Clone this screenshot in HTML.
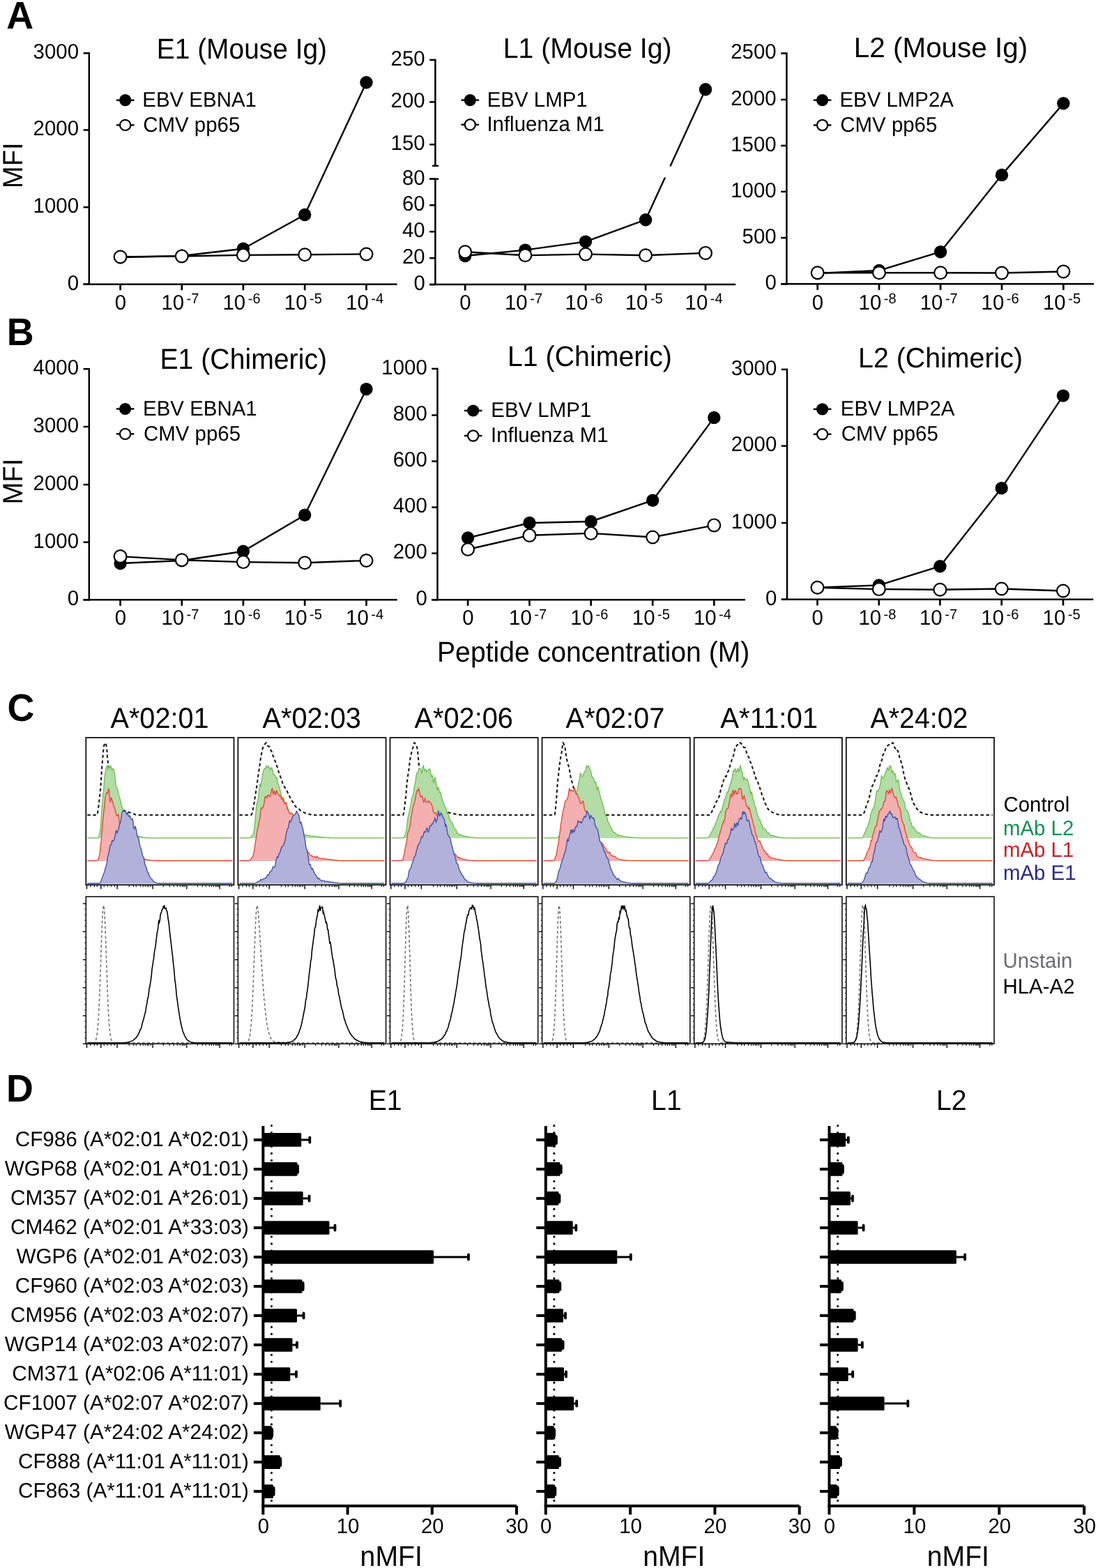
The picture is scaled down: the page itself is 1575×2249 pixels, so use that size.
<!DOCTYPE html>
<html><head><meta charset="utf-8"><title>Figure</title>
<style>html,body{margin:0;padding:0;background:#fff;}svg{display:block;}</style></head>
<body><svg width="1575" height="2249" viewBox="0 0 1575 2249" font-family="'Liberation Sans', Arial, Helvetica, sans-serif" fill="#000" text-rendering="geometricPrecision">
<rect width="1575" height="2249" fill="#fff"/>
<line x1="127.8" y1="75.1" x2="127.8" y2="409" stroke="#000" stroke-width="2.5"/>
<line x1="119.6" y1="76.3" x2="127.8" y2="76.3" stroke="#000" stroke-width="2.5"/>
<text transform="translate(47.6,84.1) scale(0.9750,1)" font-size="30.2">3000</text>
<line x1="119.6" y1="186.5" x2="127.8" y2="186.5" stroke="#000" stroke-width="2.5"/>
<text transform="translate(47.6,194.3) scale(0.9750,1)" font-size="30.2">2000</text>
<line x1="119.6" y1="297.2" x2="127.8" y2="297.2" stroke="#000" stroke-width="2.5"/>
<text transform="translate(47.6,305) scale(0.9750,1)" font-size="30.2">1000</text>
<line x1="119.6" y1="407.7" x2="127.8" y2="407.7" stroke="#000" stroke-width="2.5"/>
<text transform="translate(96.8,415.5) scale(0.9750,1)" font-size="30.2">0</text>
<line x1="119.6" y1="407.7" x2="569.5" y2="407.7" stroke="#000" stroke-width="2.5"/>
<line x1="172.6" y1="407.7" x2="172.6" y2="416.3" stroke="#000" stroke-width="2.7"/>
<text transform="translate(172.9,443.8) scale(0.9750,1)" font-size="30.2" text-anchor="middle">0</text>
<line x1="260.8" y1="407.7" x2="260.8" y2="416.3" stroke="#000" stroke-width="2.7"/>
<text transform="translate(231.4,443.8) scale(0.9750,1)" font-size="30.2">10</text>
<text transform="translate(267.6,435.1) scale(0.9750,1)" font-size="20.6">-7</text>
<line x1="348.9" y1="407.7" x2="348.9" y2="416.3" stroke="#000" stroke-width="2.7"/>
<text transform="translate(319.5,443.8) scale(0.9750,1)" font-size="30.2">10</text>
<text transform="translate(355.7,435.1) scale(0.9750,1)" font-size="20.6">-6</text>
<line x1="437.2" y1="407.7" x2="437.2" y2="416.3" stroke="#000" stroke-width="2.7"/>
<text transform="translate(407.8,443.8) scale(0.9750,1)" font-size="30.2">10</text>
<text transform="translate(444,435.1) scale(0.9750,1)" font-size="20.6">-5</text>
<line x1="525.5" y1="407.7" x2="525.5" y2="416.3" stroke="#000" stroke-width="2.7"/>
<text transform="translate(496.1,443.8) scale(0.9750,1)" font-size="30.2">10</text>
<text transform="translate(532.3,435.1) scale(0.9750,1)" font-size="20.6">-4</text>
<text transform="translate(224.8,83.5) scale(0.9484,1)" font-size="41">E1 (Mouse Ig)</text>
<line x1="166.9" y1="143.7" x2="192.5" y2="143.7" stroke="#000" stroke-width="2.4"/>
<circle cx="179.7" cy="143.7" r="8.6" fill="#000"/>
<line x1="166.9" y1="179.4" x2="192.5" y2="179.4" stroke="#000" stroke-width="2.4"/>
<circle cx="179.7" cy="179.4" r="7.6" fill="#fff" stroke="#000" stroke-width="2.2"/>
<text transform="translate(204.3,153.1) scale(0.9750,1)" font-size="30.2">EBV EBNA1</text>
<text transform="translate(205.2,188.8) scale(0.9750,1)" font-size="30.2">CMV pp65</text>
<polyline points="172.6,369 260.8,367 348.9,356.8 437.2,308 525.5,118.3" fill="none" stroke="#000" stroke-width="2.4" stroke-linejoin="round"/>
<polyline points="172.6,368.5 260.8,367.5 348.9,365.9 437.2,365.3 525.5,364.5" fill="none" stroke="#000" stroke-width="2.4" stroke-linejoin="round"/>
<circle cx="172.6" cy="369" r="9.2" fill="#000"/>
<circle cx="260.8" cy="367" r="9.2" fill="#000"/>
<circle cx="348.9" cy="356.8" r="9.2" fill="#000"/>
<circle cx="437.2" cy="308" r="9.2" fill="#000"/>
<circle cx="525.5" cy="118.3" r="9.2" fill="#000"/>
<circle cx="172.6" cy="368.5" r="8.9" fill="#fff" stroke="#000" stroke-width="2.2"/>
<circle cx="260.8" cy="367.5" r="8.9" fill="#fff" stroke="#000" stroke-width="2.2"/>
<circle cx="348.9" cy="365.9" r="8.9" fill="#fff" stroke="#000" stroke-width="2.2"/>
<circle cx="437.2" cy="365.3" r="8.9" fill="#fff" stroke="#000" stroke-width="2.2"/>
<circle cx="525.5" cy="364.5" r="8.9" fill="#fff" stroke="#000" stroke-width="2.2"/>
<line x1="624.4" y1="84.8" x2="624.4" y2="237.8" stroke="#000" stroke-width="2.5"/>
<line x1="624.4" y1="256.7" x2="624.4" y2="409" stroke="#000" stroke-width="2.5"/>
<line x1="616.2" y1="85.9" x2="624.4" y2="85.9" stroke="#000" stroke-width="2.5"/>
<text transform="translate(560.6,93.7) scale(0.9750,1)" font-size="30.2">250</text>
<line x1="616.2" y1="146.3" x2="624.4" y2="146.3" stroke="#000" stroke-width="2.5"/>
<text transform="translate(560.6,154.1) scale(0.9750,1)" font-size="30.2">200</text>
<line x1="616.2" y1="207.3" x2="624.4" y2="207.3" stroke="#000" stroke-width="2.5"/>
<text transform="translate(560.6,215.1) scale(0.9750,1)" font-size="30.2">150</text>
<line x1="616.2" y1="256.7" x2="624.4" y2="256.7" stroke="#000" stroke-width="2.5"/>
<text transform="translate(577,264.5) scale(0.9750,1)" font-size="30.2">80</text>
<line x1="616.2" y1="294.3" x2="624.4" y2="294.3" stroke="#000" stroke-width="2.5"/>
<text transform="translate(577,302.1) scale(0.9750,1)" font-size="30.2">60</text>
<line x1="616.2" y1="332.3" x2="624.4" y2="332.3" stroke="#000" stroke-width="2.5"/>
<text transform="translate(577,340.1) scale(0.9750,1)" font-size="30.2">40</text>
<line x1="616.2" y1="370.2" x2="624.4" y2="370.2" stroke="#000" stroke-width="2.5"/>
<text transform="translate(577,378) scale(0.9750,1)" font-size="30.2">20</text>
<line x1="616.2" y1="408.1" x2="624.4" y2="408.1" stroke="#000" stroke-width="2.5"/>
<text transform="translate(593.4,415.9) scale(0.9750,1)" font-size="30.2">0</text>
<line x1="620.1" y1="237.8" x2="629.1" y2="237.8" stroke="#000" stroke-width="2.5"/>
<line x1="616.2" y1="256.7" x2="629.1" y2="256.7" stroke="#000" stroke-width="2.5"/>
<line x1="616.2" y1="408.1" x2="1055.2" y2="408.1" stroke="#000" stroke-width="2.5"/>
<line x1="667.2" y1="408.1" x2="667.2" y2="416.7" stroke="#000" stroke-width="2.7"/>
<text transform="translate(667.5,443.8) scale(0.9750,1)" font-size="30.2" text-anchor="middle">0</text>
<line x1="753.4" y1="408.1" x2="753.4" y2="416.7" stroke="#000" stroke-width="2.7"/>
<text transform="translate(724,443.8) scale(0.9750,1)" font-size="30.2">10</text>
<text transform="translate(760.2,435.1) scale(0.9750,1)" font-size="20.6">-7</text>
<line x1="840" y1="408.1" x2="840" y2="416.7" stroke="#000" stroke-width="2.7"/>
<text transform="translate(810.6,443.8) scale(0.9750,1)" font-size="30.2">10</text>
<text transform="translate(846.8,435.1) scale(0.9750,1)" font-size="20.6">-6</text>
<line x1="926.1" y1="408.1" x2="926.1" y2="416.7" stroke="#000" stroke-width="2.7"/>
<text transform="translate(896.7,443.8) scale(0.9750,1)" font-size="30.2">10</text>
<text transform="translate(932.9,435.1) scale(0.9750,1)" font-size="20.6">-5</text>
<line x1="1012" y1="408.1" x2="1012" y2="416.7" stroke="#000" stroke-width="2.7"/>
<text transform="translate(982.6,443.8) scale(0.9750,1)" font-size="30.2">10</text>
<text transform="translate(1018.8,435.1) scale(0.9750,1)" font-size="20.6">-4</text>
<text transform="translate(721.7,83.2) scale(0.9636,1)" font-size="40.7">L1 (Mouse Ig)</text>
<line x1="661.5" y1="143.6" x2="687.1" y2="143.6" stroke="#000" stroke-width="2.4"/>
<circle cx="674.3" cy="143.6" r="8.6" fill="#000"/>
<line x1="661.5" y1="178.8" x2="687.1" y2="178.8" stroke="#000" stroke-width="2.4"/>
<circle cx="674.3" cy="178.8" r="7.6" fill="#fff" stroke="#000" stroke-width="2.2"/>
<text transform="translate(698.7,153) scale(0.9750,1)" font-size="30.2">EBV LMP1</text>
<text transform="translate(698.4,188.2) scale(0.9750,1)" font-size="30.2">Influenza M1</text>
<polyline points="667.2,367 753.4,358.6 840,346.6 926.1,315.2 954,254.5" fill="none" stroke="#000" stroke-width="2.4" stroke-linejoin="round"/>
<polyline points="961.4,238.5 1012,128.3" fill="none" stroke="#000" stroke-width="2.4" stroke-linejoin="round"/>
<polyline points="667.2,361.2 753.4,366.3 840,364.6 926.1,366.3 1012,362.9" fill="none" stroke="#000" stroke-width="2.4" stroke-linejoin="round"/>
<circle cx="667.2" cy="367" r="9.2" fill="#000"/>
<circle cx="753.4" cy="358.6" r="9.2" fill="#000"/>
<circle cx="840" cy="346.6" r="9.2" fill="#000"/>
<circle cx="926.1" cy="315.2" r="9.2" fill="#000"/>
<circle cx="1012" cy="128.3" r="9.2" fill="#000"/>
<circle cx="667.2" cy="361.2" r="8.9" fill="#fff" stroke="#000" stroke-width="2.2"/>
<circle cx="753.4" cy="366.3" r="8.9" fill="#fff" stroke="#000" stroke-width="2.2"/>
<circle cx="840" cy="364.6" r="8.9" fill="#fff" stroke="#000" stroke-width="2.2"/>
<circle cx="926.1" cy="366.3" r="8.9" fill="#fff" stroke="#000" stroke-width="2.2"/>
<circle cx="1012" cy="362.9" r="8.9" fill="#fff" stroke="#000" stroke-width="2.2"/>
<line x1="1128.4" y1="75.3" x2="1128.4" y2="408.4" stroke="#000" stroke-width="2.5"/>
<line x1="1120.2" y1="76.5" x2="1128.4" y2="76.5" stroke="#000" stroke-width="2.5"/>
<text transform="translate(1048.2,84.3) scale(0.9750,1)" font-size="30.2">2500</text>
<line x1="1120.2" y1="142.9" x2="1128.4" y2="142.9" stroke="#000" stroke-width="2.5"/>
<text transform="translate(1048.2,150.7) scale(0.9750,1)" font-size="30.2">2000</text>
<line x1="1120.2" y1="208.9" x2="1128.4" y2="208.9" stroke="#000" stroke-width="2.5"/>
<text transform="translate(1048.2,216.7) scale(0.9750,1)" font-size="30.2">1500</text>
<line x1="1120.2" y1="274.9" x2="1128.4" y2="274.9" stroke="#000" stroke-width="2.5"/>
<text transform="translate(1048.2,282.7) scale(0.9750,1)" font-size="30.2">1000</text>
<line x1="1120.2" y1="341.1" x2="1128.4" y2="341.1" stroke="#000" stroke-width="2.5"/>
<text transform="translate(1064.6,348.9) scale(0.9750,1)" font-size="30.2">500</text>
<line x1="1120.2" y1="407.3" x2="1128.4" y2="407.3" stroke="#000" stroke-width="2.5"/>
<text transform="translate(1097.4,415.1) scale(0.9750,1)" font-size="30.2">0</text>
<line x1="1120.2" y1="407.3" x2="1569" y2="407.3" stroke="#000" stroke-width="2.5"/>
<line x1="1172.7" y1="407.3" x2="1172.7" y2="415.9" stroke="#000" stroke-width="2.7"/>
<text transform="translate(1173,443.8) scale(0.9750,1)" font-size="30.2" text-anchor="middle">0</text>
<line x1="1261" y1="407.3" x2="1261" y2="415.9" stroke="#000" stroke-width="2.7"/>
<text transform="translate(1231.6,443.8) scale(0.9750,1)" font-size="30.2">10</text>
<text transform="translate(1267.8,435.1) scale(0.9750,1)" font-size="20.6">-8</text>
<line x1="1349.1" y1="407.3" x2="1349.1" y2="415.9" stroke="#000" stroke-width="2.7"/>
<text transform="translate(1319.7,443.8) scale(0.9750,1)" font-size="30.2">10</text>
<text transform="translate(1355.9,435.1) scale(0.9750,1)" font-size="20.6">-7</text>
<line x1="1437" y1="407.3" x2="1437" y2="415.9" stroke="#000" stroke-width="2.7"/>
<text transform="translate(1407.6,443.8) scale(0.9750,1)" font-size="30.2">10</text>
<text transform="translate(1443.8,435.1) scale(0.9750,1)" font-size="20.6">-6</text>
<line x1="1525.4" y1="407.3" x2="1525.4" y2="415.9" stroke="#000" stroke-width="2.7"/>
<text transform="translate(1496,443.8) scale(0.9750,1)" font-size="30.2">10</text>
<text transform="translate(1532.2,435.1) scale(0.9750,1)" font-size="20.6">-5</text>
<text transform="translate(1224.8,81.9) scale(1.0008,1)" font-size="40.4">L2 (Mouse Ig)</text>
<line x1="1166.8" y1="143.6" x2="1192.4" y2="143.6" stroke="#000" stroke-width="2.4"/>
<circle cx="1179.6" cy="143.6" r="8.6" fill="#000"/>
<line x1="1166.8" y1="179.5" x2="1192.4" y2="179.5" stroke="#000" stroke-width="2.4"/>
<circle cx="1179.6" cy="179.5" r="7.6" fill="#fff" stroke="#000" stroke-width="2.2"/>
<text transform="translate(1204.4,153) scale(0.9750,1)" font-size="30.2">EBV LMP2A</text>
<text transform="translate(1205.3,188.9) scale(0.9750,1)" font-size="30.2">CMV pp65</text>
<polyline points="1172.7,392 1261,388 1349.1,361.2 1437,250.9 1525.4,148.3" fill="none" stroke="#000" stroke-width="2.4" stroke-linejoin="round"/>
<polyline points="1172.7,391.2 1261,391.2 1349.1,391.2 1437,391.5 1525.4,389.5" fill="none" stroke="#000" stroke-width="2.4" stroke-linejoin="round"/>
<circle cx="1172.7" cy="392" r="9.2" fill="#000"/>
<circle cx="1261" cy="388" r="9.2" fill="#000"/>
<circle cx="1349.1" cy="361.2" r="9.2" fill="#000"/>
<circle cx="1437" cy="250.9" r="9.2" fill="#000"/>
<circle cx="1525.4" cy="148.3" r="9.2" fill="#000"/>
<circle cx="1172.7" cy="391.2" r="8.9" fill="#fff" stroke="#000" stroke-width="2.2"/>
<circle cx="1261" cy="391.2" r="8.9" fill="#fff" stroke="#000" stroke-width="2.2"/>
<circle cx="1349.1" cy="391.2" r="8.9" fill="#fff" stroke="#000" stroke-width="2.2"/>
<circle cx="1437" cy="391.5" r="8.9" fill="#fff" stroke="#000" stroke-width="2.2"/>
<circle cx="1525.4" cy="389.5" r="8.9" fill="#fff" stroke="#000" stroke-width="2.2"/>
<line x1="127.8" y1="528" x2="127.8" y2="861.4" stroke="#000" stroke-width="2.5"/>
<line x1="119.6" y1="529.2" x2="127.8" y2="529.2" stroke="#000" stroke-width="2.5"/>
<text transform="translate(47.6,537) scale(0.9750,1)" font-size="30.2">4000</text>
<line x1="119.6" y1="612" x2="127.8" y2="612" stroke="#000" stroke-width="2.5"/>
<text transform="translate(47.6,619.8) scale(0.9750,1)" font-size="30.2">3000</text>
<line x1="119.6" y1="695.1" x2="127.8" y2="695.1" stroke="#000" stroke-width="2.5"/>
<text transform="translate(47.6,702.9) scale(0.9750,1)" font-size="30.2">2000</text>
<line x1="119.6" y1="777.7" x2="127.8" y2="777.7" stroke="#000" stroke-width="2.5"/>
<text transform="translate(47.6,785.5) scale(0.9750,1)" font-size="30.2">1000</text>
<line x1="119.6" y1="860.3" x2="127.8" y2="860.3" stroke="#000" stroke-width="2.5"/>
<text transform="translate(96.8,868.1) scale(0.9750,1)" font-size="30.2">0</text>
<line x1="119.6" y1="860.3" x2="569.7" y2="860.3" stroke="#000" stroke-width="2.5"/>
<line x1="172.6" y1="860.3" x2="172.6" y2="868.9" stroke="#000" stroke-width="2.7"/>
<text transform="translate(172.9,896.2) scale(0.9750,1)" font-size="30.2" text-anchor="middle">0</text>
<line x1="260.8" y1="860.3" x2="260.8" y2="868.9" stroke="#000" stroke-width="2.7"/>
<text transform="translate(231.4,896.2) scale(0.9750,1)" font-size="30.2">10</text>
<text transform="translate(267.6,887.5) scale(0.9750,1)" font-size="20.6">-7</text>
<line x1="348.9" y1="860.3" x2="348.9" y2="868.9" stroke="#000" stroke-width="2.7"/>
<text transform="translate(319.5,896.2) scale(0.9750,1)" font-size="30.2">10</text>
<text transform="translate(355.7,887.5) scale(0.9750,1)" font-size="20.6">-6</text>
<line x1="437.2" y1="860.3" x2="437.2" y2="868.9" stroke="#000" stroke-width="2.7"/>
<text transform="translate(407.8,896.2) scale(0.9750,1)" font-size="30.2">10</text>
<text transform="translate(444,887.5) scale(0.9750,1)" font-size="20.6">-5</text>
<line x1="525.5" y1="860.3" x2="525.5" y2="868.9" stroke="#000" stroke-width="2.7"/>
<text transform="translate(496.1,896.2) scale(0.9750,1)" font-size="30.2">10</text>
<text transform="translate(532.3,887.5) scale(0.9750,1)" font-size="20.6">-4</text>
<text transform="translate(229.4,528.5) scale(0.9495,1)" font-size="41.3">E1 (Chimeric)</text>
<line x1="166.8" y1="586.5" x2="192.4" y2="586.5" stroke="#000" stroke-width="2.4"/>
<circle cx="179.6" cy="586.5" r="8.6" fill="#000"/>
<line x1="166.8" y1="622.4" x2="192.4" y2="622.4" stroke="#000" stroke-width="2.4"/>
<circle cx="179.6" cy="622.4" r="7.6" fill="#fff" stroke="#000" stroke-width="2.2"/>
<text transform="translate(205.1,595.9) scale(0.9750,1)" font-size="30.2">EBV EBNA1</text>
<text transform="translate(206,631.8) scale(0.9750,1)" font-size="30.2">CMV pp65</text>
<polyline points="172.6,808 260.8,804 348.9,790.7 437.2,738.7 525.5,558.1" fill="none" stroke="#000" stroke-width="2.4" stroke-linejoin="round"/>
<polyline points="172.6,798.1 260.8,803.2 348.9,806.1 437.2,807.2 525.5,804" fill="none" stroke="#000" stroke-width="2.4" stroke-linejoin="round"/>
<circle cx="172.6" cy="808" r="9.2" fill="#000"/>
<circle cx="260.8" cy="804" r="9.2" fill="#000"/>
<circle cx="348.9" cy="790.7" r="9.2" fill="#000"/>
<circle cx="437.2" cy="738.7" r="9.2" fill="#000"/>
<circle cx="525.5" cy="558.1" r="9.2" fill="#000"/>
<circle cx="172.6" cy="798.1" r="8.9" fill="#fff" stroke="#000" stroke-width="2.2"/>
<circle cx="260.8" cy="803.2" r="8.9" fill="#fff" stroke="#000" stroke-width="2.2"/>
<circle cx="348.9" cy="806.1" r="8.9" fill="#fff" stroke="#000" stroke-width="2.2"/>
<circle cx="437.2" cy="807.2" r="8.9" fill="#fff" stroke="#000" stroke-width="2.2"/>
<circle cx="525.5" cy="804" r="8.9" fill="#fff" stroke="#000" stroke-width="2.2"/>
<line x1="627.5" y1="527.7" x2="627.5" y2="861.3" stroke="#000" stroke-width="2.5"/>
<line x1="619.3" y1="528.9" x2="627.5" y2="528.9" stroke="#000" stroke-width="2.5"/>
<text transform="translate(547.3,536.7) scale(0.9750,1)" font-size="30.2">1000</text>
<line x1="619.3" y1="595.5" x2="627.5" y2="595.5" stroke="#000" stroke-width="2.5"/>
<text transform="translate(563.7,603.3) scale(0.9750,1)" font-size="30.2">800</text>
<line x1="619.3" y1="661.6" x2="627.5" y2="661.6" stroke="#000" stroke-width="2.5"/>
<text transform="translate(563.7,669.4) scale(0.9750,1)" font-size="30.2">600</text>
<line x1="619.3" y1="727.6" x2="627.5" y2="727.6" stroke="#000" stroke-width="2.5"/>
<text transform="translate(563.7,735.4) scale(0.9750,1)" font-size="30.2">400</text>
<line x1="619.3" y1="793.6" x2="627.5" y2="793.6" stroke="#000" stroke-width="2.5"/>
<text transform="translate(563.7,801.4) scale(0.9750,1)" font-size="30.2">200</text>
<line x1="619.3" y1="860.3" x2="627.5" y2="860.3" stroke="#000" stroke-width="2.5"/>
<text transform="translate(596.5,868.1) scale(0.9750,1)" font-size="30.2">0</text>
<line x1="619.3" y1="860.3" x2="1068.9" y2="860.3" stroke="#000" stroke-width="2.5"/>
<line x1="671.1" y1="860.3" x2="671.1" y2="868.9" stroke="#000" stroke-width="2.7"/>
<text transform="translate(671.4,896.2) scale(0.9750,1)" font-size="30.2" text-anchor="middle">0</text>
<line x1="759.5" y1="860.3" x2="759.5" y2="868.9" stroke="#000" stroke-width="2.7"/>
<text transform="translate(730.1,896.2) scale(0.9750,1)" font-size="30.2">10</text>
<text transform="translate(766.3,887.5) scale(0.9750,1)" font-size="20.6">-7</text>
<line x1="847.7" y1="860.3" x2="847.7" y2="868.9" stroke="#000" stroke-width="2.7"/>
<text transform="translate(818.3,896.2) scale(0.9750,1)" font-size="30.2">10</text>
<text transform="translate(854.5,887.5) scale(0.9750,1)" font-size="20.6">-6</text>
<line x1="936.2" y1="860.3" x2="936.2" y2="868.9" stroke="#000" stroke-width="2.7"/>
<text transform="translate(906.8,896.2) scale(0.9750,1)" font-size="30.2">10</text>
<text transform="translate(943,887.5) scale(0.9750,1)" font-size="20.6">-5</text>
<line x1="1024.3" y1="860.3" x2="1024.3" y2="868.9" stroke="#000" stroke-width="2.7"/>
<text transform="translate(994.9,896.2) scale(0.9750,1)" font-size="30.2">10</text>
<text transform="translate(1031.1,887.5) scale(0.9750,1)" font-size="20.6">-4</text>
<text transform="translate(727.9,524.7) scale(0.9592,1)" font-size="41">L1 (Chimeric)</text>
<line x1="665.9" y1="589" x2="691.5" y2="589" stroke="#000" stroke-width="2.4"/>
<circle cx="678.7" cy="589" r="8.6" fill="#000"/>
<line x1="665.9" y1="625" x2="691.5" y2="625" stroke="#000" stroke-width="2.4"/>
<circle cx="678.7" cy="625" r="7.6" fill="#fff" stroke="#000" stroke-width="2.2"/>
<text transform="translate(704.3,598.4) scale(0.9750,1)" font-size="30.2">EBV LMP1</text>
<text transform="translate(704,634.4) scale(0.9750,1)" font-size="30.2">Influenza M1</text>
<polyline points="671.1,771.5 759.5,750 847.7,748 936.2,717.7 1024.3,598.9" fill="none" stroke="#000" stroke-width="2.4" stroke-linejoin="round"/>
<polyline points="671.1,788 759.5,767.9 847.7,764.9 936.2,770.5 1024.3,753.4" fill="none" stroke="#000" stroke-width="2.4" stroke-linejoin="round"/>
<circle cx="671.1" cy="771.5" r="9.2" fill="#000"/>
<circle cx="759.5" cy="750" r="9.2" fill="#000"/>
<circle cx="847.7" cy="748" r="9.2" fill="#000"/>
<circle cx="936.2" cy="717.7" r="9.2" fill="#000"/>
<circle cx="1024.3" cy="598.9" r="9.2" fill="#000"/>
<circle cx="671.1" cy="788" r="8.9" fill="#fff" stroke="#000" stroke-width="2.2"/>
<circle cx="759.5" cy="767.9" r="8.9" fill="#fff" stroke="#000" stroke-width="2.2"/>
<circle cx="847.7" cy="764.9" r="8.9" fill="#fff" stroke="#000" stroke-width="2.2"/>
<circle cx="936.2" cy="770.5" r="8.9" fill="#fff" stroke="#000" stroke-width="2.2"/>
<circle cx="1024.3" cy="753.4" r="8.9" fill="#fff" stroke="#000" stroke-width="2.2"/>
<line x1="1129" y1="528.7" x2="1129" y2="860.8" stroke="#000" stroke-width="2.5"/>
<line x1="1120.8" y1="529.9" x2="1129" y2="529.9" stroke="#000" stroke-width="2.5"/>
<text transform="translate(1048.8,537.7) scale(0.9750,1)" font-size="30.2">3000</text>
<line x1="1120.8" y1="639.6" x2="1129" y2="639.6" stroke="#000" stroke-width="2.5"/>
<text transform="translate(1048.8,647.4) scale(0.9750,1)" font-size="30.2">2000</text>
<line x1="1120.8" y1="750" x2="1129" y2="750" stroke="#000" stroke-width="2.5"/>
<text transform="translate(1048.8,757.8) scale(0.9750,1)" font-size="30.2">1000</text>
<line x1="1120.8" y1="859.8" x2="1129" y2="859.8" stroke="#000" stroke-width="2.5"/>
<text transform="translate(1098,867.6) scale(0.9750,1)" font-size="30.2">0</text>
<line x1="1120.8" y1="859.8" x2="1568.2" y2="859.8" stroke="#000" stroke-width="2.5"/>
<line x1="1172.5" y1="859.8" x2="1172.5" y2="868.4" stroke="#000" stroke-width="2.7"/>
<text transform="translate(1172.8,896.2) scale(0.9750,1)" font-size="30.2" text-anchor="middle">0</text>
<line x1="1260.8" y1="859.8" x2="1260.8" y2="868.4" stroke="#000" stroke-width="2.7"/>
<text transform="translate(1231.4,896.2) scale(0.9750,1)" font-size="30.2">10</text>
<text transform="translate(1267.6,887.5) scale(0.9750,1)" font-size="20.6">-8</text>
<line x1="1348.4" y1="859.8" x2="1348.4" y2="868.4" stroke="#000" stroke-width="2.7"/>
<text transform="translate(1319,896.2) scale(0.9750,1)" font-size="30.2">10</text>
<text transform="translate(1355.2,887.5) scale(0.9750,1)" font-size="20.6">-7</text>
<line x1="1436.7" y1="859.8" x2="1436.7" y2="868.4" stroke="#000" stroke-width="2.7"/>
<text transform="translate(1407.3,896.2) scale(0.9750,1)" font-size="30.2">10</text>
<text transform="translate(1443.5,887.5) scale(0.9750,1)" font-size="20.6">-6</text>
<line x1="1525" y1="859.8" x2="1525" y2="868.4" stroke="#000" stroke-width="2.7"/>
<text transform="translate(1495.6,896.2) scale(0.9750,1)" font-size="30.2">10</text>
<text transform="translate(1531.8,887.5) scale(0.9750,1)" font-size="20.6">-5</text>
<text transform="translate(1231.1,526.8) scale(0.9754,1)" font-size="40.3">L2 (Chimeric)</text>
<line x1="1166.8" y1="586.8" x2="1192.4" y2="586.8" stroke="#000" stroke-width="2.4"/>
<circle cx="1179.6" cy="586.8" r="8.6" fill="#000"/>
<line x1="1166.8" y1="622.8" x2="1192.4" y2="622.8" stroke="#000" stroke-width="2.4"/>
<circle cx="1179.6" cy="622.8" r="7.6" fill="#fff" stroke="#000" stroke-width="2.2"/>
<text transform="translate(1205.8,596.2) scale(0.9750,1)" font-size="30.2">EBV LMP2A</text>
<text transform="translate(1206.7,632.2) scale(0.9750,1)" font-size="30.2">CMV pp65</text>
<polyline points="1172.5,842.8 1260.8,839.4 1348.4,812.2 1436.7,700.1 1525,567.6" fill="none" stroke="#000" stroke-width="2.4" stroke-linejoin="round"/>
<polyline points="1172.5,842.8 1260.8,845.1 1348.4,845.8 1436.7,844.5 1525,847.5" fill="none" stroke="#000" stroke-width="2.4" stroke-linejoin="round"/>
<circle cx="1172.5" cy="842.8" r="9.2" fill="#000"/>
<circle cx="1260.8" cy="839.4" r="9.2" fill="#000"/>
<circle cx="1348.4" cy="812.2" r="9.2" fill="#000"/>
<circle cx="1436.7" cy="700.1" r="9.2" fill="#000"/>
<circle cx="1525" cy="567.6" r="9.2" fill="#000"/>
<circle cx="1172.5" cy="842.8" r="8.9" fill="#fff" stroke="#000" stroke-width="2.2"/>
<circle cx="1260.8" cy="845.1" r="8.9" fill="#fff" stroke="#000" stroke-width="2.2"/>
<circle cx="1348.4" cy="845.8" r="8.9" fill="#fff" stroke="#000" stroke-width="2.2"/>
<circle cx="1436.7" cy="844.5" r="8.9" fill="#fff" stroke="#000" stroke-width="2.2"/>
<circle cx="1525" cy="847.5" r="8.9" fill="#fff" stroke="#000" stroke-width="2.2"/>
<text transform="translate(9.3,41.1) scale(0.9750,1)" font-size="55.2" font-weight="bold">A</text>
<text transform="translate(9.8,495.4) scale(0.9750,1)" font-size="55.2" font-weight="bold">B</text>
<text transform="translate(10.4,1034.4) scale(0.9750,1)" font-size="55.2" font-weight="bold">C</text>
<text transform="translate(9.1,1580.4) scale(0.9750,1)" font-size="55.2" font-weight="bold">D</text>
<text transform="translate(31.5,237.3) rotate(-90) scale(0.9550,1)" font-size="40" text-anchor="middle">MFI</text>
<text transform="translate(31.5,690.6) rotate(-90) scale(0.9550,1)" font-size="40" text-anchor="middle">MFI</text>
<text transform="translate(627,948.6) scale(0.9550,1)" font-size="41">Peptide concentration (M)</text>
<path d="M125.3,1169 L126.1,1169 L126.9,1169 L127.7,1169 L128.5,1169 L129.3,1169 L130.1,1169 L130.9,1169 L131.7,1169 L132.5,1169 L133.3,1169 L134.1,1169 L134.9,1169 L135.7,1169 L136.5,1169 L137.3,1169 L138.1,1169 L138.9,1169 L139.7,1167.5 L140.5,1163 L141.3,1157 L142.1,1150.6 L142.9,1143.8 L143.7,1136.3 L144.5,1127.1 L145.3,1115.3 L146.1,1102.4 L146.9,1092.5 L147.7,1082.7 L148.5,1073 L149.3,1068.9 L150.1,1067.1 L150.9,1065.3 L151.7,1066.6 L152.5,1069.6 L153.3,1075.5 L154.1,1087.3 L154.9,1093.8 L155.7,1099.9 L156.5,1107.6 L157.3,1114 L158.1,1120.7 L158.9,1128 L159.7,1134.4 L160.5,1139.4 L161.3,1143 L162.1,1145.8 L162.9,1148.9 L163.7,1151.7 L164.5,1153.8 L165.3,1155.7 L166.1,1157 L166.9,1157.5 L167.7,1158.2 L168.5,1159.2 L169.3,1159.9 L170.1,1160.6 L170.9,1161.2 L171.7,1161 L172.5,1161.2 L173.3,1161.8 L174.1,1162 L174.9,1162 L175.7,1162.2 L176.5,1162.7 L177.3,1162.8 L178.1,1162.3 L178.9,1162.6 L179.7,1163.4 L180.5,1163.6 L181.3,1163.6 L182.1,1163.7 L182.9,1164 L183.7,1164.5 L184.5,1164.9 L185.3,1165 L186.1,1165.4 L186.9,1165.7 L187.7,1166 L188.5,1166.3 L189.3,1166.6 L190.1,1166.8 L190.9,1167.1 L191.7,1167.4 L192.5,1167.8 L193.3,1168.1 L194.1,1168.4 L194.9,1168.7 L195.7,1168.9 L196.5,1169 L197.3,1169 L198.1,1169 L198.9,1169 L199.7,1169 L200.5,1169 L201.3,1169 L202.1,1169 L202.9,1169 L203.7,1169 L204.5,1169 L205.3,1169 L206.1,1169 L206.9,1169 L207.7,1169 L208.5,1169 L209.3,1169 L210.1,1169 L210.9,1169 L211.7,1169 L212.5,1169 L213.3,1169 L214.1,1169 L214.9,1169 L215.7,1169 L216.5,1169 L217.3,1169 L218.1,1169 L218.9,1169 L219.7,1169 L220.5,1169 L221.3,1169 L222.1,1169 L222.9,1169 L223.7,1169 L224.5,1169 L225.3,1169 L226.1,1169 L226.9,1169 L227.7,1169 L228.5,1169 L229.3,1169 L230.1,1169 L230.9,1169 L231.7,1169 L232.5,1169 L233.3,1169 L234.1,1169 L234.9,1169 L235.7,1169 L236.5,1169 L237.3,1169 L238.1,1169 L238.9,1169 L239.7,1169 L240.5,1169 L241.3,1169 L242.1,1169 L242.9,1169 L243.7,1169 L244.5,1169 L245.3,1169 L246.1,1169 L246.9,1169 L247.7,1169 L248.5,1169 L249.3,1169 L250.1,1169 L250.9,1169 L251.7,1169 L252.5,1169 L253.3,1169 L254.1,1169 L254.9,1169 L255.7,1169 L256.5,1169 L257.3,1169 L258.1,1169 L258.9,1169 L259.7,1169 L260.5,1169 L261.3,1169 L262.1,1169 L262.9,1169 L263.7,1169 L264.5,1169 L265.3,1169 L266.1,1169 L266.9,1169 L267.7,1169 L268.5,1169 L269.3,1169 L270.1,1169 L270.9,1169 L271.7,1169 L272.5,1169 L273.3,1169 L274.1,1169 L274.9,1169 L275.7,1169 L276.5,1169 L277.3,1169 L278.1,1169 L278.9,1169 L279.7,1169 L280.5,1169 L281.3,1169 L282.1,1169 L282.9,1169 L283.7,1169 L284.5,1169 L285.3,1169 L286.1,1169 L286.9,1169 L287.7,1169 L288.5,1169 L289.3,1169 L290.1,1169 L290.9,1169 L291.7,1169 L292.5,1169 L293.3,1169 L294.1,1169 L294.9,1169 L295.7,1169 L296.5,1169 L297.3,1169 L298.1,1169 L298.9,1169 L299.7,1169 L300.5,1169 L301.3,1169 L302.1,1169 L302.9,1169 L303.7,1169 L304.5,1169 L305.3,1169 L306.1,1169 L306.9,1169 L307.7,1169 L308.5,1169 L309.3,1169 L310.1,1169 L310.9,1169 L311.7,1169 L312.5,1169 L313.3,1169 L314.1,1169 L314.9,1169 L315.7,1169 L316.5,1169 L317.3,1169 L318.1,1169 L318.9,1169 L319.7,1169 L320.5,1169 L321.3,1169 L322.1,1169 L322.9,1169 L323.7,1169 L324.5,1169 L325.3,1169 L326.1,1169 L326.9,1169 L327.7,1169 L328.5,1169 L329.3,1169 L330.1,1169 L330.9,1169 L331.7,1169 L332.5,1169 L333.3,1169" fill="none" stroke="#1a1a1a" stroke-width="2.1" stroke-dasharray="4.5,3.5"/>
<path d="M125.3,1201.8 L126.1,1201.8 L126.9,1201.8 L127.7,1201.8 L128.5,1201.8 L129.3,1201.8 L130.1,1201.8 L130.9,1201.8 L131.7,1201.8 L132.5,1201.8 L133.3,1201.8 L134.1,1201.8 L134.9,1201.8 L135.7,1201.8 L136.5,1201.8 L137.3,1201.8 L138.1,1201.8 L138.9,1201.8 L139.7,1201.8 L140.5,1201.5 L141.3,1200.3 L142.1,1198.3 L142.9,1195.6 L143.7,1191.7 L144.5,1184.1 L145.3,1170.6 L146.1,1159.1 L146.9,1150.3 L147.7,1141.4 L148.5,1134.9 L149.3,1125 L150.1,1114.9 L150.9,1109.2 L151.7,1103.7 L152.5,1100.6 L153.3,1098.8 L154.1,1100.2 L154.9,1103.3 L155.7,1100.5 L156.5,1098.3 L157.3,1100.9 L158.1,1101.2 L158.9,1098.9 L159.7,1100.9 L160.5,1104.5 L161.3,1103.3 L162.1,1102.5 L162.9,1104.8 L163.7,1105.5 L164.5,1108.5 L165.3,1117.1 L166.1,1125.5 L166.9,1129.6 L167.7,1130.2 L168.5,1131.6 L169.3,1135.1 L170.1,1138.9 L170.9,1142.1 L171.7,1144.4 L172.5,1147 L173.3,1150.4 L174.1,1154.5 L174.9,1157.5 L175.7,1159.2 L176.5,1162 L177.3,1163.6 L178.1,1164.1 L178.9,1164.4 L179.7,1164.7 L180.5,1168.7 L181.3,1173.3 L182.1,1174.9 L182.9,1177.2 L183.7,1179.6 L184.5,1181.2 L185.3,1185.2 L186.1,1188.2 L186.9,1188 L187.7,1188.2 L188.5,1189.4 L189.3,1191.7 L190.1,1192.9 L190.9,1193.1 L191.7,1194.4 L192.5,1195 L193.3,1195.1 L194.1,1196.4 L194.9,1197.4 L195.7,1198 L196.5,1198.5 L197.3,1198.8 L198.1,1199.1 L198.9,1199.4 L199.7,1199.7 L200.5,1199.9 L201.3,1200.1 L202.1,1200.3 L202.9,1200.5 L203.7,1200.6 L204.5,1200.8 L205.3,1200.9 L206.1,1201.1 L206.9,1201.2 L207.7,1201.3 L208.5,1201.4 L209.3,1201.5 L210.1,1201.6 L210.9,1201.7 L211.7,1201.8 L212.5,1201.8 L213.3,1201.8 L214.1,1201.8 L214.9,1201.8 L215.7,1201.8 L216.5,1201.8 L217.3,1201.8 L218.1,1201.8 L218.9,1201.8 L219.7,1201.8 L220.5,1201.8 L221.3,1201.8 L222.1,1201.8 L222.9,1201.8 L223.7,1201.8 L224.5,1201.8 L225.3,1201.8 L226.1,1201.8 L226.9,1201.8 L227.7,1201.8 L228.5,1201.8 L229.3,1201.8 L230.1,1201.8 L230.9,1201.8 L231.7,1201.8 L232.5,1201.8 L233.3,1201.8 L234.1,1201.8 L234.9,1201.8 L235.7,1201.8 L236.5,1201.8 L237.3,1201.8 L238.1,1201.8 L238.9,1201.8 L239.7,1201.8 L240.5,1201.8 L241.3,1201.8 L242.1,1201.8 L242.9,1201.8 L243.7,1201.8 L244.5,1201.8 L245.3,1201.8 L246.1,1201.8 L246.9,1201.8 L247.7,1201.8 L248.5,1201.8 L249.3,1201.8 L250.1,1201.8 L250.9,1201.8 L251.7,1201.8 L252.5,1201.8 L253.3,1201.8 L254.1,1201.8 L254.9,1201.8 L255.7,1201.8 L256.5,1201.8 L257.3,1201.8 L258.1,1201.8 L258.9,1201.8 L259.7,1201.8 L260.5,1201.8 L261.3,1201.8 L262.1,1201.8 L262.9,1201.8 L263.7,1201.8 L264.5,1201.8 L265.3,1201.8 L266.1,1201.8 L266.9,1201.8 L267.7,1201.8 L268.5,1201.8 L269.3,1201.8 L270.1,1201.8 L270.9,1201.8 L271.7,1201.8 L272.5,1201.8 L273.3,1201.8 L274.1,1201.8 L274.9,1201.8 L275.7,1201.8 L276.5,1201.8 L277.3,1201.8 L278.1,1201.8 L278.9,1201.8 L279.7,1201.8 L280.5,1201.8 L281.3,1201.8 L282.1,1201.8 L282.9,1201.8 L283.7,1201.8 L284.5,1201.8 L285.3,1201.8 L286.1,1201.8 L286.9,1201.8 L287.7,1201.8 L288.5,1201.8 L289.3,1201.8 L290.1,1201.8 L290.9,1201.8 L291.7,1201.8 L292.5,1201.8 L293.3,1201.8 L294.1,1201.8 L294.9,1201.8 L295.7,1201.8 L296.5,1201.8 L297.3,1201.8 L298.1,1201.8 L298.9,1201.8 L299.7,1201.8 L300.5,1201.8 L301.3,1201.8 L302.1,1201.8 L302.9,1201.8 L303.7,1201.8 L304.5,1201.8 L305.3,1201.8 L306.1,1201.8 L306.9,1201.8 L307.7,1201.8 L308.5,1201.8 L309.3,1201.8 L310.1,1201.8 L310.9,1201.8 L311.7,1201.8 L312.5,1201.8 L313.3,1201.8 L314.1,1201.8 L314.9,1201.8 L315.7,1201.8 L316.5,1201.8 L317.3,1201.8 L318.1,1201.8 L318.9,1201.8 L319.7,1201.8 L320.5,1201.8 L321.3,1201.8 L322.1,1201.8 L322.9,1201.8 L323.7,1201.8 L324.5,1201.8 L325.3,1201.8 L326.1,1201.8 L326.9,1201.8 L327.7,1201.8 L328.5,1201.8 L329.3,1201.8 L330.1,1201.8 L330.9,1201.8 L331.7,1201.8 L332.5,1201.8 L333.3,1201.8 L333.3,1202.3 L125.3,1202.3 Z" fill="#b4dca6" stroke="none"/>
<path d="M125.3,1201.8 L126.1,1201.8 L126.9,1201.8 L127.7,1201.8 L128.5,1201.8 L129.3,1201.8 L130.1,1201.8 L130.9,1201.8 L131.7,1201.8 L132.5,1201.8 L133.3,1201.8 L134.1,1201.8 L134.9,1201.8 L135.7,1201.8 L136.5,1201.8 L137.3,1201.8 L138.1,1201.8 L138.9,1201.8 L139.7,1201.8 L140.5,1201.5 L141.3,1200.3 L142.1,1198.3 L142.9,1195.6 L143.7,1191.7 L144.5,1184.1 L145.3,1170.6 L146.1,1159.1 L146.9,1150.3 L147.7,1141.4 L148.5,1134.9 L149.3,1125 L150.1,1114.9 L150.9,1109.2 L151.7,1103.7 L152.5,1100.6 L153.3,1098.8 L154.1,1100.2 L154.9,1103.3 L155.7,1100.5 L156.5,1098.3 L157.3,1100.9 L158.1,1101.2 L158.9,1098.9 L159.7,1100.9 L160.5,1104.5 L161.3,1103.3 L162.1,1102.5 L162.9,1104.8 L163.7,1105.5 L164.5,1108.5 L165.3,1117.1 L166.1,1125.5 L166.9,1129.6 L167.7,1130.2 L168.5,1131.6 L169.3,1135.1 L170.1,1138.9 L170.9,1142.1 L171.7,1144.4 L172.5,1147 L173.3,1150.4 L174.1,1154.5 L174.9,1157.5 L175.7,1159.2 L176.5,1162 L177.3,1163.6 L178.1,1164.1 L178.9,1164.4 L179.7,1164.7 L180.5,1168.7 L181.3,1173.3 L182.1,1174.9 L182.9,1177.2 L183.7,1179.6 L184.5,1181.2 L185.3,1185.2 L186.1,1188.2 L186.9,1188 L187.7,1188.2 L188.5,1189.4 L189.3,1191.7 L190.1,1192.9 L190.9,1193.1 L191.7,1194.4 L192.5,1195 L193.3,1195.1 L194.1,1196.4 L194.9,1197.4 L195.7,1198 L196.5,1198.5 L197.3,1198.8 L198.1,1199.1 L198.9,1199.4 L199.7,1199.7 L200.5,1199.9 L201.3,1200.1 L202.1,1200.3 L202.9,1200.5 L203.7,1200.6 L204.5,1200.8 L205.3,1200.9 L206.1,1201.1 L206.9,1201.2 L207.7,1201.3 L208.5,1201.4 L209.3,1201.5 L210.1,1201.6 L210.9,1201.7 L211.7,1201.8 L212.5,1201.8 L213.3,1201.8 L214.1,1201.8 L214.9,1201.8 L215.7,1201.8 L216.5,1201.8 L217.3,1201.8 L218.1,1201.8 L218.9,1201.8 L219.7,1201.8 L220.5,1201.8 L221.3,1201.8 L222.1,1201.8 L222.9,1201.8 L223.7,1201.8 L224.5,1201.8 L225.3,1201.8 L226.1,1201.8 L226.9,1201.8 L227.7,1201.8 L228.5,1201.8 L229.3,1201.8 L230.1,1201.8 L230.9,1201.8 L231.7,1201.8 L232.5,1201.8 L233.3,1201.8 L234.1,1201.8 L234.9,1201.8 L235.7,1201.8 L236.5,1201.8 L237.3,1201.8 L238.1,1201.8 L238.9,1201.8 L239.7,1201.8 L240.5,1201.8 L241.3,1201.8 L242.1,1201.8 L242.9,1201.8 L243.7,1201.8 L244.5,1201.8 L245.3,1201.8 L246.1,1201.8 L246.9,1201.8 L247.7,1201.8 L248.5,1201.8 L249.3,1201.8 L250.1,1201.8 L250.9,1201.8 L251.7,1201.8 L252.5,1201.8 L253.3,1201.8 L254.1,1201.8 L254.9,1201.8 L255.7,1201.8 L256.5,1201.8 L257.3,1201.8 L258.1,1201.8 L258.9,1201.8 L259.7,1201.8 L260.5,1201.8 L261.3,1201.8 L262.1,1201.8 L262.9,1201.8 L263.7,1201.8 L264.5,1201.8 L265.3,1201.8 L266.1,1201.8 L266.9,1201.8 L267.7,1201.8 L268.5,1201.8 L269.3,1201.8 L270.1,1201.8 L270.9,1201.8 L271.7,1201.8 L272.5,1201.8 L273.3,1201.8 L274.1,1201.8 L274.9,1201.8 L275.7,1201.8 L276.5,1201.8 L277.3,1201.8 L278.1,1201.8 L278.9,1201.8 L279.7,1201.8 L280.5,1201.8 L281.3,1201.8 L282.1,1201.8 L282.9,1201.8 L283.7,1201.8 L284.5,1201.8 L285.3,1201.8 L286.1,1201.8 L286.9,1201.8 L287.7,1201.8 L288.5,1201.8 L289.3,1201.8 L290.1,1201.8 L290.9,1201.8 L291.7,1201.8 L292.5,1201.8 L293.3,1201.8 L294.1,1201.8 L294.9,1201.8 L295.7,1201.8 L296.5,1201.8 L297.3,1201.8 L298.1,1201.8 L298.9,1201.8 L299.7,1201.8 L300.5,1201.8 L301.3,1201.8 L302.1,1201.8 L302.9,1201.8 L303.7,1201.8 L304.5,1201.8 L305.3,1201.8 L306.1,1201.8 L306.9,1201.8 L307.7,1201.8 L308.5,1201.8 L309.3,1201.8 L310.1,1201.8 L310.9,1201.8 L311.7,1201.8 L312.5,1201.8 L313.3,1201.8 L314.1,1201.8 L314.9,1201.8 L315.7,1201.8 L316.5,1201.8 L317.3,1201.8 L318.1,1201.8 L318.9,1201.8 L319.7,1201.8 L320.5,1201.8 L321.3,1201.8 L322.1,1201.8 L322.9,1201.8 L323.7,1201.8 L324.5,1201.8 L325.3,1201.8 L326.1,1201.8 L326.9,1201.8 L327.7,1201.8 L328.5,1201.8 L329.3,1201.8 L330.1,1201.8 L330.9,1201.8 L331.7,1201.8 L332.5,1201.8 L333.3,1201.8" fill="none" stroke="#6cbd50" stroke-width="1.3"/>
<path d="M125.3,1234.5 L126.1,1234.5 L126.9,1234.5 L127.7,1234.5 L128.5,1234.5 L129.3,1234.5 L130.1,1234.5 L130.9,1234.5 L131.7,1234.5 L132.5,1234.5 L133.3,1234.5 L134.1,1234.5 L134.9,1234.5 L135.7,1234.5 L136.5,1234.5 L137.3,1234.5 L138.1,1234.5 L138.9,1234.5 L139.7,1234.2 L140.5,1233.1 L141.3,1231.4 L142.1,1228.8 L142.9,1225 L143.7,1218.4 L144.5,1211.2 L145.3,1204 L146.1,1193.6 L146.9,1183.6 L147.7,1175.6 L148.5,1167.1 L149.3,1160.5 L150.1,1154.3 L150.9,1144.9 L151.7,1139.7 L152.5,1137.9 L153.3,1136.8 L154.1,1138 L154.9,1135.5 L155.7,1131 L156.5,1134.7 L157.3,1145.2 L158.1,1150.6 L158.9,1146.7 L159.7,1143.6 L160.5,1146.8 L161.3,1149.7 L162.1,1152.1 L162.9,1156.1 L163.7,1157.7 L164.5,1158.9 L165.3,1162 L166.1,1165.8 L166.9,1168.5 L167.7,1169.8 L168.5,1170.3 L169.3,1168.3 L170.1,1168.9 L170.9,1176.5 L171.7,1182.1 L172.5,1181.6 L173.3,1180.5 L174.1,1181 L174.9,1184.1 L175.7,1189.2 L176.5,1191.5 L177.3,1192.6 L178.1,1195.5 L178.9,1197.5 L179.7,1199.6 L180.5,1201.5 L181.3,1203.1 L182.1,1205.1 L182.9,1208 L183.7,1211.2 L184.5,1212.8 L185.3,1214 L186.1,1215.1 L186.9,1216.3 L187.7,1218.8 L188.5,1221 L189.3,1222 L190.1,1222.2 L190.9,1222.8 L191.7,1223.7 L192.5,1224 L193.3,1224.8 L194.1,1226.5 L194.9,1227.5 L195.7,1227.3 L196.5,1227.8 L197.3,1228.6 L198.1,1228 L198.9,1227.8 L199.7,1228.7 L200.5,1228.9 L201.3,1228.6 L202.1,1229.5 L202.9,1230.7 L203.7,1231 L204.5,1231.3 L205.3,1231.5 L206.1,1231.8 L206.9,1232 L207.7,1232.3 L208.5,1232.5 L209.3,1232.7 L210.1,1232.9 L210.9,1233.1 L211.7,1233.2 L212.5,1233.4 L213.3,1233.5 L214.1,1233.6 L214.9,1233.7 L215.7,1233.9 L216.5,1234 L217.3,1234.1 L218.1,1234.2 L218.9,1234.3 L219.7,1234.3 L220.5,1234.4 L221.3,1234.4 L222.1,1234.5 L222.9,1234.5 L223.7,1234.5 L224.5,1234.5 L225.3,1234.5 L226.1,1234.5 L226.9,1234.5 L227.7,1234.5 L228.5,1234.5 L229.3,1234.5 L230.1,1234.5 L230.9,1234.5 L231.7,1234.5 L232.5,1234.5 L233.3,1234.5 L234.1,1234.5 L234.9,1234.5 L235.7,1234.5 L236.5,1234.5 L237.3,1234.5 L238.1,1234.5 L238.9,1234.5 L239.7,1234.5 L240.5,1234.5 L241.3,1234.5 L242.1,1234.5 L242.9,1234.5 L243.7,1234.5 L244.5,1234.5 L245.3,1234.5 L246.1,1234.5 L246.9,1234.5 L247.7,1234.5 L248.5,1234.5 L249.3,1234.5 L250.1,1234.5 L250.9,1234.5 L251.7,1234.5 L252.5,1234.5 L253.3,1234.5 L254.1,1234.5 L254.9,1234.5 L255.7,1234.5 L256.5,1234.5 L257.3,1234.5 L258.1,1234.5 L258.9,1234.5 L259.7,1234.5 L260.5,1234.5 L261.3,1234.5 L262.1,1234.5 L262.9,1234.5 L263.7,1234.5 L264.5,1234.5 L265.3,1234.5 L266.1,1234.5 L266.9,1234.5 L267.7,1234.5 L268.5,1234.5 L269.3,1234.5 L270.1,1234.5 L270.9,1234.5 L271.7,1234.5 L272.5,1234.5 L273.3,1234.5 L274.1,1234.5 L274.9,1234.5 L275.7,1234.5 L276.5,1234.5 L277.3,1234.5 L278.1,1234.5 L278.9,1234.5 L279.7,1234.5 L280.5,1234.5 L281.3,1234.5 L282.1,1234.5 L282.9,1234.5 L283.7,1234.5 L284.5,1234.5 L285.3,1234.5 L286.1,1234.5 L286.9,1234.5 L287.7,1234.5 L288.5,1234.5 L289.3,1234.5 L290.1,1234.5 L290.9,1234.5 L291.7,1234.5 L292.5,1234.5 L293.3,1234.5 L294.1,1234.5 L294.9,1234.5 L295.7,1234.5 L296.5,1234.5 L297.3,1234.5 L298.1,1234.5 L298.9,1234.5 L299.7,1234.5 L300.5,1234.5 L301.3,1234.5 L302.1,1234.5 L302.9,1234.5 L303.7,1234.5 L304.5,1234.5 L305.3,1234.5 L306.1,1234.5 L306.9,1234.5 L307.7,1234.5 L308.5,1234.5 L309.3,1234.5 L310.1,1234.5 L310.9,1234.5 L311.7,1234.5 L312.5,1234.5 L313.3,1234.5 L314.1,1234.5 L314.9,1234.5 L315.7,1234.5 L316.5,1234.5 L317.3,1234.5 L318.1,1234.5 L318.9,1234.5 L319.7,1234.5 L320.5,1234.5 L321.3,1234.5 L322.1,1234.5 L322.9,1234.5 L323.7,1234.5 L324.5,1234.5 L325.3,1234.5 L326.1,1234.5 L326.9,1234.5 L327.7,1234.5 L328.5,1234.5 L329.3,1234.5 L330.1,1234.5 L330.9,1234.5 L331.7,1234.5 L332.5,1234.5 L333.3,1234.5 L333.3,1235 L125.3,1235 Z" fill="#f4b0b0" stroke="none"/>
<path d="M125.3,1234.5 L126.1,1234.5 L126.9,1234.5 L127.7,1234.5 L128.5,1234.5 L129.3,1234.5 L130.1,1234.5 L130.9,1234.5 L131.7,1234.5 L132.5,1234.5 L133.3,1234.5 L134.1,1234.5 L134.9,1234.5 L135.7,1234.5 L136.5,1234.5 L137.3,1234.5 L138.1,1234.5 L138.9,1234.5 L139.7,1234.2 L140.5,1233.1 L141.3,1231.4 L142.1,1228.8 L142.9,1225 L143.7,1218.4 L144.5,1211.2 L145.3,1204 L146.1,1193.6 L146.9,1183.6 L147.7,1175.6 L148.5,1167.1 L149.3,1160.5 L150.1,1154.3 L150.9,1144.9 L151.7,1139.7 L152.5,1137.9 L153.3,1136.8 L154.1,1138 L154.9,1135.5 L155.7,1131 L156.5,1134.7 L157.3,1145.2 L158.1,1150.6 L158.9,1146.7 L159.7,1143.6 L160.5,1146.8 L161.3,1149.7 L162.1,1152.1 L162.9,1156.1 L163.7,1157.7 L164.5,1158.9 L165.3,1162 L166.1,1165.8 L166.9,1168.5 L167.7,1169.8 L168.5,1170.3 L169.3,1168.3 L170.1,1168.9 L170.9,1176.5 L171.7,1182.1 L172.5,1181.6 L173.3,1180.5 L174.1,1181 L174.9,1184.1 L175.7,1189.2 L176.5,1191.5 L177.3,1192.6 L178.1,1195.5 L178.9,1197.5 L179.7,1199.6 L180.5,1201.5 L181.3,1203.1 L182.1,1205.1 L182.9,1208 L183.7,1211.2 L184.5,1212.8 L185.3,1214 L186.1,1215.1 L186.9,1216.3 L187.7,1218.8 L188.5,1221 L189.3,1222 L190.1,1222.2 L190.9,1222.8 L191.7,1223.7 L192.5,1224 L193.3,1224.8 L194.1,1226.5 L194.9,1227.5 L195.7,1227.3 L196.5,1227.8 L197.3,1228.6 L198.1,1228 L198.9,1227.8 L199.7,1228.7 L200.5,1228.9 L201.3,1228.6 L202.1,1229.5 L202.9,1230.7 L203.7,1231 L204.5,1231.3 L205.3,1231.5 L206.1,1231.8 L206.9,1232 L207.7,1232.3 L208.5,1232.5 L209.3,1232.7 L210.1,1232.9 L210.9,1233.1 L211.7,1233.2 L212.5,1233.4 L213.3,1233.5 L214.1,1233.6 L214.9,1233.7 L215.7,1233.9 L216.5,1234 L217.3,1234.1 L218.1,1234.2 L218.9,1234.3 L219.7,1234.3 L220.5,1234.4 L221.3,1234.4 L222.1,1234.5 L222.9,1234.5 L223.7,1234.5 L224.5,1234.5 L225.3,1234.5 L226.1,1234.5 L226.9,1234.5 L227.7,1234.5 L228.5,1234.5 L229.3,1234.5 L230.1,1234.5 L230.9,1234.5 L231.7,1234.5 L232.5,1234.5 L233.3,1234.5 L234.1,1234.5 L234.9,1234.5 L235.7,1234.5 L236.5,1234.5 L237.3,1234.5 L238.1,1234.5 L238.9,1234.5 L239.7,1234.5 L240.5,1234.5 L241.3,1234.5 L242.1,1234.5 L242.9,1234.5 L243.7,1234.5 L244.5,1234.5 L245.3,1234.5 L246.1,1234.5 L246.9,1234.5 L247.7,1234.5 L248.5,1234.5 L249.3,1234.5 L250.1,1234.5 L250.9,1234.5 L251.7,1234.5 L252.5,1234.5 L253.3,1234.5 L254.1,1234.5 L254.9,1234.5 L255.7,1234.5 L256.5,1234.5 L257.3,1234.5 L258.1,1234.5 L258.9,1234.5 L259.7,1234.5 L260.5,1234.5 L261.3,1234.5 L262.1,1234.5 L262.9,1234.5 L263.7,1234.5 L264.5,1234.5 L265.3,1234.5 L266.1,1234.5 L266.9,1234.5 L267.7,1234.5 L268.5,1234.5 L269.3,1234.5 L270.1,1234.5 L270.9,1234.5 L271.7,1234.5 L272.5,1234.5 L273.3,1234.5 L274.1,1234.5 L274.9,1234.5 L275.7,1234.5 L276.5,1234.5 L277.3,1234.5 L278.1,1234.5 L278.9,1234.5 L279.7,1234.5 L280.5,1234.5 L281.3,1234.5 L282.1,1234.5 L282.9,1234.5 L283.7,1234.5 L284.5,1234.5 L285.3,1234.5 L286.1,1234.5 L286.9,1234.5 L287.7,1234.5 L288.5,1234.5 L289.3,1234.5 L290.1,1234.5 L290.9,1234.5 L291.7,1234.5 L292.5,1234.5 L293.3,1234.5 L294.1,1234.5 L294.9,1234.5 L295.7,1234.5 L296.5,1234.5 L297.3,1234.5 L298.1,1234.5 L298.9,1234.5 L299.7,1234.5 L300.5,1234.5 L301.3,1234.5 L302.1,1234.5 L302.9,1234.5 L303.7,1234.5 L304.5,1234.5 L305.3,1234.5 L306.1,1234.5 L306.9,1234.5 L307.7,1234.5 L308.5,1234.5 L309.3,1234.5 L310.1,1234.5 L310.9,1234.5 L311.7,1234.5 L312.5,1234.5 L313.3,1234.5 L314.1,1234.5 L314.9,1234.5 L315.7,1234.5 L316.5,1234.5 L317.3,1234.5 L318.1,1234.5 L318.9,1234.5 L319.7,1234.5 L320.5,1234.5 L321.3,1234.5 L322.1,1234.5 L322.9,1234.5 L323.7,1234.5 L324.5,1234.5 L325.3,1234.5 L326.1,1234.5 L326.9,1234.5 L327.7,1234.5 L328.5,1234.5 L329.3,1234.5 L330.1,1234.5 L330.9,1234.5 L331.7,1234.5 L332.5,1234.5 L333.3,1234.5" fill="none" stroke="#e2452e" stroke-width="1.3"/>
<path d="M125.3,1267 L126.1,1267 L126.9,1267 L127.7,1267 L128.5,1267 L129.3,1267 L130.1,1267 L130.9,1267 L131.7,1267 L132.5,1267 L133.3,1267 L134.1,1267 L134.9,1267 L135.7,1267 L136.5,1267 L137.3,1267 L138.1,1267 L138.9,1267 L139.7,1267 L140.5,1267 L141.3,1267 L142.1,1267 L142.9,1267 L143.7,1266.3 L144.5,1265 L145.3,1263.1 L146.1,1260.1 L146.9,1257.9 L147.7,1255.4 L148.5,1253.5 L149.3,1252 L150.1,1249.1 L150.9,1245.9 L151.7,1243.4 L152.5,1241.1 L153.3,1237.7 L154.1,1232.1 L154.9,1227.5 L155.7,1224.9 L156.5,1221.2 L157.3,1216.5 L158.1,1212.4 L158.9,1212.2 L159.7,1211.4 L160.5,1206.6 L161.3,1205.6 L162.1,1206.6 L162.9,1205.9 L163.7,1204.2 L164.5,1201.4 L165.3,1197.3 L166.1,1192 L166.9,1191.3 L167.7,1194.6 L168.5,1193.7 L169.3,1191.1 L170.1,1189.1 L170.9,1184.7 L171.7,1181.5 L172.5,1180.6 L173.3,1177.5 L174.1,1171.4 L174.9,1165.5 L175.7,1163.5 L176.5,1163.6 L177.3,1163.5 L178.1,1163.6 L178.9,1163.8 L179.7,1163.7 L180.5,1164 L181.3,1166.9 L182.1,1168.3 L182.9,1166 L183.7,1166.9 L184.5,1170.8 L185.3,1171.3 L186.1,1169.8 L186.9,1171.4 L187.7,1174.1 L188.5,1175.2 L189.3,1174.9 L190.1,1174.3 L190.9,1178.2 L191.7,1186 L192.5,1189.5 L193.3,1186.7 L194.1,1185.4 L194.9,1188.1 L195.7,1191.6 L196.5,1197 L197.3,1200.7 L198.1,1201.1 L198.9,1202.8 L199.7,1207.3 L200.5,1212.1 L201.3,1214.9 L202.1,1216.7 L202.9,1219.1 L203.7,1223.1 L204.5,1227.1 L205.3,1228.6 L206.1,1229.8 L206.9,1233.7 L207.7,1238.4 L208.5,1241.7 L209.3,1242.8 L210.1,1244.3 L210.9,1248.5 L211.7,1250.9 L212.5,1251.3 L213.3,1253.2 L214.1,1255.8 L214.9,1257.5 L215.7,1258.7 L216.5,1259.9 L217.3,1260.8 L218.1,1261.3 L218.9,1262.9 L219.7,1263.6 L220.5,1264.2 L221.3,1264.7 L222.1,1265.2 L222.9,1265.7 L223.7,1266.1 L224.5,1266.4 L225.3,1266.7 L226.1,1266.8 L226.9,1267 L227.7,1267 L228.5,1267 L229.3,1267 L230.1,1267 L230.9,1267 L231.7,1267 L232.5,1267 L233.3,1267 L234.1,1267 L234.9,1267 L235.7,1267 L236.5,1267 L237.3,1267 L238.1,1267 L238.9,1267 L239.7,1267 L240.5,1267 L241.3,1267 L242.1,1267 L242.9,1267 L243.7,1267 L244.5,1267 L245.3,1267 L246.1,1267 L246.9,1267 L247.7,1267 L248.5,1267 L249.3,1267 L250.1,1267 L250.9,1267 L251.7,1267 L252.5,1267 L253.3,1267 L254.1,1267 L254.9,1267 L255.7,1267 L256.5,1267 L257.3,1267 L258.1,1267 L258.9,1267 L259.7,1267 L260.5,1267 L261.3,1267 L262.1,1267 L262.9,1267 L263.7,1267 L264.5,1267 L265.3,1267 L266.1,1267 L266.9,1267 L267.7,1267 L268.5,1267 L269.3,1267 L270.1,1267 L270.9,1267 L271.7,1267 L272.5,1267 L273.3,1267 L274.1,1267 L274.9,1267 L275.7,1267 L276.5,1267 L277.3,1267 L278.1,1267 L278.9,1267 L279.7,1267 L280.5,1267 L281.3,1267 L282.1,1267 L282.9,1267 L283.7,1267 L284.5,1267 L285.3,1267 L286.1,1267 L286.9,1267 L287.7,1267 L288.5,1267 L289.3,1267 L290.1,1267 L290.9,1267 L291.7,1267 L292.5,1267 L293.3,1267 L294.1,1267 L294.9,1267 L295.7,1267 L296.5,1267 L297.3,1267 L298.1,1267 L298.9,1267 L299.7,1267 L300.5,1267 L301.3,1267 L302.1,1267 L302.9,1267 L303.7,1267 L304.5,1267 L305.3,1267 L306.1,1267 L306.9,1267 L307.7,1267 L308.5,1267 L309.3,1267 L310.1,1267 L310.9,1267 L311.7,1267 L312.5,1267 L313.3,1267 L314.1,1267 L314.9,1267 L315.7,1267 L316.5,1267 L317.3,1267 L318.1,1267 L318.9,1267 L319.7,1267 L320.5,1267 L321.3,1267 L322.1,1267 L322.9,1267 L323.7,1267 L324.5,1267 L325.3,1267 L326.1,1267 L326.9,1267 L327.7,1267 L328.5,1267 L329.3,1267 L330.1,1267 L330.9,1267 L331.7,1267 L332.5,1267 L333.3,1267 L333.3,1267.5 L125.3,1267.5 Z" fill="#b1b1da" stroke="none"/>
<path d="M125.3,1267 L126.1,1267 L126.9,1267 L127.7,1267 L128.5,1267 L129.3,1267 L130.1,1267 L130.9,1267 L131.7,1267 L132.5,1267 L133.3,1267 L134.1,1267 L134.9,1267 L135.7,1267 L136.5,1267 L137.3,1267 L138.1,1267 L138.9,1267 L139.7,1267 L140.5,1267 L141.3,1267 L142.1,1267 L142.9,1267 L143.7,1266.3 L144.5,1265 L145.3,1263.1 L146.1,1260.1 L146.9,1257.9 L147.7,1255.4 L148.5,1253.5 L149.3,1252 L150.1,1249.1 L150.9,1245.9 L151.7,1243.4 L152.5,1241.1 L153.3,1237.7 L154.1,1232.1 L154.9,1227.5 L155.7,1224.9 L156.5,1221.2 L157.3,1216.5 L158.1,1212.4 L158.9,1212.2 L159.7,1211.4 L160.5,1206.6 L161.3,1205.6 L162.1,1206.6 L162.9,1205.9 L163.7,1204.2 L164.5,1201.4 L165.3,1197.3 L166.1,1192 L166.9,1191.3 L167.7,1194.6 L168.5,1193.7 L169.3,1191.1 L170.1,1189.1 L170.9,1184.7 L171.7,1181.5 L172.5,1180.6 L173.3,1177.5 L174.1,1171.4 L174.9,1165.5 L175.7,1163.5 L176.5,1163.6 L177.3,1163.5 L178.1,1163.6 L178.9,1163.8 L179.7,1163.7 L180.5,1164 L181.3,1166.9 L182.1,1168.3 L182.9,1166 L183.7,1166.9 L184.5,1170.8 L185.3,1171.3 L186.1,1169.8 L186.9,1171.4 L187.7,1174.1 L188.5,1175.2 L189.3,1174.9 L190.1,1174.3 L190.9,1178.2 L191.7,1186 L192.5,1189.5 L193.3,1186.7 L194.1,1185.4 L194.9,1188.1 L195.7,1191.6 L196.5,1197 L197.3,1200.7 L198.1,1201.1 L198.9,1202.8 L199.7,1207.3 L200.5,1212.1 L201.3,1214.9 L202.1,1216.7 L202.9,1219.1 L203.7,1223.1 L204.5,1227.1 L205.3,1228.6 L206.1,1229.8 L206.9,1233.7 L207.7,1238.4 L208.5,1241.7 L209.3,1242.8 L210.1,1244.3 L210.9,1248.5 L211.7,1250.9 L212.5,1251.3 L213.3,1253.2 L214.1,1255.8 L214.9,1257.5 L215.7,1258.7 L216.5,1259.9 L217.3,1260.8 L218.1,1261.3 L218.9,1262.9 L219.7,1263.6 L220.5,1264.2 L221.3,1264.7 L222.1,1265.2 L222.9,1265.7 L223.7,1266.1 L224.5,1266.4 L225.3,1266.7 L226.1,1266.8 L226.9,1267 L227.7,1267 L228.5,1267 L229.3,1267 L230.1,1267 L230.9,1267 L231.7,1267 L232.5,1267 L233.3,1267 L234.1,1267 L234.9,1267 L235.7,1267 L236.5,1267 L237.3,1267 L238.1,1267 L238.9,1267 L239.7,1267 L240.5,1267 L241.3,1267 L242.1,1267 L242.9,1267 L243.7,1267 L244.5,1267 L245.3,1267 L246.1,1267 L246.9,1267 L247.7,1267 L248.5,1267 L249.3,1267 L250.1,1267 L250.9,1267 L251.7,1267 L252.5,1267 L253.3,1267 L254.1,1267 L254.9,1267 L255.7,1267 L256.5,1267 L257.3,1267 L258.1,1267 L258.9,1267 L259.7,1267 L260.5,1267 L261.3,1267 L262.1,1267 L262.9,1267 L263.7,1267 L264.5,1267 L265.3,1267 L266.1,1267 L266.9,1267 L267.7,1267 L268.5,1267 L269.3,1267 L270.1,1267 L270.9,1267 L271.7,1267 L272.5,1267 L273.3,1267 L274.1,1267 L274.9,1267 L275.7,1267 L276.5,1267 L277.3,1267 L278.1,1267 L278.9,1267 L279.7,1267 L280.5,1267 L281.3,1267 L282.1,1267 L282.9,1267 L283.7,1267 L284.5,1267 L285.3,1267 L286.1,1267 L286.9,1267 L287.7,1267 L288.5,1267 L289.3,1267 L290.1,1267 L290.9,1267 L291.7,1267 L292.5,1267 L293.3,1267 L294.1,1267 L294.9,1267 L295.7,1267 L296.5,1267 L297.3,1267 L298.1,1267 L298.9,1267 L299.7,1267 L300.5,1267 L301.3,1267 L302.1,1267 L302.9,1267 L303.7,1267 L304.5,1267 L305.3,1267 L306.1,1267 L306.9,1267 L307.7,1267 L308.5,1267 L309.3,1267 L310.1,1267 L310.9,1267 L311.7,1267 L312.5,1267 L313.3,1267 L314.1,1267 L314.9,1267 L315.7,1267 L316.5,1267 L317.3,1267 L318.1,1267 L318.9,1267 L319.7,1267 L320.5,1267 L321.3,1267 L322.1,1267 L322.9,1267 L323.7,1267 L324.5,1267 L325.3,1267 L326.1,1267 L326.9,1267 L327.7,1267 L328.5,1267 L329.3,1267 L330.1,1267 L330.9,1267 L331.7,1267 L332.5,1267 L333.3,1267" fill="none" stroke="#3b4ea2" stroke-width="1.3"/>
<rect x="123.3" y="1058" width="212.2" height="211.2" fill="none" stroke="#111" stroke-width="1.8"/>
<text transform="translate(158.5,1043.6) scale(0.9575,1)" font-size="41.4">A*02:01</text>
<path d="M125.3,1495.9 L126.1,1495.9 L126.9,1495.9 L127.7,1495.9 L128.5,1495.9 L129.3,1495.9 L130.1,1495.9 L130.9,1495.9 L131.7,1495.9 L132.5,1495.8 L133.3,1495.8 L134.1,1495.6 L134.9,1495.4 L135.7,1494.8 L136.5,1493.9 L137.3,1492.3 L138.1,1489.7 L138.9,1485.6 L139.7,1479.5 L140.5,1470.7 L141.3,1458.8 L142.1,1443.5 L142.9,1424.7 L143.7,1402.9 L144.5,1379.4 L145.3,1355.6 L146.1,1333.6 L146.9,1315.6 L147.7,1303.4 L148.5,1298.5 L149.3,1301.5 L150.1,1311.9 L150.9,1328.6 L151.7,1349.8 L152.5,1373.4 L153.3,1397.2 L154.1,1419.5 L154.9,1439.1 L155.7,1455.3 L156.5,1468 L157.3,1477.5 L158.1,1484.3 L158.9,1488.8 L159.7,1491.8 L160.5,1493.6 L161.3,1494.6 L162.1,1495.3 L162.9,1495.6 L163.7,1495.7 L164.5,1495.8 L165.3,1495.9 L166.1,1495.9 L166.9,1495.9 L167.7,1495.9 L168.5,1495.9 L169.3,1495.9 L170.1,1495.9 L170.9,1495.9 L171.7,1495.9 L172.5,1495.9 L173.3,1495.9 L174.1,1495.9 L174.9,1495.9 L175.7,1495.9 L176.5,1495.9 L177.3,1495.9 L178.1,1495.9 L178.9,1495.9 L179.7,1495.9 L180.5,1495.9 L181.3,1495.9 L182.1,1495.9 L182.9,1495.9 L183.7,1495.9 L184.5,1495.9 L185.3,1495.9 L186.1,1495.9 L186.9,1495.9 L187.7,1495.9 L188.5,1495.9 L189.3,1495.9 L190.1,1495.9 L190.9,1495.9 L191.7,1495.9 L192.5,1495.9 L193.3,1495.9 L194.1,1495.9 L194.9,1495.9 L195.7,1495.9 L196.5,1495.9 L197.3,1495.9 L198.1,1495.9 L198.9,1495.9 L199.7,1495.9 L200.5,1495.9 L201.3,1495.9 L202.1,1495.9 L202.9,1495.9 L203.7,1495.9 L204.5,1495.9 L205.3,1495.9 L206.1,1495.9 L206.9,1495.9 L207.7,1495.9 L208.5,1495.9 L209.3,1495.9 L210.1,1495.9 L210.9,1495.9 L211.7,1495.9 L212.5,1495.9 L213.3,1495.9 L214.1,1495.9 L214.9,1495.9 L215.7,1495.9 L216.5,1495.9 L217.3,1495.9 L218.1,1495.9 L218.9,1495.9 L219.7,1495.9 L220.5,1495.9 L221.3,1495.9 L222.1,1495.9 L222.9,1495.9 L223.7,1495.9 L224.5,1495.9 L225.3,1495.9 L226.1,1495.9 L226.9,1495.9 L227.7,1495.9 L228.5,1495.9 L229.3,1495.9 L230.1,1495.9 L230.9,1495.9 L231.7,1495.9 L232.5,1495.9 L233.3,1495.9 L234.1,1495.9 L234.9,1495.9 L235.7,1495.9 L236.5,1495.9 L237.3,1495.9 L238.1,1495.9 L238.9,1495.9 L239.7,1495.9 L240.5,1495.9 L241.3,1495.9 L242.1,1495.9 L242.9,1495.9 L243.7,1495.9 L244.5,1495.9 L245.3,1495.9 L246.1,1495.9 L246.9,1495.9 L247.7,1495.9 L248.5,1495.9 L249.3,1495.9 L250.1,1495.9 L250.9,1495.9 L251.7,1495.9 L252.5,1495.9 L253.3,1495.9 L254.1,1495.9 L254.9,1495.9 L255.7,1495.9 L256.5,1495.9 L257.3,1495.9 L258.1,1495.9 L258.9,1495.9 L259.7,1495.9 L260.5,1495.9 L261.3,1495.9 L262.1,1495.9 L262.9,1495.9 L263.7,1495.9 L264.5,1495.9 L265.3,1495.9 L266.1,1495.9 L266.9,1495.9 L267.7,1495.9 L268.5,1495.9 L269.3,1495.9 L270.1,1495.9 L270.9,1495.9 L271.7,1495.9 L272.5,1495.9 L273.3,1495.9 L274.1,1495.9 L274.9,1495.9 L275.7,1495.9 L276.5,1495.9 L277.3,1495.9 L278.1,1495.9 L278.9,1495.9 L279.7,1495.9 L280.5,1495.9 L281.3,1495.9 L282.1,1495.9 L282.9,1495.9 L283.7,1495.9 L284.5,1495.9 L285.3,1495.9 L286.1,1495.9 L286.9,1495.9 L287.7,1495.9 L288.5,1495.9 L289.3,1495.9 L290.1,1495.9 L290.9,1495.9 L291.7,1495.9 L292.5,1495.9 L293.3,1495.9 L294.1,1495.9 L294.9,1495.9 L295.7,1495.9 L296.5,1495.9 L297.3,1495.9 L298.1,1495.9 L298.9,1495.9 L299.7,1495.9 L300.5,1495.9 L301.3,1495.9 L302.1,1495.9 L302.9,1495.9 L303.7,1495.9 L304.5,1495.9 L305.3,1495.9 L306.1,1495.9 L306.9,1495.9 L307.7,1495.9 L308.5,1495.9 L309.3,1495.9 L310.1,1495.9 L310.9,1495.9 L311.7,1495.9 L312.5,1495.9 L313.3,1495.9 L314.1,1495.9 L314.9,1495.9 L315.7,1495.9 L316.5,1495.9 L317.3,1495.9 L318.1,1495.9 L318.9,1495.9 L319.7,1495.9 L320.5,1495.9 L321.3,1495.9 L322.1,1495.9 L322.9,1495.9 L323.7,1495.9 L324.5,1495.9 L325.3,1495.9 L326.1,1495.9 L326.9,1495.9 L327.7,1495.9 L328.5,1495.9 L329.3,1495.9 L330.1,1495.9 L330.9,1495.9 L331.7,1495.9 L332.5,1495.9 L333.3,1495.9" fill="none" stroke="#777" stroke-width="1.6" stroke-dasharray="4,3"/>
<path d="M125.3,1495.9 L126.1,1495.9 L126.9,1495.9 L127.7,1495.9 L128.5,1495.9 L129.3,1495.9 L130.1,1495.9 L130.9,1495.9 L131.7,1495.9 L132.5,1495.9 L133.3,1495.9 L134.1,1495.9 L134.9,1495.9 L135.7,1495.9 L136.5,1495.9 L137.3,1495.9 L138.1,1495.9 L138.9,1495.9 L139.7,1495.9 L140.5,1495.9 L141.3,1495.9 L142.1,1495.9 L142.9,1495.9 L143.7,1495.9 L144.5,1495.9 L145.3,1495.9 L146.1,1495.9 L146.9,1495.9 L147.7,1495.9 L148.5,1495.9 L149.3,1495.9 L150.1,1495.9 L150.9,1495.9 L151.7,1495.9 L152.5,1495.9 L153.3,1495.9 L154.1,1495.9 L154.9,1495.9 L155.7,1495.9 L156.5,1495.9 L157.3,1495.9 L158.1,1495.9 L158.9,1495.9 L159.7,1495.9 L160.5,1495.9 L161.3,1495.9 L162.1,1495.9 L162.9,1495.9 L163.7,1495.9 L164.5,1495.9 L165.3,1495.9 L166.1,1495.9 L166.9,1495.9 L167.7,1495.9 L168.5,1495.9 L169.3,1495.9 L170.1,1495.9 L170.9,1495.8 L171.7,1495.8 L172.5,1495.8 L173.3,1495.8 L174.1,1495.8 L174.9,1495.8 L175.7,1495.7 L176.5,1495.7 L177.3,1495.6 L178.1,1495.6 L178.9,1495.5 L179.7,1495.5 L180.5,1495.4 L181.3,1495.3 L182.1,1495.2 L182.9,1495.1 L183.7,1494.9 L184.5,1494.7 L185.3,1494.5 L186.1,1494.3 L186.9,1494.1 L187.7,1493.8 L188.5,1493.4 L189.3,1493 L190.1,1492.6 L190.9,1492.1 L191.7,1491.7 L192.5,1490.9 L193.3,1490.1 L194.1,1489.4 L194.9,1488.9 L195.7,1487.6 L196.5,1486.8 L197.3,1485.1 L198.1,1484.2 L198.9,1482.4 L199.7,1480.6 L200.5,1478.9 L201.3,1476.4 L202.1,1475.5 L202.9,1473.8 L203.7,1469.6 L204.5,1466.6 L205.3,1463.7 L206.1,1461.3 L206.9,1457.9 L207.7,1454.7 L208.5,1452.1 L209.3,1447.6 L210.1,1442.5 L210.9,1439.2 L211.7,1432.1 L212.5,1431.1 L213.3,1424.9 L214.1,1418 L214.9,1414.8 L215.7,1410.1 L216.5,1404.9 L217.3,1398.4 L218.1,1389.3 L218.9,1385.1 L219.7,1379.1 L220.5,1374.9 L221.3,1366.7 L222.1,1362.2 L222.9,1358.3 L223.7,1351.8 L224.5,1345.1 L225.3,1337.8 L226.1,1335.2 L226.9,1329.2 L227.7,1321.3 L228.5,1323.1 L229.3,1320.1 L230.1,1311.6 L230.9,1309.6 L231.7,1308 L232.5,1304.7 L233.3,1304.2 L234.1,1300.7 L234.9,1301.7 L235.7,1298.5 L236.5,1303.1 L237.3,1303 L238.1,1302.5 L238.9,1306.4 L239.7,1307.1 L240.5,1312.9 L241.3,1318.9 L242.1,1322.8 L242.9,1330.5 L243.7,1339.2 L244.5,1345.4 L245.3,1352.1 L246.1,1359.1 L246.9,1366 L247.7,1372.6 L248.5,1381.3 L249.3,1387.5 L250.1,1396.2 L250.9,1406 L251.7,1411.1 L252.5,1419 L253.3,1427.9 L254.1,1433.6 L254.9,1439 L255.7,1445.7 L256.5,1450.4 L257.3,1456 L258.1,1460.4 L258.9,1465.3 L259.7,1468.7 L260.5,1472.6 L261.3,1475.2 L262.1,1479 L262.9,1480.6 L263.7,1482.5 L264.5,1484.7 L265.3,1486.5 L266.1,1487.8 L266.9,1489.4 L267.7,1490.5 L268.5,1491.3 L269.3,1492.1 L270.1,1492.7 L270.9,1493.3 L271.7,1493.8 L272.5,1494.2 L273.3,1494.5 L274.1,1494.8 L274.9,1495 L275.7,1495.2 L276.5,1495.3 L277.3,1495.4 L278.1,1495.5 L278.9,1495.6 L279.7,1495.7 L280.5,1495.7 L281.3,1495.8 L282.1,1495.8 L282.9,1495.8 L283.7,1495.8 L284.5,1495.9 L285.3,1495.9 L286.1,1495.9 L286.9,1495.9 L287.7,1495.9 L288.5,1495.9 L289.3,1495.9 L290.1,1495.9 L290.9,1495.9 L291.7,1495.9 L292.5,1495.9 L293.3,1495.9 L294.1,1495.9 L294.9,1495.9 L295.7,1495.9 L296.5,1495.9 L297.3,1495.9 L298.1,1495.9 L298.9,1495.9 L299.7,1495.9 L300.5,1495.9 L301.3,1495.9 L302.1,1495.9 L302.9,1495.9 L303.7,1495.9 L304.5,1495.9 L305.3,1495.9 L306.1,1495.9 L306.9,1495.9 L307.7,1495.9 L308.5,1495.9 L309.3,1495.9 L310.1,1495.9 L310.9,1495.9 L311.7,1495.9 L312.5,1495.9 L313.3,1495.9 L314.1,1495.9 L314.9,1495.9 L315.7,1495.9 L316.5,1495.9 L317.3,1495.9 L318.1,1495.9 L318.9,1495.9 L319.7,1495.9 L320.5,1495.9 L321.3,1495.9 L322.1,1495.9 L322.9,1495.9 L323.7,1495.9 L324.5,1495.9 L325.3,1495.9 L326.1,1495.9 L326.9,1495.9 L327.7,1495.9 L328.5,1495.9 L329.3,1495.9 L330.1,1495.9 L330.9,1495.9 L331.7,1495.9 L332.5,1495.9 L333.3,1495.9" fill="none" stroke="#000" stroke-width="1.6"/>
<rect x="123.3" y="1286.1" width="212.2" height="211" fill="none" stroke="#111" stroke-width="1.6"/>
<line x1="124.5" y1="1269.2" x2="124.5" y2="1275.2" stroke="#000" stroke-width="1.4"/>
<line x1="144.8" y1="1269.2" x2="144.8" y2="1275.2" stroke="#000" stroke-width="1.4"/>
<line x1="168.1" y1="1269.2" x2="168.1" y2="1275.2" stroke="#000" stroke-width="1.4"/>
<line x1="219.1" y1="1269.2" x2="219.1" y2="1275.2" stroke="#000" stroke-width="1.4"/>
<line x1="267.8" y1="1269.2" x2="267.8" y2="1275.2" stroke="#000" stroke-width="1.4"/>
<line x1="315.1" y1="1269.2" x2="315.1" y2="1275.2" stroke="#000" stroke-width="1.4"/>
<line x1="129.8" y1="1269.2" x2="129.8" y2="1272.2" stroke="#000" stroke-width="1.1"/>
<line x1="135.3" y1="1269.2" x2="135.3" y2="1272.2" stroke="#000" stroke-width="1.1"/>
<line x1="139.3" y1="1269.2" x2="139.3" y2="1272.2" stroke="#000" stroke-width="1.1"/>
<line x1="149.3" y1="1269.2" x2="149.3" y2="1272.2" stroke="#000" stroke-width="1.1"/>
<line x1="154.3" y1="1269.2" x2="154.3" y2="1272.2" stroke="#000" stroke-width="1.1"/>
<line x1="159.3" y1="1269.2" x2="159.3" y2="1272.2" stroke="#000" stroke-width="1.1"/>
<line x1="164.3" y1="1269.2" x2="164.3" y2="1272.2" stroke="#000" stroke-width="1.1"/>
<line x1="185.3" y1="1269.2" x2="185.3" y2="1272.2" stroke="#000" stroke-width="1.1"/>
<line x1="191.3" y1="1269.2" x2="191.3" y2="1272.2" stroke="#000" stroke-width="1.1"/>
<line x1="195.3" y1="1269.2" x2="195.3" y2="1272.2" stroke="#000" stroke-width="1.1"/>
<line x1="201.3" y1="1269.2" x2="201.3" y2="1272.2" stroke="#000" stroke-width="1.1"/>
<line x1="205.3" y1="1269.2" x2="205.3" y2="1272.2" stroke="#000" stroke-width="1.1"/>
<line x1="208.3" y1="1269.2" x2="208.3" y2="1272.2" stroke="#000" stroke-width="1.1"/>
<line x1="211.3" y1="1269.2" x2="211.3" y2="1272.2" stroke="#000" stroke-width="1.1"/>
<line x1="213.3" y1="1269.2" x2="213.3" y2="1272.2" stroke="#000" stroke-width="1.1"/>
<line x1="216.3" y1="1269.2" x2="216.3" y2="1272.2" stroke="#000" stroke-width="1.1"/>
<line x1="234.3" y1="1269.2" x2="234.3" y2="1272.2" stroke="#000" stroke-width="1.1"/>
<line x1="243.3" y1="1269.2" x2="243.3" y2="1272.2" stroke="#000" stroke-width="1.1"/>
<line x1="249.3" y1="1269.2" x2="249.3" y2="1272.2" stroke="#000" stroke-width="1.1"/>
<line x1="254.3" y1="1269.2" x2="254.3" y2="1272.2" stroke="#000" stroke-width="1.1"/>
<line x1="258.3" y1="1269.2" x2="258.3" y2="1272.2" stroke="#000" stroke-width="1.1"/>
<line x1="261.3" y1="1269.2" x2="261.3" y2="1272.2" stroke="#000" stroke-width="1.1"/>
<line x1="263.3" y1="1269.2" x2="263.3" y2="1272.2" stroke="#000" stroke-width="1.1"/>
<line x1="265.3" y1="1269.2" x2="265.3" y2="1272.2" stroke="#000" stroke-width="1.1"/>
<line x1="283.3" y1="1269.2" x2="283.3" y2="1272.2" stroke="#000" stroke-width="1.1"/>
<line x1="290.3" y1="1269.2" x2="290.3" y2="1272.2" stroke="#000" stroke-width="1.1"/>
<line x1="295.3" y1="1269.2" x2="295.3" y2="1272.2" stroke="#000" stroke-width="1.1"/>
<line x1="300.3" y1="1269.2" x2="300.3" y2="1272.2" stroke="#000" stroke-width="1.1"/>
<line x1="303.3" y1="1269.2" x2="303.3" y2="1272.2" stroke="#000" stroke-width="1.1"/>
<line x1="306.3" y1="1269.2" x2="306.3" y2="1272.2" stroke="#000" stroke-width="1.1"/>
<line x1="309.3" y1="1269.2" x2="309.3" y2="1272.2" stroke="#000" stroke-width="1.1"/>
<line x1="311.3" y1="1269.2" x2="311.3" y2="1272.2" stroke="#000" stroke-width="1.1"/>
<line x1="313.3" y1="1269.2" x2="313.3" y2="1272.2" stroke="#000" stroke-width="1.1"/>
<line x1="329.3" y1="1269.2" x2="329.3" y2="1272.2" stroke="#000" stroke-width="1.1"/>
<line x1="332.3" y1="1269.2" x2="332.3" y2="1272.2" stroke="#000" stroke-width="1.1"/>
<line x1="124.5" y1="1497.1" x2="124.5" y2="1503.1" stroke="#000" stroke-width="1.4"/>
<line x1="144.8" y1="1497.1" x2="144.8" y2="1503.1" stroke="#000" stroke-width="1.4"/>
<line x1="168.1" y1="1497.1" x2="168.1" y2="1503.1" stroke="#000" stroke-width="1.4"/>
<line x1="219.1" y1="1497.1" x2="219.1" y2="1503.1" stroke="#000" stroke-width="1.4"/>
<line x1="267.8" y1="1497.1" x2="267.8" y2="1503.1" stroke="#000" stroke-width="1.4"/>
<line x1="315.1" y1="1497.1" x2="315.1" y2="1503.1" stroke="#000" stroke-width="1.4"/>
<line x1="129.8" y1="1497.1" x2="129.8" y2="1500.1" stroke="#000" stroke-width="1.1"/>
<line x1="135.3" y1="1497.1" x2="135.3" y2="1500.1" stroke="#000" stroke-width="1.1"/>
<line x1="139.3" y1="1497.1" x2="139.3" y2="1500.1" stroke="#000" stroke-width="1.1"/>
<line x1="149.3" y1="1497.1" x2="149.3" y2="1500.1" stroke="#000" stroke-width="1.1"/>
<line x1="154.3" y1="1497.1" x2="154.3" y2="1500.1" stroke="#000" stroke-width="1.1"/>
<line x1="159.3" y1="1497.1" x2="159.3" y2="1500.1" stroke="#000" stroke-width="1.1"/>
<line x1="164.3" y1="1497.1" x2="164.3" y2="1500.1" stroke="#000" stroke-width="1.1"/>
<line x1="185.3" y1="1497.1" x2="185.3" y2="1500.1" stroke="#000" stroke-width="1.1"/>
<line x1="191.3" y1="1497.1" x2="191.3" y2="1500.1" stroke="#000" stroke-width="1.1"/>
<line x1="195.3" y1="1497.1" x2="195.3" y2="1500.1" stroke="#000" stroke-width="1.1"/>
<line x1="201.3" y1="1497.1" x2="201.3" y2="1500.1" stroke="#000" stroke-width="1.1"/>
<line x1="205.3" y1="1497.1" x2="205.3" y2="1500.1" stroke="#000" stroke-width="1.1"/>
<line x1="208.3" y1="1497.1" x2="208.3" y2="1500.1" stroke="#000" stroke-width="1.1"/>
<line x1="211.3" y1="1497.1" x2="211.3" y2="1500.1" stroke="#000" stroke-width="1.1"/>
<line x1="213.3" y1="1497.1" x2="213.3" y2="1500.1" stroke="#000" stroke-width="1.1"/>
<line x1="216.3" y1="1497.1" x2="216.3" y2="1500.1" stroke="#000" stroke-width="1.1"/>
<line x1="234.3" y1="1497.1" x2="234.3" y2="1500.1" stroke="#000" stroke-width="1.1"/>
<line x1="243.3" y1="1497.1" x2="243.3" y2="1500.1" stroke="#000" stroke-width="1.1"/>
<line x1="249.3" y1="1497.1" x2="249.3" y2="1500.1" stroke="#000" stroke-width="1.1"/>
<line x1="254.3" y1="1497.1" x2="254.3" y2="1500.1" stroke="#000" stroke-width="1.1"/>
<line x1="258.3" y1="1497.1" x2="258.3" y2="1500.1" stroke="#000" stroke-width="1.1"/>
<line x1="261.3" y1="1497.1" x2="261.3" y2="1500.1" stroke="#000" stroke-width="1.1"/>
<line x1="263.3" y1="1497.1" x2="263.3" y2="1500.1" stroke="#000" stroke-width="1.1"/>
<line x1="265.3" y1="1497.1" x2="265.3" y2="1500.1" stroke="#000" stroke-width="1.1"/>
<line x1="283.3" y1="1497.1" x2="283.3" y2="1500.1" stroke="#000" stroke-width="1.1"/>
<line x1="290.3" y1="1497.1" x2="290.3" y2="1500.1" stroke="#000" stroke-width="1.1"/>
<line x1="295.3" y1="1497.1" x2="295.3" y2="1500.1" stroke="#000" stroke-width="1.1"/>
<line x1="300.3" y1="1497.1" x2="300.3" y2="1500.1" stroke="#000" stroke-width="1.1"/>
<line x1="303.3" y1="1497.1" x2="303.3" y2="1500.1" stroke="#000" stroke-width="1.1"/>
<line x1="306.3" y1="1497.1" x2="306.3" y2="1500.1" stroke="#000" stroke-width="1.1"/>
<line x1="309.3" y1="1497.1" x2="309.3" y2="1500.1" stroke="#000" stroke-width="1.1"/>
<line x1="311.3" y1="1497.1" x2="311.3" y2="1500.1" stroke="#000" stroke-width="1.1"/>
<line x1="313.3" y1="1497.1" x2="313.3" y2="1500.1" stroke="#000" stroke-width="1.1"/>
<line x1="329.3" y1="1497.1" x2="329.3" y2="1500.1" stroke="#000" stroke-width="1.1"/>
<line x1="332.3" y1="1497.1" x2="332.3" y2="1500.1" stroke="#000" stroke-width="1.1"/>
<line x1="118.8" y1="1296.1" x2="123.3" y2="1296.1" stroke="#000" stroke-width="1.4"/>
<line x1="121.3" y1="1304.1" x2="123.3" y2="1304.1" stroke="#000" stroke-width="1"/>
<line x1="121.3" y1="1312.1" x2="123.3" y2="1312.1" stroke="#000" stroke-width="1"/>
<line x1="121.3" y1="1320.1" x2="123.3" y2="1320.1" stroke="#000" stroke-width="1"/>
<line x1="121.3" y1="1328.1" x2="123.3" y2="1328.1" stroke="#000" stroke-width="1"/>
<line x1="118.8" y1="1336.3" x2="123.3" y2="1336.3" stroke="#000" stroke-width="1.4"/>
<line x1="121.3" y1="1344.3" x2="123.3" y2="1344.3" stroke="#000" stroke-width="1"/>
<line x1="121.3" y1="1352.3" x2="123.3" y2="1352.3" stroke="#000" stroke-width="1"/>
<line x1="121.3" y1="1360.3" x2="123.3" y2="1360.3" stroke="#000" stroke-width="1"/>
<line x1="121.3" y1="1368.3" x2="123.3" y2="1368.3" stroke="#000" stroke-width="1"/>
<line x1="118.8" y1="1376.5" x2="123.3" y2="1376.5" stroke="#000" stroke-width="1.4"/>
<line x1="121.3" y1="1384.5" x2="123.3" y2="1384.5" stroke="#000" stroke-width="1"/>
<line x1="121.3" y1="1392.5" x2="123.3" y2="1392.5" stroke="#000" stroke-width="1"/>
<line x1="121.3" y1="1400.5" x2="123.3" y2="1400.5" stroke="#000" stroke-width="1"/>
<line x1="121.3" y1="1408.5" x2="123.3" y2="1408.5" stroke="#000" stroke-width="1"/>
<line x1="118.8" y1="1416.7" x2="123.3" y2="1416.7" stroke="#000" stroke-width="1.4"/>
<line x1="121.3" y1="1424.7" x2="123.3" y2="1424.7" stroke="#000" stroke-width="1"/>
<line x1="121.3" y1="1432.7" x2="123.3" y2="1432.7" stroke="#000" stroke-width="1"/>
<line x1="121.3" y1="1440.7" x2="123.3" y2="1440.7" stroke="#000" stroke-width="1"/>
<line x1="121.3" y1="1448.7" x2="123.3" y2="1448.7" stroke="#000" stroke-width="1"/>
<line x1="118.8" y1="1456.9" x2="123.3" y2="1456.9" stroke="#000" stroke-width="1.4"/>
<line x1="121.3" y1="1464.9" x2="123.3" y2="1464.9" stroke="#000" stroke-width="1"/>
<line x1="121.3" y1="1472.9" x2="123.3" y2="1472.9" stroke="#000" stroke-width="1"/>
<line x1="121.3" y1="1480.9" x2="123.3" y2="1480.9" stroke="#000" stroke-width="1"/>
<line x1="121.3" y1="1488.9" x2="123.3" y2="1488.9" stroke="#000" stroke-width="1"/>
<line x1="118.8" y1="1497.1" x2="123.3" y2="1497.1" stroke="#000" stroke-width="1.4"/>
<path d="M343.4,1169 L344.2,1169 L345,1169 L345.8,1169 L346.6,1169 L347.4,1169 L348.2,1169 L349,1169 L349.8,1169 L350.6,1169 L351.4,1169 L352.2,1169 L353,1169 L353.8,1169 L354.6,1169 L355.4,1169 L356.2,1169 L357,1169 L357.8,1169 L358.6,1169 L359.4,1169 L360.2,1169 L361,1168 L361.8,1165.7 L362.6,1162 L363.4,1158.1 L364.2,1154.1 L365,1149.1 L365.8,1143.4 L366.6,1138.3 L367.4,1133.8 L368.2,1128.4 L369,1122.8 L369.8,1116.8 L370.6,1110.7 L371.4,1105.4 L372.2,1100.3 L373,1094.1 L373.8,1088.5 L374.6,1084.1 L375.4,1079.7 L376.2,1075.6 L377,1072.7 L377.8,1071.1 L378.6,1069.5 L379.4,1067.9 L380.2,1067.1 L381,1066.1 L381.8,1065.3 L382.6,1066.2 L383.4,1068 L384.2,1069.7 L385,1070.8 L385.8,1070.5 L386.6,1071.2 L387.4,1073.2 L388.2,1075.6 L389,1077.1 L389.8,1078 L390.6,1080.7 L391.4,1083.7 L392.2,1085.2 L393,1087.4 L393.8,1089.9 L394.6,1091.4 L395.4,1093.6 L396.2,1096.3 L397,1098.5 L397.8,1100.4 L398.6,1102.8 L399.4,1106 L400.2,1109.3 L401,1111.5 L401.8,1112.9 L402.6,1114.8 L403.4,1117.2 L404.2,1119.2 L405,1122 L405.8,1124.4 L406.6,1125.9 L407.4,1127.7 L408.2,1128.7 L409,1129.9 L409.8,1132 L410.6,1133.1 L411.4,1133.6 L412.2,1135.7 L413,1137.6 L413.8,1138.9 L414.6,1140.7 L415.4,1142.2 L416.2,1144.1 L417,1145.8 L417.8,1146.6 L418.6,1148.2 L419.4,1149.8 L420.2,1150.5 L421,1151.9 L421.8,1153.5 L422.6,1154.6 L423.4,1155.8 L424.2,1157 L425,1158 L425.8,1158.6 L426.6,1158.8 L427.4,1159.4 L428.2,1160 L429,1160.6 L429.8,1161.5 L430.6,1162.4 L431.4,1162.7 L432.2,1162.9 L433,1163.5 L433.8,1164.2 L434.6,1164.6 L435.4,1165 L436.2,1165.4 L437,1165.7 L437.8,1166 L438.6,1166.3 L439.4,1166.5 L440.2,1166.8 L441,1167.1 L441.8,1167.3 L442.6,1167.5 L443.4,1167.8 L444.2,1168 L445,1168.2 L445.8,1168.4 L446.6,1168.5 L447.4,1168.7 L448.2,1168.8 L449,1168.9 L449.8,1168.9 L450.6,1169 L451.4,1169 L452.2,1169 L453,1169 L453.8,1169 L454.6,1169 L455.4,1169 L456.2,1169 L457,1169 L457.8,1169 L458.6,1169 L459.4,1169 L460.2,1169 L461,1169 L461.8,1169 L462.6,1169 L463.4,1169 L464.2,1169 L465,1169 L465.8,1169 L466.6,1169 L467.4,1169 L468.2,1169 L469,1169 L469.8,1169 L470.6,1169 L471.4,1169 L472.2,1169 L473,1169 L473.8,1169 L474.6,1169 L475.4,1169 L476.2,1169 L477,1169 L477.8,1169 L478.6,1169 L479.4,1169 L480.2,1169 L481,1169 L481.8,1169 L482.6,1169 L483.4,1169 L484.2,1169 L485,1169 L485.8,1169 L486.6,1169 L487.4,1169 L488.2,1169 L489,1169 L489.8,1169 L490.6,1169 L491.4,1169 L492.2,1169 L493,1169 L493.8,1169 L494.6,1169 L495.4,1169 L496.2,1169 L497,1169 L497.8,1169 L498.6,1169 L499.4,1169 L500.2,1169 L501,1169 L501.8,1169 L502.6,1169 L503.4,1169 L504.2,1169 L505,1169 L505.8,1169 L506.6,1169 L507.4,1169 L508.2,1169 L509,1169 L509.8,1169 L510.6,1169 L511.4,1169 L512.2,1169 L513,1169 L513.8,1169 L514.6,1169 L515.4,1169 L516.2,1169 L517,1169 L517.8,1169 L518.6,1169 L519.4,1169 L520.2,1169 L521,1169 L521.8,1169 L522.6,1169 L523.4,1169 L524.2,1169 L525,1169 L525.8,1169 L526.6,1169 L527.4,1169 L528.2,1169 L529,1169 L529.8,1169 L530.6,1169 L531.4,1169 L532.2,1169 L533,1169 L533.8,1169 L534.6,1169 L535.4,1169 L536.2,1169 L537,1169 L537.8,1169 L538.6,1169 L539.4,1169 L540.2,1169 L541,1169 L541.8,1169 L542.6,1169 L543.4,1169 L544.2,1169 L545,1169 L545.8,1169 L546.6,1169 L547.4,1169 L548.2,1169 L549,1169 L549.8,1169 L550.6,1169 L551.4,1169" fill="none" stroke="#1a1a1a" stroke-width="2.1" stroke-dasharray="4.5,3.5"/>
<path d="M343.4,1201.8 L344.2,1201.8 L345,1201.8 L345.8,1201.8 L346.6,1201.8 L347.4,1201.8 L348.2,1201.8 L349,1201.8 L349.8,1201.8 L350.6,1201.8 L351.4,1201.8 L352.2,1201.8 L353,1201.8 L353.8,1201.8 L354.6,1201.8 L355.4,1201.8 L356.2,1201.8 L357,1201.8 L357.8,1201.7 L358.6,1201.4 L359.4,1200.9 L360.2,1200.2 L361,1199.4 L361.8,1198.4 L362.6,1197.6 L363.4,1195.9 L364.2,1192.2 L365,1186.9 L365.8,1179.1 L366.6,1169.7 L367.4,1160.7 L368.2,1153.8 L369,1150.1 L369.8,1148.2 L370.6,1144.5 L371.4,1136.2 L372.2,1126.9 L373,1124.7 L373.8,1127.2 L374.6,1123.9 L375.4,1118.5 L376.2,1114.6 L377,1109.3 L377.8,1105.4 L378.6,1103.3 L379.4,1102.1 L380.2,1102.7 L381,1102.1 L381.8,1099.1 L382.6,1098.3 L383.4,1101.3 L384.2,1100.9 L385,1099 L385.8,1099.8 L386.6,1101.5 L387.4,1103.8 L388.2,1103.7 L389,1101.2 L389.8,1100.8 L390.6,1103.4 L391.4,1106.5 L392.2,1110.3 L393,1111.7 L393.8,1111.2 L394.6,1112.7 L395.4,1114.5 L396.2,1115.6 L397,1115 L397.8,1118.3 L398.6,1123.7 L399.4,1125 L400.2,1127.2 L401,1131.1 L401.8,1133.5 L402.6,1136.3 L403.4,1140.6 L404.2,1143.5 L405,1144.2 L405.8,1143.8 L406.6,1143.9 L407.4,1145.9 L408.2,1149.4 L409,1154.1 L409.8,1156.9 L410.6,1156.4 L411.4,1156.8 L412.2,1157.8 L413,1159.1 L413.8,1162.6 L414.6,1167.1 L415.4,1169.8 L416.2,1169.6 L417,1170.7 L417.8,1172.9 L418.6,1174.5 L419.4,1176.8 L420.2,1177.1 L421,1176.3 L421.8,1177.8 L422.6,1179.9 L423.4,1181.6 L424.2,1183.5 L425,1184.3 L425.8,1185 L426.6,1187 L427.4,1188.7 L428.2,1190.1 L429,1192.2 L429.8,1194.4 L430.6,1194.3 L431.4,1192.5 L432.2,1192.8 L433,1194.6 L433.8,1195.3 L434.6,1195.8 L435.4,1196.1 L436.2,1196.2 L437,1197.1 L437.8,1198.4 L438.6,1198.5 L439.4,1197.5 L440.2,1197.8 L441,1198 L441.8,1198.2 L442.6,1198.4 L443.4,1198.5 L444.2,1198.7 L445,1198.8 L445.8,1199 L446.6,1199.1 L447.4,1199.2 L448.2,1199.3 L449,1199.4 L449.8,1199.5 L450.6,1199.6 L451.4,1199.7 L452.2,1199.8 L453,1199.9 L453.8,1200 L454.6,1200 L455.4,1200.1 L456.2,1200.2 L457,1200.3 L457.8,1200.4 L458.6,1200.5 L459.4,1200.5 L460.2,1200.6 L461,1200.7 L461.8,1200.8 L462.6,1200.8 L463.4,1200.9 L464.2,1201 L465,1201.1 L465.8,1201.1 L466.6,1201.2 L467.4,1201.2 L468.2,1201.3 L469,1201.4 L469.8,1201.4 L470.6,1201.5 L471.4,1201.5 L472.2,1201.5 L473,1201.6 L473.8,1201.6 L474.6,1201.7 L475.4,1201.7 L476.2,1201.7 L477,1201.7 L477.8,1201.8 L478.6,1201.8 L479.4,1201.8 L480.2,1201.8 L481,1201.8 L481.8,1201.8 L482.6,1201.8 L483.4,1201.8 L484.2,1201.8 L485,1201.8 L485.8,1201.8 L486.6,1201.8 L487.4,1201.8 L488.2,1201.8 L489,1201.8 L489.8,1201.8 L490.6,1201.8 L491.4,1201.8 L492.2,1201.8 L493,1201.8 L493.8,1201.8 L494.6,1201.8 L495.4,1201.8 L496.2,1201.8 L497,1201.8 L497.8,1201.8 L498.6,1201.8 L499.4,1201.8 L500.2,1201.8 L501,1201.8 L501.8,1201.8 L502.6,1201.8 L503.4,1201.8 L504.2,1201.8 L505,1201.8 L505.8,1201.8 L506.6,1201.8 L507.4,1201.8 L508.2,1201.8 L509,1201.8 L509.8,1201.8 L510.6,1201.8 L511.4,1201.8 L512.2,1201.8 L513,1201.8 L513.8,1201.8 L514.6,1201.8 L515.4,1201.8 L516.2,1201.8 L517,1201.8 L517.8,1201.8 L518.6,1201.8 L519.4,1201.8 L520.2,1201.8 L521,1201.8 L521.8,1201.8 L522.6,1201.8 L523.4,1201.8 L524.2,1201.8 L525,1201.8 L525.8,1201.8 L526.6,1201.8 L527.4,1201.8 L528.2,1201.8 L529,1201.8 L529.8,1201.8 L530.6,1201.8 L531.4,1201.8 L532.2,1201.8 L533,1201.8 L533.8,1201.8 L534.6,1201.8 L535.4,1201.8 L536.2,1201.8 L537,1201.8 L537.8,1201.8 L538.6,1201.8 L539.4,1201.8 L540.2,1201.8 L541,1201.8 L541.8,1201.8 L542.6,1201.8 L543.4,1201.8 L544.2,1201.8 L545,1201.8 L545.8,1201.8 L546.6,1201.8 L547.4,1201.8 L548.2,1201.8 L549,1201.8 L549.8,1201.8 L550.6,1201.8 L551.4,1201.8 L551.4,1202.3 L343.4,1202.3 Z" fill="#b4dca6" stroke="none"/>
<path d="M343.4,1201.8 L344.2,1201.8 L345,1201.8 L345.8,1201.8 L346.6,1201.8 L347.4,1201.8 L348.2,1201.8 L349,1201.8 L349.8,1201.8 L350.6,1201.8 L351.4,1201.8 L352.2,1201.8 L353,1201.8 L353.8,1201.8 L354.6,1201.8 L355.4,1201.8 L356.2,1201.8 L357,1201.8 L357.8,1201.7 L358.6,1201.4 L359.4,1200.9 L360.2,1200.2 L361,1199.4 L361.8,1198.4 L362.6,1197.6 L363.4,1195.9 L364.2,1192.2 L365,1186.9 L365.8,1179.1 L366.6,1169.7 L367.4,1160.7 L368.2,1153.8 L369,1150.1 L369.8,1148.2 L370.6,1144.5 L371.4,1136.2 L372.2,1126.9 L373,1124.7 L373.8,1127.2 L374.6,1123.9 L375.4,1118.5 L376.2,1114.6 L377,1109.3 L377.8,1105.4 L378.6,1103.3 L379.4,1102.1 L380.2,1102.7 L381,1102.1 L381.8,1099.1 L382.6,1098.3 L383.4,1101.3 L384.2,1100.9 L385,1099 L385.8,1099.8 L386.6,1101.5 L387.4,1103.8 L388.2,1103.7 L389,1101.2 L389.8,1100.8 L390.6,1103.4 L391.4,1106.5 L392.2,1110.3 L393,1111.7 L393.8,1111.2 L394.6,1112.7 L395.4,1114.5 L396.2,1115.6 L397,1115 L397.8,1118.3 L398.6,1123.7 L399.4,1125 L400.2,1127.2 L401,1131.1 L401.8,1133.5 L402.6,1136.3 L403.4,1140.6 L404.2,1143.5 L405,1144.2 L405.8,1143.8 L406.6,1143.9 L407.4,1145.9 L408.2,1149.4 L409,1154.1 L409.8,1156.9 L410.6,1156.4 L411.4,1156.8 L412.2,1157.8 L413,1159.1 L413.8,1162.6 L414.6,1167.1 L415.4,1169.8 L416.2,1169.6 L417,1170.7 L417.8,1172.9 L418.6,1174.5 L419.4,1176.8 L420.2,1177.1 L421,1176.3 L421.8,1177.8 L422.6,1179.9 L423.4,1181.6 L424.2,1183.5 L425,1184.3 L425.8,1185 L426.6,1187 L427.4,1188.7 L428.2,1190.1 L429,1192.2 L429.8,1194.4 L430.6,1194.3 L431.4,1192.5 L432.2,1192.8 L433,1194.6 L433.8,1195.3 L434.6,1195.8 L435.4,1196.1 L436.2,1196.2 L437,1197.1 L437.8,1198.4 L438.6,1198.5 L439.4,1197.5 L440.2,1197.8 L441,1198 L441.8,1198.2 L442.6,1198.4 L443.4,1198.5 L444.2,1198.7 L445,1198.8 L445.8,1199 L446.6,1199.1 L447.4,1199.2 L448.2,1199.3 L449,1199.4 L449.8,1199.5 L450.6,1199.6 L451.4,1199.7 L452.2,1199.8 L453,1199.9 L453.8,1200 L454.6,1200 L455.4,1200.1 L456.2,1200.2 L457,1200.3 L457.8,1200.4 L458.6,1200.5 L459.4,1200.5 L460.2,1200.6 L461,1200.7 L461.8,1200.8 L462.6,1200.8 L463.4,1200.9 L464.2,1201 L465,1201.1 L465.8,1201.1 L466.6,1201.2 L467.4,1201.2 L468.2,1201.3 L469,1201.4 L469.8,1201.4 L470.6,1201.5 L471.4,1201.5 L472.2,1201.5 L473,1201.6 L473.8,1201.6 L474.6,1201.7 L475.4,1201.7 L476.2,1201.7 L477,1201.7 L477.8,1201.8 L478.6,1201.8 L479.4,1201.8 L480.2,1201.8 L481,1201.8 L481.8,1201.8 L482.6,1201.8 L483.4,1201.8 L484.2,1201.8 L485,1201.8 L485.8,1201.8 L486.6,1201.8 L487.4,1201.8 L488.2,1201.8 L489,1201.8 L489.8,1201.8 L490.6,1201.8 L491.4,1201.8 L492.2,1201.8 L493,1201.8 L493.8,1201.8 L494.6,1201.8 L495.4,1201.8 L496.2,1201.8 L497,1201.8 L497.8,1201.8 L498.6,1201.8 L499.4,1201.8 L500.2,1201.8 L501,1201.8 L501.8,1201.8 L502.6,1201.8 L503.4,1201.8 L504.2,1201.8 L505,1201.8 L505.8,1201.8 L506.6,1201.8 L507.4,1201.8 L508.2,1201.8 L509,1201.8 L509.8,1201.8 L510.6,1201.8 L511.4,1201.8 L512.2,1201.8 L513,1201.8 L513.8,1201.8 L514.6,1201.8 L515.4,1201.8 L516.2,1201.8 L517,1201.8 L517.8,1201.8 L518.6,1201.8 L519.4,1201.8 L520.2,1201.8 L521,1201.8 L521.8,1201.8 L522.6,1201.8 L523.4,1201.8 L524.2,1201.8 L525,1201.8 L525.8,1201.8 L526.6,1201.8 L527.4,1201.8 L528.2,1201.8 L529,1201.8 L529.8,1201.8 L530.6,1201.8 L531.4,1201.8 L532.2,1201.8 L533,1201.8 L533.8,1201.8 L534.6,1201.8 L535.4,1201.8 L536.2,1201.8 L537,1201.8 L537.8,1201.8 L538.6,1201.8 L539.4,1201.8 L540.2,1201.8 L541,1201.8 L541.8,1201.8 L542.6,1201.8 L543.4,1201.8 L544.2,1201.8 L545,1201.8 L545.8,1201.8 L546.6,1201.8 L547.4,1201.8 L548.2,1201.8 L549,1201.8 L549.8,1201.8 L550.6,1201.8 L551.4,1201.8" fill="none" stroke="#6cbd50" stroke-width="1.3"/>
<path d="M343.4,1234.5 L344.2,1234.5 L345,1234.5 L345.8,1234.5 L346.6,1234.5 L347.4,1234.5 L348.2,1234.5 L349,1234.5 L349.8,1234.5 L350.6,1234.5 L351.4,1234.5 L352.2,1234.5 L353,1234.5 L353.8,1234.5 L354.6,1234.5 L355.4,1234.5 L356.2,1234.5 L357,1234.5 L357.8,1234.3 L358.6,1233.7 L359.4,1232.8 L360.2,1231.8 L361,1230.7 L361.8,1229.1 L362.6,1228.2 L363.4,1226 L364.2,1222.4 L365,1217.8 L365.8,1211.8 L366.6,1207.1 L367.4,1201.8 L368.2,1195.6 L369,1191.1 L369.8,1188.2 L370.6,1183.9 L371.4,1179 L372.2,1176.8 L373,1172.3 L373.8,1164.4 L374.6,1159.2 L375.4,1158.7 L376.2,1159.6 L377,1158.4 L377.8,1156.1 L378.6,1153.5 L379.4,1148.1 L380.2,1142.7 L381,1142.3 L381.8,1144.2 L382.6,1144.8 L383.4,1142.3 L384.2,1140.3 L385,1141.5 L385.8,1141.2 L386.6,1141.4 L387.4,1142.5 L388.2,1139.9 L389,1135.8 L389.8,1132 L390.6,1131 L391.4,1136.3 L392.2,1138.9 L393,1135.4 L393.8,1134.7 L394.6,1138.7 L395.4,1139.9 L396.2,1135.4 L397,1134.1 L397.8,1136.9 L398.6,1138.3 L399.4,1138.8 L400.2,1140.4 L401,1141.9 L401.8,1141.4 L402.6,1141.8 L403.4,1145.1 L404.2,1146.3 L405,1145.2 L405.8,1147 L406.6,1149.8 L407.4,1150.6 L408.2,1151.2 L409,1153.3 L409.8,1152.3 L410.6,1150.9 L411.4,1154.9 L412.2,1160.4 L413,1162 L413.8,1162.1 L414.6,1164.8 L415.4,1167 L416.2,1167 L417,1166 L417.8,1165.9 L418.6,1166.7 L419.4,1166.7 L420.2,1168.7 L421,1170.2 L421.8,1170.4 L422.6,1172 L423.4,1174.8 L424.2,1180.3 L425,1184 L425.8,1184.8 L426.6,1186.6 L427.4,1186.8 L428.2,1186.7 L429,1190 L429.8,1194.3 L430.6,1197.3 L431.4,1199 L432.2,1201.8 L433,1204.8 L433.8,1206.6 L434.6,1208.5 L435.4,1210.5 L436.2,1212 L437,1213.3 L437.8,1215.4 L438.6,1218.3 L439.4,1220.2 L440.2,1220.7 L441,1220.8 L441.8,1221.9 L442.6,1223.4 L443.4,1223.9 L444.2,1224.8 L445,1226.4 L445.8,1227.1 L446.6,1227.1 L447.4,1227.3 L448.2,1228 L449,1229 L449.8,1229.4 L450.6,1229.2 L451.4,1228.6 L452.2,1228.9 L453,1230.1 L453.8,1229.6 L454.6,1228.2 L455.4,1229 L456.2,1230.2 L457,1230.6 L457.8,1230.8 L458.6,1230.9 L459.4,1231.1 L460.2,1231.2 L461,1231.3 L461.8,1231.4 L462.6,1231.5 L463.4,1231.6 L464.2,1231.7 L465,1231.8 L465.8,1231.9 L466.6,1232 L467.4,1232.1 L468.2,1232.2 L469,1232.2 L469.8,1232.3 L470.6,1232.4 L471.4,1232.5 L472.2,1232.6 L473,1232.7 L473.8,1232.8 L474.6,1232.9 L475.4,1233 L476.2,1233.1 L477,1233.3 L477.8,1233.4 L478.6,1233.5 L479.4,1233.6 L480.2,1233.7 L481,1233.8 L481.8,1233.9 L482.6,1234 L483.4,1234 L484.2,1234.1 L485,1234.2 L485.8,1234.3 L486.6,1234.3 L487.4,1234.4 L488.2,1234.4 L489,1234.5 L489.8,1234.5 L490.6,1234.5 L491.4,1234.5 L492.2,1234.5 L493,1234.5 L493.8,1234.5 L494.6,1234.5 L495.4,1234.5 L496.2,1234.5 L497,1234.5 L497.8,1234.5 L498.6,1234.5 L499.4,1234.5 L500.2,1234.5 L501,1234.5 L501.8,1234.5 L502.6,1234.5 L503.4,1234.5 L504.2,1234.5 L505,1234.5 L505.8,1234.5 L506.6,1234.5 L507.4,1234.5 L508.2,1234.5 L509,1234.5 L509.8,1234.5 L510.6,1234.5 L511.4,1234.5 L512.2,1234.5 L513,1234.5 L513.8,1234.5 L514.6,1234.5 L515.4,1234.5 L516.2,1234.5 L517,1234.5 L517.8,1234.5 L518.6,1234.5 L519.4,1234.5 L520.2,1234.5 L521,1234.5 L521.8,1234.5 L522.6,1234.5 L523.4,1234.5 L524.2,1234.5 L525,1234.5 L525.8,1234.5 L526.6,1234.5 L527.4,1234.5 L528.2,1234.5 L529,1234.5 L529.8,1234.5 L530.6,1234.5 L531.4,1234.5 L532.2,1234.5 L533,1234.5 L533.8,1234.5 L534.6,1234.5 L535.4,1234.5 L536.2,1234.5 L537,1234.5 L537.8,1234.5 L538.6,1234.5 L539.4,1234.5 L540.2,1234.5 L541,1234.5 L541.8,1234.5 L542.6,1234.5 L543.4,1234.5 L544.2,1234.5 L545,1234.5 L545.8,1234.5 L546.6,1234.5 L547.4,1234.5 L548.2,1234.5 L549,1234.5 L549.8,1234.5 L550.6,1234.5 L551.4,1234.5 L551.4,1235 L343.4,1235 Z" fill="#f4b0b0" stroke="none"/>
<path d="M343.4,1234.5 L344.2,1234.5 L345,1234.5 L345.8,1234.5 L346.6,1234.5 L347.4,1234.5 L348.2,1234.5 L349,1234.5 L349.8,1234.5 L350.6,1234.5 L351.4,1234.5 L352.2,1234.5 L353,1234.5 L353.8,1234.5 L354.6,1234.5 L355.4,1234.5 L356.2,1234.5 L357,1234.5 L357.8,1234.3 L358.6,1233.7 L359.4,1232.8 L360.2,1231.8 L361,1230.7 L361.8,1229.1 L362.6,1228.2 L363.4,1226 L364.2,1222.4 L365,1217.8 L365.8,1211.8 L366.6,1207.1 L367.4,1201.8 L368.2,1195.6 L369,1191.1 L369.8,1188.2 L370.6,1183.9 L371.4,1179 L372.2,1176.8 L373,1172.3 L373.8,1164.4 L374.6,1159.2 L375.4,1158.7 L376.2,1159.6 L377,1158.4 L377.8,1156.1 L378.6,1153.5 L379.4,1148.1 L380.2,1142.7 L381,1142.3 L381.8,1144.2 L382.6,1144.8 L383.4,1142.3 L384.2,1140.3 L385,1141.5 L385.8,1141.2 L386.6,1141.4 L387.4,1142.5 L388.2,1139.9 L389,1135.8 L389.8,1132 L390.6,1131 L391.4,1136.3 L392.2,1138.9 L393,1135.4 L393.8,1134.7 L394.6,1138.7 L395.4,1139.9 L396.2,1135.4 L397,1134.1 L397.8,1136.9 L398.6,1138.3 L399.4,1138.8 L400.2,1140.4 L401,1141.9 L401.8,1141.4 L402.6,1141.8 L403.4,1145.1 L404.2,1146.3 L405,1145.2 L405.8,1147 L406.6,1149.8 L407.4,1150.6 L408.2,1151.2 L409,1153.3 L409.8,1152.3 L410.6,1150.9 L411.4,1154.9 L412.2,1160.4 L413,1162 L413.8,1162.1 L414.6,1164.8 L415.4,1167 L416.2,1167 L417,1166 L417.8,1165.9 L418.6,1166.7 L419.4,1166.7 L420.2,1168.7 L421,1170.2 L421.8,1170.4 L422.6,1172 L423.4,1174.8 L424.2,1180.3 L425,1184 L425.8,1184.8 L426.6,1186.6 L427.4,1186.8 L428.2,1186.7 L429,1190 L429.8,1194.3 L430.6,1197.3 L431.4,1199 L432.2,1201.8 L433,1204.8 L433.8,1206.6 L434.6,1208.5 L435.4,1210.5 L436.2,1212 L437,1213.3 L437.8,1215.4 L438.6,1218.3 L439.4,1220.2 L440.2,1220.7 L441,1220.8 L441.8,1221.9 L442.6,1223.4 L443.4,1223.9 L444.2,1224.8 L445,1226.4 L445.8,1227.1 L446.6,1227.1 L447.4,1227.3 L448.2,1228 L449,1229 L449.8,1229.4 L450.6,1229.2 L451.4,1228.6 L452.2,1228.9 L453,1230.1 L453.8,1229.6 L454.6,1228.2 L455.4,1229 L456.2,1230.2 L457,1230.6 L457.8,1230.8 L458.6,1230.9 L459.4,1231.1 L460.2,1231.2 L461,1231.3 L461.8,1231.4 L462.6,1231.5 L463.4,1231.6 L464.2,1231.7 L465,1231.8 L465.8,1231.9 L466.6,1232 L467.4,1232.1 L468.2,1232.2 L469,1232.2 L469.8,1232.3 L470.6,1232.4 L471.4,1232.5 L472.2,1232.6 L473,1232.7 L473.8,1232.8 L474.6,1232.9 L475.4,1233 L476.2,1233.1 L477,1233.3 L477.8,1233.4 L478.6,1233.5 L479.4,1233.6 L480.2,1233.7 L481,1233.8 L481.8,1233.9 L482.6,1234 L483.4,1234 L484.2,1234.1 L485,1234.2 L485.8,1234.3 L486.6,1234.3 L487.4,1234.4 L488.2,1234.4 L489,1234.5 L489.8,1234.5 L490.6,1234.5 L491.4,1234.5 L492.2,1234.5 L493,1234.5 L493.8,1234.5 L494.6,1234.5 L495.4,1234.5 L496.2,1234.5 L497,1234.5 L497.8,1234.5 L498.6,1234.5 L499.4,1234.5 L500.2,1234.5 L501,1234.5 L501.8,1234.5 L502.6,1234.5 L503.4,1234.5 L504.2,1234.5 L505,1234.5 L505.8,1234.5 L506.6,1234.5 L507.4,1234.5 L508.2,1234.5 L509,1234.5 L509.8,1234.5 L510.6,1234.5 L511.4,1234.5 L512.2,1234.5 L513,1234.5 L513.8,1234.5 L514.6,1234.5 L515.4,1234.5 L516.2,1234.5 L517,1234.5 L517.8,1234.5 L518.6,1234.5 L519.4,1234.5 L520.2,1234.5 L521,1234.5 L521.8,1234.5 L522.6,1234.5 L523.4,1234.5 L524.2,1234.5 L525,1234.5 L525.8,1234.5 L526.6,1234.5 L527.4,1234.5 L528.2,1234.5 L529,1234.5 L529.8,1234.5 L530.6,1234.5 L531.4,1234.5 L532.2,1234.5 L533,1234.5 L533.8,1234.5 L534.6,1234.5 L535.4,1234.5 L536.2,1234.5 L537,1234.5 L537.8,1234.5 L538.6,1234.5 L539.4,1234.5 L540.2,1234.5 L541,1234.5 L541.8,1234.5 L542.6,1234.5 L543.4,1234.5 L544.2,1234.5 L545,1234.5 L545.8,1234.5 L546.6,1234.5 L547.4,1234.5 L548.2,1234.5 L549,1234.5 L549.8,1234.5 L550.6,1234.5 L551.4,1234.5" fill="none" stroke="#e2452e" stroke-width="1.3"/>
<path d="M343.4,1267 L344.2,1267 L345,1267 L345.8,1267 L346.6,1267 L347.4,1267 L348.2,1267 L349,1267 L349.8,1267 L350.6,1267 L351.4,1267 L352.2,1267 L353,1267 L353.8,1267 L354.6,1267 L355.4,1267 L356.2,1267 L357,1267 L357.8,1267 L358.6,1267 L359.4,1267 L360.2,1267 L361,1267 L361.8,1267 L362.6,1267 L363.4,1267 L364.2,1267 L365,1267 L365.8,1266.8 L366.6,1266.5 L367.4,1266.1 L368.2,1265.7 L369,1265.3 L369.8,1264.8 L370.6,1264.4 L371.4,1263.9 L372.2,1263.6 L373,1263.2 L373.8,1261.3 L374.6,1261.7 L375.4,1262 L376.2,1261.6 L377,1261.5 L377.8,1260.6 L378.6,1259.9 L379.4,1259.9 L380.2,1259.9 L381,1259.3 L381.8,1258.5 L382.6,1257.2 L383.4,1255.5 L384.2,1254.9 L385,1255.6 L385.8,1254.7 L386.6,1251.7 L387.4,1250.1 L388.2,1250 L389,1249.3 L389.8,1248.3 L390.6,1246.3 L391.4,1243.4 L392.2,1243.2 L393,1244 L393.8,1243.7 L394.6,1242.1 L395.4,1237.7 L396.2,1233.2 L397,1229.9 L397.8,1228.9 L398.6,1229.9 L399.4,1228 L400.2,1224.6 L401,1223.5 L401.8,1222.6 L402.6,1219.8 L403.4,1216.5 L404.2,1214.4 L405,1213.9 L405.8,1213.5 L406.6,1211.8 L407.4,1209.9 L408.2,1207.7 L409,1204.2 L409.8,1199.9 L410.6,1195.8 L411.4,1191.8 L412.2,1188.8 L413,1188.3 L413.8,1187.1 L414.6,1181.3 L415.4,1177.5 L416.2,1178.9 L417,1178.7 L417.8,1176.6 L418.6,1174.6 L419.4,1172.6 L420.2,1170.6 L421,1169.2 L421.8,1169.2 L422.6,1168.3 L423.4,1167.9 L424.2,1166.8 L425,1163.7 L425.8,1163.5 L426.6,1165.6 L427.4,1167.5 L428.2,1168.3 L429,1170.6 L429.8,1176.6 L430.6,1180.5 L431.4,1179.1 L432.2,1179.6 L433,1183.3 L433.8,1186.6 L434.6,1189.7 L435.4,1194.1 L436.2,1198.8 L437,1202.1 L437.8,1206.4 L438.6,1213.3 L439.4,1217.4 L440.2,1218.6 L441,1222.6 L441.8,1228.4 L442.6,1233.9 L443.4,1238.9 L444.2,1240.6 L445,1240 L445.8,1241.9 L446.6,1246 L447.4,1246.7 L448.2,1245.6 L449,1247.3 L449.8,1249.2 L450.6,1250.7 L451.4,1252.9 L452.2,1254.4 L453,1254.9 L453.8,1256.4 L454.6,1257.8 L455.4,1258.7 L456.2,1260.5 L457,1260.4 L457.8,1259.6 L458.6,1260.8 L459.4,1261.9 L460.2,1262.6 L461,1263 L461.8,1263.2 L462.6,1263.1 L463.4,1263.1 L464.2,1263.3 L465,1263.5 L465.8,1263.7 L466.6,1263.8 L467.4,1264 L468.2,1264.1 L469,1264.2 L469.8,1264.4 L470.6,1264.5 L471.4,1264.6 L472.2,1264.7 L473,1264.8 L473.8,1264.9 L474.6,1265.1 L475.4,1265.2 L476.2,1265.3 L477,1265.4 L477.8,1265.6 L478.6,1265.7 L479.4,1265.8 L480.2,1265.9 L481,1266.1 L481.8,1266.2 L482.6,1266.3 L483.4,1266.4 L484.2,1266.5 L485,1266.6 L485.8,1266.7 L486.6,1266.8 L487.4,1266.8 L488.2,1266.9 L489,1266.9 L489.8,1267 L490.6,1267 L491.4,1267 L492.2,1267 L493,1267 L493.8,1267 L494.6,1267 L495.4,1267 L496.2,1267 L497,1267 L497.8,1267 L498.6,1267 L499.4,1267 L500.2,1267 L501,1267 L501.8,1267 L502.6,1267 L503.4,1267 L504.2,1267 L505,1267 L505.8,1267 L506.6,1267 L507.4,1267 L508.2,1267 L509,1267 L509.8,1267 L510.6,1267 L511.4,1267 L512.2,1267 L513,1267 L513.8,1267 L514.6,1267 L515.4,1267 L516.2,1267 L517,1267 L517.8,1267 L518.6,1267 L519.4,1267 L520.2,1267 L521,1267 L521.8,1267 L522.6,1267 L523.4,1267 L524.2,1267 L525,1267 L525.8,1267 L526.6,1267 L527.4,1267 L528.2,1267 L529,1267 L529.8,1267 L530.6,1267 L531.4,1267 L532.2,1267 L533,1267 L533.8,1267 L534.6,1267 L535.4,1267 L536.2,1267 L537,1267 L537.8,1267 L538.6,1267 L539.4,1267 L540.2,1267 L541,1267 L541.8,1267 L542.6,1267 L543.4,1267 L544.2,1267 L545,1267 L545.8,1267 L546.6,1267 L547.4,1267 L548.2,1267 L549,1267 L549.8,1267 L550.6,1267 L551.4,1267 L551.4,1267.5 L343.4,1267.5 Z" fill="#b1b1da" stroke="none"/>
<path d="M343.4,1267 L344.2,1267 L345,1267 L345.8,1267 L346.6,1267 L347.4,1267 L348.2,1267 L349,1267 L349.8,1267 L350.6,1267 L351.4,1267 L352.2,1267 L353,1267 L353.8,1267 L354.6,1267 L355.4,1267 L356.2,1267 L357,1267 L357.8,1267 L358.6,1267 L359.4,1267 L360.2,1267 L361,1267 L361.8,1267 L362.6,1267 L363.4,1267 L364.2,1267 L365,1267 L365.8,1266.8 L366.6,1266.5 L367.4,1266.1 L368.2,1265.7 L369,1265.3 L369.8,1264.8 L370.6,1264.4 L371.4,1263.9 L372.2,1263.6 L373,1263.2 L373.8,1261.3 L374.6,1261.7 L375.4,1262 L376.2,1261.6 L377,1261.5 L377.8,1260.6 L378.6,1259.9 L379.4,1259.9 L380.2,1259.9 L381,1259.3 L381.8,1258.5 L382.6,1257.2 L383.4,1255.5 L384.2,1254.9 L385,1255.6 L385.8,1254.7 L386.6,1251.7 L387.4,1250.1 L388.2,1250 L389,1249.3 L389.8,1248.3 L390.6,1246.3 L391.4,1243.4 L392.2,1243.2 L393,1244 L393.8,1243.7 L394.6,1242.1 L395.4,1237.7 L396.2,1233.2 L397,1229.9 L397.8,1228.9 L398.6,1229.9 L399.4,1228 L400.2,1224.6 L401,1223.5 L401.8,1222.6 L402.6,1219.8 L403.4,1216.5 L404.2,1214.4 L405,1213.9 L405.8,1213.5 L406.6,1211.8 L407.4,1209.9 L408.2,1207.7 L409,1204.2 L409.8,1199.9 L410.6,1195.8 L411.4,1191.8 L412.2,1188.8 L413,1188.3 L413.8,1187.1 L414.6,1181.3 L415.4,1177.5 L416.2,1178.9 L417,1178.7 L417.8,1176.6 L418.6,1174.6 L419.4,1172.6 L420.2,1170.6 L421,1169.2 L421.8,1169.2 L422.6,1168.3 L423.4,1167.9 L424.2,1166.8 L425,1163.7 L425.8,1163.5 L426.6,1165.6 L427.4,1167.5 L428.2,1168.3 L429,1170.6 L429.8,1176.6 L430.6,1180.5 L431.4,1179.1 L432.2,1179.6 L433,1183.3 L433.8,1186.6 L434.6,1189.7 L435.4,1194.1 L436.2,1198.8 L437,1202.1 L437.8,1206.4 L438.6,1213.3 L439.4,1217.4 L440.2,1218.6 L441,1222.6 L441.8,1228.4 L442.6,1233.9 L443.4,1238.9 L444.2,1240.6 L445,1240 L445.8,1241.9 L446.6,1246 L447.4,1246.7 L448.2,1245.6 L449,1247.3 L449.8,1249.2 L450.6,1250.7 L451.4,1252.9 L452.2,1254.4 L453,1254.9 L453.8,1256.4 L454.6,1257.8 L455.4,1258.7 L456.2,1260.5 L457,1260.4 L457.8,1259.6 L458.6,1260.8 L459.4,1261.9 L460.2,1262.6 L461,1263 L461.8,1263.2 L462.6,1263.1 L463.4,1263.1 L464.2,1263.3 L465,1263.5 L465.8,1263.7 L466.6,1263.8 L467.4,1264 L468.2,1264.1 L469,1264.2 L469.8,1264.4 L470.6,1264.5 L471.4,1264.6 L472.2,1264.7 L473,1264.8 L473.8,1264.9 L474.6,1265.1 L475.4,1265.2 L476.2,1265.3 L477,1265.4 L477.8,1265.6 L478.6,1265.7 L479.4,1265.8 L480.2,1265.9 L481,1266.1 L481.8,1266.2 L482.6,1266.3 L483.4,1266.4 L484.2,1266.5 L485,1266.6 L485.8,1266.7 L486.6,1266.8 L487.4,1266.8 L488.2,1266.9 L489,1266.9 L489.8,1267 L490.6,1267 L491.4,1267 L492.2,1267 L493,1267 L493.8,1267 L494.6,1267 L495.4,1267 L496.2,1267 L497,1267 L497.8,1267 L498.6,1267 L499.4,1267 L500.2,1267 L501,1267 L501.8,1267 L502.6,1267 L503.4,1267 L504.2,1267 L505,1267 L505.8,1267 L506.6,1267 L507.4,1267 L508.2,1267 L509,1267 L509.8,1267 L510.6,1267 L511.4,1267 L512.2,1267 L513,1267 L513.8,1267 L514.6,1267 L515.4,1267 L516.2,1267 L517,1267 L517.8,1267 L518.6,1267 L519.4,1267 L520.2,1267 L521,1267 L521.8,1267 L522.6,1267 L523.4,1267 L524.2,1267 L525,1267 L525.8,1267 L526.6,1267 L527.4,1267 L528.2,1267 L529,1267 L529.8,1267 L530.6,1267 L531.4,1267 L532.2,1267 L533,1267 L533.8,1267 L534.6,1267 L535.4,1267 L536.2,1267 L537,1267 L537.8,1267 L538.6,1267 L539.4,1267 L540.2,1267 L541,1267 L541.8,1267 L542.6,1267 L543.4,1267 L544.2,1267 L545,1267 L545.8,1267 L546.6,1267 L547.4,1267 L548.2,1267 L549,1267 L549.8,1267 L550.6,1267 L551.4,1267" fill="none" stroke="#3b4ea2" stroke-width="1.3"/>
<rect x="341.4" y="1058" width="212.2" height="211.2" fill="none" stroke="#111" stroke-width="1.8"/>
<text transform="translate(376.5,1043.6) scale(0.9600,1)" font-size="41.4">A*02:03</text>
<path d="M343.4,1495.9 L344.2,1495.9 L345,1495.9 L345.8,1495.9 L346.6,1495.9 L347.4,1495.9 L348.2,1495.9 L349,1495.9 L349.8,1495.9 L350.6,1495.9 L351.4,1495.8 L352.2,1495.8 L353,1495.7 L353.8,1495.4 L354.6,1495.1 L355.4,1494.4 L356.2,1493.2 L357,1491.4 L357.8,1488.5 L358.6,1484.2 L359.4,1478.1 L360.2,1469.6 L361,1458.5 L361.8,1444.3 L362.6,1427.3 L363.4,1407.7 L364.2,1386.3 L365,1364.2 L365.8,1343 L366.6,1324.3 L367.4,1309.9 L368.2,1300.9 L369,1298.5 L369.8,1303.1 L370.6,1311.2 L371.4,1321.5 L372.2,1333.3 L373,1345.9 L373.8,1358.9 L374.6,1372 L375.4,1384.8 L376.2,1397.1 L377,1408.8 L377.8,1419.6 L378.6,1429.6 L379.4,1438.7 L380.2,1446.9 L381,1454.2 L381.8,1460.7 L382.6,1466.3 L383.4,1471.2 L384.2,1475.4 L385,1479 L385.8,1482 L386.6,1484.6 L387.4,1486.7 L388.2,1488.5 L389,1490 L389.8,1491.2 L390.6,1492.1 L391.4,1492.9 L392.2,1493.6 L393,1493.9 L393.8,1494 L394.6,1494.1 L395.4,1494.2 L396.2,1494.3 L397,1494.4 L397.8,1494.5 L398.6,1494.5 L399.4,1494.6 L400.2,1494.7 L401,1494.7 L401.8,1494.8 L402.6,1494.9 L403.4,1494.9 L404.2,1495 L405,1495 L405.8,1495.1 L406.6,1495.1 L407.4,1495.1 L408.2,1495.2 L409,1495.2 L409.8,1495.3 L410.6,1495.3 L411.4,1495.3 L412.2,1495.3 L413,1495.4 L413.8,1495.4 L414.6,1495.4 L415.4,1495.5 L416.2,1495.5 L417,1495.5 L417.8,1495.5 L418.6,1495.5 L419.4,1495.6 L420.2,1495.6 L421,1495.6 L421.8,1495.6 L422.6,1495.6 L423.4,1495.6 L424.2,1495.7 L425,1495.7 L425.8,1495.7 L426.6,1495.7 L427.4,1495.7 L428.2,1495.7 L429,1495.7 L429.8,1495.7 L430.6,1495.7 L431.4,1495.7 L432.2,1495.8 L433,1495.8 L433.8,1495.8 L434.6,1495.8 L435.4,1495.8 L436.2,1495.8 L437,1495.8 L437.8,1495.8 L438.6,1495.8 L439.4,1495.8 L440.2,1495.8 L441,1495.8 L441.8,1495.8 L442.6,1495.8 L443.4,1495.8 L444.2,1495.8 L445,1495.8 L445.8,1495.8 L446.6,1495.8 L447.4,1495.8 L448.2,1495.9 L449,1495.9 L449.8,1495.9 L450.6,1495.9 L451.4,1495.9 L452.2,1495.9 L453,1495.9 L453.8,1495.9 L454.6,1495.9 L455.4,1495.9 L456.2,1495.9 L457,1495.9 L457.8,1495.9 L458.6,1495.9 L459.4,1495.9 L460.2,1495.9 L461,1495.9 L461.8,1495.9 L462.6,1495.9 L463.4,1495.9 L464.2,1495.9 L465,1495.9 L465.8,1495.9 L466.6,1495.9 L467.4,1495.9 L468.2,1495.9 L469,1495.9 L469.8,1495.9 L470.6,1495.9 L471.4,1495.9 L472.2,1495.9 L473,1495.9 L473.8,1495.9 L474.6,1495.9 L475.4,1495.9 L476.2,1495.9 L477,1495.9 L477.8,1495.9 L478.6,1495.9 L479.4,1495.9 L480.2,1495.9 L481,1495.9 L481.8,1495.9 L482.6,1495.9 L483.4,1495.9 L484.2,1495.9 L485,1495.9 L485.8,1495.9 L486.6,1495.9 L487.4,1495.9 L488.2,1495.9 L489,1495.9 L489.8,1495.9 L490.6,1495.9 L491.4,1495.9 L492.2,1495.9 L493,1495.9 L493.8,1495.9 L494.6,1495.9 L495.4,1495.9 L496.2,1495.9 L497,1495.9 L497.8,1495.9 L498.6,1495.9 L499.4,1495.9 L500.2,1495.9 L501,1495.9 L501.8,1495.9 L502.6,1495.9 L503.4,1495.9 L504.2,1495.9 L505,1495.9 L505.8,1495.9 L506.6,1495.9 L507.4,1495.9 L508.2,1495.9 L509,1495.9 L509.8,1495.9 L510.6,1495.9 L511.4,1495.9 L512.2,1495.9 L513,1495.9 L513.8,1495.9 L514.6,1495.9 L515.4,1495.9 L516.2,1495.9 L517,1495.9 L517.8,1495.9 L518.6,1495.9 L519.4,1495.9 L520.2,1495.9 L521,1495.9 L521.8,1495.9 L522.6,1495.9 L523.4,1495.9 L524.2,1495.9 L525,1495.9 L525.8,1495.9 L526.6,1495.9 L527.4,1495.9 L528.2,1495.9 L529,1495.9 L529.8,1495.9 L530.6,1495.9 L531.4,1495.9 L532.2,1495.9 L533,1495.9 L533.8,1495.9 L534.6,1495.9 L535.4,1495.9 L536.2,1495.9 L537,1495.9 L537.8,1495.9 L538.6,1495.9 L539.4,1495.9 L540.2,1495.9 L541,1495.9 L541.8,1495.9 L542.6,1495.9 L543.4,1495.9 L544.2,1495.9 L545,1495.9 L545.8,1495.9 L546.6,1495.9 L547.4,1495.9 L548.2,1495.9 L549,1495.9 L549.8,1495.9 L550.6,1495.9 L551.4,1495.9" fill="none" stroke="#777" stroke-width="1.6" stroke-dasharray="4,3"/>
<path d="M343.4,1495.9 L344.2,1495.9 L345,1495.9 L345.8,1495.9 L346.6,1495.9 L347.4,1495.9 L348.2,1495.9 L349,1495.9 L349.8,1495.9 L350.6,1495.9 L351.4,1495.9 L352.2,1495.9 L353,1495.9 L353.8,1495.9 L354.6,1495.9 L355.4,1495.9 L356.2,1495.9 L357,1495.9 L357.8,1495.9 L358.6,1495.9 L359.4,1495.9 L360.2,1495.9 L361,1495.9 L361.8,1495.9 L362.6,1495.9 L363.4,1495.9 L364.2,1495.9 L365,1495.9 L365.8,1495.9 L366.6,1495.9 L367.4,1495.9 L368.2,1495.9 L369,1495.9 L369.8,1495.9 L370.6,1495.9 L371.4,1495.9 L372.2,1495.9 L373,1495.9 L373.8,1495.9 L374.6,1495.9 L375.4,1495.9 L376.2,1495.9 L377,1495.9 L377.8,1495.9 L378.6,1495.9 L379.4,1495.9 L380.2,1495.9 L381,1495.9 L381.8,1495.9 L382.6,1495.9 L383.4,1495.9 L384.2,1495.9 L385,1495.9 L385.8,1495.9 L386.6,1495.9 L387.4,1495.9 L388.2,1495.9 L389,1495.9 L389.8,1495.9 L390.6,1495.9 L391.4,1495.9 L392.2,1495.9 L393,1495.9 L393.8,1495.9 L394.6,1495.9 L395.4,1495.9 L396.2,1495.9 L397,1495.9 L397.8,1495.9 L398.6,1495.9 L399.4,1495.9 L400.2,1495.9 L401,1495.9 L401.8,1495.9 L402.6,1495.9 L403.4,1495.9 L404.2,1495.8 L405,1495.8 L405.8,1495.8 L406.6,1495.8 L407.4,1495.8 L408.2,1495.7 L409,1495.7 L409.8,1495.7 L410.6,1495.6 L411.4,1495.5 L412.2,1495.4 L413,1495.3 L413.8,1495.2 L414.6,1495.1 L415.4,1494.9 L416.2,1494.7 L417,1494.4 L417.8,1494.1 L418.6,1493.8 L419.4,1493.4 L420.2,1492.9 L421,1492.3 L421.8,1491.6 L422.6,1490.7 L423.4,1490.3 L424.2,1489 L425,1488.6 L425.8,1486.9 L426.6,1485.1 L427.4,1483.7 L428.2,1482.8 L429,1479.9 L429.8,1477.8 L430.6,1475.6 L431.4,1473.3 L432.2,1470.1 L433,1467.1 L433.8,1462.7 L434.6,1459.2 L435.4,1454.6 L436.2,1450.5 L437,1447.6 L437.8,1441.4 L438.6,1434.1 L439.4,1432 L440.2,1424.7 L441,1419.9 L441.8,1413.9 L442.6,1406 L443.4,1398.4 L444.2,1391.8 L445,1385.4 L445.8,1377.7 L446.6,1375.2 L447.4,1364.1 L448.2,1358.1 L449,1352.6 L449.8,1346 L450.6,1341.5 L451.4,1331.7 L452.2,1330.2 L453,1326.8 L453.8,1319.1 L454.6,1316.3 L455.4,1311.7 L456.2,1305.2 L457,1306.7 L457.8,1304.5 L458.6,1298.5 L459.4,1306.7 L460.2,1302.7 L461,1301.4 L461.8,1301.5 L462.6,1301.1 L463.4,1309.3 L464.2,1308.3 L465,1312.1 L465.8,1315.4 L466.6,1318.8 L467.4,1323.4 L468.2,1322.9 L469,1325.6 L469.8,1333.2 L470.6,1333.5 L471.4,1340.4 L472.2,1345.7 L473,1353.3 L473.8,1350.8 L474.6,1356.3 L475.4,1363.1 L476.2,1368.1 L477,1374.6 L477.8,1376.5 L478.6,1382.5 L479.4,1386.5 L480.2,1392.1 L481,1399.3 L481.8,1404.3 L482.6,1406.3 L483.4,1413.8 L484.2,1415.8 L485,1419.5 L485.8,1426.5 L486.6,1428.4 L487.4,1433.2 L488.2,1436.7 L489,1441.6 L489.8,1444.7 L490.6,1447.8 L491.4,1450 L492.2,1454.1 L493,1457.3 L493.8,1461.5 L494.6,1463 L495.4,1466.2 L496.2,1468.3 L497,1470.3 L497.8,1472.1 L498.6,1474.3 L499.4,1476.3 L500.2,1478.2 L501,1479.2 L501.8,1481.6 L502.6,1482.6 L503.4,1483.4 L504.2,1485.1 L505,1485.9 L505.8,1486.8 L506.6,1487.5 L507.4,1488.5 L508.2,1489.9 L509,1490.2 L509.8,1490.8 L510.6,1491.3 L511.4,1491.8 L512.2,1492.3 L513,1492.8 L513.8,1493.1 L514.6,1493.4 L515.4,1493.7 L516.2,1494 L517,1494.2 L517.8,1494.4 L518.6,1494.6 L519.4,1494.8 L520.2,1494.9 L521,1495.1 L521.8,1495.2 L522.6,1495.3 L523.4,1495.4 L524.2,1495.4 L525,1495.5 L525.8,1495.6 L526.6,1495.6 L527.4,1495.6 L528.2,1495.7 L529,1495.7 L529.8,1495.7 L530.6,1495.8 L531.4,1495.8 L532.2,1495.8 L533,1495.8 L533.8,1495.8 L534.6,1495.8 L535.4,1495.9 L536.2,1495.9 L537,1495.9 L537.8,1495.9 L538.6,1495.9 L539.4,1495.9 L540.2,1495.9 L541,1495.9 L541.8,1495.9 L542.6,1495.9 L543.4,1495.9 L544.2,1495.9 L545,1495.9 L545.8,1495.9 L546.6,1495.9 L547.4,1495.9 L548.2,1495.9 L549,1495.9 L549.8,1495.9 L550.6,1495.9 L551.4,1495.9" fill="none" stroke="#000" stroke-width="1.6"/>
<rect x="341.4" y="1286.1" width="212.2" height="211" fill="none" stroke="#111" stroke-width="1.6"/>
<line x1="342.6" y1="1269.2" x2="342.6" y2="1275.2" stroke="#000" stroke-width="1.4"/>
<line x1="362.9" y1="1269.2" x2="362.9" y2="1275.2" stroke="#000" stroke-width="1.4"/>
<line x1="386.2" y1="1269.2" x2="386.2" y2="1275.2" stroke="#000" stroke-width="1.4"/>
<line x1="437.2" y1="1269.2" x2="437.2" y2="1275.2" stroke="#000" stroke-width="1.4"/>
<line x1="485.9" y1="1269.2" x2="485.9" y2="1275.2" stroke="#000" stroke-width="1.4"/>
<line x1="533.2" y1="1269.2" x2="533.2" y2="1275.2" stroke="#000" stroke-width="1.4"/>
<line x1="347.9" y1="1269.2" x2="347.9" y2="1272.2" stroke="#000" stroke-width="1.1"/>
<line x1="353.4" y1="1269.2" x2="353.4" y2="1272.2" stroke="#000" stroke-width="1.1"/>
<line x1="357.4" y1="1269.2" x2="357.4" y2="1272.2" stroke="#000" stroke-width="1.1"/>
<line x1="367.4" y1="1269.2" x2="367.4" y2="1272.2" stroke="#000" stroke-width="1.1"/>
<line x1="372.4" y1="1269.2" x2="372.4" y2="1272.2" stroke="#000" stroke-width="1.1"/>
<line x1="377.4" y1="1269.2" x2="377.4" y2="1272.2" stroke="#000" stroke-width="1.1"/>
<line x1="382.4" y1="1269.2" x2="382.4" y2="1272.2" stroke="#000" stroke-width="1.1"/>
<line x1="403.4" y1="1269.2" x2="403.4" y2="1272.2" stroke="#000" stroke-width="1.1"/>
<line x1="409.4" y1="1269.2" x2="409.4" y2="1272.2" stroke="#000" stroke-width="1.1"/>
<line x1="413.4" y1="1269.2" x2="413.4" y2="1272.2" stroke="#000" stroke-width="1.1"/>
<line x1="419.4" y1="1269.2" x2="419.4" y2="1272.2" stroke="#000" stroke-width="1.1"/>
<line x1="423.4" y1="1269.2" x2="423.4" y2="1272.2" stroke="#000" stroke-width="1.1"/>
<line x1="426.4" y1="1269.2" x2="426.4" y2="1272.2" stroke="#000" stroke-width="1.1"/>
<line x1="429.4" y1="1269.2" x2="429.4" y2="1272.2" stroke="#000" stroke-width="1.1"/>
<line x1="431.4" y1="1269.2" x2="431.4" y2="1272.2" stroke="#000" stroke-width="1.1"/>
<line x1="434.4" y1="1269.2" x2="434.4" y2="1272.2" stroke="#000" stroke-width="1.1"/>
<line x1="452.4" y1="1269.2" x2="452.4" y2="1272.2" stroke="#000" stroke-width="1.1"/>
<line x1="461.4" y1="1269.2" x2="461.4" y2="1272.2" stroke="#000" stroke-width="1.1"/>
<line x1="467.4" y1="1269.2" x2="467.4" y2="1272.2" stroke="#000" stroke-width="1.1"/>
<line x1="472.4" y1="1269.2" x2="472.4" y2="1272.2" stroke="#000" stroke-width="1.1"/>
<line x1="476.4" y1="1269.2" x2="476.4" y2="1272.2" stroke="#000" stroke-width="1.1"/>
<line x1="479.4" y1="1269.2" x2="479.4" y2="1272.2" stroke="#000" stroke-width="1.1"/>
<line x1="481.4" y1="1269.2" x2="481.4" y2="1272.2" stroke="#000" stroke-width="1.1"/>
<line x1="483.4" y1="1269.2" x2="483.4" y2="1272.2" stroke="#000" stroke-width="1.1"/>
<line x1="501.4" y1="1269.2" x2="501.4" y2="1272.2" stroke="#000" stroke-width="1.1"/>
<line x1="508.4" y1="1269.2" x2="508.4" y2="1272.2" stroke="#000" stroke-width="1.1"/>
<line x1="513.4" y1="1269.2" x2="513.4" y2="1272.2" stroke="#000" stroke-width="1.1"/>
<line x1="518.4" y1="1269.2" x2="518.4" y2="1272.2" stroke="#000" stroke-width="1.1"/>
<line x1="521.4" y1="1269.2" x2="521.4" y2="1272.2" stroke="#000" stroke-width="1.1"/>
<line x1="524.4" y1="1269.2" x2="524.4" y2="1272.2" stroke="#000" stroke-width="1.1"/>
<line x1="527.4" y1="1269.2" x2="527.4" y2="1272.2" stroke="#000" stroke-width="1.1"/>
<line x1="529.4" y1="1269.2" x2="529.4" y2="1272.2" stroke="#000" stroke-width="1.1"/>
<line x1="531.4" y1="1269.2" x2="531.4" y2="1272.2" stroke="#000" stroke-width="1.1"/>
<line x1="547.4" y1="1269.2" x2="547.4" y2="1272.2" stroke="#000" stroke-width="1.1"/>
<line x1="550.4" y1="1269.2" x2="550.4" y2="1272.2" stroke="#000" stroke-width="1.1"/>
<line x1="342.6" y1="1497.1" x2="342.6" y2="1503.1" stroke="#000" stroke-width="1.4"/>
<line x1="362.9" y1="1497.1" x2="362.9" y2="1503.1" stroke="#000" stroke-width="1.4"/>
<line x1="386.2" y1="1497.1" x2="386.2" y2="1503.1" stroke="#000" stroke-width="1.4"/>
<line x1="437.2" y1="1497.1" x2="437.2" y2="1503.1" stroke="#000" stroke-width="1.4"/>
<line x1="485.9" y1="1497.1" x2="485.9" y2="1503.1" stroke="#000" stroke-width="1.4"/>
<line x1="533.2" y1="1497.1" x2="533.2" y2="1503.1" stroke="#000" stroke-width="1.4"/>
<line x1="347.9" y1="1497.1" x2="347.9" y2="1500.1" stroke="#000" stroke-width="1.1"/>
<line x1="353.4" y1="1497.1" x2="353.4" y2="1500.1" stroke="#000" stroke-width="1.1"/>
<line x1="357.4" y1="1497.1" x2="357.4" y2="1500.1" stroke="#000" stroke-width="1.1"/>
<line x1="367.4" y1="1497.1" x2="367.4" y2="1500.1" stroke="#000" stroke-width="1.1"/>
<line x1="372.4" y1="1497.1" x2="372.4" y2="1500.1" stroke="#000" stroke-width="1.1"/>
<line x1="377.4" y1="1497.1" x2="377.4" y2="1500.1" stroke="#000" stroke-width="1.1"/>
<line x1="382.4" y1="1497.1" x2="382.4" y2="1500.1" stroke="#000" stroke-width="1.1"/>
<line x1="403.4" y1="1497.1" x2="403.4" y2="1500.1" stroke="#000" stroke-width="1.1"/>
<line x1="409.4" y1="1497.1" x2="409.4" y2="1500.1" stroke="#000" stroke-width="1.1"/>
<line x1="413.4" y1="1497.1" x2="413.4" y2="1500.1" stroke="#000" stroke-width="1.1"/>
<line x1="419.4" y1="1497.1" x2="419.4" y2="1500.1" stroke="#000" stroke-width="1.1"/>
<line x1="423.4" y1="1497.1" x2="423.4" y2="1500.1" stroke="#000" stroke-width="1.1"/>
<line x1="426.4" y1="1497.1" x2="426.4" y2="1500.1" stroke="#000" stroke-width="1.1"/>
<line x1="429.4" y1="1497.1" x2="429.4" y2="1500.1" stroke="#000" stroke-width="1.1"/>
<line x1="431.4" y1="1497.1" x2="431.4" y2="1500.1" stroke="#000" stroke-width="1.1"/>
<line x1="434.4" y1="1497.1" x2="434.4" y2="1500.1" stroke="#000" stroke-width="1.1"/>
<line x1="452.4" y1="1497.1" x2="452.4" y2="1500.1" stroke="#000" stroke-width="1.1"/>
<line x1="461.4" y1="1497.1" x2="461.4" y2="1500.1" stroke="#000" stroke-width="1.1"/>
<line x1="467.4" y1="1497.1" x2="467.4" y2="1500.1" stroke="#000" stroke-width="1.1"/>
<line x1="472.4" y1="1497.1" x2="472.4" y2="1500.1" stroke="#000" stroke-width="1.1"/>
<line x1="476.4" y1="1497.1" x2="476.4" y2="1500.1" stroke="#000" stroke-width="1.1"/>
<line x1="479.4" y1="1497.1" x2="479.4" y2="1500.1" stroke="#000" stroke-width="1.1"/>
<line x1="481.4" y1="1497.1" x2="481.4" y2="1500.1" stroke="#000" stroke-width="1.1"/>
<line x1="483.4" y1="1497.1" x2="483.4" y2="1500.1" stroke="#000" stroke-width="1.1"/>
<line x1="501.4" y1="1497.1" x2="501.4" y2="1500.1" stroke="#000" stroke-width="1.1"/>
<line x1="508.4" y1="1497.1" x2="508.4" y2="1500.1" stroke="#000" stroke-width="1.1"/>
<line x1="513.4" y1="1497.1" x2="513.4" y2="1500.1" stroke="#000" stroke-width="1.1"/>
<line x1="518.4" y1="1497.1" x2="518.4" y2="1500.1" stroke="#000" stroke-width="1.1"/>
<line x1="521.4" y1="1497.1" x2="521.4" y2="1500.1" stroke="#000" stroke-width="1.1"/>
<line x1="524.4" y1="1497.1" x2="524.4" y2="1500.1" stroke="#000" stroke-width="1.1"/>
<line x1="527.4" y1="1497.1" x2="527.4" y2="1500.1" stroke="#000" stroke-width="1.1"/>
<line x1="529.4" y1="1497.1" x2="529.4" y2="1500.1" stroke="#000" stroke-width="1.1"/>
<line x1="531.4" y1="1497.1" x2="531.4" y2="1500.1" stroke="#000" stroke-width="1.1"/>
<line x1="547.4" y1="1497.1" x2="547.4" y2="1500.1" stroke="#000" stroke-width="1.1"/>
<line x1="550.4" y1="1497.1" x2="550.4" y2="1500.1" stroke="#000" stroke-width="1.1"/>
<line x1="336.9" y1="1296.1" x2="341.4" y2="1296.1" stroke="#000" stroke-width="1.4"/>
<line x1="339.4" y1="1304.1" x2="341.4" y2="1304.1" stroke="#000" stroke-width="1"/>
<line x1="339.4" y1="1312.1" x2="341.4" y2="1312.1" stroke="#000" stroke-width="1"/>
<line x1="339.4" y1="1320.1" x2="341.4" y2="1320.1" stroke="#000" stroke-width="1"/>
<line x1="339.4" y1="1328.1" x2="341.4" y2="1328.1" stroke="#000" stroke-width="1"/>
<line x1="336.9" y1="1336.3" x2="341.4" y2="1336.3" stroke="#000" stroke-width="1.4"/>
<line x1="339.4" y1="1344.3" x2="341.4" y2="1344.3" stroke="#000" stroke-width="1"/>
<line x1="339.4" y1="1352.3" x2="341.4" y2="1352.3" stroke="#000" stroke-width="1"/>
<line x1="339.4" y1="1360.3" x2="341.4" y2="1360.3" stroke="#000" stroke-width="1"/>
<line x1="339.4" y1="1368.3" x2="341.4" y2="1368.3" stroke="#000" stroke-width="1"/>
<line x1="336.9" y1="1376.5" x2="341.4" y2="1376.5" stroke="#000" stroke-width="1.4"/>
<line x1="339.4" y1="1384.5" x2="341.4" y2="1384.5" stroke="#000" stroke-width="1"/>
<line x1="339.4" y1="1392.5" x2="341.4" y2="1392.5" stroke="#000" stroke-width="1"/>
<line x1="339.4" y1="1400.5" x2="341.4" y2="1400.5" stroke="#000" stroke-width="1"/>
<line x1="339.4" y1="1408.5" x2="341.4" y2="1408.5" stroke="#000" stroke-width="1"/>
<line x1="336.9" y1="1416.7" x2="341.4" y2="1416.7" stroke="#000" stroke-width="1.4"/>
<line x1="339.4" y1="1424.7" x2="341.4" y2="1424.7" stroke="#000" stroke-width="1"/>
<line x1="339.4" y1="1432.7" x2="341.4" y2="1432.7" stroke="#000" stroke-width="1"/>
<line x1="339.4" y1="1440.7" x2="341.4" y2="1440.7" stroke="#000" stroke-width="1"/>
<line x1="339.4" y1="1448.7" x2="341.4" y2="1448.7" stroke="#000" stroke-width="1"/>
<line x1="336.9" y1="1456.9" x2="341.4" y2="1456.9" stroke="#000" stroke-width="1.4"/>
<line x1="339.4" y1="1464.9" x2="341.4" y2="1464.9" stroke="#000" stroke-width="1"/>
<line x1="339.4" y1="1472.9" x2="341.4" y2="1472.9" stroke="#000" stroke-width="1"/>
<line x1="339.4" y1="1480.9" x2="341.4" y2="1480.9" stroke="#000" stroke-width="1"/>
<line x1="339.4" y1="1488.9" x2="341.4" y2="1488.9" stroke="#000" stroke-width="1"/>
<line x1="336.9" y1="1497.1" x2="341.4" y2="1497.1" stroke="#000" stroke-width="1.4"/>
<path d="M561.5,1169 L562.3,1169 L563.1,1169 L563.9,1169 L564.7,1169 L565.5,1169 L566.3,1169 L567.1,1169 L567.9,1169 L568.7,1169 L569.5,1169 L570.3,1169 L571.1,1169 L571.9,1169 L572.7,1169 L573.5,1169 L574.3,1169 L575.1,1169 L575.9,1169 L576.7,1169 L577.5,1169 L578.3,1168.9 L579.1,1166.3 L579.9,1161.1 L580.7,1154.2 L581.5,1147.9 L582.3,1140.5 L583.1,1130.4 L583.9,1121.8 L584.7,1115.6 L585.5,1110.2 L586.3,1104.7 L587.1,1098.4 L587.9,1091.6 L588.7,1086.4 L589.5,1083.2 L590.3,1079.5 L591.1,1075.9 L591.9,1073.6 L592.7,1071.5 L593.5,1068.2 L594.3,1065.3 L595.1,1065.7 L595.9,1067.9 L596.7,1068.8 L597.5,1069.5 L598.3,1072.6 L599.1,1077.9 L599.9,1085.9 L600.7,1095.7 L601.5,1103.8 L602.3,1110 L603.1,1114.7 L603.9,1119.8 L604.7,1124.7 L605.5,1129.3 L606.3,1133.2 L607.1,1136.2 L607.9,1139.6 L608.7,1142.9 L609.5,1145.3 L610.3,1147.5 L611.1,1149.5 L611.9,1151.1 L612.7,1153.1 L613.5,1155.4 L614.3,1157 L615.1,1157.8 L615.9,1158.1 L616.7,1158.6 L617.5,1159.6 L618.3,1160.4 L619.1,1161.1 L619.9,1161.4 L620.7,1161.1 L621.5,1161.3 L622.3,1161.9 L623.1,1162.1 L623.9,1162.6 L624.7,1163.2 L625.5,1163 L626.3,1162.9 L627.1,1163.2 L627.9,1163.3 L628.7,1163.3 L629.5,1163.5 L630.3,1163.6 L631.1,1163.8 L631.9,1164.4 L632.7,1164.9 L633.5,1164.9 L634.3,1164.6 L635.1,1164.6 L635.9,1165 L636.7,1164.8 L637.5,1164.7 L638.3,1165 L639.1,1164.9 L639.9,1165 L640.7,1165.1 L641.5,1165.2 L642.3,1165.3 L643.1,1165.4 L643.9,1165.5 L644.7,1165.7 L645.5,1165.9 L646.3,1166 L647.1,1166.2 L647.9,1166.4 L648.7,1166.6 L649.5,1166.9 L650.3,1167.1 L651.1,1167.3 L651.9,1167.4 L652.7,1167.6 L653.5,1167.8 L654.3,1167.9 L655.1,1168 L655.9,1168.1 L656.7,1168.3 L657.5,1168.4 L658.3,1168.5 L659.1,1168.6 L659.9,1168.7 L660.7,1168.8 L661.5,1168.9 L662.3,1168.9 L663.1,1169 L663.9,1169 L664.7,1169 L665.5,1169 L666.3,1169 L667.1,1169 L667.9,1169 L668.7,1169 L669.5,1169 L670.3,1169 L671.1,1169 L671.9,1169 L672.7,1169 L673.5,1169 L674.3,1169 L675.1,1169 L675.9,1169 L676.7,1169 L677.5,1169 L678.3,1169 L679.1,1169 L679.9,1169 L680.7,1169 L681.5,1169 L682.3,1169 L683.1,1169 L683.9,1169 L684.7,1169 L685.5,1169 L686.3,1169 L687.1,1169 L687.9,1169 L688.7,1169 L689.5,1169 L690.3,1169 L691.1,1169 L691.9,1169 L692.7,1169 L693.5,1169 L694.3,1169 L695.1,1169 L695.9,1169 L696.7,1169 L697.5,1169 L698.3,1169 L699.1,1169 L699.9,1169 L700.7,1169 L701.5,1169 L702.3,1169 L703.1,1169 L703.9,1169 L704.7,1169 L705.5,1169 L706.3,1169 L707.1,1169 L707.9,1169 L708.7,1169 L709.5,1169 L710.3,1169 L711.1,1169 L711.9,1169 L712.7,1169 L713.5,1169 L714.3,1169 L715.1,1169 L715.9,1169 L716.7,1169 L717.5,1169 L718.3,1169 L719.1,1169 L719.9,1169 L720.7,1169 L721.5,1169 L722.3,1169 L723.1,1169 L723.9,1169 L724.7,1169 L725.5,1169 L726.3,1169 L727.1,1169 L727.9,1169 L728.7,1169 L729.5,1169 L730.3,1169 L731.1,1169 L731.9,1169 L732.7,1169 L733.5,1169 L734.3,1169 L735.1,1169 L735.9,1169 L736.7,1169 L737.5,1169 L738.3,1169 L739.1,1169 L739.9,1169 L740.7,1169 L741.5,1169 L742.3,1169 L743.1,1169 L743.9,1169 L744.7,1169 L745.5,1169 L746.3,1169 L747.1,1169 L747.9,1169 L748.7,1169 L749.5,1169 L750.3,1169 L751.1,1169 L751.9,1169 L752.7,1169 L753.5,1169 L754.3,1169 L755.1,1169 L755.9,1169 L756.7,1169 L757.5,1169 L758.3,1169 L759.1,1169 L759.9,1169 L760.7,1169 L761.5,1169 L762.3,1169 L763.1,1169 L763.9,1169 L764.7,1169 L765.5,1169 L766.3,1169 L767.1,1169 L767.9,1169 L768.7,1169 L769.5,1169" fill="none" stroke="#1a1a1a" stroke-width="2.1" stroke-dasharray="4.5,3.5"/>
<path d="M561.5,1201.8 L562.3,1201.8 L563.1,1201.8 L563.9,1201.8 L564.7,1201.8 L565.5,1201.8 L566.3,1201.8 L567.1,1201.8 L567.9,1201.8 L568.7,1201.8 L569.5,1201.8 L570.3,1201.8 L571.1,1201.8 L571.9,1201.8 L572.7,1201.8 L573.5,1201.8 L574.3,1201.8 L575.1,1201.8 L575.9,1201.8 L576.7,1201.8 L577.5,1201.8 L578.3,1201.8 L579.1,1201.7 L579.9,1200.6 L580.7,1198.5 L581.5,1196.4 L582.3,1193.4 L583.1,1189.1 L583.9,1182.2 L584.7,1175.3 L585.5,1170.8 L586.3,1168.2 L587.1,1164.4 L587.9,1159.3 L588.7,1156.7 L589.5,1153.5 L590.3,1147.1 L591.1,1143.3 L591.9,1141.9 L592.7,1139.4 L593.5,1134.3 L594.3,1128.7 L595.1,1125.8 L595.9,1121.5 L596.7,1114.8 L597.5,1109.6 L598.3,1108.5 L599.1,1109 L599.9,1107 L600.7,1103.1 L601.5,1102 L602.3,1103.2 L603.1,1102.7 L603.9,1104.6 L604.7,1108.1 L605.5,1106.3 L606.3,1100.8 L607.1,1098.3 L607.9,1100.6 L608.7,1104.3 L609.5,1105.2 L610.3,1103.4 L611.1,1104.8 L611.9,1107.2 L612.7,1106 L613.5,1105.2 L614.3,1104.1 L615.1,1103 L615.9,1102.9 L616.7,1103.4 L617.5,1107.1 L618.3,1112.9 L619.1,1114.1 L619.9,1111.8 L620.7,1114.6 L621.5,1121.6 L622.3,1122.9 L623.1,1117.2 L623.9,1114.3 L624.7,1118.4 L625.5,1123.1 L626.3,1127.7 L627.1,1133.1 L627.9,1132.2 L628.7,1128.5 L629.5,1131.7 L630.3,1136.5 L631.1,1135.9 L631.9,1136 L632.7,1139.4 L633.5,1143.3 L634.3,1147.3 L635.1,1150.1 L635.9,1150.5 L636.7,1152.1 L637.5,1155.6 L638.3,1157.7 L639.1,1158.8 L639.9,1159.1 L640.7,1162.3 L641.5,1167 L642.3,1166.8 L643.1,1167.1 L643.9,1170.6 L644.7,1173.2 L645.5,1175.5 L646.3,1178.1 L647.1,1178.6 L647.9,1178.9 L648.7,1180.7 L649.5,1182.4 L650.3,1184.1 L651.1,1186.2 L651.9,1188.2 L652.7,1188.9 L653.5,1189.2 L654.3,1190.7 L655.1,1193.1 L655.9,1195.1 L656.7,1195.9 L657.5,1195.8 L658.3,1196.4 L659.1,1197.4 L659.9,1197.3 L660.7,1197.1 L661.5,1197.6 L662.3,1198 L663.1,1198.3 L663.9,1198.5 L664.7,1198.8 L665.5,1199 L666.3,1199.2 L667.1,1199.4 L667.9,1199.5 L668.7,1199.7 L669.5,1199.9 L670.3,1200 L671.1,1200.2 L671.9,1200.3 L672.7,1200.5 L673.5,1200.6 L674.3,1200.8 L675.1,1200.9 L675.9,1201 L676.7,1201.1 L677.5,1201.3 L678.3,1201.4 L679.1,1201.5 L679.9,1201.6 L680.7,1201.6 L681.5,1201.7 L682.3,1201.7 L683.1,1201.8 L683.9,1201.8 L684.7,1201.8 L685.5,1201.8 L686.3,1201.8 L687.1,1201.8 L687.9,1201.8 L688.7,1201.8 L689.5,1201.8 L690.3,1201.8 L691.1,1201.8 L691.9,1201.8 L692.7,1201.8 L693.5,1201.8 L694.3,1201.8 L695.1,1201.8 L695.9,1201.8 L696.7,1201.8 L697.5,1201.8 L698.3,1201.8 L699.1,1201.8 L699.9,1201.8 L700.7,1201.8 L701.5,1201.8 L702.3,1201.8 L703.1,1201.8 L703.9,1201.8 L704.7,1201.8 L705.5,1201.8 L706.3,1201.8 L707.1,1201.8 L707.9,1201.8 L708.7,1201.8 L709.5,1201.8 L710.3,1201.8 L711.1,1201.8 L711.9,1201.8 L712.7,1201.8 L713.5,1201.8 L714.3,1201.8 L715.1,1201.8 L715.9,1201.8 L716.7,1201.8 L717.5,1201.8 L718.3,1201.8 L719.1,1201.8 L719.9,1201.8 L720.7,1201.8 L721.5,1201.8 L722.3,1201.8 L723.1,1201.8 L723.9,1201.8 L724.7,1201.8 L725.5,1201.8 L726.3,1201.8 L727.1,1201.8 L727.9,1201.8 L728.7,1201.8 L729.5,1201.8 L730.3,1201.8 L731.1,1201.8 L731.9,1201.8 L732.7,1201.8 L733.5,1201.8 L734.3,1201.8 L735.1,1201.8 L735.9,1201.8 L736.7,1201.8 L737.5,1201.8 L738.3,1201.8 L739.1,1201.8 L739.9,1201.8 L740.7,1201.8 L741.5,1201.8 L742.3,1201.8 L743.1,1201.8 L743.9,1201.8 L744.7,1201.8 L745.5,1201.8 L746.3,1201.8 L747.1,1201.8 L747.9,1201.8 L748.7,1201.8 L749.5,1201.8 L750.3,1201.8 L751.1,1201.8 L751.9,1201.8 L752.7,1201.8 L753.5,1201.8 L754.3,1201.8 L755.1,1201.8 L755.9,1201.8 L756.7,1201.8 L757.5,1201.8 L758.3,1201.8 L759.1,1201.8 L759.9,1201.8 L760.7,1201.8 L761.5,1201.8 L762.3,1201.8 L763.1,1201.8 L763.9,1201.8 L764.7,1201.8 L765.5,1201.8 L766.3,1201.8 L767.1,1201.8 L767.9,1201.8 L768.7,1201.8 L769.5,1201.8 L769.5,1202.3 L561.5,1202.3 Z" fill="#b4dca6" stroke="none"/>
<path d="M561.5,1201.8 L562.3,1201.8 L563.1,1201.8 L563.9,1201.8 L564.7,1201.8 L565.5,1201.8 L566.3,1201.8 L567.1,1201.8 L567.9,1201.8 L568.7,1201.8 L569.5,1201.8 L570.3,1201.8 L571.1,1201.8 L571.9,1201.8 L572.7,1201.8 L573.5,1201.8 L574.3,1201.8 L575.1,1201.8 L575.9,1201.8 L576.7,1201.8 L577.5,1201.8 L578.3,1201.8 L579.1,1201.7 L579.9,1200.6 L580.7,1198.5 L581.5,1196.4 L582.3,1193.4 L583.1,1189.1 L583.9,1182.2 L584.7,1175.3 L585.5,1170.8 L586.3,1168.2 L587.1,1164.4 L587.9,1159.3 L588.7,1156.7 L589.5,1153.5 L590.3,1147.1 L591.1,1143.3 L591.9,1141.9 L592.7,1139.4 L593.5,1134.3 L594.3,1128.7 L595.1,1125.8 L595.9,1121.5 L596.7,1114.8 L597.5,1109.6 L598.3,1108.5 L599.1,1109 L599.9,1107 L600.7,1103.1 L601.5,1102 L602.3,1103.2 L603.1,1102.7 L603.9,1104.6 L604.7,1108.1 L605.5,1106.3 L606.3,1100.8 L607.1,1098.3 L607.9,1100.6 L608.7,1104.3 L609.5,1105.2 L610.3,1103.4 L611.1,1104.8 L611.9,1107.2 L612.7,1106 L613.5,1105.2 L614.3,1104.1 L615.1,1103 L615.9,1102.9 L616.7,1103.4 L617.5,1107.1 L618.3,1112.9 L619.1,1114.1 L619.9,1111.8 L620.7,1114.6 L621.5,1121.6 L622.3,1122.9 L623.1,1117.2 L623.9,1114.3 L624.7,1118.4 L625.5,1123.1 L626.3,1127.7 L627.1,1133.1 L627.9,1132.2 L628.7,1128.5 L629.5,1131.7 L630.3,1136.5 L631.1,1135.9 L631.9,1136 L632.7,1139.4 L633.5,1143.3 L634.3,1147.3 L635.1,1150.1 L635.9,1150.5 L636.7,1152.1 L637.5,1155.6 L638.3,1157.7 L639.1,1158.8 L639.9,1159.1 L640.7,1162.3 L641.5,1167 L642.3,1166.8 L643.1,1167.1 L643.9,1170.6 L644.7,1173.2 L645.5,1175.5 L646.3,1178.1 L647.1,1178.6 L647.9,1178.9 L648.7,1180.7 L649.5,1182.4 L650.3,1184.1 L651.1,1186.2 L651.9,1188.2 L652.7,1188.9 L653.5,1189.2 L654.3,1190.7 L655.1,1193.1 L655.9,1195.1 L656.7,1195.9 L657.5,1195.8 L658.3,1196.4 L659.1,1197.4 L659.9,1197.3 L660.7,1197.1 L661.5,1197.6 L662.3,1198 L663.1,1198.3 L663.9,1198.5 L664.7,1198.8 L665.5,1199 L666.3,1199.2 L667.1,1199.4 L667.9,1199.5 L668.7,1199.7 L669.5,1199.9 L670.3,1200 L671.1,1200.2 L671.9,1200.3 L672.7,1200.5 L673.5,1200.6 L674.3,1200.8 L675.1,1200.9 L675.9,1201 L676.7,1201.1 L677.5,1201.3 L678.3,1201.4 L679.1,1201.5 L679.9,1201.6 L680.7,1201.6 L681.5,1201.7 L682.3,1201.7 L683.1,1201.8 L683.9,1201.8 L684.7,1201.8 L685.5,1201.8 L686.3,1201.8 L687.1,1201.8 L687.9,1201.8 L688.7,1201.8 L689.5,1201.8 L690.3,1201.8 L691.1,1201.8 L691.9,1201.8 L692.7,1201.8 L693.5,1201.8 L694.3,1201.8 L695.1,1201.8 L695.9,1201.8 L696.7,1201.8 L697.5,1201.8 L698.3,1201.8 L699.1,1201.8 L699.9,1201.8 L700.7,1201.8 L701.5,1201.8 L702.3,1201.8 L703.1,1201.8 L703.9,1201.8 L704.7,1201.8 L705.5,1201.8 L706.3,1201.8 L707.1,1201.8 L707.9,1201.8 L708.7,1201.8 L709.5,1201.8 L710.3,1201.8 L711.1,1201.8 L711.9,1201.8 L712.7,1201.8 L713.5,1201.8 L714.3,1201.8 L715.1,1201.8 L715.9,1201.8 L716.7,1201.8 L717.5,1201.8 L718.3,1201.8 L719.1,1201.8 L719.9,1201.8 L720.7,1201.8 L721.5,1201.8 L722.3,1201.8 L723.1,1201.8 L723.9,1201.8 L724.7,1201.8 L725.5,1201.8 L726.3,1201.8 L727.1,1201.8 L727.9,1201.8 L728.7,1201.8 L729.5,1201.8 L730.3,1201.8 L731.1,1201.8 L731.9,1201.8 L732.7,1201.8 L733.5,1201.8 L734.3,1201.8 L735.1,1201.8 L735.9,1201.8 L736.7,1201.8 L737.5,1201.8 L738.3,1201.8 L739.1,1201.8 L739.9,1201.8 L740.7,1201.8 L741.5,1201.8 L742.3,1201.8 L743.1,1201.8 L743.9,1201.8 L744.7,1201.8 L745.5,1201.8 L746.3,1201.8 L747.1,1201.8 L747.9,1201.8 L748.7,1201.8 L749.5,1201.8 L750.3,1201.8 L751.1,1201.8 L751.9,1201.8 L752.7,1201.8 L753.5,1201.8 L754.3,1201.8 L755.1,1201.8 L755.9,1201.8 L756.7,1201.8 L757.5,1201.8 L758.3,1201.8 L759.1,1201.8 L759.9,1201.8 L760.7,1201.8 L761.5,1201.8 L762.3,1201.8 L763.1,1201.8 L763.9,1201.8 L764.7,1201.8 L765.5,1201.8 L766.3,1201.8 L767.1,1201.8 L767.9,1201.8 L768.7,1201.8 L769.5,1201.8" fill="none" stroke="#6cbd50" stroke-width="1.3"/>
<path d="M561.5,1234.5 L562.3,1234.5 L563.1,1234.5 L563.9,1234.5 L564.7,1234.5 L565.5,1234.5 L566.3,1234.5 L567.1,1234.5 L567.9,1234.5 L568.7,1234.5 L569.5,1234.5 L570.3,1234.5 L571.1,1234.5 L571.9,1234.5 L572.7,1234.5 L573.5,1234.5 L574.3,1234.5 L575.1,1234.5 L575.9,1234.5 L576.7,1234.4 L577.5,1233.2 L578.3,1230.9 L579.1,1227.7 L579.9,1224.4 L580.7,1219.8 L581.5,1215.1 L582.3,1211.8 L583.1,1207.9 L583.9,1201.6 L584.7,1195.7 L585.5,1192.9 L586.3,1192 L587.1,1189.7 L587.9,1185.4 L588.7,1179.8 L589.5,1173.9 L590.3,1169.2 L591.1,1165.4 L591.9,1161.1 L592.7,1156.5 L593.5,1153.9 L594.3,1152 L595.1,1149.2 L595.9,1144.6 L596.7,1139.6 L597.5,1135.7 L598.3,1134 L599.1,1134.6 L599.9,1132.7 L600.7,1131 L601.5,1134.6 L602.3,1138.9 L603.1,1141.6 L603.9,1143.5 L604.7,1142.8 L605.5,1141.9 L606.3,1144.2 L607.1,1147.7 L607.9,1150.7 L608.7,1149 L609.5,1145.3 L610.3,1147.4 L611.1,1150.1 L611.9,1150.4 L612.7,1150.5 L613.5,1150.8 L614.3,1149.2 L615.1,1148.5 L615.9,1150.8 L616.7,1151.5 L617.5,1151.1 L618.3,1152.2 L619.1,1154.1 L619.9,1155.9 L620.7,1159.9 L621.5,1164 L622.3,1165.2 L623.1,1165.9 L623.9,1166.9 L624.7,1165.9 L625.5,1166.2 L626.3,1169.1 L627.1,1170 L627.9,1171.4 L628.7,1174.9 L629.5,1176.4 L630.3,1175.6 L631.1,1176.7 L631.9,1179.5 L632.7,1181.4 L633.5,1183.8 L634.3,1186.4 L635.1,1186.9 L635.9,1186.5 L636.7,1188.8 L637.5,1194.3 L638.3,1197.6 L639.1,1198.8 L639.9,1201.3 L640.7,1203.5 L641.5,1205.1 L642.3,1207.1 L643.1,1208.9 L643.9,1211.5 L644.7,1214.3 L645.5,1216.5 L646.3,1218.1 L647.1,1217.8 L647.9,1218.9 L648.7,1221 L649.5,1221.8 L650.3,1222.8 L651.1,1223.5 L651.9,1224.1 L652.7,1225.2 L653.5,1226.1 L654.3,1226.8 L655.1,1227.8 L655.9,1228.9 L656.7,1230 L657.5,1230.2 L658.3,1229.4 L659.1,1230 L659.9,1230.8 L660.7,1231.1 L661.5,1231.4 L662.3,1231.6 L663.1,1231.8 L663.9,1232.1 L664.7,1232.3 L665.5,1232.5 L666.3,1232.7 L667.1,1232.9 L667.9,1233.1 L668.7,1233.2 L669.5,1233.4 L670.3,1233.6 L671.1,1233.7 L671.9,1233.8 L672.7,1234 L673.5,1234.1 L674.3,1234.2 L675.1,1234.3 L675.9,1234.3 L676.7,1234.4 L677.5,1234.5 L678.3,1234.5 L679.1,1234.5 L679.9,1234.5 L680.7,1234.5 L681.5,1234.5 L682.3,1234.5 L683.1,1234.5 L683.9,1234.5 L684.7,1234.5 L685.5,1234.5 L686.3,1234.5 L687.1,1234.5 L687.9,1234.5 L688.7,1234.5 L689.5,1234.5 L690.3,1234.5 L691.1,1234.5 L691.9,1234.5 L692.7,1234.5 L693.5,1234.5 L694.3,1234.5 L695.1,1234.5 L695.9,1234.5 L696.7,1234.5 L697.5,1234.5 L698.3,1234.5 L699.1,1234.5 L699.9,1234.5 L700.7,1234.5 L701.5,1234.5 L702.3,1234.5 L703.1,1234.5 L703.9,1234.5 L704.7,1234.5 L705.5,1234.5 L706.3,1234.5 L707.1,1234.5 L707.9,1234.5 L708.7,1234.5 L709.5,1234.5 L710.3,1234.5 L711.1,1234.5 L711.9,1234.5 L712.7,1234.5 L713.5,1234.5 L714.3,1234.5 L715.1,1234.5 L715.9,1234.5 L716.7,1234.5 L717.5,1234.5 L718.3,1234.5 L719.1,1234.5 L719.9,1234.5 L720.7,1234.5 L721.5,1234.5 L722.3,1234.5 L723.1,1234.5 L723.9,1234.5 L724.7,1234.5 L725.5,1234.5 L726.3,1234.5 L727.1,1234.5 L727.9,1234.5 L728.7,1234.5 L729.5,1234.5 L730.3,1234.5 L731.1,1234.5 L731.9,1234.5 L732.7,1234.5 L733.5,1234.5 L734.3,1234.5 L735.1,1234.5 L735.9,1234.5 L736.7,1234.5 L737.5,1234.5 L738.3,1234.5 L739.1,1234.5 L739.9,1234.5 L740.7,1234.5 L741.5,1234.5 L742.3,1234.5 L743.1,1234.5 L743.9,1234.5 L744.7,1234.5 L745.5,1234.5 L746.3,1234.5 L747.1,1234.5 L747.9,1234.5 L748.7,1234.5 L749.5,1234.5 L750.3,1234.5 L751.1,1234.5 L751.9,1234.5 L752.7,1234.5 L753.5,1234.5 L754.3,1234.5 L755.1,1234.5 L755.9,1234.5 L756.7,1234.5 L757.5,1234.5 L758.3,1234.5 L759.1,1234.5 L759.9,1234.5 L760.7,1234.5 L761.5,1234.5 L762.3,1234.5 L763.1,1234.5 L763.9,1234.5 L764.7,1234.5 L765.5,1234.5 L766.3,1234.5 L767.1,1234.5 L767.9,1234.5 L768.7,1234.5 L769.5,1234.5 L769.5,1235 L561.5,1235 Z" fill="#f4b0b0" stroke="none"/>
<path d="M561.5,1234.5 L562.3,1234.5 L563.1,1234.5 L563.9,1234.5 L564.7,1234.5 L565.5,1234.5 L566.3,1234.5 L567.1,1234.5 L567.9,1234.5 L568.7,1234.5 L569.5,1234.5 L570.3,1234.5 L571.1,1234.5 L571.9,1234.5 L572.7,1234.5 L573.5,1234.5 L574.3,1234.5 L575.1,1234.5 L575.9,1234.5 L576.7,1234.4 L577.5,1233.2 L578.3,1230.9 L579.1,1227.7 L579.9,1224.4 L580.7,1219.8 L581.5,1215.1 L582.3,1211.8 L583.1,1207.9 L583.9,1201.6 L584.7,1195.7 L585.5,1192.9 L586.3,1192 L587.1,1189.7 L587.9,1185.4 L588.7,1179.8 L589.5,1173.9 L590.3,1169.2 L591.1,1165.4 L591.9,1161.1 L592.7,1156.5 L593.5,1153.9 L594.3,1152 L595.1,1149.2 L595.9,1144.6 L596.7,1139.6 L597.5,1135.7 L598.3,1134 L599.1,1134.6 L599.9,1132.7 L600.7,1131 L601.5,1134.6 L602.3,1138.9 L603.1,1141.6 L603.9,1143.5 L604.7,1142.8 L605.5,1141.9 L606.3,1144.2 L607.1,1147.7 L607.9,1150.7 L608.7,1149 L609.5,1145.3 L610.3,1147.4 L611.1,1150.1 L611.9,1150.4 L612.7,1150.5 L613.5,1150.8 L614.3,1149.2 L615.1,1148.5 L615.9,1150.8 L616.7,1151.5 L617.5,1151.1 L618.3,1152.2 L619.1,1154.1 L619.9,1155.9 L620.7,1159.9 L621.5,1164 L622.3,1165.2 L623.1,1165.9 L623.9,1166.9 L624.7,1165.9 L625.5,1166.2 L626.3,1169.1 L627.1,1170 L627.9,1171.4 L628.7,1174.9 L629.5,1176.4 L630.3,1175.6 L631.1,1176.7 L631.9,1179.5 L632.7,1181.4 L633.5,1183.8 L634.3,1186.4 L635.1,1186.9 L635.9,1186.5 L636.7,1188.8 L637.5,1194.3 L638.3,1197.6 L639.1,1198.8 L639.9,1201.3 L640.7,1203.5 L641.5,1205.1 L642.3,1207.1 L643.1,1208.9 L643.9,1211.5 L644.7,1214.3 L645.5,1216.5 L646.3,1218.1 L647.1,1217.8 L647.9,1218.9 L648.7,1221 L649.5,1221.8 L650.3,1222.8 L651.1,1223.5 L651.9,1224.1 L652.7,1225.2 L653.5,1226.1 L654.3,1226.8 L655.1,1227.8 L655.9,1228.9 L656.7,1230 L657.5,1230.2 L658.3,1229.4 L659.1,1230 L659.9,1230.8 L660.7,1231.1 L661.5,1231.4 L662.3,1231.6 L663.1,1231.8 L663.9,1232.1 L664.7,1232.3 L665.5,1232.5 L666.3,1232.7 L667.1,1232.9 L667.9,1233.1 L668.7,1233.2 L669.5,1233.4 L670.3,1233.6 L671.1,1233.7 L671.9,1233.8 L672.7,1234 L673.5,1234.1 L674.3,1234.2 L675.1,1234.3 L675.9,1234.3 L676.7,1234.4 L677.5,1234.5 L678.3,1234.5 L679.1,1234.5 L679.9,1234.5 L680.7,1234.5 L681.5,1234.5 L682.3,1234.5 L683.1,1234.5 L683.9,1234.5 L684.7,1234.5 L685.5,1234.5 L686.3,1234.5 L687.1,1234.5 L687.9,1234.5 L688.7,1234.5 L689.5,1234.5 L690.3,1234.5 L691.1,1234.5 L691.9,1234.5 L692.7,1234.5 L693.5,1234.5 L694.3,1234.5 L695.1,1234.5 L695.9,1234.5 L696.7,1234.5 L697.5,1234.5 L698.3,1234.5 L699.1,1234.5 L699.9,1234.5 L700.7,1234.5 L701.5,1234.5 L702.3,1234.5 L703.1,1234.5 L703.9,1234.5 L704.7,1234.5 L705.5,1234.5 L706.3,1234.5 L707.1,1234.5 L707.9,1234.5 L708.7,1234.5 L709.5,1234.5 L710.3,1234.5 L711.1,1234.5 L711.9,1234.5 L712.7,1234.5 L713.5,1234.5 L714.3,1234.5 L715.1,1234.5 L715.9,1234.5 L716.7,1234.5 L717.5,1234.5 L718.3,1234.5 L719.1,1234.5 L719.9,1234.5 L720.7,1234.5 L721.5,1234.5 L722.3,1234.5 L723.1,1234.5 L723.9,1234.5 L724.7,1234.5 L725.5,1234.5 L726.3,1234.5 L727.1,1234.5 L727.9,1234.5 L728.7,1234.5 L729.5,1234.5 L730.3,1234.5 L731.1,1234.5 L731.9,1234.5 L732.7,1234.5 L733.5,1234.5 L734.3,1234.5 L735.1,1234.5 L735.9,1234.5 L736.7,1234.5 L737.5,1234.5 L738.3,1234.5 L739.1,1234.5 L739.9,1234.5 L740.7,1234.5 L741.5,1234.5 L742.3,1234.5 L743.1,1234.5 L743.9,1234.5 L744.7,1234.5 L745.5,1234.5 L746.3,1234.5 L747.1,1234.5 L747.9,1234.5 L748.7,1234.5 L749.5,1234.5 L750.3,1234.5 L751.1,1234.5 L751.9,1234.5 L752.7,1234.5 L753.5,1234.5 L754.3,1234.5 L755.1,1234.5 L755.9,1234.5 L756.7,1234.5 L757.5,1234.5 L758.3,1234.5 L759.1,1234.5 L759.9,1234.5 L760.7,1234.5 L761.5,1234.5 L762.3,1234.5 L763.1,1234.5 L763.9,1234.5 L764.7,1234.5 L765.5,1234.5 L766.3,1234.5 L767.1,1234.5 L767.9,1234.5 L768.7,1234.5 L769.5,1234.5" fill="none" stroke="#e2452e" stroke-width="1.3"/>
<path d="M561.5,1267 L562.3,1267 L563.1,1267 L563.9,1267 L564.7,1267 L565.5,1267 L566.3,1267 L567.1,1267 L567.9,1267 L568.7,1267 L569.5,1267 L570.3,1267 L571.1,1267 L571.9,1267 L572.7,1267 L573.5,1267 L574.3,1267 L575.1,1267 L575.9,1267 L576.7,1267 L577.5,1267 L578.3,1267 L579.1,1267 L579.9,1266.9 L580.7,1266.2 L581.5,1265.3 L582.3,1264.1 L583.1,1262.7 L583.9,1260.9 L584.7,1260.1 L585.5,1257.4 L586.3,1251.9 L587.1,1248.1 L587.9,1247.1 L588.7,1245.9 L589.5,1244 L590.3,1241.4 L591.1,1239 L591.9,1237 L592.7,1234.2 L593.5,1231.6 L594.3,1229.4 L595.1,1228.4 L595.9,1227.2 L596.7,1223.2 L597.5,1219.9 L598.3,1217.7 L599.1,1213.8 L599.9,1211.7 L600.7,1211.1 L601.5,1209.4 L602.3,1208.4 L603.1,1206.4 L603.9,1202 L604.7,1200.1 L605.5,1200.9 L606.3,1200.3 L607.1,1197.9 L607.9,1194.3 L608.7,1192.7 L609.5,1193.9 L610.3,1193.3 L611.1,1191.3 L611.9,1188.6 L612.7,1187.6 L613.5,1191.5 L614.3,1193.4 L615.1,1191.3 L615.9,1188.1 L616.7,1184.5 L617.5,1184.6 L618.3,1184.7 L619.1,1182.4 L619.9,1181.6 L620.7,1181.7 L621.5,1179.5 L622.3,1177.5 L623.1,1176 L623.9,1173.4 L624.7,1176.2 L625.5,1179.1 L626.3,1176.8 L627.1,1175.4 L627.9,1170.2 L628.7,1163.5 L629.5,1165.2 L630.3,1170.2 L631.1,1170.5 L631.9,1166.8 L632.7,1165.8 L633.5,1168.1 L634.3,1168.7 L635.1,1170.5 L635.9,1173.8 L636.7,1174.1 L637.5,1175.7 L638.3,1182.4 L639.1,1185.2 L639.9,1183 L640.7,1185.6 L641.5,1192.4 L642.3,1196.8 L643.1,1198.1 L643.9,1199.2 L644.7,1200.9 L645.5,1201.8 L646.3,1204.5 L647.1,1209 L647.9,1212.2 L648.7,1214.5 L649.5,1217.4 L650.3,1221.2 L651.1,1223.9 L651.9,1226.2 L652.7,1228.9 L653.5,1231.4 L654.3,1235.1 L655.1,1238.4 L655.9,1239 L656.7,1239.1 L657.5,1242.2 L658.3,1246.4 L659.1,1248.1 L659.9,1249.4 L660.7,1251.1 L661.5,1252.4 L662.3,1253.8 L663.1,1255.1 L663.9,1256 L664.7,1257.2 L665.5,1259.1 L666.3,1260.7 L667.1,1261.6 L667.9,1262.1 L668.7,1262.6 L669.5,1263.2 L670.3,1263.9 L671.1,1264.5 L671.9,1264.9 L672.7,1265.2 L673.5,1265.4 L674.3,1265.6 L675.1,1265.8 L675.9,1266 L676.7,1266.2 L677.5,1266.3 L678.3,1266.5 L679.1,1266.6 L679.9,1266.7 L680.7,1266.8 L681.5,1266.9 L682.3,1266.9 L683.1,1267 L683.9,1267 L684.7,1267 L685.5,1267 L686.3,1267 L687.1,1267 L687.9,1267 L688.7,1267 L689.5,1267 L690.3,1267 L691.1,1267 L691.9,1267 L692.7,1267 L693.5,1267 L694.3,1267 L695.1,1267 L695.9,1267 L696.7,1267 L697.5,1267 L698.3,1267 L699.1,1267 L699.9,1267 L700.7,1267 L701.5,1267 L702.3,1267 L703.1,1267 L703.9,1267 L704.7,1267 L705.5,1267 L706.3,1267 L707.1,1267 L707.9,1267 L708.7,1267 L709.5,1267 L710.3,1267 L711.1,1267 L711.9,1267 L712.7,1267 L713.5,1267 L714.3,1267 L715.1,1267 L715.9,1267 L716.7,1267 L717.5,1267 L718.3,1267 L719.1,1267 L719.9,1267 L720.7,1267 L721.5,1267 L722.3,1267 L723.1,1267 L723.9,1267 L724.7,1267 L725.5,1267 L726.3,1267 L727.1,1267 L727.9,1267 L728.7,1267 L729.5,1267 L730.3,1267 L731.1,1267 L731.9,1267 L732.7,1267 L733.5,1267 L734.3,1267 L735.1,1267 L735.9,1267 L736.7,1267 L737.5,1267 L738.3,1267 L739.1,1267 L739.9,1267 L740.7,1267 L741.5,1267 L742.3,1267 L743.1,1267 L743.9,1267 L744.7,1267 L745.5,1267 L746.3,1267 L747.1,1267 L747.9,1267 L748.7,1267 L749.5,1267 L750.3,1267 L751.1,1267 L751.9,1267 L752.7,1267 L753.5,1267 L754.3,1267 L755.1,1267 L755.9,1267 L756.7,1267 L757.5,1267 L758.3,1267 L759.1,1267 L759.9,1267 L760.7,1267 L761.5,1267 L762.3,1267 L763.1,1267 L763.9,1267 L764.7,1267 L765.5,1267 L766.3,1267 L767.1,1267 L767.9,1267 L768.7,1267 L769.5,1267 L769.5,1267.5 L561.5,1267.5 Z" fill="#b1b1da" stroke="none"/>
<path d="M561.5,1267 L562.3,1267 L563.1,1267 L563.9,1267 L564.7,1267 L565.5,1267 L566.3,1267 L567.1,1267 L567.9,1267 L568.7,1267 L569.5,1267 L570.3,1267 L571.1,1267 L571.9,1267 L572.7,1267 L573.5,1267 L574.3,1267 L575.1,1267 L575.9,1267 L576.7,1267 L577.5,1267 L578.3,1267 L579.1,1267 L579.9,1266.9 L580.7,1266.2 L581.5,1265.3 L582.3,1264.1 L583.1,1262.7 L583.9,1260.9 L584.7,1260.1 L585.5,1257.4 L586.3,1251.9 L587.1,1248.1 L587.9,1247.1 L588.7,1245.9 L589.5,1244 L590.3,1241.4 L591.1,1239 L591.9,1237 L592.7,1234.2 L593.5,1231.6 L594.3,1229.4 L595.1,1228.4 L595.9,1227.2 L596.7,1223.2 L597.5,1219.9 L598.3,1217.7 L599.1,1213.8 L599.9,1211.7 L600.7,1211.1 L601.5,1209.4 L602.3,1208.4 L603.1,1206.4 L603.9,1202 L604.7,1200.1 L605.5,1200.9 L606.3,1200.3 L607.1,1197.9 L607.9,1194.3 L608.7,1192.7 L609.5,1193.9 L610.3,1193.3 L611.1,1191.3 L611.9,1188.6 L612.7,1187.6 L613.5,1191.5 L614.3,1193.4 L615.1,1191.3 L615.9,1188.1 L616.7,1184.5 L617.5,1184.6 L618.3,1184.7 L619.1,1182.4 L619.9,1181.6 L620.7,1181.7 L621.5,1179.5 L622.3,1177.5 L623.1,1176 L623.9,1173.4 L624.7,1176.2 L625.5,1179.1 L626.3,1176.8 L627.1,1175.4 L627.9,1170.2 L628.7,1163.5 L629.5,1165.2 L630.3,1170.2 L631.1,1170.5 L631.9,1166.8 L632.7,1165.8 L633.5,1168.1 L634.3,1168.7 L635.1,1170.5 L635.9,1173.8 L636.7,1174.1 L637.5,1175.7 L638.3,1182.4 L639.1,1185.2 L639.9,1183 L640.7,1185.6 L641.5,1192.4 L642.3,1196.8 L643.1,1198.1 L643.9,1199.2 L644.7,1200.9 L645.5,1201.8 L646.3,1204.5 L647.1,1209 L647.9,1212.2 L648.7,1214.5 L649.5,1217.4 L650.3,1221.2 L651.1,1223.9 L651.9,1226.2 L652.7,1228.9 L653.5,1231.4 L654.3,1235.1 L655.1,1238.4 L655.9,1239 L656.7,1239.1 L657.5,1242.2 L658.3,1246.4 L659.1,1248.1 L659.9,1249.4 L660.7,1251.1 L661.5,1252.4 L662.3,1253.8 L663.1,1255.1 L663.9,1256 L664.7,1257.2 L665.5,1259.1 L666.3,1260.7 L667.1,1261.6 L667.9,1262.1 L668.7,1262.6 L669.5,1263.2 L670.3,1263.9 L671.1,1264.5 L671.9,1264.9 L672.7,1265.2 L673.5,1265.4 L674.3,1265.6 L675.1,1265.8 L675.9,1266 L676.7,1266.2 L677.5,1266.3 L678.3,1266.5 L679.1,1266.6 L679.9,1266.7 L680.7,1266.8 L681.5,1266.9 L682.3,1266.9 L683.1,1267 L683.9,1267 L684.7,1267 L685.5,1267 L686.3,1267 L687.1,1267 L687.9,1267 L688.7,1267 L689.5,1267 L690.3,1267 L691.1,1267 L691.9,1267 L692.7,1267 L693.5,1267 L694.3,1267 L695.1,1267 L695.9,1267 L696.7,1267 L697.5,1267 L698.3,1267 L699.1,1267 L699.9,1267 L700.7,1267 L701.5,1267 L702.3,1267 L703.1,1267 L703.9,1267 L704.7,1267 L705.5,1267 L706.3,1267 L707.1,1267 L707.9,1267 L708.7,1267 L709.5,1267 L710.3,1267 L711.1,1267 L711.9,1267 L712.7,1267 L713.5,1267 L714.3,1267 L715.1,1267 L715.9,1267 L716.7,1267 L717.5,1267 L718.3,1267 L719.1,1267 L719.9,1267 L720.7,1267 L721.5,1267 L722.3,1267 L723.1,1267 L723.9,1267 L724.7,1267 L725.5,1267 L726.3,1267 L727.1,1267 L727.9,1267 L728.7,1267 L729.5,1267 L730.3,1267 L731.1,1267 L731.9,1267 L732.7,1267 L733.5,1267 L734.3,1267 L735.1,1267 L735.9,1267 L736.7,1267 L737.5,1267 L738.3,1267 L739.1,1267 L739.9,1267 L740.7,1267 L741.5,1267 L742.3,1267 L743.1,1267 L743.9,1267 L744.7,1267 L745.5,1267 L746.3,1267 L747.1,1267 L747.9,1267 L748.7,1267 L749.5,1267 L750.3,1267 L751.1,1267 L751.9,1267 L752.7,1267 L753.5,1267 L754.3,1267 L755.1,1267 L755.9,1267 L756.7,1267 L757.5,1267 L758.3,1267 L759.1,1267 L759.9,1267 L760.7,1267 L761.5,1267 L762.3,1267 L763.1,1267 L763.9,1267 L764.7,1267 L765.5,1267 L766.3,1267 L767.1,1267 L767.9,1267 L768.7,1267 L769.5,1267" fill="none" stroke="#3b4ea2" stroke-width="1.3"/>
<rect x="559.5" y="1058" width="212.2" height="211.2" fill="none" stroke="#111" stroke-width="1.8"/>
<text transform="translate(594.4,1043.6) scale(0.9607,1)" font-size="41.4">A*02:06</text>
<path d="M561.5,1495.9 L562.3,1495.9 L563.1,1495.9 L563.9,1495.9 L564.7,1495.9 L565.5,1495.9 L566.3,1495.9 L567.1,1495.9 L567.9,1495.9 L568.7,1495.9 L569.5,1495.9 L570.3,1495.9 L571.1,1495.8 L571.9,1495.7 L572.7,1495.4 L573.5,1494.9 L574.3,1493.7 L575.1,1491.6 L575.9,1487.9 L576.7,1481.7 L577.5,1472.2 L578.3,1458.5 L579.1,1440 L579.9,1416.8 L580.7,1390.1 L581.5,1362 L582.3,1335.6 L583.1,1314.3 L583.9,1301.2 L584.7,1298.5 L585.5,1306.5 L586.3,1324.1 L587.1,1348.4 L587.9,1376.1 L588.7,1403.8 L589.5,1429 L590.3,1449.9 L591.1,1465.9 L591.9,1477.5 L592.7,1485.2 L593.5,1490 L594.3,1492.8 L595.1,1494.4 L595.9,1495.2 L596.7,1495.6 L597.5,1495.8 L598.3,1495.8 L599.1,1495.9 L599.9,1495.9 L600.7,1495.9 L601.5,1495.9 L602.3,1495.9 L603.1,1495.9 L603.9,1495.9 L604.7,1495.9 L605.5,1495.9 L606.3,1495.9 L607.1,1495.9 L607.9,1495.9 L608.7,1495.9 L609.5,1495.9 L610.3,1495.9 L611.1,1495.9 L611.9,1495.9 L612.7,1495.9 L613.5,1495.9 L614.3,1495.9 L615.1,1495.9 L615.9,1495.9 L616.7,1495.9 L617.5,1495.9 L618.3,1495.9 L619.1,1495.9 L619.9,1495.9 L620.7,1495.9 L621.5,1495.9 L622.3,1495.9 L623.1,1495.9 L623.9,1495.9 L624.7,1495.9 L625.5,1495.9 L626.3,1495.9 L627.1,1495.9 L627.9,1495.9 L628.7,1495.9 L629.5,1495.9 L630.3,1495.9 L631.1,1495.9 L631.9,1495.9 L632.7,1495.9 L633.5,1495.9 L634.3,1495.9 L635.1,1495.9 L635.9,1495.9 L636.7,1495.9 L637.5,1495.9 L638.3,1495.9 L639.1,1495.9 L639.9,1495.9 L640.7,1495.9 L641.5,1495.9 L642.3,1495.9 L643.1,1495.9 L643.9,1495.9 L644.7,1495.9 L645.5,1495.9 L646.3,1495.9 L647.1,1495.9 L647.9,1495.9 L648.7,1495.9 L649.5,1495.9 L650.3,1495.9 L651.1,1495.9 L651.9,1495.9 L652.7,1495.9 L653.5,1495.9 L654.3,1495.9 L655.1,1495.9 L655.9,1495.9 L656.7,1495.9 L657.5,1495.9 L658.3,1495.9 L659.1,1495.9 L659.9,1495.9 L660.7,1495.9 L661.5,1495.9 L662.3,1495.9 L663.1,1495.9 L663.9,1495.9 L664.7,1495.9 L665.5,1495.9 L666.3,1495.9 L667.1,1495.9 L667.9,1495.9 L668.7,1495.9 L669.5,1495.9 L670.3,1495.9 L671.1,1495.9 L671.9,1495.9 L672.7,1495.9 L673.5,1495.9 L674.3,1495.9 L675.1,1495.9 L675.9,1495.9 L676.7,1495.9 L677.5,1495.9 L678.3,1495.9 L679.1,1495.9 L679.9,1495.9 L680.7,1495.9 L681.5,1495.9 L682.3,1495.9 L683.1,1495.9 L683.9,1495.9 L684.7,1495.9 L685.5,1495.9 L686.3,1495.9 L687.1,1495.9 L687.9,1495.9 L688.7,1495.9 L689.5,1495.9 L690.3,1495.9 L691.1,1495.9 L691.9,1495.9 L692.7,1495.9 L693.5,1495.9 L694.3,1495.9 L695.1,1495.9 L695.9,1495.9 L696.7,1495.9 L697.5,1495.9 L698.3,1495.9 L699.1,1495.9 L699.9,1495.9 L700.7,1495.9 L701.5,1495.9 L702.3,1495.9 L703.1,1495.9 L703.9,1495.9 L704.7,1495.9 L705.5,1495.9 L706.3,1495.9 L707.1,1495.9 L707.9,1495.9 L708.7,1495.9 L709.5,1495.9 L710.3,1495.9 L711.1,1495.9 L711.9,1495.9 L712.7,1495.9 L713.5,1495.9 L714.3,1495.9 L715.1,1495.9 L715.9,1495.9 L716.7,1495.9 L717.5,1495.9 L718.3,1495.9 L719.1,1495.9 L719.9,1495.9 L720.7,1495.9 L721.5,1495.9 L722.3,1495.9 L723.1,1495.9 L723.9,1495.9 L724.7,1495.9 L725.5,1495.9 L726.3,1495.9 L727.1,1495.9 L727.9,1495.9 L728.7,1495.9 L729.5,1495.9 L730.3,1495.9 L731.1,1495.9 L731.9,1495.9 L732.7,1495.9 L733.5,1495.9 L734.3,1495.9 L735.1,1495.9 L735.9,1495.9 L736.7,1495.9 L737.5,1495.9 L738.3,1495.9 L739.1,1495.9 L739.9,1495.9 L740.7,1495.9 L741.5,1495.9 L742.3,1495.9 L743.1,1495.9 L743.9,1495.9 L744.7,1495.9 L745.5,1495.9 L746.3,1495.9 L747.1,1495.9 L747.9,1495.9 L748.7,1495.9 L749.5,1495.9 L750.3,1495.9 L751.1,1495.9 L751.9,1495.9 L752.7,1495.9 L753.5,1495.9 L754.3,1495.9 L755.1,1495.9 L755.9,1495.9 L756.7,1495.9 L757.5,1495.9 L758.3,1495.9 L759.1,1495.9 L759.9,1495.9 L760.7,1495.9 L761.5,1495.9 L762.3,1495.9 L763.1,1495.9 L763.9,1495.9 L764.7,1495.9 L765.5,1495.9 L766.3,1495.9 L767.1,1495.9 L767.9,1495.9 L768.7,1495.9 L769.5,1495.9" fill="none" stroke="#777" stroke-width="1.6" stroke-dasharray="4,3"/>
<path d="M561.5,1495.9 L562.3,1495.9 L563.1,1495.9 L563.9,1495.9 L564.7,1495.9 L565.5,1495.9 L566.3,1495.9 L567.1,1495.9 L567.9,1495.9 L568.7,1495.9 L569.5,1495.9 L570.3,1495.9 L571.1,1495.9 L571.9,1495.9 L572.7,1495.9 L573.5,1495.9 L574.3,1495.9 L575.1,1495.9 L575.9,1495.9 L576.7,1495.9 L577.5,1495.9 L578.3,1495.9 L579.1,1495.9 L579.9,1495.9 L580.7,1495.9 L581.5,1495.9 L582.3,1495.9 L583.1,1495.9 L583.9,1495.9 L584.7,1495.9 L585.5,1495.9 L586.3,1495.9 L587.1,1495.9 L587.9,1495.9 L588.7,1495.9 L589.5,1495.9 L590.3,1495.9 L591.1,1495.9 L591.9,1495.9 L592.7,1495.9 L593.5,1495.9 L594.3,1495.9 L595.1,1495.9 L595.9,1495.9 L596.7,1495.9 L597.5,1495.9 L598.3,1495.9 L599.1,1495.9 L599.9,1495.9 L600.7,1495.9 L601.5,1495.9 L602.3,1495.9 L603.1,1495.9 L603.9,1495.9 L604.7,1495.9 L605.5,1495.9 L606.3,1495.9 L607.1,1495.9 L607.9,1495.9 L608.7,1495.9 L609.5,1495.9 L610.3,1495.8 L611.1,1495.8 L611.9,1495.8 L612.7,1495.8 L613.5,1495.8 L614.3,1495.8 L615.1,1495.7 L615.9,1495.7 L616.7,1495.7 L617.5,1495.6 L618.3,1495.5 L619.1,1495.5 L619.9,1495.4 L620.7,1495.3 L621.5,1495.2 L622.3,1495.1 L623.1,1495 L623.9,1494.8 L624.7,1494.6 L625.5,1494.4 L626.3,1494.1 L627.1,1493.9 L627.9,1493.5 L628.7,1493.2 L629.5,1492.8 L630.3,1492.3 L631.1,1491.8 L631.9,1491.2 L632.7,1490.5 L633.5,1490.1 L634.3,1489.4 L635.1,1488.2 L635.9,1487.4 L636.7,1485.9 L637.5,1484.7 L638.3,1484.2 L639.1,1482.1 L639.9,1480 L640.7,1479.4 L641.5,1476.6 L642.3,1475 L643.1,1473.1 L643.9,1468.9 L644.7,1466.2 L645.5,1464.3 L646.3,1461.4 L647.1,1456.7 L647.9,1453.4 L648.7,1450.7 L649.5,1446 L650.3,1442.6 L651.1,1438.8 L651.9,1433.3 L652.7,1429.8 L653.5,1423.8 L654.3,1419.8 L655.1,1414.9 L655.9,1409.8 L656.7,1402.9 L657.5,1396.6 L658.3,1391.7 L659.1,1388 L659.9,1379.9 L660.7,1376.6 L661.5,1371.3 L662.3,1364 L663.1,1356.5 L663.9,1351.1 L664.7,1345.9 L665.5,1339 L666.3,1334.9 L667.1,1332.5 L667.9,1325.5 L668.7,1323.4 L669.5,1317.9 L670.3,1313.8 L671.1,1311.9 L671.9,1312.2 L672.7,1306.5 L673.5,1304.8 L674.3,1302.6 L675.1,1302.1 L675.9,1302.9 L676.7,1303.7 L677.5,1298.5 L678.3,1298.9 L679.1,1301 L679.9,1303.7 L680.7,1301.4 L681.5,1307 L682.3,1311.7 L683.1,1313.5 L683.9,1319.5 L684.7,1322.3 L685.5,1328 L686.3,1332.5 L687.1,1338.9 L687.9,1345.5 L688.7,1349.4 L689.5,1354.2 L690.3,1364 L691.1,1369.5 L691.9,1376.6 L692.7,1379.6 L693.5,1387.5 L694.3,1392 L695.1,1400.5 L695.9,1404.2 L696.7,1411.9 L697.5,1417.4 L698.3,1421.7 L699.1,1428 L699.9,1433.3 L700.7,1436.6 L701.5,1442.2 L702.3,1445.5 L703.1,1448.6 L703.9,1455.1 L704.7,1458.6 L705.5,1462.9 L706.3,1465.8 L707.1,1467.7 L707.9,1470.6 L708.7,1473.2 L709.5,1475.5 L710.3,1478.2 L711.1,1480.5 L711.9,1481.2 L712.7,1483.2 L713.5,1484.4 L714.3,1486.1 L715.1,1487.1 L715.9,1488.5 L716.7,1489.3 L717.5,1490.2 L718.3,1490.8 L719.1,1491.3 L719.9,1492.1 L720.7,1492.7 L721.5,1493.1 L722.3,1493.5 L723.1,1493.9 L723.9,1494.2 L724.7,1494.4 L725.5,1494.6 L726.3,1494.8 L727.1,1495 L727.9,1495.1 L728.7,1495.3 L729.5,1495.4 L730.3,1495.5 L731.1,1495.5 L731.9,1495.6 L732.7,1495.6 L733.5,1495.7 L734.3,1495.7 L735.1,1495.8 L735.9,1495.8 L736.7,1495.8 L737.5,1495.8 L738.3,1495.8 L739.1,1495.9 L739.9,1495.9 L740.7,1495.9 L741.5,1495.9 L742.3,1495.9 L743.1,1495.9 L743.9,1495.9 L744.7,1495.9 L745.5,1495.9 L746.3,1495.9 L747.1,1495.9 L747.9,1495.9 L748.7,1495.9 L749.5,1495.9 L750.3,1495.9 L751.1,1495.9 L751.9,1495.9 L752.7,1495.9 L753.5,1495.9 L754.3,1495.9 L755.1,1495.9 L755.9,1495.9 L756.7,1495.9 L757.5,1495.9 L758.3,1495.9 L759.1,1495.9 L759.9,1495.9 L760.7,1495.9 L761.5,1495.9 L762.3,1495.9 L763.1,1495.9 L763.9,1495.9 L764.7,1495.9 L765.5,1495.9 L766.3,1495.9 L767.1,1495.9 L767.9,1495.9 L768.7,1495.9 L769.5,1495.9" fill="none" stroke="#000" stroke-width="1.6"/>
<rect x="559.5" y="1286.1" width="212.2" height="211" fill="none" stroke="#111" stroke-width="1.6"/>
<line x1="560.7" y1="1269.2" x2="560.7" y2="1275.2" stroke="#000" stroke-width="1.4"/>
<line x1="581" y1="1269.2" x2="581" y2="1275.2" stroke="#000" stroke-width="1.4"/>
<line x1="604.3" y1="1269.2" x2="604.3" y2="1275.2" stroke="#000" stroke-width="1.4"/>
<line x1="655.3" y1="1269.2" x2="655.3" y2="1275.2" stroke="#000" stroke-width="1.4"/>
<line x1="704" y1="1269.2" x2="704" y2="1275.2" stroke="#000" stroke-width="1.4"/>
<line x1="751.3" y1="1269.2" x2="751.3" y2="1275.2" stroke="#000" stroke-width="1.4"/>
<line x1="566" y1="1269.2" x2="566" y2="1272.2" stroke="#000" stroke-width="1.1"/>
<line x1="571.5" y1="1269.2" x2="571.5" y2="1272.2" stroke="#000" stroke-width="1.1"/>
<line x1="575.5" y1="1269.2" x2="575.5" y2="1272.2" stroke="#000" stroke-width="1.1"/>
<line x1="585.5" y1="1269.2" x2="585.5" y2="1272.2" stroke="#000" stroke-width="1.1"/>
<line x1="590.5" y1="1269.2" x2="590.5" y2="1272.2" stroke="#000" stroke-width="1.1"/>
<line x1="595.5" y1="1269.2" x2="595.5" y2="1272.2" stroke="#000" stroke-width="1.1"/>
<line x1="600.5" y1="1269.2" x2="600.5" y2="1272.2" stroke="#000" stroke-width="1.1"/>
<line x1="621.5" y1="1269.2" x2="621.5" y2="1272.2" stroke="#000" stroke-width="1.1"/>
<line x1="627.5" y1="1269.2" x2="627.5" y2="1272.2" stroke="#000" stroke-width="1.1"/>
<line x1="631.5" y1="1269.2" x2="631.5" y2="1272.2" stroke="#000" stroke-width="1.1"/>
<line x1="637.5" y1="1269.2" x2="637.5" y2="1272.2" stroke="#000" stroke-width="1.1"/>
<line x1="641.5" y1="1269.2" x2="641.5" y2="1272.2" stroke="#000" stroke-width="1.1"/>
<line x1="644.5" y1="1269.2" x2="644.5" y2="1272.2" stroke="#000" stroke-width="1.1"/>
<line x1="647.5" y1="1269.2" x2="647.5" y2="1272.2" stroke="#000" stroke-width="1.1"/>
<line x1="649.5" y1="1269.2" x2="649.5" y2="1272.2" stroke="#000" stroke-width="1.1"/>
<line x1="652.5" y1="1269.2" x2="652.5" y2="1272.2" stroke="#000" stroke-width="1.1"/>
<line x1="670.5" y1="1269.2" x2="670.5" y2="1272.2" stroke="#000" stroke-width="1.1"/>
<line x1="679.5" y1="1269.2" x2="679.5" y2="1272.2" stroke="#000" stroke-width="1.1"/>
<line x1="685.5" y1="1269.2" x2="685.5" y2="1272.2" stroke="#000" stroke-width="1.1"/>
<line x1="690.5" y1="1269.2" x2="690.5" y2="1272.2" stroke="#000" stroke-width="1.1"/>
<line x1="694.5" y1="1269.2" x2="694.5" y2="1272.2" stroke="#000" stroke-width="1.1"/>
<line x1="697.5" y1="1269.2" x2="697.5" y2="1272.2" stroke="#000" stroke-width="1.1"/>
<line x1="699.5" y1="1269.2" x2="699.5" y2="1272.2" stroke="#000" stroke-width="1.1"/>
<line x1="701.5" y1="1269.2" x2="701.5" y2="1272.2" stroke="#000" stroke-width="1.1"/>
<line x1="719.5" y1="1269.2" x2="719.5" y2="1272.2" stroke="#000" stroke-width="1.1"/>
<line x1="726.5" y1="1269.2" x2="726.5" y2="1272.2" stroke="#000" stroke-width="1.1"/>
<line x1="731.5" y1="1269.2" x2="731.5" y2="1272.2" stroke="#000" stroke-width="1.1"/>
<line x1="736.5" y1="1269.2" x2="736.5" y2="1272.2" stroke="#000" stroke-width="1.1"/>
<line x1="739.5" y1="1269.2" x2="739.5" y2="1272.2" stroke="#000" stroke-width="1.1"/>
<line x1="742.5" y1="1269.2" x2="742.5" y2="1272.2" stroke="#000" stroke-width="1.1"/>
<line x1="745.5" y1="1269.2" x2="745.5" y2="1272.2" stroke="#000" stroke-width="1.1"/>
<line x1="747.5" y1="1269.2" x2="747.5" y2="1272.2" stroke="#000" stroke-width="1.1"/>
<line x1="749.5" y1="1269.2" x2="749.5" y2="1272.2" stroke="#000" stroke-width="1.1"/>
<line x1="765.5" y1="1269.2" x2="765.5" y2="1272.2" stroke="#000" stroke-width="1.1"/>
<line x1="768.5" y1="1269.2" x2="768.5" y2="1272.2" stroke="#000" stroke-width="1.1"/>
<line x1="560.7" y1="1497.1" x2="560.7" y2="1503.1" stroke="#000" stroke-width="1.4"/>
<line x1="581" y1="1497.1" x2="581" y2="1503.1" stroke="#000" stroke-width="1.4"/>
<line x1="604.3" y1="1497.1" x2="604.3" y2="1503.1" stroke="#000" stroke-width="1.4"/>
<line x1="655.3" y1="1497.1" x2="655.3" y2="1503.1" stroke="#000" stroke-width="1.4"/>
<line x1="704" y1="1497.1" x2="704" y2="1503.1" stroke="#000" stroke-width="1.4"/>
<line x1="751.3" y1="1497.1" x2="751.3" y2="1503.1" stroke="#000" stroke-width="1.4"/>
<line x1="566" y1="1497.1" x2="566" y2="1500.1" stroke="#000" stroke-width="1.1"/>
<line x1="571.5" y1="1497.1" x2="571.5" y2="1500.1" stroke="#000" stroke-width="1.1"/>
<line x1="575.5" y1="1497.1" x2="575.5" y2="1500.1" stroke="#000" stroke-width="1.1"/>
<line x1="585.5" y1="1497.1" x2="585.5" y2="1500.1" stroke="#000" stroke-width="1.1"/>
<line x1="590.5" y1="1497.1" x2="590.5" y2="1500.1" stroke="#000" stroke-width="1.1"/>
<line x1="595.5" y1="1497.1" x2="595.5" y2="1500.1" stroke="#000" stroke-width="1.1"/>
<line x1="600.5" y1="1497.1" x2="600.5" y2="1500.1" stroke="#000" stroke-width="1.1"/>
<line x1="621.5" y1="1497.1" x2="621.5" y2="1500.1" stroke="#000" stroke-width="1.1"/>
<line x1="627.5" y1="1497.1" x2="627.5" y2="1500.1" stroke="#000" stroke-width="1.1"/>
<line x1="631.5" y1="1497.1" x2="631.5" y2="1500.1" stroke="#000" stroke-width="1.1"/>
<line x1="637.5" y1="1497.1" x2="637.5" y2="1500.1" stroke="#000" stroke-width="1.1"/>
<line x1="641.5" y1="1497.1" x2="641.5" y2="1500.1" stroke="#000" stroke-width="1.1"/>
<line x1="644.5" y1="1497.1" x2="644.5" y2="1500.1" stroke="#000" stroke-width="1.1"/>
<line x1="647.5" y1="1497.1" x2="647.5" y2="1500.1" stroke="#000" stroke-width="1.1"/>
<line x1="649.5" y1="1497.1" x2="649.5" y2="1500.1" stroke="#000" stroke-width="1.1"/>
<line x1="652.5" y1="1497.1" x2="652.5" y2="1500.1" stroke="#000" stroke-width="1.1"/>
<line x1="670.5" y1="1497.1" x2="670.5" y2="1500.1" stroke="#000" stroke-width="1.1"/>
<line x1="679.5" y1="1497.1" x2="679.5" y2="1500.1" stroke="#000" stroke-width="1.1"/>
<line x1="685.5" y1="1497.1" x2="685.5" y2="1500.1" stroke="#000" stroke-width="1.1"/>
<line x1="690.5" y1="1497.1" x2="690.5" y2="1500.1" stroke="#000" stroke-width="1.1"/>
<line x1="694.5" y1="1497.1" x2="694.5" y2="1500.1" stroke="#000" stroke-width="1.1"/>
<line x1="697.5" y1="1497.1" x2="697.5" y2="1500.1" stroke="#000" stroke-width="1.1"/>
<line x1="699.5" y1="1497.1" x2="699.5" y2="1500.1" stroke="#000" stroke-width="1.1"/>
<line x1="701.5" y1="1497.1" x2="701.5" y2="1500.1" stroke="#000" stroke-width="1.1"/>
<line x1="719.5" y1="1497.1" x2="719.5" y2="1500.1" stroke="#000" stroke-width="1.1"/>
<line x1="726.5" y1="1497.1" x2="726.5" y2="1500.1" stroke="#000" stroke-width="1.1"/>
<line x1="731.5" y1="1497.1" x2="731.5" y2="1500.1" stroke="#000" stroke-width="1.1"/>
<line x1="736.5" y1="1497.1" x2="736.5" y2="1500.1" stroke="#000" stroke-width="1.1"/>
<line x1="739.5" y1="1497.1" x2="739.5" y2="1500.1" stroke="#000" stroke-width="1.1"/>
<line x1="742.5" y1="1497.1" x2="742.5" y2="1500.1" stroke="#000" stroke-width="1.1"/>
<line x1="745.5" y1="1497.1" x2="745.5" y2="1500.1" stroke="#000" stroke-width="1.1"/>
<line x1="747.5" y1="1497.1" x2="747.5" y2="1500.1" stroke="#000" stroke-width="1.1"/>
<line x1="749.5" y1="1497.1" x2="749.5" y2="1500.1" stroke="#000" stroke-width="1.1"/>
<line x1="765.5" y1="1497.1" x2="765.5" y2="1500.1" stroke="#000" stroke-width="1.1"/>
<line x1="768.5" y1="1497.1" x2="768.5" y2="1500.1" stroke="#000" stroke-width="1.1"/>
<line x1="555" y1="1296.1" x2="559.5" y2="1296.1" stroke="#000" stroke-width="1.4"/>
<line x1="557.5" y1="1304.1" x2="559.5" y2="1304.1" stroke="#000" stroke-width="1"/>
<line x1="557.5" y1="1312.1" x2="559.5" y2="1312.1" stroke="#000" stroke-width="1"/>
<line x1="557.5" y1="1320.1" x2="559.5" y2="1320.1" stroke="#000" stroke-width="1"/>
<line x1="557.5" y1="1328.1" x2="559.5" y2="1328.1" stroke="#000" stroke-width="1"/>
<line x1="555" y1="1336.3" x2="559.5" y2="1336.3" stroke="#000" stroke-width="1.4"/>
<line x1="557.5" y1="1344.3" x2="559.5" y2="1344.3" stroke="#000" stroke-width="1"/>
<line x1="557.5" y1="1352.3" x2="559.5" y2="1352.3" stroke="#000" stroke-width="1"/>
<line x1="557.5" y1="1360.3" x2="559.5" y2="1360.3" stroke="#000" stroke-width="1"/>
<line x1="557.5" y1="1368.3" x2="559.5" y2="1368.3" stroke="#000" stroke-width="1"/>
<line x1="555" y1="1376.5" x2="559.5" y2="1376.5" stroke="#000" stroke-width="1.4"/>
<line x1="557.5" y1="1384.5" x2="559.5" y2="1384.5" stroke="#000" stroke-width="1"/>
<line x1="557.5" y1="1392.5" x2="559.5" y2="1392.5" stroke="#000" stroke-width="1"/>
<line x1="557.5" y1="1400.5" x2="559.5" y2="1400.5" stroke="#000" stroke-width="1"/>
<line x1="557.5" y1="1408.5" x2="559.5" y2="1408.5" stroke="#000" stroke-width="1"/>
<line x1="555" y1="1416.7" x2="559.5" y2="1416.7" stroke="#000" stroke-width="1.4"/>
<line x1="557.5" y1="1424.7" x2="559.5" y2="1424.7" stroke="#000" stroke-width="1"/>
<line x1="557.5" y1="1432.7" x2="559.5" y2="1432.7" stroke="#000" stroke-width="1"/>
<line x1="557.5" y1="1440.7" x2="559.5" y2="1440.7" stroke="#000" stroke-width="1"/>
<line x1="557.5" y1="1448.7" x2="559.5" y2="1448.7" stroke="#000" stroke-width="1"/>
<line x1="555" y1="1456.9" x2="559.5" y2="1456.9" stroke="#000" stroke-width="1.4"/>
<line x1="557.5" y1="1464.9" x2="559.5" y2="1464.9" stroke="#000" stroke-width="1"/>
<line x1="557.5" y1="1472.9" x2="559.5" y2="1472.9" stroke="#000" stroke-width="1"/>
<line x1="557.5" y1="1480.9" x2="559.5" y2="1480.9" stroke="#000" stroke-width="1"/>
<line x1="557.5" y1="1488.9" x2="559.5" y2="1488.9" stroke="#000" stroke-width="1"/>
<line x1="555" y1="1497.1" x2="559.5" y2="1497.1" stroke="#000" stroke-width="1.4"/>
<path d="M779.6,1169 L780.4,1169 L781.2,1169 L782,1169 L782.8,1169 L783.6,1169 L784.4,1169 L785.2,1169 L786,1169 L786.8,1169 L787.6,1169 L788.4,1169 L789.2,1169 L790,1169 L790.8,1169 L791.6,1169 L792.4,1169 L793.2,1169 L794,1169 L794.8,1169 L795.6,1168.8 L796.4,1164.3 L797.2,1157 L798,1148.2 L798.8,1136.3 L799.6,1125.6 L800.4,1117.9 L801.2,1110.2 L802,1102.6 L802.8,1096 L803.6,1090.1 L804.4,1085.4 L805.2,1081.5 L806,1076.8 L806.8,1070.2 L807.6,1065.3 L808.4,1066 L809.2,1068.8 L810,1070.7 L810.8,1074.1 L811.6,1080.2 L812.4,1086.3 L813.2,1090.1 L814,1093.2 L814.8,1096.3 L815.6,1098.8 L816.4,1101.6 L817.2,1106.1 L818,1111 L818.8,1115.5 L819.6,1119 L820.4,1121.2 L821.2,1123.5 L822,1126.9 L822.8,1130.1 L823.6,1132.9 L824.4,1135.8 L825.2,1138.7 L826,1141.1 L826.8,1143.5 L827.6,1145.5 L828.4,1147.3 L829.2,1149.4 L830,1151 L830.8,1152.1 L831.6,1153.4 L832.4,1155 L833.2,1156.5 L834,1157.5 L834.8,1158.8 L835.6,1160.2 L836.4,1161.1 L837.2,1161.9 L838,1162.5 L838.8,1162.8 L839.6,1163.2 L840.4,1163.9 L841.2,1164.3 L842,1164.5 L842.8,1165.1 L843.6,1165.4 L844.4,1165.8 L845.2,1166.1 L846,1166.4 L846.8,1166.7 L847.6,1166.9 L848.4,1167.2 L849.2,1167.4 L850,1167.6 L850.8,1167.9 L851.6,1168.1 L852.4,1168.3 L853.2,1168.5 L854,1168.6 L854.8,1168.8 L855.6,1168.9 L856.4,1169 L857.2,1169 L858,1169 L858.8,1169 L859.6,1169 L860.4,1169 L861.2,1169 L862,1169 L862.8,1169 L863.6,1169 L864.4,1169 L865.2,1169 L866,1169 L866.8,1169 L867.6,1169 L868.4,1169 L869.2,1169 L870,1169 L870.8,1169 L871.6,1169 L872.4,1169 L873.2,1169 L874,1169 L874.8,1169 L875.6,1169 L876.4,1169 L877.2,1169 L878,1169 L878.8,1169 L879.6,1169 L880.4,1169 L881.2,1169 L882,1169 L882.8,1169 L883.6,1169 L884.4,1169 L885.2,1169 L886,1169 L886.8,1169 L887.6,1169 L888.4,1169 L889.2,1169 L890,1169 L890.8,1169 L891.6,1169 L892.4,1169 L893.2,1169 L894,1169 L894.8,1169 L895.6,1169 L896.4,1169 L897.2,1169 L898,1169 L898.8,1169 L899.6,1169 L900.4,1169 L901.2,1169 L902,1169 L902.8,1169 L903.6,1169 L904.4,1169 L905.2,1169 L906,1169 L906.8,1169 L907.6,1169 L908.4,1169 L909.2,1169 L910,1169 L910.8,1169 L911.6,1169 L912.4,1169 L913.2,1169 L914,1169 L914.8,1169 L915.6,1169 L916.4,1169 L917.2,1169 L918,1169 L918.8,1169 L919.6,1169 L920.4,1169 L921.2,1169 L922,1169 L922.8,1169 L923.6,1169 L924.4,1169 L925.2,1169 L926,1169 L926.8,1169 L927.6,1169 L928.4,1169 L929.2,1169 L930,1169 L930.8,1169 L931.6,1169 L932.4,1169 L933.2,1169 L934,1169 L934.8,1169 L935.6,1169 L936.4,1169 L937.2,1169 L938,1169 L938.8,1169 L939.6,1169 L940.4,1169 L941.2,1169 L942,1169 L942.8,1169 L943.6,1169 L944.4,1169 L945.2,1169 L946,1169 L946.8,1169 L947.6,1169 L948.4,1169 L949.2,1169 L950,1169 L950.8,1169 L951.6,1169 L952.4,1169 L953.2,1169 L954,1169 L954.8,1169 L955.6,1169 L956.4,1169 L957.2,1169 L958,1169 L958.8,1169 L959.6,1169 L960.4,1169 L961.2,1169 L962,1169 L962.8,1169 L963.6,1169 L964.4,1169 L965.2,1169 L966,1169 L966.8,1169 L967.6,1169 L968.4,1169 L969.2,1169 L970,1169 L970.8,1169 L971.6,1169 L972.4,1169 L973.2,1169 L974,1169 L974.8,1169 L975.6,1169 L976.4,1169 L977.2,1169 L978,1169 L978.8,1169 L979.6,1169 L980.4,1169 L981.2,1169 L982,1169 L982.8,1169 L983.6,1169 L984.4,1169 L985.2,1169 L986,1169 L986.8,1169 L987.6,1169" fill="none" stroke="#1a1a1a" stroke-width="2.1" stroke-dasharray="4.5,3.5"/>
<path d="M779.6,1201.8 L780.4,1201.8 L781.2,1201.8 L782,1201.8 L782.8,1201.8 L783.6,1201.8 L784.4,1201.8 L785.2,1201.8 L786,1201.8 L786.8,1201.8 L787.6,1201.8 L788.4,1201.8 L789.2,1201.8 L790,1201.8 L790.8,1201.8 L791.6,1201.8 L792.4,1201.8 L793.2,1201.8 L794,1201.8 L794.8,1201.8 L795.6,1201.8 L796.4,1201.8 L797.2,1201.8 L798,1201.8 L798.8,1201.7 L799.6,1201.4 L800.4,1200.9 L801.2,1200.1 L802,1199.3 L802.8,1198.4 L803.6,1197.4 L804.4,1196.7 L805.2,1194.8 L806,1193.3 L806.8,1192.6 L807.6,1191 L808.4,1189.3 L809.2,1188.4 L810,1187.2 L810.8,1186.3 L811.6,1185.7 L812.4,1183.2 L813.2,1180.5 L814,1179.2 L814.8,1177.6 L815.6,1175.7 L816.4,1174.4 L817.2,1172.4 L818,1169.4 L818.8,1166.6 L819.6,1162.5 L820.4,1158.2 L821.2,1154.6 L822,1152.7 L822.8,1151.3 L823.6,1149.5 L824.4,1147.2 L825.2,1143.7 L826,1139.3 L826.8,1135.5 L827.6,1133.7 L828.4,1131.7 L829.2,1127.7 L830,1122.1 L830.8,1118.7 L831.6,1115.5 L832.4,1109.6 L833.2,1109.4 L834,1112.9 L834.8,1113.5 L835.6,1113.9 L836.4,1112.1 L837.2,1109.4 L838,1108.1 L838.8,1106.3 L839.6,1106.1 L840.4,1102.8 L841.2,1098.6 L842,1100.2 L842.8,1100 L843.6,1098.3 L844.4,1099.3 L845.2,1100.6 L846,1103.1 L846.8,1105.2 L847.6,1106.6 L848.4,1110.3 L849.2,1114.1 L850,1114.9 L850.8,1114.9 L851.6,1116.6 L852.4,1120.2 L853.2,1122.4 L854,1121.2 L854.8,1122.5 L855.6,1128.6 L856.4,1132.5 L857.2,1130.5 L858,1128.6 L858.8,1132.3 L859.6,1136.8 L860.4,1139.1 L861.2,1142.3 L862,1145.3 L862.8,1147.9 L863.6,1150 L864.4,1152.9 L865.2,1156.3 L866,1159.1 L866.8,1162.8 L867.6,1165.9 L868.4,1168.5 L869.2,1170.4 L870,1171 L870.8,1172.8 L871.6,1176.6 L872.4,1179.4 L873.2,1180.4 L874,1181.5 L874.8,1183.4 L875.6,1185.6 L876.4,1186.9 L877.2,1187.9 L878,1189.9 L878.8,1192 L879.6,1193.3 L880.4,1193.7 L881.2,1194.1 L882,1194.5 L882.8,1194.9 L883.6,1195.7 L884.4,1196.3 L885.2,1196.9 L886,1197.9 L886.8,1198.4 L887.6,1197.8 L888.4,1198.1 L889.2,1198.3 L890,1198.6 L890.8,1198.8 L891.6,1199 L892.4,1199.2 L893.2,1199.4 L894,1199.5 L894.8,1199.7 L895.6,1199.8 L896.4,1200 L897.2,1200.1 L898,1200.2 L898.8,1200.3 L899.6,1200.4 L900.4,1200.5 L901.2,1200.6 L902,1200.7 L902.8,1200.8 L903.6,1200.9 L904.4,1201 L905.2,1201 L906,1201.1 L906.8,1201.2 L907.6,1201.3 L908.4,1201.3 L909.2,1201.4 L910,1201.5 L910.8,1201.5 L911.6,1201.6 L912.4,1201.6 L913.2,1201.7 L914,1201.7 L914.8,1201.8 L915.6,1201.8 L916.4,1201.8 L917.2,1201.8 L918,1201.8 L918.8,1201.8 L919.6,1201.8 L920.4,1201.8 L921.2,1201.8 L922,1201.8 L922.8,1201.8 L923.6,1201.8 L924.4,1201.8 L925.2,1201.8 L926,1201.8 L926.8,1201.8 L927.6,1201.8 L928.4,1201.8 L929.2,1201.8 L930,1201.8 L930.8,1201.8 L931.6,1201.8 L932.4,1201.8 L933.2,1201.8 L934,1201.8 L934.8,1201.8 L935.6,1201.8 L936.4,1201.8 L937.2,1201.8 L938,1201.8 L938.8,1201.8 L939.6,1201.8 L940.4,1201.8 L941.2,1201.8 L942,1201.8 L942.8,1201.8 L943.6,1201.8 L944.4,1201.8 L945.2,1201.8 L946,1201.8 L946.8,1201.8 L947.6,1201.8 L948.4,1201.8 L949.2,1201.8 L950,1201.8 L950.8,1201.8 L951.6,1201.8 L952.4,1201.8 L953.2,1201.8 L954,1201.8 L954.8,1201.8 L955.6,1201.8 L956.4,1201.8 L957.2,1201.8 L958,1201.8 L958.8,1201.8 L959.6,1201.8 L960.4,1201.8 L961.2,1201.8 L962,1201.8 L962.8,1201.8 L963.6,1201.8 L964.4,1201.8 L965.2,1201.8 L966,1201.8 L966.8,1201.8 L967.6,1201.8 L968.4,1201.8 L969.2,1201.8 L970,1201.8 L970.8,1201.8 L971.6,1201.8 L972.4,1201.8 L973.2,1201.8 L974,1201.8 L974.8,1201.8 L975.6,1201.8 L976.4,1201.8 L977.2,1201.8 L978,1201.8 L978.8,1201.8 L979.6,1201.8 L980.4,1201.8 L981.2,1201.8 L982,1201.8 L982.8,1201.8 L983.6,1201.8 L984.4,1201.8 L985.2,1201.8 L986,1201.8 L986.8,1201.8 L987.6,1201.8 L987.6,1202.3 L779.6,1202.3 Z" fill="#b4dca6" stroke="none"/>
<path d="M779.6,1201.8 L780.4,1201.8 L781.2,1201.8 L782,1201.8 L782.8,1201.8 L783.6,1201.8 L784.4,1201.8 L785.2,1201.8 L786,1201.8 L786.8,1201.8 L787.6,1201.8 L788.4,1201.8 L789.2,1201.8 L790,1201.8 L790.8,1201.8 L791.6,1201.8 L792.4,1201.8 L793.2,1201.8 L794,1201.8 L794.8,1201.8 L795.6,1201.8 L796.4,1201.8 L797.2,1201.8 L798,1201.8 L798.8,1201.7 L799.6,1201.4 L800.4,1200.9 L801.2,1200.1 L802,1199.3 L802.8,1198.4 L803.6,1197.4 L804.4,1196.7 L805.2,1194.8 L806,1193.3 L806.8,1192.6 L807.6,1191 L808.4,1189.3 L809.2,1188.4 L810,1187.2 L810.8,1186.3 L811.6,1185.7 L812.4,1183.2 L813.2,1180.5 L814,1179.2 L814.8,1177.6 L815.6,1175.7 L816.4,1174.4 L817.2,1172.4 L818,1169.4 L818.8,1166.6 L819.6,1162.5 L820.4,1158.2 L821.2,1154.6 L822,1152.7 L822.8,1151.3 L823.6,1149.5 L824.4,1147.2 L825.2,1143.7 L826,1139.3 L826.8,1135.5 L827.6,1133.7 L828.4,1131.7 L829.2,1127.7 L830,1122.1 L830.8,1118.7 L831.6,1115.5 L832.4,1109.6 L833.2,1109.4 L834,1112.9 L834.8,1113.5 L835.6,1113.9 L836.4,1112.1 L837.2,1109.4 L838,1108.1 L838.8,1106.3 L839.6,1106.1 L840.4,1102.8 L841.2,1098.6 L842,1100.2 L842.8,1100 L843.6,1098.3 L844.4,1099.3 L845.2,1100.6 L846,1103.1 L846.8,1105.2 L847.6,1106.6 L848.4,1110.3 L849.2,1114.1 L850,1114.9 L850.8,1114.9 L851.6,1116.6 L852.4,1120.2 L853.2,1122.4 L854,1121.2 L854.8,1122.5 L855.6,1128.6 L856.4,1132.5 L857.2,1130.5 L858,1128.6 L858.8,1132.3 L859.6,1136.8 L860.4,1139.1 L861.2,1142.3 L862,1145.3 L862.8,1147.9 L863.6,1150 L864.4,1152.9 L865.2,1156.3 L866,1159.1 L866.8,1162.8 L867.6,1165.9 L868.4,1168.5 L869.2,1170.4 L870,1171 L870.8,1172.8 L871.6,1176.6 L872.4,1179.4 L873.2,1180.4 L874,1181.5 L874.8,1183.4 L875.6,1185.6 L876.4,1186.9 L877.2,1187.9 L878,1189.9 L878.8,1192 L879.6,1193.3 L880.4,1193.7 L881.2,1194.1 L882,1194.5 L882.8,1194.9 L883.6,1195.7 L884.4,1196.3 L885.2,1196.9 L886,1197.9 L886.8,1198.4 L887.6,1197.8 L888.4,1198.1 L889.2,1198.3 L890,1198.6 L890.8,1198.8 L891.6,1199 L892.4,1199.2 L893.2,1199.4 L894,1199.5 L894.8,1199.7 L895.6,1199.8 L896.4,1200 L897.2,1200.1 L898,1200.2 L898.8,1200.3 L899.6,1200.4 L900.4,1200.5 L901.2,1200.6 L902,1200.7 L902.8,1200.8 L903.6,1200.9 L904.4,1201 L905.2,1201 L906,1201.1 L906.8,1201.2 L907.6,1201.3 L908.4,1201.3 L909.2,1201.4 L910,1201.5 L910.8,1201.5 L911.6,1201.6 L912.4,1201.6 L913.2,1201.7 L914,1201.7 L914.8,1201.8 L915.6,1201.8 L916.4,1201.8 L917.2,1201.8 L918,1201.8 L918.8,1201.8 L919.6,1201.8 L920.4,1201.8 L921.2,1201.8 L922,1201.8 L922.8,1201.8 L923.6,1201.8 L924.4,1201.8 L925.2,1201.8 L926,1201.8 L926.8,1201.8 L927.6,1201.8 L928.4,1201.8 L929.2,1201.8 L930,1201.8 L930.8,1201.8 L931.6,1201.8 L932.4,1201.8 L933.2,1201.8 L934,1201.8 L934.8,1201.8 L935.6,1201.8 L936.4,1201.8 L937.2,1201.8 L938,1201.8 L938.8,1201.8 L939.6,1201.8 L940.4,1201.8 L941.2,1201.8 L942,1201.8 L942.8,1201.8 L943.6,1201.8 L944.4,1201.8 L945.2,1201.8 L946,1201.8 L946.8,1201.8 L947.6,1201.8 L948.4,1201.8 L949.2,1201.8 L950,1201.8 L950.8,1201.8 L951.6,1201.8 L952.4,1201.8 L953.2,1201.8 L954,1201.8 L954.8,1201.8 L955.6,1201.8 L956.4,1201.8 L957.2,1201.8 L958,1201.8 L958.8,1201.8 L959.6,1201.8 L960.4,1201.8 L961.2,1201.8 L962,1201.8 L962.8,1201.8 L963.6,1201.8 L964.4,1201.8 L965.2,1201.8 L966,1201.8 L966.8,1201.8 L967.6,1201.8 L968.4,1201.8 L969.2,1201.8 L970,1201.8 L970.8,1201.8 L971.6,1201.8 L972.4,1201.8 L973.2,1201.8 L974,1201.8 L974.8,1201.8 L975.6,1201.8 L976.4,1201.8 L977.2,1201.8 L978,1201.8 L978.8,1201.8 L979.6,1201.8 L980.4,1201.8 L981.2,1201.8 L982,1201.8 L982.8,1201.8 L983.6,1201.8 L984.4,1201.8 L985.2,1201.8 L986,1201.8 L986.8,1201.8 L987.6,1201.8" fill="none" stroke="#6cbd50" stroke-width="1.3"/>
<path d="M779.6,1234.5 L780.4,1234.5 L781.2,1234.5 L782,1234.5 L782.8,1234.5 L783.6,1234.5 L784.4,1234.5 L785.2,1234.5 L786,1234.5 L786.8,1234.5 L787.6,1234.5 L788.4,1234.5 L789.2,1234.5 L790,1234.5 L790.8,1234.5 L791.6,1234.5 L792.4,1234.5 L793.2,1234.5 L794,1234.5 L794.8,1233.9 L795.6,1232.3 L796.4,1230 L797.2,1228.4 L798,1226 L798.8,1221.1 L799.6,1215.8 L800.4,1212.3 L801.2,1207.6 L802,1201.3 L802.8,1196.3 L803.6,1190 L804.4,1183.1 L805.2,1178.6 L806,1173.1 L806.8,1167.3 L807.6,1163.7 L808.4,1159.9 L809.2,1156.9 L810,1153 L810.8,1149 L811.6,1148.7 L812.4,1147.7 L813.2,1146.3 L814,1145.4 L814.8,1142.8 L815.6,1137.9 L816.4,1131.8 L817.2,1131 L818,1134.2 L818.8,1133.8 L819.6,1133.5 L820.4,1134.7 L821.2,1134.2 L822,1133.9 L822.8,1134.8 L823.6,1133.1 L824.4,1131 L825.2,1133.7 L826,1137.9 L826.8,1139.3 L827.6,1138.6 L828.4,1140.1 L829.2,1142.7 L830,1144.1 L830.8,1145.5 L831.6,1148.4 L832.4,1151.6 L833.2,1152.7 L834,1151.9 L834.8,1151 L835.6,1149.9 L836.4,1149 L837.2,1152 L838,1158.8 L838.8,1161.8 L839.6,1162.4 L840.4,1164.1 L841.2,1164 L842,1166.3 L842.8,1170.6 L843.6,1170.9 L844.4,1171.2 L845.2,1175.2 L846,1179.3 L846.8,1181.1 L847.6,1182.9 L848.4,1185.3 L849.2,1186.8 L850,1189 L850.8,1192.1 L851.6,1193.4 L852.4,1194 L853.2,1195.8 L854,1198.2 L854.8,1200.5 L855.6,1200.8 L856.4,1200.4 L857.2,1200.7 L858,1201.2 L858.8,1202.4 L859.6,1204.2 L860.4,1206.7 L861.2,1209.1 L862,1210.4 L862.8,1210.4 L863.6,1209.6 L864.4,1209.7 L865.2,1211.2 L866,1212.6 L866.8,1213.8 L867.6,1215.5 L868.4,1216.9 L869.2,1217.9 L870,1219 L870.8,1220.7 L871.6,1222.3 L872.4,1223 L873.2,1222.8 L874,1221.9 L874.8,1222.8 L875.6,1225.2 L876.4,1226.4 L877.2,1227.1 L878,1227.5 L878.8,1227.3 L879.6,1227.9 L880.4,1228.6 L881.2,1228.3 L882,1228.6 L882.8,1229.3 L883.6,1230.2 L884.4,1230.8 L885.2,1231.1 L886,1231.5 L886.8,1231.8 L887.6,1232.2 L888.4,1232.4 L889.2,1232.7 L890,1232.9 L890.8,1233.2 L891.6,1233.3 L892.4,1233.4 L893.2,1233.5 L894,1233.6 L894.8,1233.7 L895.6,1233.8 L896.4,1233.9 L897.2,1234 L898,1234 L898.8,1234.1 L899.6,1234.2 L900.4,1234.2 L901.2,1234.3 L902,1234.3 L902.8,1234.4 L903.6,1234.4 L904.4,1234.4 L905.2,1234.5 L906,1234.5 L906.8,1234.5 L907.6,1234.5 L908.4,1234.5 L909.2,1234.5 L910,1234.5 L910.8,1234.5 L911.6,1234.5 L912.4,1234.5 L913.2,1234.5 L914,1234.5 L914.8,1234.5 L915.6,1234.5 L916.4,1234.5 L917.2,1234.5 L918,1234.5 L918.8,1234.5 L919.6,1234.5 L920.4,1234.5 L921.2,1234.5 L922,1234.5 L922.8,1234.5 L923.6,1234.5 L924.4,1234.5 L925.2,1234.5 L926,1234.5 L926.8,1234.5 L927.6,1234.5 L928.4,1234.5 L929.2,1234.5 L930,1234.5 L930.8,1234.5 L931.6,1234.5 L932.4,1234.5 L933.2,1234.5 L934,1234.5 L934.8,1234.5 L935.6,1234.5 L936.4,1234.5 L937.2,1234.5 L938,1234.5 L938.8,1234.5 L939.6,1234.5 L940.4,1234.5 L941.2,1234.5 L942,1234.5 L942.8,1234.5 L943.6,1234.5 L944.4,1234.5 L945.2,1234.5 L946,1234.5 L946.8,1234.5 L947.6,1234.5 L948.4,1234.5 L949.2,1234.5 L950,1234.5 L950.8,1234.5 L951.6,1234.5 L952.4,1234.5 L953.2,1234.5 L954,1234.5 L954.8,1234.5 L955.6,1234.5 L956.4,1234.5 L957.2,1234.5 L958,1234.5 L958.8,1234.5 L959.6,1234.5 L960.4,1234.5 L961.2,1234.5 L962,1234.5 L962.8,1234.5 L963.6,1234.5 L964.4,1234.5 L965.2,1234.5 L966,1234.5 L966.8,1234.5 L967.6,1234.5 L968.4,1234.5 L969.2,1234.5 L970,1234.5 L970.8,1234.5 L971.6,1234.5 L972.4,1234.5 L973.2,1234.5 L974,1234.5 L974.8,1234.5 L975.6,1234.5 L976.4,1234.5 L977.2,1234.5 L978,1234.5 L978.8,1234.5 L979.6,1234.5 L980.4,1234.5 L981.2,1234.5 L982,1234.5 L982.8,1234.5 L983.6,1234.5 L984.4,1234.5 L985.2,1234.5 L986,1234.5 L986.8,1234.5 L987.6,1234.5 L987.6,1235 L779.6,1235 Z" fill="#f4b0b0" stroke="none"/>
<path d="M779.6,1234.5 L780.4,1234.5 L781.2,1234.5 L782,1234.5 L782.8,1234.5 L783.6,1234.5 L784.4,1234.5 L785.2,1234.5 L786,1234.5 L786.8,1234.5 L787.6,1234.5 L788.4,1234.5 L789.2,1234.5 L790,1234.5 L790.8,1234.5 L791.6,1234.5 L792.4,1234.5 L793.2,1234.5 L794,1234.5 L794.8,1233.9 L795.6,1232.3 L796.4,1230 L797.2,1228.4 L798,1226 L798.8,1221.1 L799.6,1215.8 L800.4,1212.3 L801.2,1207.6 L802,1201.3 L802.8,1196.3 L803.6,1190 L804.4,1183.1 L805.2,1178.6 L806,1173.1 L806.8,1167.3 L807.6,1163.7 L808.4,1159.9 L809.2,1156.9 L810,1153 L810.8,1149 L811.6,1148.7 L812.4,1147.7 L813.2,1146.3 L814,1145.4 L814.8,1142.8 L815.6,1137.9 L816.4,1131.8 L817.2,1131 L818,1134.2 L818.8,1133.8 L819.6,1133.5 L820.4,1134.7 L821.2,1134.2 L822,1133.9 L822.8,1134.8 L823.6,1133.1 L824.4,1131 L825.2,1133.7 L826,1137.9 L826.8,1139.3 L827.6,1138.6 L828.4,1140.1 L829.2,1142.7 L830,1144.1 L830.8,1145.5 L831.6,1148.4 L832.4,1151.6 L833.2,1152.7 L834,1151.9 L834.8,1151 L835.6,1149.9 L836.4,1149 L837.2,1152 L838,1158.8 L838.8,1161.8 L839.6,1162.4 L840.4,1164.1 L841.2,1164 L842,1166.3 L842.8,1170.6 L843.6,1170.9 L844.4,1171.2 L845.2,1175.2 L846,1179.3 L846.8,1181.1 L847.6,1182.9 L848.4,1185.3 L849.2,1186.8 L850,1189 L850.8,1192.1 L851.6,1193.4 L852.4,1194 L853.2,1195.8 L854,1198.2 L854.8,1200.5 L855.6,1200.8 L856.4,1200.4 L857.2,1200.7 L858,1201.2 L858.8,1202.4 L859.6,1204.2 L860.4,1206.7 L861.2,1209.1 L862,1210.4 L862.8,1210.4 L863.6,1209.6 L864.4,1209.7 L865.2,1211.2 L866,1212.6 L866.8,1213.8 L867.6,1215.5 L868.4,1216.9 L869.2,1217.9 L870,1219 L870.8,1220.7 L871.6,1222.3 L872.4,1223 L873.2,1222.8 L874,1221.9 L874.8,1222.8 L875.6,1225.2 L876.4,1226.4 L877.2,1227.1 L878,1227.5 L878.8,1227.3 L879.6,1227.9 L880.4,1228.6 L881.2,1228.3 L882,1228.6 L882.8,1229.3 L883.6,1230.2 L884.4,1230.8 L885.2,1231.1 L886,1231.5 L886.8,1231.8 L887.6,1232.2 L888.4,1232.4 L889.2,1232.7 L890,1232.9 L890.8,1233.2 L891.6,1233.3 L892.4,1233.4 L893.2,1233.5 L894,1233.6 L894.8,1233.7 L895.6,1233.8 L896.4,1233.9 L897.2,1234 L898,1234 L898.8,1234.1 L899.6,1234.2 L900.4,1234.2 L901.2,1234.3 L902,1234.3 L902.8,1234.4 L903.6,1234.4 L904.4,1234.4 L905.2,1234.5 L906,1234.5 L906.8,1234.5 L907.6,1234.5 L908.4,1234.5 L909.2,1234.5 L910,1234.5 L910.8,1234.5 L911.6,1234.5 L912.4,1234.5 L913.2,1234.5 L914,1234.5 L914.8,1234.5 L915.6,1234.5 L916.4,1234.5 L917.2,1234.5 L918,1234.5 L918.8,1234.5 L919.6,1234.5 L920.4,1234.5 L921.2,1234.5 L922,1234.5 L922.8,1234.5 L923.6,1234.5 L924.4,1234.5 L925.2,1234.5 L926,1234.5 L926.8,1234.5 L927.6,1234.5 L928.4,1234.5 L929.2,1234.5 L930,1234.5 L930.8,1234.5 L931.6,1234.5 L932.4,1234.5 L933.2,1234.5 L934,1234.5 L934.8,1234.5 L935.6,1234.5 L936.4,1234.5 L937.2,1234.5 L938,1234.5 L938.8,1234.5 L939.6,1234.5 L940.4,1234.5 L941.2,1234.5 L942,1234.5 L942.8,1234.5 L943.6,1234.5 L944.4,1234.5 L945.2,1234.5 L946,1234.5 L946.8,1234.5 L947.6,1234.5 L948.4,1234.5 L949.2,1234.5 L950,1234.5 L950.8,1234.5 L951.6,1234.5 L952.4,1234.5 L953.2,1234.5 L954,1234.5 L954.8,1234.5 L955.6,1234.5 L956.4,1234.5 L957.2,1234.5 L958,1234.5 L958.8,1234.5 L959.6,1234.5 L960.4,1234.5 L961.2,1234.5 L962,1234.5 L962.8,1234.5 L963.6,1234.5 L964.4,1234.5 L965.2,1234.5 L966,1234.5 L966.8,1234.5 L967.6,1234.5 L968.4,1234.5 L969.2,1234.5 L970,1234.5 L970.8,1234.5 L971.6,1234.5 L972.4,1234.5 L973.2,1234.5 L974,1234.5 L974.8,1234.5 L975.6,1234.5 L976.4,1234.5 L977.2,1234.5 L978,1234.5 L978.8,1234.5 L979.6,1234.5 L980.4,1234.5 L981.2,1234.5 L982,1234.5 L982.8,1234.5 L983.6,1234.5 L984.4,1234.5 L985.2,1234.5 L986,1234.5 L986.8,1234.5 L987.6,1234.5" fill="none" stroke="#e2452e" stroke-width="1.3"/>
<path d="M779.6,1267 L780.4,1267 L781.2,1267 L782,1267 L782.8,1267 L783.6,1267 L784.4,1267 L785.2,1267 L786,1267 L786.8,1267 L787.6,1267 L788.4,1267 L789.2,1267 L790,1267 L790.8,1267 L791.6,1267 L792.4,1267 L793.2,1267 L794,1267 L794.8,1267 L795.6,1266.9 L796.4,1265.9 L797.2,1264.4 L798,1263.8 L798.8,1261.3 L799.6,1258.6 L800.4,1254.7 L801.2,1250.6 L802,1247.8 L802.8,1246.8 L803.6,1244.3 L804.4,1240.4 L805.2,1237.7 L806,1234.6 L806.8,1232.7 L807.6,1231.8 L808.4,1229 L809.2,1225.6 L810,1223.4 L810.8,1221.4 L811.6,1218.4 L812.4,1213.6 L813.2,1206.9 L814,1203.9 L814.8,1206.5 L815.6,1206.1 L816.4,1200.9 L817.2,1197.6 L818,1195.8 L818.8,1190.5 L819.6,1190.6 L820.4,1195.4 L821.2,1193 L822,1190.1 L822.8,1192.7 L823.6,1193.7 L824.4,1190.8 L825.2,1187.8 L826,1185.2 L826.8,1185.7 L827.6,1185.7 L828.4,1180.6 L829.2,1177.2 L830,1178.3 L830.8,1179.3 L831.6,1178.3 L832.4,1178.3 L833.2,1180.5 L834,1180.4 L834.8,1178.4 L835.6,1177 L836.4,1174.7 L837.2,1173.3 L838,1171.5 L838.8,1170.8 L839.6,1172.2 L840.4,1171.7 L841.2,1167.7 L842,1163.5 L842.8,1164.5 L843.6,1166.2 L844.4,1167.2 L845.2,1171.5 L846,1174.5 L846.8,1172.1 L847.6,1169.5 L848.4,1170.8 L849.2,1172.4 L850,1173.5 L850.8,1174.1 L851.6,1173.2 L852.4,1175.9 L853.2,1181.8 L854,1184.7 L854.8,1185.7 L855.6,1187.7 L856.4,1188.5 L857.2,1189.7 L858,1193.4 L858.8,1197.7 L859.6,1202.3 L860.4,1206.6 L861.2,1207.7 L862,1207.9 L862.8,1210.8 L863.6,1213.2 L864.4,1214.1 L865.2,1216.1 L866,1220 L866.8,1221.6 L867.6,1221.3 L868.4,1224 L869.2,1227 L870,1228.8 L870.8,1230.6 L871.6,1231.8 L872.4,1232.1 L873.2,1235.4 L874,1239 L874.8,1240.9 L875.6,1244.7 L876.4,1246.7 L877.2,1247.6 L878,1249.8 L878.8,1251.6 L879.6,1253.9 L880.4,1255.4 L881.2,1255.8 L882,1257.1 L882.8,1258.3 L883.6,1258.8 L884.4,1260.2 L885.2,1261.6 L886,1261.2 L886.8,1259.9 L887.6,1260.7 L888.4,1262.6 L889.2,1262.7 L890,1263.3 L890.8,1263.7 L891.6,1264 L892.4,1264.3 L893.2,1264.6 L894,1264.8 L894.8,1265 L895.6,1265.2 L896.4,1265.4 L897.2,1265.6 L898,1265.8 L898.8,1265.9 L899.6,1266.1 L900.4,1266.2 L901.2,1266.4 L902,1266.5 L902.8,1266.6 L903.6,1266.7 L904.4,1266.8 L905.2,1266.9 L906,1267 L906.8,1267 L907.6,1267 L908.4,1267 L909.2,1267 L910,1267 L910.8,1267 L911.6,1267 L912.4,1267 L913.2,1267 L914,1267 L914.8,1267 L915.6,1267 L916.4,1267 L917.2,1267 L918,1267 L918.8,1267 L919.6,1267 L920.4,1267 L921.2,1267 L922,1267 L922.8,1267 L923.6,1267 L924.4,1267 L925.2,1267 L926,1267 L926.8,1267 L927.6,1267 L928.4,1267 L929.2,1267 L930,1267 L930.8,1267 L931.6,1267 L932.4,1267 L933.2,1267 L934,1267 L934.8,1267 L935.6,1267 L936.4,1267 L937.2,1267 L938,1267 L938.8,1267 L939.6,1267 L940.4,1267 L941.2,1267 L942,1267 L942.8,1267 L943.6,1267 L944.4,1267 L945.2,1267 L946,1267 L946.8,1267 L947.6,1267 L948.4,1267 L949.2,1267 L950,1267 L950.8,1267 L951.6,1267 L952.4,1267 L953.2,1267 L954,1267 L954.8,1267 L955.6,1267 L956.4,1267 L957.2,1267 L958,1267 L958.8,1267 L959.6,1267 L960.4,1267 L961.2,1267 L962,1267 L962.8,1267 L963.6,1267 L964.4,1267 L965.2,1267 L966,1267 L966.8,1267 L967.6,1267 L968.4,1267 L969.2,1267 L970,1267 L970.8,1267 L971.6,1267 L972.4,1267 L973.2,1267 L974,1267 L974.8,1267 L975.6,1267 L976.4,1267 L977.2,1267 L978,1267 L978.8,1267 L979.6,1267 L980.4,1267 L981.2,1267 L982,1267 L982.8,1267 L983.6,1267 L984.4,1267 L985.2,1267 L986,1267 L986.8,1267 L987.6,1267 L987.6,1267.5 L779.6,1267.5 Z" fill="#b1b1da" stroke="none"/>
<path d="M779.6,1267 L780.4,1267 L781.2,1267 L782,1267 L782.8,1267 L783.6,1267 L784.4,1267 L785.2,1267 L786,1267 L786.8,1267 L787.6,1267 L788.4,1267 L789.2,1267 L790,1267 L790.8,1267 L791.6,1267 L792.4,1267 L793.2,1267 L794,1267 L794.8,1267 L795.6,1266.9 L796.4,1265.9 L797.2,1264.4 L798,1263.8 L798.8,1261.3 L799.6,1258.6 L800.4,1254.7 L801.2,1250.6 L802,1247.8 L802.8,1246.8 L803.6,1244.3 L804.4,1240.4 L805.2,1237.7 L806,1234.6 L806.8,1232.7 L807.6,1231.8 L808.4,1229 L809.2,1225.6 L810,1223.4 L810.8,1221.4 L811.6,1218.4 L812.4,1213.6 L813.2,1206.9 L814,1203.9 L814.8,1206.5 L815.6,1206.1 L816.4,1200.9 L817.2,1197.6 L818,1195.8 L818.8,1190.5 L819.6,1190.6 L820.4,1195.4 L821.2,1193 L822,1190.1 L822.8,1192.7 L823.6,1193.7 L824.4,1190.8 L825.2,1187.8 L826,1185.2 L826.8,1185.7 L827.6,1185.7 L828.4,1180.6 L829.2,1177.2 L830,1178.3 L830.8,1179.3 L831.6,1178.3 L832.4,1178.3 L833.2,1180.5 L834,1180.4 L834.8,1178.4 L835.6,1177 L836.4,1174.7 L837.2,1173.3 L838,1171.5 L838.8,1170.8 L839.6,1172.2 L840.4,1171.7 L841.2,1167.7 L842,1163.5 L842.8,1164.5 L843.6,1166.2 L844.4,1167.2 L845.2,1171.5 L846,1174.5 L846.8,1172.1 L847.6,1169.5 L848.4,1170.8 L849.2,1172.4 L850,1173.5 L850.8,1174.1 L851.6,1173.2 L852.4,1175.9 L853.2,1181.8 L854,1184.7 L854.8,1185.7 L855.6,1187.7 L856.4,1188.5 L857.2,1189.7 L858,1193.4 L858.8,1197.7 L859.6,1202.3 L860.4,1206.6 L861.2,1207.7 L862,1207.9 L862.8,1210.8 L863.6,1213.2 L864.4,1214.1 L865.2,1216.1 L866,1220 L866.8,1221.6 L867.6,1221.3 L868.4,1224 L869.2,1227 L870,1228.8 L870.8,1230.6 L871.6,1231.8 L872.4,1232.1 L873.2,1235.4 L874,1239 L874.8,1240.9 L875.6,1244.7 L876.4,1246.7 L877.2,1247.6 L878,1249.8 L878.8,1251.6 L879.6,1253.9 L880.4,1255.4 L881.2,1255.8 L882,1257.1 L882.8,1258.3 L883.6,1258.8 L884.4,1260.2 L885.2,1261.6 L886,1261.2 L886.8,1259.9 L887.6,1260.7 L888.4,1262.6 L889.2,1262.7 L890,1263.3 L890.8,1263.7 L891.6,1264 L892.4,1264.3 L893.2,1264.6 L894,1264.8 L894.8,1265 L895.6,1265.2 L896.4,1265.4 L897.2,1265.6 L898,1265.8 L898.8,1265.9 L899.6,1266.1 L900.4,1266.2 L901.2,1266.4 L902,1266.5 L902.8,1266.6 L903.6,1266.7 L904.4,1266.8 L905.2,1266.9 L906,1267 L906.8,1267 L907.6,1267 L908.4,1267 L909.2,1267 L910,1267 L910.8,1267 L911.6,1267 L912.4,1267 L913.2,1267 L914,1267 L914.8,1267 L915.6,1267 L916.4,1267 L917.2,1267 L918,1267 L918.8,1267 L919.6,1267 L920.4,1267 L921.2,1267 L922,1267 L922.8,1267 L923.6,1267 L924.4,1267 L925.2,1267 L926,1267 L926.8,1267 L927.6,1267 L928.4,1267 L929.2,1267 L930,1267 L930.8,1267 L931.6,1267 L932.4,1267 L933.2,1267 L934,1267 L934.8,1267 L935.6,1267 L936.4,1267 L937.2,1267 L938,1267 L938.8,1267 L939.6,1267 L940.4,1267 L941.2,1267 L942,1267 L942.8,1267 L943.6,1267 L944.4,1267 L945.2,1267 L946,1267 L946.8,1267 L947.6,1267 L948.4,1267 L949.2,1267 L950,1267 L950.8,1267 L951.6,1267 L952.4,1267 L953.2,1267 L954,1267 L954.8,1267 L955.6,1267 L956.4,1267 L957.2,1267 L958,1267 L958.8,1267 L959.6,1267 L960.4,1267 L961.2,1267 L962,1267 L962.8,1267 L963.6,1267 L964.4,1267 L965.2,1267 L966,1267 L966.8,1267 L967.6,1267 L968.4,1267 L969.2,1267 L970,1267 L970.8,1267 L971.6,1267 L972.4,1267 L973.2,1267 L974,1267 L974.8,1267 L975.6,1267 L976.4,1267 L977.2,1267 L978,1267 L978.8,1267 L979.6,1267 L980.4,1267 L981.2,1267 L982,1267 L982.8,1267 L983.6,1267 L984.4,1267 L985.2,1267 L986,1267 L986.8,1267 L987.6,1267" fill="none" stroke="#3b4ea2" stroke-width="1.3"/>
<rect x="777.6" y="1058" width="212.2" height="211.2" fill="none" stroke="#111" stroke-width="1.8"/>
<text transform="translate(811.6,1043.6) scale(0.9624,1)" font-size="41.4">A*02:07</text>
<path d="M779.6,1495.9 L780.4,1495.9 L781.2,1495.9 L782,1495.9 L782.8,1495.9 L783.6,1495.9 L784.4,1495.9 L785.2,1495.9 L786,1495.9 L786.8,1495.9 L787.6,1495.9 L788.4,1495.8 L789.2,1495.7 L790,1495.5 L790.8,1495 L791.6,1494.1 L792.4,1492.3 L793.2,1489 L794,1483.6 L794.8,1475 L795.6,1462.4 L796.4,1445.2 L797.2,1423.1 L798,1397.2 L798.8,1369.2 L799.6,1342.1 L800.4,1319.2 L801.2,1303.9 L802,1298.5 L802.8,1303.2 L803.6,1316.6 L804.4,1336.8 L805.2,1361.4 L806,1387.5 L806.8,1412.7 L807.6,1435 L808.4,1453.4 L809.2,1467.6 L810,1478 L810.8,1485.1 L811.6,1489.7 L812.4,1492.5 L813.2,1494.1 L814,1495 L814.8,1495.5 L815.6,1495.7 L816.4,1495.8 L817.2,1495.9 L818,1495.9 L818.8,1495.9 L819.6,1495.9 L820.4,1495.9 L821.2,1495.9 L822,1495.9 L822.8,1495.9 L823.6,1495.9 L824.4,1495.9 L825.2,1495.9 L826,1495.9 L826.8,1495.9 L827.6,1495.9 L828.4,1495.9 L829.2,1495.9 L830,1495.9 L830.8,1495.9 L831.6,1495.9 L832.4,1495.9 L833.2,1495.9 L834,1495.9 L834.8,1495.9 L835.6,1495.9 L836.4,1495.9 L837.2,1495.9 L838,1495.9 L838.8,1495.9 L839.6,1495.9 L840.4,1495.9 L841.2,1495.9 L842,1495.9 L842.8,1495.9 L843.6,1495.9 L844.4,1495.9 L845.2,1495.9 L846,1495.9 L846.8,1495.9 L847.6,1495.9 L848.4,1495.9 L849.2,1495.9 L850,1495.9 L850.8,1495.9 L851.6,1495.9 L852.4,1495.9 L853.2,1495.9 L854,1495.9 L854.8,1495.9 L855.6,1495.9 L856.4,1495.9 L857.2,1495.9 L858,1495.9 L858.8,1495.9 L859.6,1495.9 L860.4,1495.9 L861.2,1495.9 L862,1495.9 L862.8,1495.9 L863.6,1495.9 L864.4,1495.9 L865.2,1495.9 L866,1495.9 L866.8,1495.9 L867.6,1495.9 L868.4,1495.9 L869.2,1495.9 L870,1495.9 L870.8,1495.9 L871.6,1495.9 L872.4,1495.9 L873.2,1495.9 L874,1495.9 L874.8,1495.9 L875.6,1495.9 L876.4,1495.9 L877.2,1495.9 L878,1495.9 L878.8,1495.9 L879.6,1495.9 L880.4,1495.9 L881.2,1495.9 L882,1495.9 L882.8,1495.9 L883.6,1495.9 L884.4,1495.9 L885.2,1495.9 L886,1495.9 L886.8,1495.9 L887.6,1495.9 L888.4,1495.9 L889.2,1495.9 L890,1495.9 L890.8,1495.9 L891.6,1495.9 L892.4,1495.9 L893.2,1495.9 L894,1495.9 L894.8,1495.9 L895.6,1495.9 L896.4,1495.9 L897.2,1495.9 L898,1495.9 L898.8,1495.9 L899.6,1495.9 L900.4,1495.9 L901.2,1495.9 L902,1495.9 L902.8,1495.9 L903.6,1495.9 L904.4,1495.9 L905.2,1495.9 L906,1495.9 L906.8,1495.9 L907.6,1495.9 L908.4,1495.9 L909.2,1495.9 L910,1495.9 L910.8,1495.9 L911.6,1495.9 L912.4,1495.9 L913.2,1495.9 L914,1495.9 L914.8,1495.9 L915.6,1495.9 L916.4,1495.9 L917.2,1495.9 L918,1495.9 L918.8,1495.9 L919.6,1495.9 L920.4,1495.9 L921.2,1495.9 L922,1495.9 L922.8,1495.9 L923.6,1495.9 L924.4,1495.9 L925.2,1495.9 L926,1495.9 L926.8,1495.9 L927.6,1495.9 L928.4,1495.9 L929.2,1495.9 L930,1495.9 L930.8,1495.9 L931.6,1495.9 L932.4,1495.9 L933.2,1495.9 L934,1495.9 L934.8,1495.9 L935.6,1495.9 L936.4,1495.9 L937.2,1495.9 L938,1495.9 L938.8,1495.9 L939.6,1495.9 L940.4,1495.9 L941.2,1495.9 L942,1495.9 L942.8,1495.9 L943.6,1495.9 L944.4,1495.9 L945.2,1495.9 L946,1495.9 L946.8,1495.9 L947.6,1495.9 L948.4,1495.9 L949.2,1495.9 L950,1495.9 L950.8,1495.9 L951.6,1495.9 L952.4,1495.9 L953.2,1495.9 L954,1495.9 L954.8,1495.9 L955.6,1495.9 L956.4,1495.9 L957.2,1495.9 L958,1495.9 L958.8,1495.9 L959.6,1495.9 L960.4,1495.9 L961.2,1495.9 L962,1495.9 L962.8,1495.9 L963.6,1495.9 L964.4,1495.9 L965.2,1495.9 L966,1495.9 L966.8,1495.9 L967.6,1495.9 L968.4,1495.9 L969.2,1495.9 L970,1495.9 L970.8,1495.9 L971.6,1495.9 L972.4,1495.9 L973.2,1495.9 L974,1495.9 L974.8,1495.9 L975.6,1495.9 L976.4,1495.9 L977.2,1495.9 L978,1495.9 L978.8,1495.9 L979.6,1495.9 L980.4,1495.9 L981.2,1495.9 L982,1495.9 L982.8,1495.9 L983.6,1495.9 L984.4,1495.9 L985.2,1495.9 L986,1495.9 L986.8,1495.9 L987.6,1495.9" fill="none" stroke="#777" stroke-width="1.6" stroke-dasharray="4,3"/>
<path d="M779.6,1495.9 L780.4,1495.9 L781.2,1495.9 L782,1495.9 L782.8,1495.9 L783.6,1495.9 L784.4,1495.9 L785.2,1495.9 L786,1495.9 L786.8,1495.9 L787.6,1495.9 L788.4,1495.9 L789.2,1495.9 L790,1495.9 L790.8,1495.9 L791.6,1495.9 L792.4,1495.9 L793.2,1495.9 L794,1495.9 L794.8,1495.9 L795.6,1495.9 L796.4,1495.9 L797.2,1495.9 L798,1495.9 L798.8,1495.9 L799.6,1495.9 L800.4,1495.9 L801.2,1495.9 L802,1495.9 L802.8,1495.9 L803.6,1495.9 L804.4,1495.9 L805.2,1495.9 L806,1495.9 L806.8,1495.9 L807.6,1495.9 L808.4,1495.9 L809.2,1495.9 L810,1495.9 L810.8,1495.9 L811.6,1495.9 L812.4,1495.9 L813.2,1495.9 L814,1495.9 L814.8,1495.9 L815.6,1495.9 L816.4,1495.9 L817.2,1495.9 L818,1495.9 L818.8,1495.9 L819.6,1495.9 L820.4,1495.9 L821.2,1495.9 L822,1495.9 L822.8,1495.9 L823.6,1495.9 L824.4,1495.9 L825.2,1495.9 L826,1495.9 L826.8,1495.9 L827.6,1495.9 L828.4,1495.9 L829.2,1495.9 L830,1495.9 L830.8,1495.9 L831.6,1495.8 L832.4,1495.8 L833.2,1495.8 L834,1495.8 L834.8,1495.8 L835.6,1495.8 L836.4,1495.7 L837.2,1495.7 L838,1495.6 L838.8,1495.6 L839.6,1495.5 L840.4,1495.5 L841.2,1495.4 L842,1495.3 L842.8,1495.1 L843.6,1495 L844.4,1494.8 L845.2,1494.6 L846,1494.4 L846.8,1494.1 L847.6,1493.8 L848.4,1493.5 L849.2,1493.1 L850,1492.6 L850.8,1492.1 L851.6,1491.3 L852.4,1490.7 L853.2,1489.8 L854,1489.4 L854.8,1488.3 L855.6,1486.8 L856.4,1486.2 L857.2,1484.8 L858,1483 L858.8,1481.5 L859.6,1480 L860.4,1478.4 L861.2,1474.8 L862,1473.1 L862.8,1469.7 L863.6,1468.3 L864.4,1464.7 L865.2,1461.6 L866,1457.9 L866.8,1455.5 L867.6,1449.3 L868.4,1446.4 L869.2,1441.5 L870,1438.1 L870.8,1430.6 L871.6,1428.8 L872.4,1419.6 L873.2,1416.8 L874,1411.1 L874.8,1405.7 L875.6,1396.9 L876.4,1394.1 L877.2,1388 L878,1382 L878.8,1373.5 L879.6,1367.2 L880.4,1363.2 L881.2,1355 L882,1347.1 L882.8,1342.9 L883.6,1337.9 L884.4,1335.5 L885.2,1325.1 L886,1322.2 L886.8,1322.4 L887.6,1317 L888.4,1317.9 L889.2,1307.5 L890,1308.8 L890.8,1304.5 L891.6,1299 L892.4,1304.4 L893.2,1298.5 L894,1301.2 L894.8,1303.4 L895.6,1298.8 L896.4,1302.1 L897.2,1306.4 L898,1305.9 L898.8,1311 L899.6,1314.6 L900.4,1316.9 L901.2,1317.7 L902,1327.4 L902.8,1331.1 L903.6,1331.2 L904.4,1340.8 L905.2,1343.5 L906,1349 L906.8,1356.3 L907.6,1360.9 L908.4,1365.4 L909.2,1371.1 L910,1375.7 L910.8,1382.2 L911.6,1386.9 L912.4,1393.7 L913.2,1400.2 L914,1404.3 L914.8,1410 L915.6,1414.8 L916.4,1421.2 L917.2,1426.1 L918,1430.9 L918.8,1436.9 L919.6,1439.4 L920.4,1444.7 L921.2,1448.7 L922,1452.2 L922.8,1453.9 L923.6,1459.5 L924.4,1461.1 L925.2,1466.4 L926,1468 L926.8,1469.4 L927.6,1472.8 L928.4,1474.9 L929.2,1477.4 L930,1479.9 L930.8,1480.6 L931.6,1482.1 L932.4,1483.5 L933.2,1484.6 L934,1486.4 L934.8,1487.3 L935.6,1489 L936.4,1489.4 L937.2,1490.1 L938,1490.6 L938.8,1491.2 L939.6,1492 L940.4,1492.5 L941.2,1493 L942,1493.4 L942.8,1493.7 L943.6,1494 L944.4,1494.3 L945.2,1494.5 L946,1494.7 L946.8,1494.9 L947.6,1495 L948.4,1495.2 L949.2,1495.3 L950,1495.4 L950.8,1495.4 L951.6,1495.5 L952.4,1495.6 L953.2,1495.6 L954,1495.7 L954.8,1495.7 L955.6,1495.7 L956.4,1495.8 L957.2,1495.8 L958,1495.8 L958.8,1495.8 L959.6,1495.8 L960.4,1495.9 L961.2,1495.9 L962,1495.9 L962.8,1495.9 L963.6,1495.9 L964.4,1495.9 L965.2,1495.9 L966,1495.9 L966.8,1495.9 L967.6,1495.9 L968.4,1495.9 L969.2,1495.9 L970,1495.9 L970.8,1495.9 L971.6,1495.9 L972.4,1495.9 L973.2,1495.9 L974,1495.9 L974.8,1495.9 L975.6,1495.9 L976.4,1495.9 L977.2,1495.9 L978,1495.9 L978.8,1495.9 L979.6,1495.9 L980.4,1495.9 L981.2,1495.9 L982,1495.9 L982.8,1495.9 L983.6,1495.9 L984.4,1495.9 L985.2,1495.9 L986,1495.9 L986.8,1495.9 L987.6,1495.9" fill="none" stroke="#000" stroke-width="1.6"/>
<rect x="777.6" y="1286.1" width="212.2" height="211" fill="none" stroke="#111" stroke-width="1.6"/>
<line x1="778.8" y1="1269.2" x2="778.8" y2="1275.2" stroke="#000" stroke-width="1.4"/>
<line x1="799.1" y1="1269.2" x2="799.1" y2="1275.2" stroke="#000" stroke-width="1.4"/>
<line x1="822.4" y1="1269.2" x2="822.4" y2="1275.2" stroke="#000" stroke-width="1.4"/>
<line x1="873.4" y1="1269.2" x2="873.4" y2="1275.2" stroke="#000" stroke-width="1.4"/>
<line x1="922.1" y1="1269.2" x2="922.1" y2="1275.2" stroke="#000" stroke-width="1.4"/>
<line x1="969.4" y1="1269.2" x2="969.4" y2="1275.2" stroke="#000" stroke-width="1.4"/>
<line x1="784.1" y1="1269.2" x2="784.1" y2="1272.2" stroke="#000" stroke-width="1.1"/>
<line x1="789.6" y1="1269.2" x2="789.6" y2="1272.2" stroke="#000" stroke-width="1.1"/>
<line x1="793.6" y1="1269.2" x2="793.6" y2="1272.2" stroke="#000" stroke-width="1.1"/>
<line x1="803.6" y1="1269.2" x2="803.6" y2="1272.2" stroke="#000" stroke-width="1.1"/>
<line x1="808.6" y1="1269.2" x2="808.6" y2="1272.2" stroke="#000" stroke-width="1.1"/>
<line x1="813.6" y1="1269.2" x2="813.6" y2="1272.2" stroke="#000" stroke-width="1.1"/>
<line x1="818.6" y1="1269.2" x2="818.6" y2="1272.2" stroke="#000" stroke-width="1.1"/>
<line x1="839.6" y1="1269.2" x2="839.6" y2="1272.2" stroke="#000" stroke-width="1.1"/>
<line x1="845.6" y1="1269.2" x2="845.6" y2="1272.2" stroke="#000" stroke-width="1.1"/>
<line x1="849.6" y1="1269.2" x2="849.6" y2="1272.2" stroke="#000" stroke-width="1.1"/>
<line x1="855.6" y1="1269.2" x2="855.6" y2="1272.2" stroke="#000" stroke-width="1.1"/>
<line x1="859.6" y1="1269.2" x2="859.6" y2="1272.2" stroke="#000" stroke-width="1.1"/>
<line x1="862.6" y1="1269.2" x2="862.6" y2="1272.2" stroke="#000" stroke-width="1.1"/>
<line x1="865.6" y1="1269.2" x2="865.6" y2="1272.2" stroke="#000" stroke-width="1.1"/>
<line x1="867.6" y1="1269.2" x2="867.6" y2="1272.2" stroke="#000" stroke-width="1.1"/>
<line x1="870.6" y1="1269.2" x2="870.6" y2="1272.2" stroke="#000" stroke-width="1.1"/>
<line x1="888.6" y1="1269.2" x2="888.6" y2="1272.2" stroke="#000" stroke-width="1.1"/>
<line x1="897.6" y1="1269.2" x2="897.6" y2="1272.2" stroke="#000" stroke-width="1.1"/>
<line x1="903.6" y1="1269.2" x2="903.6" y2="1272.2" stroke="#000" stroke-width="1.1"/>
<line x1="908.6" y1="1269.2" x2="908.6" y2="1272.2" stroke="#000" stroke-width="1.1"/>
<line x1="912.6" y1="1269.2" x2="912.6" y2="1272.2" stroke="#000" stroke-width="1.1"/>
<line x1="915.6" y1="1269.2" x2="915.6" y2="1272.2" stroke="#000" stroke-width="1.1"/>
<line x1="917.6" y1="1269.2" x2="917.6" y2="1272.2" stroke="#000" stroke-width="1.1"/>
<line x1="919.6" y1="1269.2" x2="919.6" y2="1272.2" stroke="#000" stroke-width="1.1"/>
<line x1="937.6" y1="1269.2" x2="937.6" y2="1272.2" stroke="#000" stroke-width="1.1"/>
<line x1="944.6" y1="1269.2" x2="944.6" y2="1272.2" stroke="#000" stroke-width="1.1"/>
<line x1="949.6" y1="1269.2" x2="949.6" y2="1272.2" stroke="#000" stroke-width="1.1"/>
<line x1="954.6" y1="1269.2" x2="954.6" y2="1272.2" stroke="#000" stroke-width="1.1"/>
<line x1="957.6" y1="1269.2" x2="957.6" y2="1272.2" stroke="#000" stroke-width="1.1"/>
<line x1="960.6" y1="1269.2" x2="960.6" y2="1272.2" stroke="#000" stroke-width="1.1"/>
<line x1="963.6" y1="1269.2" x2="963.6" y2="1272.2" stroke="#000" stroke-width="1.1"/>
<line x1="965.6" y1="1269.2" x2="965.6" y2="1272.2" stroke="#000" stroke-width="1.1"/>
<line x1="967.6" y1="1269.2" x2="967.6" y2="1272.2" stroke="#000" stroke-width="1.1"/>
<line x1="983.6" y1="1269.2" x2="983.6" y2="1272.2" stroke="#000" stroke-width="1.1"/>
<line x1="986.6" y1="1269.2" x2="986.6" y2="1272.2" stroke="#000" stroke-width="1.1"/>
<line x1="778.8" y1="1497.1" x2="778.8" y2="1503.1" stroke="#000" stroke-width="1.4"/>
<line x1="799.1" y1="1497.1" x2="799.1" y2="1503.1" stroke="#000" stroke-width="1.4"/>
<line x1="822.4" y1="1497.1" x2="822.4" y2="1503.1" stroke="#000" stroke-width="1.4"/>
<line x1="873.4" y1="1497.1" x2="873.4" y2="1503.1" stroke="#000" stroke-width="1.4"/>
<line x1="922.1" y1="1497.1" x2="922.1" y2="1503.1" stroke="#000" stroke-width="1.4"/>
<line x1="969.4" y1="1497.1" x2="969.4" y2="1503.1" stroke="#000" stroke-width="1.4"/>
<line x1="784.1" y1="1497.1" x2="784.1" y2="1500.1" stroke="#000" stroke-width="1.1"/>
<line x1="789.6" y1="1497.1" x2="789.6" y2="1500.1" stroke="#000" stroke-width="1.1"/>
<line x1="793.6" y1="1497.1" x2="793.6" y2="1500.1" stroke="#000" stroke-width="1.1"/>
<line x1="803.6" y1="1497.1" x2="803.6" y2="1500.1" stroke="#000" stroke-width="1.1"/>
<line x1="808.6" y1="1497.1" x2="808.6" y2="1500.1" stroke="#000" stroke-width="1.1"/>
<line x1="813.6" y1="1497.1" x2="813.6" y2="1500.1" stroke="#000" stroke-width="1.1"/>
<line x1="818.6" y1="1497.1" x2="818.6" y2="1500.1" stroke="#000" stroke-width="1.1"/>
<line x1="839.6" y1="1497.1" x2="839.6" y2="1500.1" stroke="#000" stroke-width="1.1"/>
<line x1="845.6" y1="1497.1" x2="845.6" y2="1500.1" stroke="#000" stroke-width="1.1"/>
<line x1="849.6" y1="1497.1" x2="849.6" y2="1500.1" stroke="#000" stroke-width="1.1"/>
<line x1="855.6" y1="1497.1" x2="855.6" y2="1500.1" stroke="#000" stroke-width="1.1"/>
<line x1="859.6" y1="1497.1" x2="859.6" y2="1500.1" stroke="#000" stroke-width="1.1"/>
<line x1="862.6" y1="1497.1" x2="862.6" y2="1500.1" stroke="#000" stroke-width="1.1"/>
<line x1="865.6" y1="1497.1" x2="865.6" y2="1500.1" stroke="#000" stroke-width="1.1"/>
<line x1="867.6" y1="1497.1" x2="867.6" y2="1500.1" stroke="#000" stroke-width="1.1"/>
<line x1="870.6" y1="1497.1" x2="870.6" y2="1500.1" stroke="#000" stroke-width="1.1"/>
<line x1="888.6" y1="1497.1" x2="888.6" y2="1500.1" stroke="#000" stroke-width="1.1"/>
<line x1="897.6" y1="1497.1" x2="897.6" y2="1500.1" stroke="#000" stroke-width="1.1"/>
<line x1="903.6" y1="1497.1" x2="903.6" y2="1500.1" stroke="#000" stroke-width="1.1"/>
<line x1="908.6" y1="1497.1" x2="908.6" y2="1500.1" stroke="#000" stroke-width="1.1"/>
<line x1="912.6" y1="1497.1" x2="912.6" y2="1500.1" stroke="#000" stroke-width="1.1"/>
<line x1="915.6" y1="1497.1" x2="915.6" y2="1500.1" stroke="#000" stroke-width="1.1"/>
<line x1="917.6" y1="1497.1" x2="917.6" y2="1500.1" stroke="#000" stroke-width="1.1"/>
<line x1="919.6" y1="1497.1" x2="919.6" y2="1500.1" stroke="#000" stroke-width="1.1"/>
<line x1="937.6" y1="1497.1" x2="937.6" y2="1500.1" stroke="#000" stroke-width="1.1"/>
<line x1="944.6" y1="1497.1" x2="944.6" y2="1500.1" stroke="#000" stroke-width="1.1"/>
<line x1="949.6" y1="1497.1" x2="949.6" y2="1500.1" stroke="#000" stroke-width="1.1"/>
<line x1="954.6" y1="1497.1" x2="954.6" y2="1500.1" stroke="#000" stroke-width="1.1"/>
<line x1="957.6" y1="1497.1" x2="957.6" y2="1500.1" stroke="#000" stroke-width="1.1"/>
<line x1="960.6" y1="1497.1" x2="960.6" y2="1500.1" stroke="#000" stroke-width="1.1"/>
<line x1="963.6" y1="1497.1" x2="963.6" y2="1500.1" stroke="#000" stroke-width="1.1"/>
<line x1="965.6" y1="1497.1" x2="965.6" y2="1500.1" stroke="#000" stroke-width="1.1"/>
<line x1="967.6" y1="1497.1" x2="967.6" y2="1500.1" stroke="#000" stroke-width="1.1"/>
<line x1="983.6" y1="1497.1" x2="983.6" y2="1500.1" stroke="#000" stroke-width="1.1"/>
<line x1="986.6" y1="1497.1" x2="986.6" y2="1500.1" stroke="#000" stroke-width="1.1"/>
<line x1="773.1" y1="1296.1" x2="777.6" y2="1296.1" stroke="#000" stroke-width="1.4"/>
<line x1="775.6" y1="1304.1" x2="777.6" y2="1304.1" stroke="#000" stroke-width="1"/>
<line x1="775.6" y1="1312.1" x2="777.6" y2="1312.1" stroke="#000" stroke-width="1"/>
<line x1="775.6" y1="1320.1" x2="777.6" y2="1320.1" stroke="#000" stroke-width="1"/>
<line x1="775.6" y1="1328.1" x2="777.6" y2="1328.1" stroke="#000" stroke-width="1"/>
<line x1="773.1" y1="1336.3" x2="777.6" y2="1336.3" stroke="#000" stroke-width="1.4"/>
<line x1="775.6" y1="1344.3" x2="777.6" y2="1344.3" stroke="#000" stroke-width="1"/>
<line x1="775.6" y1="1352.3" x2="777.6" y2="1352.3" stroke="#000" stroke-width="1"/>
<line x1="775.6" y1="1360.3" x2="777.6" y2="1360.3" stroke="#000" stroke-width="1"/>
<line x1="775.6" y1="1368.3" x2="777.6" y2="1368.3" stroke="#000" stroke-width="1"/>
<line x1="773.1" y1="1376.5" x2="777.6" y2="1376.5" stroke="#000" stroke-width="1.4"/>
<line x1="775.6" y1="1384.5" x2="777.6" y2="1384.5" stroke="#000" stroke-width="1"/>
<line x1="775.6" y1="1392.5" x2="777.6" y2="1392.5" stroke="#000" stroke-width="1"/>
<line x1="775.6" y1="1400.5" x2="777.6" y2="1400.5" stroke="#000" stroke-width="1"/>
<line x1="775.6" y1="1408.5" x2="777.6" y2="1408.5" stroke="#000" stroke-width="1"/>
<line x1="773.1" y1="1416.7" x2="777.6" y2="1416.7" stroke="#000" stroke-width="1.4"/>
<line x1="775.6" y1="1424.7" x2="777.6" y2="1424.7" stroke="#000" stroke-width="1"/>
<line x1="775.6" y1="1432.7" x2="777.6" y2="1432.7" stroke="#000" stroke-width="1"/>
<line x1="775.6" y1="1440.7" x2="777.6" y2="1440.7" stroke="#000" stroke-width="1"/>
<line x1="775.6" y1="1448.7" x2="777.6" y2="1448.7" stroke="#000" stroke-width="1"/>
<line x1="773.1" y1="1456.9" x2="777.6" y2="1456.9" stroke="#000" stroke-width="1.4"/>
<line x1="775.6" y1="1464.9" x2="777.6" y2="1464.9" stroke="#000" stroke-width="1"/>
<line x1="775.6" y1="1472.9" x2="777.6" y2="1472.9" stroke="#000" stroke-width="1"/>
<line x1="775.6" y1="1480.9" x2="777.6" y2="1480.9" stroke="#000" stroke-width="1"/>
<line x1="775.6" y1="1488.9" x2="777.6" y2="1488.9" stroke="#000" stroke-width="1"/>
<line x1="773.1" y1="1497.1" x2="777.6" y2="1497.1" stroke="#000" stroke-width="1.4"/>
<path d="M997.7,1169 L998.5,1169 L999.3,1169 L1000.1,1169 L1000.9,1169 L1001.7,1169 L1002.5,1169 L1003.3,1169 L1004.1,1169 L1004.9,1169 L1005.7,1169 L1006.5,1169 L1007.3,1169 L1008.1,1169 L1008.9,1169 L1009.7,1169 L1010.5,1169 L1011.3,1169 L1012.1,1169 L1012.9,1169 L1013.7,1169 L1014.5,1169 L1015.3,1169 L1016.1,1169 L1016.9,1169 L1017.7,1169 L1018.5,1168.6 L1019.3,1167.6 L1020.1,1166.1 L1020.9,1164.7 L1021.7,1162.7 L1022.5,1160.5 L1023.3,1158.8 L1024.1,1158 L1024.9,1156.3 L1025.7,1153.9 L1026.5,1151.9 L1027.3,1150.4 L1028.1,1149.1 L1028.9,1148.1 L1029.7,1146.9 L1030.5,1144.8 L1031.3,1142.8 L1032.1,1140.9 L1032.9,1137.5 L1033.7,1133.2 L1034.5,1129.9 L1035.3,1127.9 L1036.1,1125.1 L1036.9,1122 L1037.7,1120.1 L1038.5,1118 L1039.3,1115.4 L1040.1,1113.8 L1040.9,1114.1 L1041.7,1114 L1042.5,1111.2 L1043.3,1108.3 L1044.1,1107 L1044.9,1105.7 L1045.7,1103.4 L1046.5,1100.4 L1047.3,1097.7 L1048.1,1095.5 L1048.9,1092.7 L1049.7,1089.7 L1050.5,1087.5 L1051.3,1085.8 L1052.1,1083.5 L1052.9,1080.1 L1053.7,1075.9 L1054.5,1072.3 L1055.3,1071.2 L1056.1,1070.7 L1056.9,1069.1 L1057.7,1068.2 L1058.5,1068.2 L1059.3,1068.1 L1060.1,1068.4 L1060.9,1067.1 L1061.7,1065.3 L1062.5,1065.8 L1063.3,1066.8 L1064.1,1067.2 L1064.9,1068.6 L1065.7,1070.6 L1066.5,1071.6 L1067.3,1072 L1068.1,1072.2 L1068.9,1072.4 L1069.7,1074 L1070.5,1078 L1071.3,1081.1 L1072.1,1082.2 L1072.9,1083.6 L1073.7,1085.6 L1074.5,1087.5 L1075.3,1089.8 L1076.1,1092.4 L1076.9,1094 L1077.7,1095.7 L1078.5,1098.1 L1079.3,1100.9 L1080.1,1103.4 L1080.9,1105.4 L1081.7,1108.2 L1082.5,1111.2 L1083.3,1113.5 L1084.1,1115.7 L1084.9,1118 L1085.7,1119.6 L1086.5,1120.5 L1087.3,1122.5 L1088.1,1125.2 L1088.9,1127.6 L1089.7,1129.7 L1090.5,1131.8 L1091.3,1134.4 L1092.1,1137.2 L1092.9,1139.5 L1093.7,1141.2 L1094.5,1143.2 L1095.3,1145.6 L1096.1,1148.6 L1096.9,1151.4 L1097.7,1152.8 L1098.5,1153.9 L1099.3,1156 L1100.1,1158.1 L1100.9,1159.1 L1101.7,1160.1 L1102.5,1161.3 L1103.3,1162.3 L1104.1,1163.1 L1104.9,1163.8 L1105.7,1164 L1106.5,1164.4 L1107.3,1164.8 L1108.1,1165.1 L1108.9,1165.5 L1109.7,1165.9 L1110.5,1166.2 L1111.3,1166.5 L1112.1,1166.8 L1112.9,1167.1 L1113.7,1167.4 L1114.5,1167.7 L1115.3,1167.9 L1116.1,1168.2 L1116.9,1168.4 L1117.7,1168.6 L1118.5,1168.8 L1119.3,1168.9 L1120.1,1169 L1120.9,1169 L1121.7,1169 L1122.5,1169 L1123.3,1169 L1124.1,1169 L1124.9,1169 L1125.7,1169 L1126.5,1169 L1127.3,1169 L1128.1,1169 L1128.9,1169 L1129.7,1169 L1130.5,1169 L1131.3,1169 L1132.1,1169 L1132.9,1169 L1133.7,1169 L1134.5,1169 L1135.3,1169 L1136.1,1169 L1136.9,1169 L1137.7,1169 L1138.5,1169 L1139.3,1169 L1140.1,1169 L1140.9,1169 L1141.7,1169 L1142.5,1169 L1143.3,1169 L1144.1,1169 L1144.9,1169 L1145.7,1169 L1146.5,1169 L1147.3,1169 L1148.1,1169 L1148.9,1169 L1149.7,1169 L1150.5,1169 L1151.3,1169 L1152.1,1169 L1152.9,1169 L1153.7,1169 L1154.5,1169 L1155.3,1169 L1156.1,1169 L1156.9,1169 L1157.7,1169 L1158.5,1169 L1159.3,1169 L1160.1,1169 L1160.9,1169 L1161.7,1169 L1162.5,1169 L1163.3,1169 L1164.1,1169 L1164.9,1169 L1165.7,1169 L1166.5,1169 L1167.3,1169 L1168.1,1169 L1168.9,1169 L1169.7,1169 L1170.5,1169 L1171.3,1169 L1172.1,1169 L1172.9,1169 L1173.7,1169 L1174.5,1169 L1175.3,1169 L1176.1,1169 L1176.9,1169 L1177.7,1169 L1178.5,1169 L1179.3,1169 L1180.1,1169 L1180.9,1169 L1181.7,1169 L1182.5,1169 L1183.3,1169 L1184.1,1169 L1184.9,1169 L1185.7,1169 L1186.5,1169 L1187.3,1169 L1188.1,1169 L1188.9,1169 L1189.7,1169 L1190.5,1169 L1191.3,1169 L1192.1,1169 L1192.9,1169 L1193.7,1169 L1194.5,1169 L1195.3,1169 L1196.1,1169 L1196.9,1169 L1197.7,1169 L1198.5,1169 L1199.3,1169 L1200.1,1169 L1200.9,1169 L1201.7,1169 L1202.5,1169 L1203.3,1169 L1204.1,1169 L1204.9,1169 L1205.7,1169" fill="none" stroke="#1a1a1a" stroke-width="2.1" stroke-dasharray="4.5,3.5"/>
<path d="M997.7,1201.8 L998.5,1201.8 L999.3,1201.8 L1000.1,1201.8 L1000.9,1201.8 L1001.7,1201.8 L1002.5,1201.8 L1003.3,1201.8 L1004.1,1201.8 L1004.9,1201.8 L1005.7,1201.8 L1006.5,1201.8 L1007.3,1201.8 L1008.1,1201.8 L1008.9,1201.8 L1009.7,1201.8 L1010.5,1201.8 L1011.3,1201.8 L1012.1,1201.8 L1012.9,1201.8 L1013.7,1201.8 L1014.5,1201.8 L1015.3,1201.7 L1016.1,1201.1 L1016.9,1200.2 L1017.7,1199 L1018.5,1197.5 L1019.3,1196 L1020.1,1194.6 L1020.9,1193.1 L1021.7,1191.3 L1022.5,1189.2 L1023.3,1187.2 L1024.1,1186.4 L1024.9,1185.3 L1025.7,1183.2 L1026.5,1181.4 L1027.3,1179.6 L1028.1,1176.9 L1028.9,1174.5 L1029.7,1172.9 L1030.5,1170.2 L1031.3,1168 L1032.1,1167.4 L1032.9,1165 L1033.7,1163.4 L1034.5,1164.6 L1035.3,1162.7 L1036.1,1158.2 L1036.9,1155.2 L1037.7,1152.6 L1038.5,1149.6 L1039.3,1146.7 L1040.1,1145.1 L1040.9,1144.1 L1041.7,1140.3 L1042.5,1136.8 L1043.3,1136.5 L1044.1,1136 L1044.9,1134 L1045.7,1130.7 L1046.5,1127.4 L1047.3,1124.9 L1048.1,1123 L1048.9,1120.6 L1049.7,1117.8 L1050.5,1114.2 L1051.3,1108.7 L1052.1,1105.1 L1052.9,1106 L1053.7,1105.5 L1054.5,1102.6 L1055.3,1104.4 L1056.1,1107.4 L1056.9,1106.1 L1057.7,1103.9 L1058.5,1102.4 L1059.3,1104 L1060.1,1107.4 L1060.9,1104.1 L1061.7,1098.3 L1062.5,1099.5 L1063.3,1104 L1064.1,1105.9 L1064.9,1108 L1065.7,1114.3 L1066.5,1117.6 L1067.3,1115 L1068.1,1115.3 L1068.9,1117.5 L1069.7,1118 L1070.5,1118.7 L1071.3,1117.8 L1072.1,1117.6 L1072.9,1120.9 L1073.7,1124.4 L1074.5,1126.5 L1075.3,1128.7 L1076.1,1134.4 L1076.9,1138.3 L1077.7,1135.9 L1078.5,1136.1 L1079.3,1142.3 L1080.1,1146.9 L1080.9,1147.1 L1081.7,1149.8 L1082.5,1154.8 L1083.3,1156.8 L1084.1,1158.2 L1084.9,1162.2 L1085.7,1166 L1086.5,1168.3 L1087.3,1170.4 L1088.1,1172.7 L1088.9,1174.6 L1089.7,1175.6 L1090.5,1176.9 L1091.3,1180 L1092.1,1182.1 L1092.9,1182.6 L1093.7,1184.8 L1094.5,1187.5 L1095.3,1188.1 L1096.1,1188.2 L1096.9,1189.3 L1097.7,1190.2 L1098.5,1190.3 L1099.3,1191.3 L1100.1,1193.5 L1100.9,1194.8 L1101.7,1194.7 L1102.5,1194.4 L1103.3,1195.1 L1104.1,1196.6 L1104.9,1197.7 L1105.7,1198.4 L1106.5,1198.1 L1107.3,1197.9 L1108.1,1198.3 L1108.9,1198.6 L1109.7,1199 L1110.5,1199.2 L1111.3,1199.5 L1112.1,1199.7 L1112.9,1199.9 L1113.7,1200.1 L1114.5,1200.3 L1115.3,1200.5 L1116.1,1200.6 L1116.9,1200.8 L1117.7,1200.9 L1118.5,1201.1 L1119.3,1201.2 L1120.1,1201.4 L1120.9,1201.5 L1121.7,1201.6 L1122.5,1201.6 L1123.3,1201.7 L1124.1,1201.8 L1124.9,1201.8 L1125.7,1201.8 L1126.5,1201.8 L1127.3,1201.8 L1128.1,1201.8 L1128.9,1201.8 L1129.7,1201.8 L1130.5,1201.8 L1131.3,1201.8 L1132.1,1201.8 L1132.9,1201.8 L1133.7,1201.8 L1134.5,1201.8 L1135.3,1201.8 L1136.1,1201.8 L1136.9,1201.8 L1137.7,1201.8 L1138.5,1201.8 L1139.3,1201.8 L1140.1,1201.8 L1140.9,1201.8 L1141.7,1201.8 L1142.5,1201.8 L1143.3,1201.8 L1144.1,1201.8 L1144.9,1201.8 L1145.7,1201.8 L1146.5,1201.8 L1147.3,1201.8 L1148.1,1201.8 L1148.9,1201.8 L1149.7,1201.8 L1150.5,1201.8 L1151.3,1201.8 L1152.1,1201.8 L1152.9,1201.8 L1153.7,1201.8 L1154.5,1201.8 L1155.3,1201.8 L1156.1,1201.8 L1156.9,1201.8 L1157.7,1201.8 L1158.5,1201.8 L1159.3,1201.8 L1160.1,1201.8 L1160.9,1201.8 L1161.7,1201.8 L1162.5,1201.8 L1163.3,1201.8 L1164.1,1201.8 L1164.9,1201.8 L1165.7,1201.8 L1166.5,1201.8 L1167.3,1201.8 L1168.1,1201.8 L1168.9,1201.8 L1169.7,1201.8 L1170.5,1201.8 L1171.3,1201.8 L1172.1,1201.8 L1172.9,1201.8 L1173.7,1201.8 L1174.5,1201.8 L1175.3,1201.8 L1176.1,1201.8 L1176.9,1201.8 L1177.7,1201.8 L1178.5,1201.8 L1179.3,1201.8 L1180.1,1201.8 L1180.9,1201.8 L1181.7,1201.8 L1182.5,1201.8 L1183.3,1201.8 L1184.1,1201.8 L1184.9,1201.8 L1185.7,1201.8 L1186.5,1201.8 L1187.3,1201.8 L1188.1,1201.8 L1188.9,1201.8 L1189.7,1201.8 L1190.5,1201.8 L1191.3,1201.8 L1192.1,1201.8 L1192.9,1201.8 L1193.7,1201.8 L1194.5,1201.8 L1195.3,1201.8 L1196.1,1201.8 L1196.9,1201.8 L1197.7,1201.8 L1198.5,1201.8 L1199.3,1201.8 L1200.1,1201.8 L1200.9,1201.8 L1201.7,1201.8 L1202.5,1201.8 L1203.3,1201.8 L1204.1,1201.8 L1204.9,1201.8 L1205.7,1201.8 L1205.7,1202.3 L997.7,1202.3 Z" fill="#b4dca6" stroke="none"/>
<path d="M997.7,1201.8 L998.5,1201.8 L999.3,1201.8 L1000.1,1201.8 L1000.9,1201.8 L1001.7,1201.8 L1002.5,1201.8 L1003.3,1201.8 L1004.1,1201.8 L1004.9,1201.8 L1005.7,1201.8 L1006.5,1201.8 L1007.3,1201.8 L1008.1,1201.8 L1008.9,1201.8 L1009.7,1201.8 L1010.5,1201.8 L1011.3,1201.8 L1012.1,1201.8 L1012.9,1201.8 L1013.7,1201.8 L1014.5,1201.8 L1015.3,1201.7 L1016.1,1201.1 L1016.9,1200.2 L1017.7,1199 L1018.5,1197.5 L1019.3,1196 L1020.1,1194.6 L1020.9,1193.1 L1021.7,1191.3 L1022.5,1189.2 L1023.3,1187.2 L1024.1,1186.4 L1024.9,1185.3 L1025.7,1183.2 L1026.5,1181.4 L1027.3,1179.6 L1028.1,1176.9 L1028.9,1174.5 L1029.7,1172.9 L1030.5,1170.2 L1031.3,1168 L1032.1,1167.4 L1032.9,1165 L1033.7,1163.4 L1034.5,1164.6 L1035.3,1162.7 L1036.1,1158.2 L1036.9,1155.2 L1037.7,1152.6 L1038.5,1149.6 L1039.3,1146.7 L1040.1,1145.1 L1040.9,1144.1 L1041.7,1140.3 L1042.5,1136.8 L1043.3,1136.5 L1044.1,1136 L1044.9,1134 L1045.7,1130.7 L1046.5,1127.4 L1047.3,1124.9 L1048.1,1123 L1048.9,1120.6 L1049.7,1117.8 L1050.5,1114.2 L1051.3,1108.7 L1052.1,1105.1 L1052.9,1106 L1053.7,1105.5 L1054.5,1102.6 L1055.3,1104.4 L1056.1,1107.4 L1056.9,1106.1 L1057.7,1103.9 L1058.5,1102.4 L1059.3,1104 L1060.1,1107.4 L1060.9,1104.1 L1061.7,1098.3 L1062.5,1099.5 L1063.3,1104 L1064.1,1105.9 L1064.9,1108 L1065.7,1114.3 L1066.5,1117.6 L1067.3,1115 L1068.1,1115.3 L1068.9,1117.5 L1069.7,1118 L1070.5,1118.7 L1071.3,1117.8 L1072.1,1117.6 L1072.9,1120.9 L1073.7,1124.4 L1074.5,1126.5 L1075.3,1128.7 L1076.1,1134.4 L1076.9,1138.3 L1077.7,1135.9 L1078.5,1136.1 L1079.3,1142.3 L1080.1,1146.9 L1080.9,1147.1 L1081.7,1149.8 L1082.5,1154.8 L1083.3,1156.8 L1084.1,1158.2 L1084.9,1162.2 L1085.7,1166 L1086.5,1168.3 L1087.3,1170.4 L1088.1,1172.7 L1088.9,1174.6 L1089.7,1175.6 L1090.5,1176.9 L1091.3,1180 L1092.1,1182.1 L1092.9,1182.6 L1093.7,1184.8 L1094.5,1187.5 L1095.3,1188.1 L1096.1,1188.2 L1096.9,1189.3 L1097.7,1190.2 L1098.5,1190.3 L1099.3,1191.3 L1100.1,1193.5 L1100.9,1194.8 L1101.7,1194.7 L1102.5,1194.4 L1103.3,1195.1 L1104.1,1196.6 L1104.9,1197.7 L1105.7,1198.4 L1106.5,1198.1 L1107.3,1197.9 L1108.1,1198.3 L1108.9,1198.6 L1109.7,1199 L1110.5,1199.2 L1111.3,1199.5 L1112.1,1199.7 L1112.9,1199.9 L1113.7,1200.1 L1114.5,1200.3 L1115.3,1200.5 L1116.1,1200.6 L1116.9,1200.8 L1117.7,1200.9 L1118.5,1201.1 L1119.3,1201.2 L1120.1,1201.4 L1120.9,1201.5 L1121.7,1201.6 L1122.5,1201.6 L1123.3,1201.7 L1124.1,1201.8 L1124.9,1201.8 L1125.7,1201.8 L1126.5,1201.8 L1127.3,1201.8 L1128.1,1201.8 L1128.9,1201.8 L1129.7,1201.8 L1130.5,1201.8 L1131.3,1201.8 L1132.1,1201.8 L1132.9,1201.8 L1133.7,1201.8 L1134.5,1201.8 L1135.3,1201.8 L1136.1,1201.8 L1136.9,1201.8 L1137.7,1201.8 L1138.5,1201.8 L1139.3,1201.8 L1140.1,1201.8 L1140.9,1201.8 L1141.7,1201.8 L1142.5,1201.8 L1143.3,1201.8 L1144.1,1201.8 L1144.9,1201.8 L1145.7,1201.8 L1146.5,1201.8 L1147.3,1201.8 L1148.1,1201.8 L1148.9,1201.8 L1149.7,1201.8 L1150.5,1201.8 L1151.3,1201.8 L1152.1,1201.8 L1152.9,1201.8 L1153.7,1201.8 L1154.5,1201.8 L1155.3,1201.8 L1156.1,1201.8 L1156.9,1201.8 L1157.7,1201.8 L1158.5,1201.8 L1159.3,1201.8 L1160.1,1201.8 L1160.9,1201.8 L1161.7,1201.8 L1162.5,1201.8 L1163.3,1201.8 L1164.1,1201.8 L1164.9,1201.8 L1165.7,1201.8 L1166.5,1201.8 L1167.3,1201.8 L1168.1,1201.8 L1168.9,1201.8 L1169.7,1201.8 L1170.5,1201.8 L1171.3,1201.8 L1172.1,1201.8 L1172.9,1201.8 L1173.7,1201.8 L1174.5,1201.8 L1175.3,1201.8 L1176.1,1201.8 L1176.9,1201.8 L1177.7,1201.8 L1178.5,1201.8 L1179.3,1201.8 L1180.1,1201.8 L1180.9,1201.8 L1181.7,1201.8 L1182.5,1201.8 L1183.3,1201.8 L1184.1,1201.8 L1184.9,1201.8 L1185.7,1201.8 L1186.5,1201.8 L1187.3,1201.8 L1188.1,1201.8 L1188.9,1201.8 L1189.7,1201.8 L1190.5,1201.8 L1191.3,1201.8 L1192.1,1201.8 L1192.9,1201.8 L1193.7,1201.8 L1194.5,1201.8 L1195.3,1201.8 L1196.1,1201.8 L1196.9,1201.8 L1197.7,1201.8 L1198.5,1201.8 L1199.3,1201.8 L1200.1,1201.8 L1200.9,1201.8 L1201.7,1201.8 L1202.5,1201.8 L1203.3,1201.8 L1204.1,1201.8 L1204.9,1201.8 L1205.7,1201.8" fill="none" stroke="#6cbd50" stroke-width="1.3"/>
<path d="M997.7,1234.5 L998.5,1234.5 L999.3,1234.5 L1000.1,1234.5 L1000.9,1234.5 L1001.7,1234.5 L1002.5,1234.5 L1003.3,1234.5 L1004.1,1234.5 L1004.9,1234.5 L1005.7,1234.5 L1006.5,1234.5 L1007.3,1234.5 L1008.1,1234.5 L1008.9,1234.5 L1009.7,1234.5 L1010.5,1234.5 L1011.3,1234.5 L1012.1,1234.5 L1012.9,1234.5 L1013.7,1234.5 L1014.5,1234.5 L1015.3,1234.4 L1016.1,1234 L1016.9,1233.4 L1017.7,1232.6 L1018.5,1231.6 L1019.3,1230.5 L1020.1,1228.5 L1020.9,1227.1 L1021.7,1225.8 L1022.5,1223.8 L1023.3,1222.6 L1024.1,1221 L1024.9,1218.5 L1025.7,1216.7 L1026.5,1215.2 L1027.3,1213.7 L1028.1,1211.2 L1028.9,1208.9 L1029.7,1206.8 L1030.5,1202.8 L1031.3,1199.5 L1032.1,1197.4 L1032.9,1194.1 L1033.7,1191.5 L1034.5,1189.5 L1035.3,1185.6 L1036.1,1182.6 L1036.9,1180.7 L1037.7,1178.2 L1038.5,1178.8 L1039.3,1177.8 L1040.1,1171.4 L1040.9,1164.9 L1041.7,1161.7 L1042.5,1160.6 L1043.3,1159.6 L1044.1,1159.6 L1044.9,1158.3 L1045.7,1153.4 L1046.5,1148.7 L1047.3,1144.6 L1048.1,1139.8 L1048.9,1139.1 L1049.7,1142.3 L1050.5,1140 L1051.3,1133.9 L1052.1,1134.5 L1052.9,1139.4 L1053.7,1137.7 L1054.5,1134 L1055.3,1134.6 L1056.1,1136.2 L1056.9,1138.7 L1057.7,1138.9 L1058.5,1137.1 L1059.3,1133.8 L1060.1,1131.1 L1060.9,1131.4 L1061.7,1131.6 L1062.5,1131 L1063.3,1132.4 L1064.1,1138.6 L1064.9,1146 L1065.7,1146.4 L1066.5,1142.5 L1067.3,1141.3 L1068.1,1143.5 L1068.9,1147.5 L1069.7,1152.2 L1070.5,1155.9 L1071.3,1156.4 L1072.1,1155.9 L1072.9,1158.8 L1073.7,1160.1 L1074.5,1158.6 L1075.3,1160.5 L1076.1,1164 L1076.9,1166.8 L1077.7,1170.9 L1078.5,1173.9 L1079.3,1175.5 L1080.1,1179.9 L1080.9,1183.5 L1081.7,1184.8 L1082.5,1188.1 L1083.3,1193.3 L1084.1,1196.8 L1084.9,1197.6 L1085.7,1200.7 L1086.5,1203.9 L1087.3,1204.9 L1088.1,1206.5 L1088.9,1207.1 L1089.7,1206.2 L1090.5,1206.8 L1091.3,1209.6 L1092.1,1212 L1092.9,1213.5 L1093.7,1215.8 L1094.5,1217.4 L1095.3,1218.4 L1096.1,1220.8 L1096.9,1221.5 L1097.7,1221 L1098.5,1223 L1099.3,1225 L1100.1,1224.7 L1100.9,1224.6 L1101.7,1226.5 L1102.5,1228.3 L1103.3,1228.5 L1104.1,1228.9 L1104.9,1229.7 L1105.7,1230.4 L1106.5,1231 L1107.3,1230.6 L1108.1,1230.7 L1108.9,1230.9 L1109.7,1231.2 L1110.5,1231.4 L1111.3,1231.6 L1112.1,1231.8 L1112.9,1232 L1113.7,1232.1 L1114.5,1232.3 L1115.3,1232.4 L1116.1,1232.6 L1116.9,1232.7 L1117.7,1232.9 L1118.5,1233 L1119.3,1233.2 L1120.1,1233.3 L1120.9,1233.5 L1121.7,1233.6 L1122.5,1233.7 L1123.3,1233.9 L1124.1,1234 L1124.9,1234.1 L1125.7,1234.2 L1126.5,1234.3 L1127.3,1234.4 L1128.1,1234.4 L1128.9,1234.5 L1129.7,1234.5 L1130.5,1234.5 L1131.3,1234.5 L1132.1,1234.5 L1132.9,1234.5 L1133.7,1234.5 L1134.5,1234.5 L1135.3,1234.5 L1136.1,1234.5 L1136.9,1234.5 L1137.7,1234.5 L1138.5,1234.5 L1139.3,1234.5 L1140.1,1234.5 L1140.9,1234.5 L1141.7,1234.5 L1142.5,1234.5 L1143.3,1234.5 L1144.1,1234.5 L1144.9,1234.5 L1145.7,1234.5 L1146.5,1234.5 L1147.3,1234.5 L1148.1,1234.5 L1148.9,1234.5 L1149.7,1234.5 L1150.5,1234.5 L1151.3,1234.5 L1152.1,1234.5 L1152.9,1234.5 L1153.7,1234.5 L1154.5,1234.5 L1155.3,1234.5 L1156.1,1234.5 L1156.9,1234.5 L1157.7,1234.5 L1158.5,1234.5 L1159.3,1234.5 L1160.1,1234.5 L1160.9,1234.5 L1161.7,1234.5 L1162.5,1234.5 L1163.3,1234.5 L1164.1,1234.5 L1164.9,1234.5 L1165.7,1234.5 L1166.5,1234.5 L1167.3,1234.5 L1168.1,1234.5 L1168.9,1234.5 L1169.7,1234.5 L1170.5,1234.5 L1171.3,1234.5 L1172.1,1234.5 L1172.9,1234.5 L1173.7,1234.5 L1174.5,1234.5 L1175.3,1234.5 L1176.1,1234.5 L1176.9,1234.5 L1177.7,1234.5 L1178.5,1234.5 L1179.3,1234.5 L1180.1,1234.5 L1180.9,1234.5 L1181.7,1234.5 L1182.5,1234.5 L1183.3,1234.5 L1184.1,1234.5 L1184.9,1234.5 L1185.7,1234.5 L1186.5,1234.5 L1187.3,1234.5 L1188.1,1234.5 L1188.9,1234.5 L1189.7,1234.5 L1190.5,1234.5 L1191.3,1234.5 L1192.1,1234.5 L1192.9,1234.5 L1193.7,1234.5 L1194.5,1234.5 L1195.3,1234.5 L1196.1,1234.5 L1196.9,1234.5 L1197.7,1234.5 L1198.5,1234.5 L1199.3,1234.5 L1200.1,1234.5 L1200.9,1234.5 L1201.7,1234.5 L1202.5,1234.5 L1203.3,1234.5 L1204.1,1234.5 L1204.9,1234.5 L1205.7,1234.5 L1205.7,1235 L997.7,1235 Z" fill="#f4b0b0" stroke="none"/>
<path d="M997.7,1234.5 L998.5,1234.5 L999.3,1234.5 L1000.1,1234.5 L1000.9,1234.5 L1001.7,1234.5 L1002.5,1234.5 L1003.3,1234.5 L1004.1,1234.5 L1004.9,1234.5 L1005.7,1234.5 L1006.5,1234.5 L1007.3,1234.5 L1008.1,1234.5 L1008.9,1234.5 L1009.7,1234.5 L1010.5,1234.5 L1011.3,1234.5 L1012.1,1234.5 L1012.9,1234.5 L1013.7,1234.5 L1014.5,1234.5 L1015.3,1234.4 L1016.1,1234 L1016.9,1233.4 L1017.7,1232.6 L1018.5,1231.6 L1019.3,1230.5 L1020.1,1228.5 L1020.9,1227.1 L1021.7,1225.8 L1022.5,1223.8 L1023.3,1222.6 L1024.1,1221 L1024.9,1218.5 L1025.7,1216.7 L1026.5,1215.2 L1027.3,1213.7 L1028.1,1211.2 L1028.9,1208.9 L1029.7,1206.8 L1030.5,1202.8 L1031.3,1199.5 L1032.1,1197.4 L1032.9,1194.1 L1033.7,1191.5 L1034.5,1189.5 L1035.3,1185.6 L1036.1,1182.6 L1036.9,1180.7 L1037.7,1178.2 L1038.5,1178.8 L1039.3,1177.8 L1040.1,1171.4 L1040.9,1164.9 L1041.7,1161.7 L1042.5,1160.6 L1043.3,1159.6 L1044.1,1159.6 L1044.9,1158.3 L1045.7,1153.4 L1046.5,1148.7 L1047.3,1144.6 L1048.1,1139.8 L1048.9,1139.1 L1049.7,1142.3 L1050.5,1140 L1051.3,1133.9 L1052.1,1134.5 L1052.9,1139.4 L1053.7,1137.7 L1054.5,1134 L1055.3,1134.6 L1056.1,1136.2 L1056.9,1138.7 L1057.7,1138.9 L1058.5,1137.1 L1059.3,1133.8 L1060.1,1131.1 L1060.9,1131.4 L1061.7,1131.6 L1062.5,1131 L1063.3,1132.4 L1064.1,1138.6 L1064.9,1146 L1065.7,1146.4 L1066.5,1142.5 L1067.3,1141.3 L1068.1,1143.5 L1068.9,1147.5 L1069.7,1152.2 L1070.5,1155.9 L1071.3,1156.4 L1072.1,1155.9 L1072.9,1158.8 L1073.7,1160.1 L1074.5,1158.6 L1075.3,1160.5 L1076.1,1164 L1076.9,1166.8 L1077.7,1170.9 L1078.5,1173.9 L1079.3,1175.5 L1080.1,1179.9 L1080.9,1183.5 L1081.7,1184.8 L1082.5,1188.1 L1083.3,1193.3 L1084.1,1196.8 L1084.9,1197.6 L1085.7,1200.7 L1086.5,1203.9 L1087.3,1204.9 L1088.1,1206.5 L1088.9,1207.1 L1089.7,1206.2 L1090.5,1206.8 L1091.3,1209.6 L1092.1,1212 L1092.9,1213.5 L1093.7,1215.8 L1094.5,1217.4 L1095.3,1218.4 L1096.1,1220.8 L1096.9,1221.5 L1097.7,1221 L1098.5,1223 L1099.3,1225 L1100.1,1224.7 L1100.9,1224.6 L1101.7,1226.5 L1102.5,1228.3 L1103.3,1228.5 L1104.1,1228.9 L1104.9,1229.7 L1105.7,1230.4 L1106.5,1231 L1107.3,1230.6 L1108.1,1230.7 L1108.9,1230.9 L1109.7,1231.2 L1110.5,1231.4 L1111.3,1231.6 L1112.1,1231.8 L1112.9,1232 L1113.7,1232.1 L1114.5,1232.3 L1115.3,1232.4 L1116.1,1232.6 L1116.9,1232.7 L1117.7,1232.9 L1118.5,1233 L1119.3,1233.2 L1120.1,1233.3 L1120.9,1233.5 L1121.7,1233.6 L1122.5,1233.7 L1123.3,1233.9 L1124.1,1234 L1124.9,1234.1 L1125.7,1234.2 L1126.5,1234.3 L1127.3,1234.4 L1128.1,1234.4 L1128.9,1234.5 L1129.7,1234.5 L1130.5,1234.5 L1131.3,1234.5 L1132.1,1234.5 L1132.9,1234.5 L1133.7,1234.5 L1134.5,1234.5 L1135.3,1234.5 L1136.1,1234.5 L1136.9,1234.5 L1137.7,1234.5 L1138.5,1234.5 L1139.3,1234.5 L1140.1,1234.5 L1140.9,1234.5 L1141.7,1234.5 L1142.5,1234.5 L1143.3,1234.5 L1144.1,1234.5 L1144.9,1234.5 L1145.7,1234.5 L1146.5,1234.5 L1147.3,1234.5 L1148.1,1234.5 L1148.9,1234.5 L1149.7,1234.5 L1150.5,1234.5 L1151.3,1234.5 L1152.1,1234.5 L1152.9,1234.5 L1153.7,1234.5 L1154.5,1234.5 L1155.3,1234.5 L1156.1,1234.5 L1156.9,1234.5 L1157.7,1234.5 L1158.5,1234.5 L1159.3,1234.5 L1160.1,1234.5 L1160.9,1234.5 L1161.7,1234.5 L1162.5,1234.5 L1163.3,1234.5 L1164.1,1234.5 L1164.9,1234.5 L1165.7,1234.5 L1166.5,1234.5 L1167.3,1234.5 L1168.1,1234.5 L1168.9,1234.5 L1169.7,1234.5 L1170.5,1234.5 L1171.3,1234.5 L1172.1,1234.5 L1172.9,1234.5 L1173.7,1234.5 L1174.5,1234.5 L1175.3,1234.5 L1176.1,1234.5 L1176.9,1234.5 L1177.7,1234.5 L1178.5,1234.5 L1179.3,1234.5 L1180.1,1234.5 L1180.9,1234.5 L1181.7,1234.5 L1182.5,1234.5 L1183.3,1234.5 L1184.1,1234.5 L1184.9,1234.5 L1185.7,1234.5 L1186.5,1234.5 L1187.3,1234.5 L1188.1,1234.5 L1188.9,1234.5 L1189.7,1234.5 L1190.5,1234.5 L1191.3,1234.5 L1192.1,1234.5 L1192.9,1234.5 L1193.7,1234.5 L1194.5,1234.5 L1195.3,1234.5 L1196.1,1234.5 L1196.9,1234.5 L1197.7,1234.5 L1198.5,1234.5 L1199.3,1234.5 L1200.1,1234.5 L1200.9,1234.5 L1201.7,1234.5 L1202.5,1234.5 L1203.3,1234.5 L1204.1,1234.5 L1204.9,1234.5 L1205.7,1234.5" fill="none" stroke="#e2452e" stroke-width="1.3"/>
<path d="M997.7,1267 L998.5,1267 L999.3,1267 L1000.1,1267 L1000.9,1267 L1001.7,1267 L1002.5,1267 L1003.3,1267 L1004.1,1267 L1004.9,1267 L1005.7,1267 L1006.5,1267 L1007.3,1267 L1008.1,1267 L1008.9,1267 L1009.7,1267 L1010.5,1267 L1011.3,1267 L1012.1,1267 L1012.9,1267 L1013.7,1267 L1014.5,1267 L1015.3,1266.9 L1016.1,1266.6 L1016.9,1266.1 L1017.7,1265.4 L1018.5,1264.6 L1019.3,1263.7 L1020.1,1262.8 L1020.9,1262.3 L1021.7,1262.1 L1022.5,1260.2 L1023.3,1257.6 L1024.1,1256.9 L1024.9,1256.5 L1025.7,1255.1 L1026.5,1253.2 L1027.3,1251.1 L1028.1,1249.4 L1028.9,1246.2 L1029.7,1242.5 L1030.5,1240.5 L1031.3,1239.5 L1032.1,1237.9 L1032.9,1234.9 L1033.7,1231.7 L1034.5,1229.2 L1035.3,1227.3 L1036.1,1225.6 L1036.9,1224.5 L1037.7,1221.8 L1038.5,1217.3 L1039.3,1214.3 L1040.1,1211.4 L1040.9,1209.3 L1041.7,1210.2 L1042.5,1209.8 L1043.3,1206.2 L1044.1,1203.7 L1044.9,1204 L1045.7,1201.4 L1046.5,1198.2 L1047.3,1197.2 L1048.1,1192.5 L1048.9,1188 L1049.7,1189.1 L1050.5,1190.9 L1051.3,1190.6 L1052.1,1189.1 L1052.9,1185.5 L1053.7,1181.2 L1054.5,1182.2 L1055.3,1186.3 L1056.1,1184.5 L1056.9,1180.4 L1057.7,1181.9 L1058.5,1183.4 L1059.3,1178.7 L1060.1,1174.8 L1060.9,1174.7 L1061.7,1173.4 L1062.5,1173 L1063.3,1175 L1064.1,1173.6 L1064.9,1166.9 L1065.7,1163.5 L1066.5,1167.4 L1067.3,1167.4 L1068.1,1164.9 L1068.9,1166.6 L1069.7,1168 L1070.5,1171.6 L1071.3,1176.6 L1072.1,1177.5 L1072.9,1176.4 L1073.7,1175.9 L1074.5,1178.3 L1075.3,1182 L1076.1,1186.2 L1076.9,1189.5 L1077.7,1191.6 L1078.5,1195.6 L1079.3,1197.9 L1080.1,1198.2 L1080.9,1199.6 L1081.7,1203.8 L1082.5,1207.6 L1083.3,1207.7 L1084.1,1209.7 L1084.9,1214.2 L1085.7,1216.9 L1086.5,1220.5 L1087.3,1224.1 L1088.1,1226.9 L1088.9,1228.7 L1089.7,1228.6 L1090.5,1230.3 L1091.3,1234.5 L1092.1,1237.9 L1092.9,1239.5 L1093.7,1240.7 L1094.5,1242.7 L1095.3,1245.3 L1096.1,1247.2 L1096.9,1249.8 L1097.7,1251.5 L1098.5,1251 L1099.3,1251 L1100.1,1252.5 L1100.9,1254.9 L1101.7,1256.3 L1102.5,1257.1 L1103.3,1259.1 L1104.1,1260.1 L1104.9,1259.8 L1105.7,1260.2 L1106.5,1260.7 L1107.3,1261.6 L1108.1,1262.9 L1108.9,1262.7 L1109.7,1263.6 L1110.5,1264.1 L1111.3,1264.6 L1112.1,1265 L1112.9,1265.3 L1113.7,1265.6 L1114.5,1265.8 L1115.3,1266 L1116.1,1266.1 L1116.9,1266.3 L1117.7,1266.4 L1118.5,1266.5 L1119.3,1266.6 L1120.1,1266.7 L1120.9,1266.8 L1121.7,1266.8 L1122.5,1266.9 L1123.3,1266.9 L1124.1,1267 L1124.9,1267 L1125.7,1267 L1126.5,1267 L1127.3,1267 L1128.1,1267 L1128.9,1267 L1129.7,1267 L1130.5,1267 L1131.3,1267 L1132.1,1267 L1132.9,1267 L1133.7,1267 L1134.5,1267 L1135.3,1267 L1136.1,1267 L1136.9,1267 L1137.7,1267 L1138.5,1267 L1139.3,1267 L1140.1,1267 L1140.9,1267 L1141.7,1267 L1142.5,1267 L1143.3,1267 L1144.1,1267 L1144.9,1267 L1145.7,1267 L1146.5,1267 L1147.3,1267 L1148.1,1267 L1148.9,1267 L1149.7,1267 L1150.5,1267 L1151.3,1267 L1152.1,1267 L1152.9,1267 L1153.7,1267 L1154.5,1267 L1155.3,1267 L1156.1,1267 L1156.9,1267 L1157.7,1267 L1158.5,1267 L1159.3,1267 L1160.1,1267 L1160.9,1267 L1161.7,1267 L1162.5,1267 L1163.3,1267 L1164.1,1267 L1164.9,1267 L1165.7,1267 L1166.5,1267 L1167.3,1267 L1168.1,1267 L1168.9,1267 L1169.7,1267 L1170.5,1267 L1171.3,1267 L1172.1,1267 L1172.9,1267 L1173.7,1267 L1174.5,1267 L1175.3,1267 L1176.1,1267 L1176.9,1267 L1177.7,1267 L1178.5,1267 L1179.3,1267 L1180.1,1267 L1180.9,1267 L1181.7,1267 L1182.5,1267 L1183.3,1267 L1184.1,1267 L1184.9,1267 L1185.7,1267 L1186.5,1267 L1187.3,1267 L1188.1,1267 L1188.9,1267 L1189.7,1267 L1190.5,1267 L1191.3,1267 L1192.1,1267 L1192.9,1267 L1193.7,1267 L1194.5,1267 L1195.3,1267 L1196.1,1267 L1196.9,1267 L1197.7,1267 L1198.5,1267 L1199.3,1267 L1200.1,1267 L1200.9,1267 L1201.7,1267 L1202.5,1267 L1203.3,1267 L1204.1,1267 L1204.9,1267 L1205.7,1267 L1205.7,1267.5 L997.7,1267.5 Z" fill="#b1b1da" stroke="none"/>
<path d="M997.7,1267 L998.5,1267 L999.3,1267 L1000.1,1267 L1000.9,1267 L1001.7,1267 L1002.5,1267 L1003.3,1267 L1004.1,1267 L1004.9,1267 L1005.7,1267 L1006.5,1267 L1007.3,1267 L1008.1,1267 L1008.9,1267 L1009.7,1267 L1010.5,1267 L1011.3,1267 L1012.1,1267 L1012.9,1267 L1013.7,1267 L1014.5,1267 L1015.3,1266.9 L1016.1,1266.6 L1016.9,1266.1 L1017.7,1265.4 L1018.5,1264.6 L1019.3,1263.7 L1020.1,1262.8 L1020.9,1262.3 L1021.7,1262.1 L1022.5,1260.2 L1023.3,1257.6 L1024.1,1256.9 L1024.9,1256.5 L1025.7,1255.1 L1026.5,1253.2 L1027.3,1251.1 L1028.1,1249.4 L1028.9,1246.2 L1029.7,1242.5 L1030.5,1240.5 L1031.3,1239.5 L1032.1,1237.9 L1032.9,1234.9 L1033.7,1231.7 L1034.5,1229.2 L1035.3,1227.3 L1036.1,1225.6 L1036.9,1224.5 L1037.7,1221.8 L1038.5,1217.3 L1039.3,1214.3 L1040.1,1211.4 L1040.9,1209.3 L1041.7,1210.2 L1042.5,1209.8 L1043.3,1206.2 L1044.1,1203.7 L1044.9,1204 L1045.7,1201.4 L1046.5,1198.2 L1047.3,1197.2 L1048.1,1192.5 L1048.9,1188 L1049.7,1189.1 L1050.5,1190.9 L1051.3,1190.6 L1052.1,1189.1 L1052.9,1185.5 L1053.7,1181.2 L1054.5,1182.2 L1055.3,1186.3 L1056.1,1184.5 L1056.9,1180.4 L1057.7,1181.9 L1058.5,1183.4 L1059.3,1178.7 L1060.1,1174.8 L1060.9,1174.7 L1061.7,1173.4 L1062.5,1173 L1063.3,1175 L1064.1,1173.6 L1064.9,1166.9 L1065.7,1163.5 L1066.5,1167.4 L1067.3,1167.4 L1068.1,1164.9 L1068.9,1166.6 L1069.7,1168 L1070.5,1171.6 L1071.3,1176.6 L1072.1,1177.5 L1072.9,1176.4 L1073.7,1175.9 L1074.5,1178.3 L1075.3,1182 L1076.1,1186.2 L1076.9,1189.5 L1077.7,1191.6 L1078.5,1195.6 L1079.3,1197.9 L1080.1,1198.2 L1080.9,1199.6 L1081.7,1203.8 L1082.5,1207.6 L1083.3,1207.7 L1084.1,1209.7 L1084.9,1214.2 L1085.7,1216.9 L1086.5,1220.5 L1087.3,1224.1 L1088.1,1226.9 L1088.9,1228.7 L1089.7,1228.6 L1090.5,1230.3 L1091.3,1234.5 L1092.1,1237.9 L1092.9,1239.5 L1093.7,1240.7 L1094.5,1242.7 L1095.3,1245.3 L1096.1,1247.2 L1096.9,1249.8 L1097.7,1251.5 L1098.5,1251 L1099.3,1251 L1100.1,1252.5 L1100.9,1254.9 L1101.7,1256.3 L1102.5,1257.1 L1103.3,1259.1 L1104.1,1260.1 L1104.9,1259.8 L1105.7,1260.2 L1106.5,1260.7 L1107.3,1261.6 L1108.1,1262.9 L1108.9,1262.7 L1109.7,1263.6 L1110.5,1264.1 L1111.3,1264.6 L1112.1,1265 L1112.9,1265.3 L1113.7,1265.6 L1114.5,1265.8 L1115.3,1266 L1116.1,1266.1 L1116.9,1266.3 L1117.7,1266.4 L1118.5,1266.5 L1119.3,1266.6 L1120.1,1266.7 L1120.9,1266.8 L1121.7,1266.8 L1122.5,1266.9 L1123.3,1266.9 L1124.1,1267 L1124.9,1267 L1125.7,1267 L1126.5,1267 L1127.3,1267 L1128.1,1267 L1128.9,1267 L1129.7,1267 L1130.5,1267 L1131.3,1267 L1132.1,1267 L1132.9,1267 L1133.7,1267 L1134.5,1267 L1135.3,1267 L1136.1,1267 L1136.9,1267 L1137.7,1267 L1138.5,1267 L1139.3,1267 L1140.1,1267 L1140.9,1267 L1141.7,1267 L1142.5,1267 L1143.3,1267 L1144.1,1267 L1144.9,1267 L1145.7,1267 L1146.5,1267 L1147.3,1267 L1148.1,1267 L1148.9,1267 L1149.7,1267 L1150.5,1267 L1151.3,1267 L1152.1,1267 L1152.9,1267 L1153.7,1267 L1154.5,1267 L1155.3,1267 L1156.1,1267 L1156.9,1267 L1157.7,1267 L1158.5,1267 L1159.3,1267 L1160.1,1267 L1160.9,1267 L1161.7,1267 L1162.5,1267 L1163.3,1267 L1164.1,1267 L1164.9,1267 L1165.7,1267 L1166.5,1267 L1167.3,1267 L1168.1,1267 L1168.9,1267 L1169.7,1267 L1170.5,1267 L1171.3,1267 L1172.1,1267 L1172.9,1267 L1173.7,1267 L1174.5,1267 L1175.3,1267 L1176.1,1267 L1176.9,1267 L1177.7,1267 L1178.5,1267 L1179.3,1267 L1180.1,1267 L1180.9,1267 L1181.7,1267 L1182.5,1267 L1183.3,1267 L1184.1,1267 L1184.9,1267 L1185.7,1267 L1186.5,1267 L1187.3,1267 L1188.1,1267 L1188.9,1267 L1189.7,1267 L1190.5,1267 L1191.3,1267 L1192.1,1267 L1192.9,1267 L1193.7,1267 L1194.5,1267 L1195.3,1267 L1196.1,1267 L1196.9,1267 L1197.7,1267 L1198.5,1267 L1199.3,1267 L1200.1,1267 L1200.9,1267 L1201.7,1267 L1202.5,1267 L1203.3,1267 L1204.1,1267 L1204.9,1267 L1205.7,1267" fill="none" stroke="#3b4ea2" stroke-width="1.3"/>
<rect x="995.7" y="1058" width="212.2" height="211.2" fill="none" stroke="#111" stroke-width="1.8"/>
<text transform="translate(1033.2,1043.6) scale(0.9708,1)" font-size="41.4">A*11:01</text>
<path d="M997.7,1495.9 L998.5,1495.9 L999.3,1495.9 L1000.1,1495.9 L1000.9,1495.9 L1001.7,1495.9 L1002.5,1495.9 L1003.3,1495.9 L1004.1,1495.9 L1004.9,1495.8 L1005.7,1495.7 L1006.5,1495.4 L1007.3,1495 L1008.1,1494.1 L1008.9,1492.5 L1009.7,1489.9 L1010.5,1485.6 L1011.3,1479.2 L1012.1,1469.9 L1012.9,1457.1 L1013.7,1440.5 L1014.5,1420.2 L1015.3,1396.9 L1016.1,1372 L1016.9,1347.4 L1017.7,1325.6 L1018.5,1309 L1019.3,1299.6 L1020.1,1298.5 L1020.9,1305.9 L1021.7,1320.9 L1022.5,1341.6 L1023.3,1365.7 L1024.1,1390.7 L1024.9,1414.6 L1025.7,1435.8 L1026.5,1453.3 L1027.3,1467 L1028.1,1477.2 L1028.9,1484.3 L1029.7,1489 L1030.5,1492 L1031.3,1493.8 L1032.1,1494.8 L1032.9,1495.3 L1033.7,1495.6 L1034.5,1495.8 L1035.3,1495.8 L1036.1,1495.9 L1036.9,1495.9 L1037.7,1495.9 L1038.5,1495.9 L1039.3,1495.9 L1040.1,1495.9 L1040.9,1495.9 L1041.7,1495.9 L1042.5,1495.9 L1043.3,1495.9 L1044.1,1495.9 L1044.9,1495.9 L1045.7,1495.9 L1046.5,1495.9 L1047.3,1495.9 L1048.1,1495.9 L1048.9,1495.9 L1049.7,1495.9 L1050.5,1495.9 L1051.3,1495.9 L1052.1,1495.9 L1052.9,1495.9 L1053.7,1495.9 L1054.5,1495.9 L1055.3,1495.9 L1056.1,1495.9 L1056.9,1495.9 L1057.7,1495.9 L1058.5,1495.9 L1059.3,1495.9 L1060.1,1495.9 L1060.9,1495.9 L1061.7,1495.9 L1062.5,1495.9 L1063.3,1495.9 L1064.1,1495.9 L1064.9,1495.9 L1065.7,1495.9 L1066.5,1495.9 L1067.3,1495.9 L1068.1,1495.9 L1068.9,1495.9 L1069.7,1495.9 L1070.5,1495.9 L1071.3,1495.9 L1072.1,1495.9 L1072.9,1495.9 L1073.7,1495.9 L1074.5,1495.9 L1075.3,1495.9 L1076.1,1495.9 L1076.9,1495.9 L1077.7,1495.9 L1078.5,1495.9 L1079.3,1495.9 L1080.1,1495.9 L1080.9,1495.9 L1081.7,1495.9 L1082.5,1495.9 L1083.3,1495.9 L1084.1,1495.9 L1084.9,1495.9 L1085.7,1495.9 L1086.5,1495.9 L1087.3,1495.9 L1088.1,1495.9 L1088.9,1495.9 L1089.7,1495.9 L1090.5,1495.9 L1091.3,1495.9 L1092.1,1495.9 L1092.9,1495.9 L1093.7,1495.9 L1094.5,1495.9 L1095.3,1495.9 L1096.1,1495.9 L1096.9,1495.9 L1097.7,1495.9 L1098.5,1495.9 L1099.3,1495.9 L1100.1,1495.9 L1100.9,1495.9 L1101.7,1495.9 L1102.5,1495.9 L1103.3,1495.9 L1104.1,1495.9 L1104.9,1495.9 L1105.7,1495.9 L1106.5,1495.9 L1107.3,1495.9 L1108.1,1495.9 L1108.9,1495.9 L1109.7,1495.9 L1110.5,1495.9 L1111.3,1495.9 L1112.1,1495.9 L1112.9,1495.9 L1113.7,1495.9 L1114.5,1495.9 L1115.3,1495.9 L1116.1,1495.9 L1116.9,1495.9 L1117.7,1495.9 L1118.5,1495.9 L1119.3,1495.9 L1120.1,1495.9 L1120.9,1495.9 L1121.7,1495.9 L1122.5,1495.9 L1123.3,1495.9 L1124.1,1495.9 L1124.9,1495.9 L1125.7,1495.9 L1126.5,1495.9 L1127.3,1495.9 L1128.1,1495.9 L1128.9,1495.9 L1129.7,1495.9 L1130.5,1495.9 L1131.3,1495.9 L1132.1,1495.9 L1132.9,1495.9 L1133.7,1495.9 L1134.5,1495.9 L1135.3,1495.9 L1136.1,1495.9 L1136.9,1495.9 L1137.7,1495.9 L1138.5,1495.9 L1139.3,1495.9 L1140.1,1495.9 L1140.9,1495.9 L1141.7,1495.9 L1142.5,1495.9 L1143.3,1495.9 L1144.1,1495.9 L1144.9,1495.9 L1145.7,1495.9 L1146.5,1495.9 L1147.3,1495.9 L1148.1,1495.9 L1148.9,1495.9 L1149.7,1495.9 L1150.5,1495.9 L1151.3,1495.9 L1152.1,1495.9 L1152.9,1495.9 L1153.7,1495.9 L1154.5,1495.9 L1155.3,1495.9 L1156.1,1495.9 L1156.9,1495.9 L1157.7,1495.9 L1158.5,1495.9 L1159.3,1495.9 L1160.1,1495.9 L1160.9,1495.9 L1161.7,1495.9 L1162.5,1495.9 L1163.3,1495.9 L1164.1,1495.9 L1164.9,1495.9 L1165.7,1495.9 L1166.5,1495.9 L1167.3,1495.9 L1168.1,1495.9 L1168.9,1495.9 L1169.7,1495.9 L1170.5,1495.9 L1171.3,1495.9 L1172.1,1495.9 L1172.9,1495.9 L1173.7,1495.9 L1174.5,1495.9 L1175.3,1495.9 L1176.1,1495.9 L1176.9,1495.9 L1177.7,1495.9 L1178.5,1495.9 L1179.3,1495.9 L1180.1,1495.9 L1180.9,1495.9 L1181.7,1495.9 L1182.5,1495.9 L1183.3,1495.9 L1184.1,1495.9 L1184.9,1495.9 L1185.7,1495.9 L1186.5,1495.9 L1187.3,1495.9 L1188.1,1495.9 L1188.9,1495.9 L1189.7,1495.9 L1190.5,1495.9 L1191.3,1495.9 L1192.1,1495.9 L1192.9,1495.9 L1193.7,1495.9 L1194.5,1495.9 L1195.3,1495.9 L1196.1,1495.9 L1196.9,1495.9 L1197.7,1495.9 L1198.5,1495.9 L1199.3,1495.9 L1200.1,1495.9 L1200.9,1495.9 L1201.7,1495.9 L1202.5,1495.9 L1203.3,1495.9 L1204.1,1495.9 L1204.9,1495.9 L1205.7,1495.9" fill="none" stroke="#777" stroke-width="1.6" stroke-dasharray="4,3"/>
<path d="M997.7,1495.9 L998.5,1495.9 L999.3,1495.9 L1000.1,1495.9 L1000.9,1495.9 L1001.7,1495.9 L1002.5,1495.9 L1003.3,1495.9 L1004.1,1495.9 L1004.9,1495.8 L1005.7,1495.8 L1006.5,1495.7 L1007.3,1495.4 L1008.1,1495.1 L1008.9,1494.4 L1009.7,1493.4 L1010.5,1491.8 L1011.3,1489.3 L1012.1,1485 L1012.9,1480.2 L1013.7,1471.8 L1014.5,1461.3 L1015.3,1451 L1016.1,1436.4 L1016.9,1419.4 L1017.7,1396.5 L1018.5,1377.8 L1019.3,1356.5 L1020.1,1337.3 L1020.9,1316 L1021.7,1305.2 L1022.5,1298.5 L1023.3,1303.9 L1024.1,1309.4 L1024.9,1320.1 L1025.7,1335.8 L1026.5,1352.4 L1027.3,1368.2 L1028.1,1387.7 L1028.9,1404.5 L1029.7,1421.3 L1030.5,1435.4 L1031.3,1447.5 L1032.1,1457.4 L1032.9,1467 L1033.7,1473.2 L1034.5,1478.5 L1035.3,1483.1 L1036.1,1486.4 L1036.9,1489.4 L1037.7,1491.1 L1038.5,1492.4 L1039.3,1493.5 L1040.1,1494.2 L1040.9,1494.6 L1041.7,1494.7 L1042.5,1494.8 L1043.3,1494.9 L1044.1,1494.9 L1044.9,1495 L1045.7,1495.1 L1046.5,1495.1 L1047.3,1495.2 L1048.1,1495.3 L1048.9,1495.3 L1049.7,1495.4 L1050.5,1495.4 L1051.3,1495.4 L1052.1,1495.5 L1052.9,1495.5 L1053.7,1495.5 L1054.5,1495.6 L1055.3,1495.6 L1056.1,1495.6 L1056.9,1495.6 L1057.7,1495.7 L1058.5,1495.7 L1059.3,1495.7 L1060.1,1495.7 L1060.9,1495.7 L1061.7,1495.7 L1062.5,1495.7 L1063.3,1495.8 L1064.1,1495.8 L1064.9,1495.8 L1065.7,1495.8 L1066.5,1495.8 L1067.3,1495.8 L1068.1,1495.8 L1068.9,1495.8 L1069.7,1495.8 L1070.5,1495.8 L1071.3,1495.8 L1072.1,1495.8 L1072.9,1495.8 L1073.7,1495.9 L1074.5,1495.9 L1075.3,1495.9 L1076.1,1495.9 L1076.9,1495.9 L1077.7,1495.9 L1078.5,1495.9 L1079.3,1495.9 L1080.1,1495.9 L1080.9,1495.9 L1081.7,1495.9 L1082.5,1495.9 L1083.3,1495.9 L1084.1,1495.9 L1084.9,1495.9 L1085.7,1495.9 L1086.5,1495.9 L1087.3,1495.9 L1088.1,1495.9 L1088.9,1495.9 L1089.7,1495.9 L1090.5,1495.9 L1091.3,1495.9 L1092.1,1495.9 L1092.9,1495.9 L1093.7,1495.9 L1094.5,1495.9 L1095.3,1495.9 L1096.1,1495.9 L1096.9,1495.9 L1097.7,1495.9 L1098.5,1495.9 L1099.3,1495.9 L1100.1,1495.9 L1100.9,1495.9 L1101.7,1495.9 L1102.5,1495.9 L1103.3,1495.9 L1104.1,1495.9 L1104.9,1495.9 L1105.7,1495.9 L1106.5,1495.9 L1107.3,1495.9 L1108.1,1495.9 L1108.9,1495.9 L1109.7,1495.9 L1110.5,1495.9 L1111.3,1495.9 L1112.1,1495.9 L1112.9,1495.9 L1113.7,1495.9 L1114.5,1495.9 L1115.3,1495.9 L1116.1,1495.9 L1116.9,1495.9 L1117.7,1495.9 L1118.5,1495.9 L1119.3,1495.9 L1120.1,1495.9 L1120.9,1495.9 L1121.7,1495.9 L1122.5,1495.9 L1123.3,1495.9 L1124.1,1495.9 L1124.9,1495.9 L1125.7,1495.9 L1126.5,1495.9 L1127.3,1495.9 L1128.1,1495.9 L1128.9,1495.9 L1129.7,1495.9 L1130.5,1495.9 L1131.3,1495.9 L1132.1,1495.9 L1132.9,1495.9 L1133.7,1495.9 L1134.5,1495.9 L1135.3,1495.9 L1136.1,1495.9 L1136.9,1495.9 L1137.7,1495.9 L1138.5,1495.9 L1139.3,1495.9 L1140.1,1495.9 L1140.9,1495.9 L1141.7,1495.9 L1142.5,1495.9 L1143.3,1495.9 L1144.1,1495.9 L1144.9,1495.9 L1145.7,1495.9 L1146.5,1495.9 L1147.3,1495.9 L1148.1,1495.9 L1148.9,1495.9 L1149.7,1495.9 L1150.5,1495.9 L1151.3,1495.9 L1152.1,1495.9 L1152.9,1495.9 L1153.7,1495.9 L1154.5,1495.9 L1155.3,1495.9 L1156.1,1495.9 L1156.9,1495.9 L1157.7,1495.9 L1158.5,1495.9 L1159.3,1495.9 L1160.1,1495.9 L1160.9,1495.9 L1161.7,1495.9 L1162.5,1495.9 L1163.3,1495.9 L1164.1,1495.9 L1164.9,1495.9 L1165.7,1495.9 L1166.5,1495.9 L1167.3,1495.9 L1168.1,1495.9 L1168.9,1495.9 L1169.7,1495.9 L1170.5,1495.9 L1171.3,1495.9 L1172.1,1495.9 L1172.9,1495.9 L1173.7,1495.9 L1174.5,1495.9 L1175.3,1495.9 L1176.1,1495.9 L1176.9,1495.9 L1177.7,1495.9 L1178.5,1495.9 L1179.3,1495.9 L1180.1,1495.9 L1180.9,1495.9 L1181.7,1495.9 L1182.5,1495.9 L1183.3,1495.9 L1184.1,1495.9 L1184.9,1495.9 L1185.7,1495.9 L1186.5,1495.9 L1187.3,1495.9 L1188.1,1495.9 L1188.9,1495.9 L1189.7,1495.9 L1190.5,1495.9 L1191.3,1495.9 L1192.1,1495.9 L1192.9,1495.9 L1193.7,1495.9 L1194.5,1495.9 L1195.3,1495.9 L1196.1,1495.9 L1196.9,1495.9 L1197.7,1495.9 L1198.5,1495.9 L1199.3,1495.9 L1200.1,1495.9 L1200.9,1495.9 L1201.7,1495.9 L1202.5,1495.9 L1203.3,1495.9 L1204.1,1495.9 L1204.9,1495.9 L1205.7,1495.9" fill="none" stroke="#000" stroke-width="1.6"/>
<rect x="995.7" y="1286.1" width="212.2" height="211" fill="none" stroke="#111" stroke-width="1.6"/>
<line x1="996.9" y1="1269.2" x2="996.9" y2="1275.2" stroke="#000" stroke-width="1.4"/>
<line x1="1017.2" y1="1269.2" x2="1017.2" y2="1275.2" stroke="#000" stroke-width="1.4"/>
<line x1="1040.5" y1="1269.2" x2="1040.5" y2="1275.2" stroke="#000" stroke-width="1.4"/>
<line x1="1091.5" y1="1269.2" x2="1091.5" y2="1275.2" stroke="#000" stroke-width="1.4"/>
<line x1="1140.2" y1="1269.2" x2="1140.2" y2="1275.2" stroke="#000" stroke-width="1.4"/>
<line x1="1187.5" y1="1269.2" x2="1187.5" y2="1275.2" stroke="#000" stroke-width="1.4"/>
<line x1="1002.2" y1="1269.2" x2="1002.2" y2="1272.2" stroke="#000" stroke-width="1.1"/>
<line x1="1007.7" y1="1269.2" x2="1007.7" y2="1272.2" stroke="#000" stroke-width="1.1"/>
<line x1="1011.7" y1="1269.2" x2="1011.7" y2="1272.2" stroke="#000" stroke-width="1.1"/>
<line x1="1021.7" y1="1269.2" x2="1021.7" y2="1272.2" stroke="#000" stroke-width="1.1"/>
<line x1="1026.7" y1="1269.2" x2="1026.7" y2="1272.2" stroke="#000" stroke-width="1.1"/>
<line x1="1031.7" y1="1269.2" x2="1031.7" y2="1272.2" stroke="#000" stroke-width="1.1"/>
<line x1="1036.7" y1="1269.2" x2="1036.7" y2="1272.2" stroke="#000" stroke-width="1.1"/>
<line x1="1057.7" y1="1269.2" x2="1057.7" y2="1272.2" stroke="#000" stroke-width="1.1"/>
<line x1="1063.7" y1="1269.2" x2="1063.7" y2="1272.2" stroke="#000" stroke-width="1.1"/>
<line x1="1067.7" y1="1269.2" x2="1067.7" y2="1272.2" stroke="#000" stroke-width="1.1"/>
<line x1="1073.7" y1="1269.2" x2="1073.7" y2="1272.2" stroke="#000" stroke-width="1.1"/>
<line x1="1077.7" y1="1269.2" x2="1077.7" y2="1272.2" stroke="#000" stroke-width="1.1"/>
<line x1="1080.7" y1="1269.2" x2="1080.7" y2="1272.2" stroke="#000" stroke-width="1.1"/>
<line x1="1083.7" y1="1269.2" x2="1083.7" y2="1272.2" stroke="#000" stroke-width="1.1"/>
<line x1="1085.7" y1="1269.2" x2="1085.7" y2="1272.2" stroke="#000" stroke-width="1.1"/>
<line x1="1088.7" y1="1269.2" x2="1088.7" y2="1272.2" stroke="#000" stroke-width="1.1"/>
<line x1="1106.7" y1="1269.2" x2="1106.7" y2="1272.2" stroke="#000" stroke-width="1.1"/>
<line x1="1115.7" y1="1269.2" x2="1115.7" y2="1272.2" stroke="#000" stroke-width="1.1"/>
<line x1="1121.7" y1="1269.2" x2="1121.7" y2="1272.2" stroke="#000" stroke-width="1.1"/>
<line x1="1126.7" y1="1269.2" x2="1126.7" y2="1272.2" stroke="#000" stroke-width="1.1"/>
<line x1="1130.7" y1="1269.2" x2="1130.7" y2="1272.2" stroke="#000" stroke-width="1.1"/>
<line x1="1133.7" y1="1269.2" x2="1133.7" y2="1272.2" stroke="#000" stroke-width="1.1"/>
<line x1="1135.7" y1="1269.2" x2="1135.7" y2="1272.2" stroke="#000" stroke-width="1.1"/>
<line x1="1137.7" y1="1269.2" x2="1137.7" y2="1272.2" stroke="#000" stroke-width="1.1"/>
<line x1="1155.7" y1="1269.2" x2="1155.7" y2="1272.2" stroke="#000" stroke-width="1.1"/>
<line x1="1162.7" y1="1269.2" x2="1162.7" y2="1272.2" stroke="#000" stroke-width="1.1"/>
<line x1="1167.7" y1="1269.2" x2="1167.7" y2="1272.2" stroke="#000" stroke-width="1.1"/>
<line x1="1172.7" y1="1269.2" x2="1172.7" y2="1272.2" stroke="#000" stroke-width="1.1"/>
<line x1="1175.7" y1="1269.2" x2="1175.7" y2="1272.2" stroke="#000" stroke-width="1.1"/>
<line x1="1178.7" y1="1269.2" x2="1178.7" y2="1272.2" stroke="#000" stroke-width="1.1"/>
<line x1="1181.7" y1="1269.2" x2="1181.7" y2="1272.2" stroke="#000" stroke-width="1.1"/>
<line x1="1183.7" y1="1269.2" x2="1183.7" y2="1272.2" stroke="#000" stroke-width="1.1"/>
<line x1="1185.7" y1="1269.2" x2="1185.7" y2="1272.2" stroke="#000" stroke-width="1.1"/>
<line x1="1201.7" y1="1269.2" x2="1201.7" y2="1272.2" stroke="#000" stroke-width="1.1"/>
<line x1="1204.7" y1="1269.2" x2="1204.7" y2="1272.2" stroke="#000" stroke-width="1.1"/>
<line x1="996.9" y1="1497.1" x2="996.9" y2="1503.1" stroke="#000" stroke-width="1.4"/>
<line x1="1017.2" y1="1497.1" x2="1017.2" y2="1503.1" stroke="#000" stroke-width="1.4"/>
<line x1="1040.5" y1="1497.1" x2="1040.5" y2="1503.1" stroke="#000" stroke-width="1.4"/>
<line x1="1091.5" y1="1497.1" x2="1091.5" y2="1503.1" stroke="#000" stroke-width="1.4"/>
<line x1="1140.2" y1="1497.1" x2="1140.2" y2="1503.1" stroke="#000" stroke-width="1.4"/>
<line x1="1187.5" y1="1497.1" x2="1187.5" y2="1503.1" stroke="#000" stroke-width="1.4"/>
<line x1="1002.2" y1="1497.1" x2="1002.2" y2="1500.1" stroke="#000" stroke-width="1.1"/>
<line x1="1007.7" y1="1497.1" x2="1007.7" y2="1500.1" stroke="#000" stroke-width="1.1"/>
<line x1="1011.7" y1="1497.1" x2="1011.7" y2="1500.1" stroke="#000" stroke-width="1.1"/>
<line x1="1021.7" y1="1497.1" x2="1021.7" y2="1500.1" stroke="#000" stroke-width="1.1"/>
<line x1="1026.7" y1="1497.1" x2="1026.7" y2="1500.1" stroke="#000" stroke-width="1.1"/>
<line x1="1031.7" y1="1497.1" x2="1031.7" y2="1500.1" stroke="#000" stroke-width="1.1"/>
<line x1="1036.7" y1="1497.1" x2="1036.7" y2="1500.1" stroke="#000" stroke-width="1.1"/>
<line x1="1057.7" y1="1497.1" x2="1057.7" y2="1500.1" stroke="#000" stroke-width="1.1"/>
<line x1="1063.7" y1="1497.1" x2="1063.7" y2="1500.1" stroke="#000" stroke-width="1.1"/>
<line x1="1067.7" y1="1497.1" x2="1067.7" y2="1500.1" stroke="#000" stroke-width="1.1"/>
<line x1="1073.7" y1="1497.1" x2="1073.7" y2="1500.1" stroke="#000" stroke-width="1.1"/>
<line x1="1077.7" y1="1497.1" x2="1077.7" y2="1500.1" stroke="#000" stroke-width="1.1"/>
<line x1="1080.7" y1="1497.1" x2="1080.7" y2="1500.1" stroke="#000" stroke-width="1.1"/>
<line x1="1083.7" y1="1497.1" x2="1083.7" y2="1500.1" stroke="#000" stroke-width="1.1"/>
<line x1="1085.7" y1="1497.1" x2="1085.7" y2="1500.1" stroke="#000" stroke-width="1.1"/>
<line x1="1088.7" y1="1497.1" x2="1088.7" y2="1500.1" stroke="#000" stroke-width="1.1"/>
<line x1="1106.7" y1="1497.1" x2="1106.7" y2="1500.1" stroke="#000" stroke-width="1.1"/>
<line x1="1115.7" y1="1497.1" x2="1115.7" y2="1500.1" stroke="#000" stroke-width="1.1"/>
<line x1="1121.7" y1="1497.1" x2="1121.7" y2="1500.1" stroke="#000" stroke-width="1.1"/>
<line x1="1126.7" y1="1497.1" x2="1126.7" y2="1500.1" stroke="#000" stroke-width="1.1"/>
<line x1="1130.7" y1="1497.1" x2="1130.7" y2="1500.1" stroke="#000" stroke-width="1.1"/>
<line x1="1133.7" y1="1497.1" x2="1133.7" y2="1500.1" stroke="#000" stroke-width="1.1"/>
<line x1="1135.7" y1="1497.1" x2="1135.7" y2="1500.1" stroke="#000" stroke-width="1.1"/>
<line x1="1137.7" y1="1497.1" x2="1137.7" y2="1500.1" stroke="#000" stroke-width="1.1"/>
<line x1="1155.7" y1="1497.1" x2="1155.7" y2="1500.1" stroke="#000" stroke-width="1.1"/>
<line x1="1162.7" y1="1497.1" x2="1162.7" y2="1500.1" stroke="#000" stroke-width="1.1"/>
<line x1="1167.7" y1="1497.1" x2="1167.7" y2="1500.1" stroke="#000" stroke-width="1.1"/>
<line x1="1172.7" y1="1497.1" x2="1172.7" y2="1500.1" stroke="#000" stroke-width="1.1"/>
<line x1="1175.7" y1="1497.1" x2="1175.7" y2="1500.1" stroke="#000" stroke-width="1.1"/>
<line x1="1178.7" y1="1497.1" x2="1178.7" y2="1500.1" stroke="#000" stroke-width="1.1"/>
<line x1="1181.7" y1="1497.1" x2="1181.7" y2="1500.1" stroke="#000" stroke-width="1.1"/>
<line x1="1183.7" y1="1497.1" x2="1183.7" y2="1500.1" stroke="#000" stroke-width="1.1"/>
<line x1="1185.7" y1="1497.1" x2="1185.7" y2="1500.1" stroke="#000" stroke-width="1.1"/>
<line x1="1201.7" y1="1497.1" x2="1201.7" y2="1500.1" stroke="#000" stroke-width="1.1"/>
<line x1="1204.7" y1="1497.1" x2="1204.7" y2="1500.1" stroke="#000" stroke-width="1.1"/>
<line x1="991.2" y1="1296.1" x2="995.7" y2="1296.1" stroke="#000" stroke-width="1.4"/>
<line x1="993.7" y1="1304.1" x2="995.7" y2="1304.1" stroke="#000" stroke-width="1"/>
<line x1="993.7" y1="1312.1" x2="995.7" y2="1312.1" stroke="#000" stroke-width="1"/>
<line x1="993.7" y1="1320.1" x2="995.7" y2="1320.1" stroke="#000" stroke-width="1"/>
<line x1="993.7" y1="1328.1" x2="995.7" y2="1328.1" stroke="#000" stroke-width="1"/>
<line x1="991.2" y1="1336.3" x2="995.7" y2="1336.3" stroke="#000" stroke-width="1.4"/>
<line x1="993.7" y1="1344.3" x2="995.7" y2="1344.3" stroke="#000" stroke-width="1"/>
<line x1="993.7" y1="1352.3" x2="995.7" y2="1352.3" stroke="#000" stroke-width="1"/>
<line x1="993.7" y1="1360.3" x2="995.7" y2="1360.3" stroke="#000" stroke-width="1"/>
<line x1="993.7" y1="1368.3" x2="995.7" y2="1368.3" stroke="#000" stroke-width="1"/>
<line x1="991.2" y1="1376.5" x2="995.7" y2="1376.5" stroke="#000" stroke-width="1.4"/>
<line x1="993.7" y1="1384.5" x2="995.7" y2="1384.5" stroke="#000" stroke-width="1"/>
<line x1="993.7" y1="1392.5" x2="995.7" y2="1392.5" stroke="#000" stroke-width="1"/>
<line x1="993.7" y1="1400.5" x2="995.7" y2="1400.5" stroke="#000" stroke-width="1"/>
<line x1="993.7" y1="1408.5" x2="995.7" y2="1408.5" stroke="#000" stroke-width="1"/>
<line x1="991.2" y1="1416.7" x2="995.7" y2="1416.7" stroke="#000" stroke-width="1.4"/>
<line x1="993.7" y1="1424.7" x2="995.7" y2="1424.7" stroke="#000" stroke-width="1"/>
<line x1="993.7" y1="1432.7" x2="995.7" y2="1432.7" stroke="#000" stroke-width="1"/>
<line x1="993.7" y1="1440.7" x2="995.7" y2="1440.7" stroke="#000" stroke-width="1"/>
<line x1="993.7" y1="1448.7" x2="995.7" y2="1448.7" stroke="#000" stroke-width="1"/>
<line x1="991.2" y1="1456.9" x2="995.7" y2="1456.9" stroke="#000" stroke-width="1.4"/>
<line x1="993.7" y1="1464.9" x2="995.7" y2="1464.9" stroke="#000" stroke-width="1"/>
<line x1="993.7" y1="1472.9" x2="995.7" y2="1472.9" stroke="#000" stroke-width="1"/>
<line x1="993.7" y1="1480.9" x2="995.7" y2="1480.9" stroke="#000" stroke-width="1"/>
<line x1="993.7" y1="1488.9" x2="995.7" y2="1488.9" stroke="#000" stroke-width="1"/>
<line x1="991.2" y1="1497.1" x2="995.7" y2="1497.1" stroke="#000" stroke-width="1.4"/>
<path d="M1215.8,1169 L1216.6,1169 L1217.4,1169 L1218.2,1169 L1219,1169 L1219.8,1169 L1220.6,1169 L1221.4,1169 L1222.2,1169 L1223,1169 L1223.8,1169 L1224.6,1169 L1225.4,1169 L1226.2,1169 L1227,1169 L1227.8,1169 L1228.6,1169 L1229.4,1169 L1230.2,1169 L1231,1169 L1231.8,1169 L1232.6,1169 L1233.4,1169 L1234.2,1169 L1235,1169 L1235.8,1169 L1236.6,1169 L1237.4,1168.9 L1238.2,1168.2 L1239,1166.8 L1239.8,1164.9 L1240.6,1162.7 L1241.4,1159.9 L1242.2,1157.2 L1243,1154.9 L1243.8,1152.6 L1244.6,1150.7 L1245.4,1149.2 L1246.2,1146.9 L1247,1143.4 L1247.8,1139.7 L1248.6,1136.1 L1249.4,1132.5 L1250.2,1129.6 L1251,1127.8 L1251.8,1126.6 L1252.6,1124.4 L1253.4,1122.2 L1254.2,1121.3 L1255,1119 L1255.8,1115 L1256.6,1113.4 L1257.4,1113.5 L1258.2,1112 L1259,1110.3 L1259.8,1108.6 L1260.6,1105 L1261.4,1100.8 L1262.2,1097.8 L1263,1095.1 L1263.8,1092.8 L1264.6,1091.3 L1265.4,1088.2 L1266.2,1083.8 L1267,1081.7 L1267.8,1081.2 L1268.6,1079.6 L1269.4,1076.8 L1270.2,1074.3 L1271,1072.8 L1271.8,1071.5 L1272.6,1070.4 L1273.4,1069.5 L1274.2,1068.5 L1275,1068.3 L1275.8,1068 L1276.6,1067.2 L1277.4,1067.5 L1278.2,1067.6 L1279,1066.7 L1279.8,1066 L1280.6,1065.3 L1281.4,1066.4 L1282.2,1069.3 L1283,1071.3 L1283.8,1073.1 L1284.6,1073.7 L1285.4,1072.8 L1286.2,1074.2 L1287,1076.2 L1287.8,1076.7 L1288.6,1078.4 L1289.4,1081.5 L1290.2,1085.7 L1291,1089 L1291.8,1090.1 L1292.6,1093 L1293.4,1096.4 L1294.2,1098.5 L1295,1102.2 L1295.8,1107.2 L1296.6,1110.9 L1297.4,1114.1 L1298.2,1117.6 L1299,1120 L1299.8,1121.6 L1300.6,1123.6 L1301.4,1125.5 L1302.2,1127.7 L1303,1129.6 L1303.8,1131.2 L1304.6,1133.8 L1305.4,1136.1 L1306.2,1138.2 L1307,1140.8 L1307.8,1144.3 L1308.6,1147.9 L1309.4,1150.5 L1310.2,1152.1 L1311,1153.2 L1311.8,1154.3 L1312.6,1155.7 L1313.4,1157.2 L1314.2,1158.5 L1315,1159.8 L1315.8,1160.8 L1316.6,1161.4 L1317.4,1162.1 L1318.2,1163.2 L1319,1164.1 L1319.8,1164.6 L1320.6,1164.9 L1321.4,1165.3 L1322.2,1165.7 L1323,1166.1 L1323.8,1166.4 L1324.6,1166.8 L1325.4,1167 L1326.2,1167.3 L1327,1167.5 L1327.8,1167.7 L1328.6,1167.9 L1329.4,1168 L1330.2,1168.2 L1331,1168.3 L1331.8,1168.4 L1332.6,1168.5 L1333.4,1168.6 L1334.2,1168.7 L1335,1168.8 L1335.8,1168.9 L1336.6,1168.9 L1337.4,1169 L1338.2,1169 L1339,1169 L1339.8,1169 L1340.6,1169 L1341.4,1169 L1342.2,1169 L1343,1169 L1343.8,1169 L1344.6,1169 L1345.4,1169 L1346.2,1169 L1347,1169 L1347.8,1169 L1348.6,1169 L1349.4,1169 L1350.2,1169 L1351,1169 L1351.8,1169 L1352.6,1169 L1353.4,1169 L1354.2,1169 L1355,1169 L1355.8,1169 L1356.6,1169 L1357.4,1169 L1358.2,1169 L1359,1169 L1359.8,1169 L1360.6,1169 L1361.4,1169 L1362.2,1169 L1363,1169 L1363.8,1169 L1364.6,1169 L1365.4,1169 L1366.2,1169 L1367,1169 L1367.8,1169 L1368.6,1169 L1369.4,1169 L1370.2,1169 L1371,1169 L1371.8,1169 L1372.6,1169 L1373.4,1169 L1374.2,1169 L1375,1169 L1375.8,1169 L1376.6,1169 L1377.4,1169 L1378.2,1169 L1379,1169 L1379.8,1169 L1380.6,1169 L1381.4,1169 L1382.2,1169 L1383,1169 L1383.8,1169 L1384.6,1169 L1385.4,1169 L1386.2,1169 L1387,1169 L1387.8,1169 L1388.6,1169 L1389.4,1169 L1390.2,1169 L1391,1169 L1391.8,1169 L1392.6,1169 L1393.4,1169 L1394.2,1169 L1395,1169 L1395.8,1169 L1396.6,1169 L1397.4,1169 L1398.2,1169 L1399,1169 L1399.8,1169 L1400.6,1169 L1401.4,1169 L1402.2,1169 L1403,1169 L1403.8,1169 L1404.6,1169 L1405.4,1169 L1406.2,1169 L1407,1169 L1407.8,1169 L1408.6,1169 L1409.4,1169 L1410.2,1169 L1411,1169 L1411.8,1169 L1412.6,1169 L1413.4,1169 L1414.2,1169 L1415,1169 L1415.8,1169 L1416.6,1169 L1417.4,1169 L1418.2,1169 L1419,1169 L1419.8,1169 L1420.6,1169 L1421.4,1169 L1422.2,1169 L1423,1169 L1423.8,1169" fill="none" stroke="#1a1a1a" stroke-width="2.1" stroke-dasharray="4.5,3.5"/>
<path d="M1215.8,1201.8 L1216.6,1201.8 L1217.4,1201.8 L1218.2,1201.8 L1219,1201.8 L1219.8,1201.8 L1220.6,1201.8 L1221.4,1201.8 L1222.2,1201.8 L1223,1201.8 L1223.8,1201.8 L1224.6,1201.8 L1225.4,1201.8 L1226.2,1201.8 L1227,1201.8 L1227.8,1201.8 L1228.6,1201.8 L1229.4,1201.8 L1230.2,1201.8 L1231,1201.8 L1231.8,1201.8 L1232.6,1201.8 L1233.4,1201.8 L1234.2,1201.8 L1235,1201.8 L1235.8,1201.8 L1236.6,1201.5 L1237.4,1200.7 L1238.2,1199.5 L1239,1198.1 L1239.8,1195.4 L1240.6,1194.7 L1241.4,1192.4 L1242.2,1189.1 L1243,1187.5 L1243.8,1187 L1244.6,1185.6 L1245.4,1182.5 L1246.2,1179.8 L1247,1178.2 L1247.8,1174.7 L1248.6,1169.7 L1249.4,1166.6 L1250.2,1164.4 L1251,1161.8 L1251.8,1160.7 L1252.6,1159.8 L1253.4,1157.7 L1254.2,1155.1 L1255,1151.5 L1255.8,1145.8 L1256.6,1139.5 L1257.4,1135.4 L1258.2,1134.3 L1259,1134.8 L1259.8,1133.1 L1260.6,1132.1 L1261.4,1130.7 L1262.2,1126.6 L1263,1123.4 L1263.8,1117.7 L1264.6,1112.7 L1265.4,1114 L1266.2,1115.5 L1267,1115.9 L1267.8,1115.1 L1268.6,1112.4 L1269.4,1110.1 L1270.2,1108.1 L1271,1106.3 L1271.8,1104.3 L1272.6,1101.4 L1273.4,1101.4 L1274.2,1104.8 L1275,1103.6 L1275.8,1098.3 L1276.6,1098.5 L1277.4,1099 L1278.2,1099.9 L1279,1106.3 L1279.8,1107.9 L1280.6,1105.4 L1281.4,1107.1 L1282.2,1110.3 L1283,1110.8 L1283.8,1109.6 L1284.6,1112.4 L1285.4,1118.6 L1286.2,1121.5 L1287,1120.9 L1287.8,1119.2 L1288.6,1118.6 L1289.4,1123.2 L1290.2,1129.7 L1291,1133.3 L1291.8,1135.7 L1292.6,1139.1 L1293.4,1142 L1294.2,1144 L1295,1145.7 L1295.8,1147.9 L1296.6,1148.8 L1297.4,1150.8 L1298.2,1156.7 L1299,1160.5 L1299.8,1161.3 L1300.6,1161.9 L1301.4,1163.4 L1302.2,1164.6 L1303,1165.6 L1303.8,1169.1 L1304.6,1173 L1305.4,1177 L1306.2,1179 L1307,1179.6 L1307.8,1183.2 L1308.6,1186.4 L1309.4,1186.9 L1310.2,1186.4 L1311,1187 L1311.8,1189 L1312.6,1190.5 L1313.4,1190.8 L1314.2,1191.7 L1315,1193.1 L1315.8,1193.8 L1316.6,1194.3 L1317.4,1194.6 L1318.2,1194.7 L1319,1194.7 L1319.8,1195.3 L1320.6,1196.9 L1321.4,1197.8 L1322.2,1197.8 L1323,1198.1 L1323.8,1198.4 L1324.6,1198.7 L1325.4,1199 L1326.2,1199.2 L1327,1199.5 L1327.8,1199.7 L1328.6,1200 L1329.4,1200.2 L1330.2,1200.4 L1331,1200.7 L1331.8,1200.9 L1332.6,1201 L1333.4,1201.2 L1334.2,1201.4 L1335,1201.5 L1335.8,1201.6 L1336.6,1201.7 L1337.4,1201.8 L1338.2,1201.8 L1339,1201.8 L1339.8,1201.8 L1340.6,1201.8 L1341.4,1201.8 L1342.2,1201.8 L1343,1201.8 L1343.8,1201.8 L1344.6,1201.8 L1345.4,1201.8 L1346.2,1201.8 L1347,1201.8 L1347.8,1201.8 L1348.6,1201.8 L1349.4,1201.8 L1350.2,1201.8 L1351,1201.8 L1351.8,1201.8 L1352.6,1201.8 L1353.4,1201.8 L1354.2,1201.8 L1355,1201.8 L1355.8,1201.8 L1356.6,1201.8 L1357.4,1201.8 L1358.2,1201.8 L1359,1201.8 L1359.8,1201.8 L1360.6,1201.8 L1361.4,1201.8 L1362.2,1201.8 L1363,1201.8 L1363.8,1201.8 L1364.6,1201.8 L1365.4,1201.8 L1366.2,1201.8 L1367,1201.8 L1367.8,1201.8 L1368.6,1201.8 L1369.4,1201.8 L1370.2,1201.8 L1371,1201.8 L1371.8,1201.8 L1372.6,1201.8 L1373.4,1201.8 L1374.2,1201.8 L1375,1201.8 L1375.8,1201.8 L1376.6,1201.8 L1377.4,1201.8 L1378.2,1201.8 L1379,1201.8 L1379.8,1201.8 L1380.6,1201.8 L1381.4,1201.8 L1382.2,1201.8 L1383,1201.8 L1383.8,1201.8 L1384.6,1201.8 L1385.4,1201.8 L1386.2,1201.8 L1387,1201.8 L1387.8,1201.8 L1388.6,1201.8 L1389.4,1201.8 L1390.2,1201.8 L1391,1201.8 L1391.8,1201.8 L1392.6,1201.8 L1393.4,1201.8 L1394.2,1201.8 L1395,1201.8 L1395.8,1201.8 L1396.6,1201.8 L1397.4,1201.8 L1398.2,1201.8 L1399,1201.8 L1399.8,1201.8 L1400.6,1201.8 L1401.4,1201.8 L1402.2,1201.8 L1403,1201.8 L1403.8,1201.8 L1404.6,1201.8 L1405.4,1201.8 L1406.2,1201.8 L1407,1201.8 L1407.8,1201.8 L1408.6,1201.8 L1409.4,1201.8 L1410.2,1201.8 L1411,1201.8 L1411.8,1201.8 L1412.6,1201.8 L1413.4,1201.8 L1414.2,1201.8 L1415,1201.8 L1415.8,1201.8 L1416.6,1201.8 L1417.4,1201.8 L1418.2,1201.8 L1419,1201.8 L1419.8,1201.8 L1420.6,1201.8 L1421.4,1201.8 L1422.2,1201.8 L1423,1201.8 L1423.8,1201.8 L1423.8,1202.3 L1215.8,1202.3 Z" fill="#b4dca6" stroke="none"/>
<path d="M1215.8,1201.8 L1216.6,1201.8 L1217.4,1201.8 L1218.2,1201.8 L1219,1201.8 L1219.8,1201.8 L1220.6,1201.8 L1221.4,1201.8 L1222.2,1201.8 L1223,1201.8 L1223.8,1201.8 L1224.6,1201.8 L1225.4,1201.8 L1226.2,1201.8 L1227,1201.8 L1227.8,1201.8 L1228.6,1201.8 L1229.4,1201.8 L1230.2,1201.8 L1231,1201.8 L1231.8,1201.8 L1232.6,1201.8 L1233.4,1201.8 L1234.2,1201.8 L1235,1201.8 L1235.8,1201.8 L1236.6,1201.5 L1237.4,1200.7 L1238.2,1199.5 L1239,1198.1 L1239.8,1195.4 L1240.6,1194.7 L1241.4,1192.4 L1242.2,1189.1 L1243,1187.5 L1243.8,1187 L1244.6,1185.6 L1245.4,1182.5 L1246.2,1179.8 L1247,1178.2 L1247.8,1174.7 L1248.6,1169.7 L1249.4,1166.6 L1250.2,1164.4 L1251,1161.8 L1251.8,1160.7 L1252.6,1159.8 L1253.4,1157.7 L1254.2,1155.1 L1255,1151.5 L1255.8,1145.8 L1256.6,1139.5 L1257.4,1135.4 L1258.2,1134.3 L1259,1134.8 L1259.8,1133.1 L1260.6,1132.1 L1261.4,1130.7 L1262.2,1126.6 L1263,1123.4 L1263.8,1117.7 L1264.6,1112.7 L1265.4,1114 L1266.2,1115.5 L1267,1115.9 L1267.8,1115.1 L1268.6,1112.4 L1269.4,1110.1 L1270.2,1108.1 L1271,1106.3 L1271.8,1104.3 L1272.6,1101.4 L1273.4,1101.4 L1274.2,1104.8 L1275,1103.6 L1275.8,1098.3 L1276.6,1098.5 L1277.4,1099 L1278.2,1099.9 L1279,1106.3 L1279.8,1107.9 L1280.6,1105.4 L1281.4,1107.1 L1282.2,1110.3 L1283,1110.8 L1283.8,1109.6 L1284.6,1112.4 L1285.4,1118.6 L1286.2,1121.5 L1287,1120.9 L1287.8,1119.2 L1288.6,1118.6 L1289.4,1123.2 L1290.2,1129.7 L1291,1133.3 L1291.8,1135.7 L1292.6,1139.1 L1293.4,1142 L1294.2,1144 L1295,1145.7 L1295.8,1147.9 L1296.6,1148.8 L1297.4,1150.8 L1298.2,1156.7 L1299,1160.5 L1299.8,1161.3 L1300.6,1161.9 L1301.4,1163.4 L1302.2,1164.6 L1303,1165.6 L1303.8,1169.1 L1304.6,1173 L1305.4,1177 L1306.2,1179 L1307,1179.6 L1307.8,1183.2 L1308.6,1186.4 L1309.4,1186.9 L1310.2,1186.4 L1311,1187 L1311.8,1189 L1312.6,1190.5 L1313.4,1190.8 L1314.2,1191.7 L1315,1193.1 L1315.8,1193.8 L1316.6,1194.3 L1317.4,1194.6 L1318.2,1194.7 L1319,1194.7 L1319.8,1195.3 L1320.6,1196.9 L1321.4,1197.8 L1322.2,1197.8 L1323,1198.1 L1323.8,1198.4 L1324.6,1198.7 L1325.4,1199 L1326.2,1199.2 L1327,1199.5 L1327.8,1199.7 L1328.6,1200 L1329.4,1200.2 L1330.2,1200.4 L1331,1200.7 L1331.8,1200.9 L1332.6,1201 L1333.4,1201.2 L1334.2,1201.4 L1335,1201.5 L1335.8,1201.6 L1336.6,1201.7 L1337.4,1201.8 L1338.2,1201.8 L1339,1201.8 L1339.8,1201.8 L1340.6,1201.8 L1341.4,1201.8 L1342.2,1201.8 L1343,1201.8 L1343.8,1201.8 L1344.6,1201.8 L1345.4,1201.8 L1346.2,1201.8 L1347,1201.8 L1347.8,1201.8 L1348.6,1201.8 L1349.4,1201.8 L1350.2,1201.8 L1351,1201.8 L1351.8,1201.8 L1352.6,1201.8 L1353.4,1201.8 L1354.2,1201.8 L1355,1201.8 L1355.8,1201.8 L1356.6,1201.8 L1357.4,1201.8 L1358.2,1201.8 L1359,1201.8 L1359.8,1201.8 L1360.6,1201.8 L1361.4,1201.8 L1362.2,1201.8 L1363,1201.8 L1363.8,1201.8 L1364.6,1201.8 L1365.4,1201.8 L1366.2,1201.8 L1367,1201.8 L1367.8,1201.8 L1368.6,1201.8 L1369.4,1201.8 L1370.2,1201.8 L1371,1201.8 L1371.8,1201.8 L1372.6,1201.8 L1373.4,1201.8 L1374.2,1201.8 L1375,1201.8 L1375.8,1201.8 L1376.6,1201.8 L1377.4,1201.8 L1378.2,1201.8 L1379,1201.8 L1379.8,1201.8 L1380.6,1201.8 L1381.4,1201.8 L1382.2,1201.8 L1383,1201.8 L1383.8,1201.8 L1384.6,1201.8 L1385.4,1201.8 L1386.2,1201.8 L1387,1201.8 L1387.8,1201.8 L1388.6,1201.8 L1389.4,1201.8 L1390.2,1201.8 L1391,1201.8 L1391.8,1201.8 L1392.6,1201.8 L1393.4,1201.8 L1394.2,1201.8 L1395,1201.8 L1395.8,1201.8 L1396.6,1201.8 L1397.4,1201.8 L1398.2,1201.8 L1399,1201.8 L1399.8,1201.8 L1400.6,1201.8 L1401.4,1201.8 L1402.2,1201.8 L1403,1201.8 L1403.8,1201.8 L1404.6,1201.8 L1405.4,1201.8 L1406.2,1201.8 L1407,1201.8 L1407.8,1201.8 L1408.6,1201.8 L1409.4,1201.8 L1410.2,1201.8 L1411,1201.8 L1411.8,1201.8 L1412.6,1201.8 L1413.4,1201.8 L1414.2,1201.8 L1415,1201.8 L1415.8,1201.8 L1416.6,1201.8 L1417.4,1201.8 L1418.2,1201.8 L1419,1201.8 L1419.8,1201.8 L1420.6,1201.8 L1421.4,1201.8 L1422.2,1201.8 L1423,1201.8 L1423.8,1201.8" fill="none" stroke="#6cbd50" stroke-width="1.3"/>
<path d="M1215.8,1234.5 L1216.6,1234.5 L1217.4,1234.5 L1218.2,1234.5 L1219,1234.5 L1219.8,1234.5 L1220.6,1234.5 L1221.4,1234.5 L1222.2,1234.5 L1223,1234.5 L1223.8,1234.5 L1224.6,1234.5 L1225.4,1234.5 L1226.2,1234.5 L1227,1234.5 L1227.8,1234.5 L1228.6,1234.5 L1229.4,1234.5 L1230.2,1234.5 L1231,1234.5 L1231.8,1234.5 L1232.6,1234.5 L1233.4,1234.5 L1234.2,1234.5 L1235,1234.5 L1235.8,1234.5 L1236.6,1234.5 L1237.4,1234.5 L1238.2,1234.1 L1239,1233.3 L1239.8,1232.2 L1240.6,1230.8 L1241.4,1229 L1242.2,1227.1 L1243,1224.7 L1243.8,1222.7 L1244.6,1221.7 L1245.4,1220 L1246.2,1217.4 L1247,1216.2 L1247.8,1214.4 L1248.6,1209.1 L1249.4,1205.6 L1250.2,1206 L1251,1203.1 L1251.8,1198.3 L1252.6,1196.4 L1253.4,1193.6 L1254.2,1190.4 L1255,1187.8 L1255.8,1185.4 L1256.6,1185 L1257.4,1183.8 L1258.2,1179.7 L1259,1175.4 L1259.8,1171.3 L1260.6,1166.8 L1261.4,1163.4 L1262.2,1162.7 L1263,1161.7 L1263.8,1160.5 L1264.6,1160.5 L1265.4,1159 L1266.2,1157.2 L1267,1154.3 L1267.8,1149.9 L1268.6,1149.4 L1269.4,1149.5 L1270.2,1144.3 L1271,1136.8 L1271.8,1134 L1272.6,1134.4 L1273.4,1135.7 L1274.2,1138.3 L1275,1136.5 L1275.8,1133.4 L1276.6,1135.2 L1277.4,1137 L1278.2,1134.9 L1279,1131 L1279.8,1131.9 L1280.6,1135.7 L1281.4,1137.8 L1282.2,1141.3 L1283,1143.1 L1283.8,1144.1 L1284.6,1144.5 L1285.4,1143.4 L1286.2,1146 L1287,1149.6 L1287.8,1152.4 L1288.6,1156.2 L1289.4,1157.2 L1290.2,1157.7 L1291,1159.9 L1291.8,1163.5 L1292.6,1170.7 L1293.4,1175.8 L1294.2,1177.3 L1295,1179.7 L1295.8,1181.6 L1296.6,1182.6 L1297.4,1186.6 L1298.2,1191.9 L1299,1194.3 L1299.8,1196.3 L1300.6,1199.3 L1301.4,1201.7 L1302.2,1204.3 L1303,1206 L1303.8,1208.2 L1304.6,1211.3 L1305.4,1212.9 L1306.2,1213.7 L1307,1214.5 L1307.8,1215.6 L1308.6,1218.2 L1309.4,1220.6 L1310.2,1221.6 L1311,1222.4 L1311.8,1222.6 L1312.6,1222.5 L1313.4,1223.1 L1314.2,1224.6 L1315,1227 L1315.8,1228.7 L1316.6,1228.9 L1317.4,1228.9 L1318.2,1229.7 L1319,1230.2 L1319.8,1229.9 L1320.6,1229.7 L1321.4,1230.4 L1322.2,1230.7 L1323,1231 L1323.8,1231.2 L1324.6,1231.5 L1325.4,1231.7 L1326.2,1231.9 L1327,1232.1 L1327.8,1232.2 L1328.6,1232.4 L1329.4,1232.5 L1330.2,1232.7 L1331,1232.9 L1331.8,1233 L1332.6,1233.2 L1333.4,1233.3 L1334.2,1233.5 L1335,1233.6 L1335.8,1233.8 L1336.6,1233.9 L1337.4,1234 L1338.2,1234.1 L1339,1234.2 L1339.8,1234.3 L1340.6,1234.4 L1341.4,1234.4 L1342.2,1234.5 L1343,1234.5 L1343.8,1234.5 L1344.6,1234.5 L1345.4,1234.5 L1346.2,1234.5 L1347,1234.5 L1347.8,1234.5 L1348.6,1234.5 L1349.4,1234.5 L1350.2,1234.5 L1351,1234.5 L1351.8,1234.5 L1352.6,1234.5 L1353.4,1234.5 L1354.2,1234.5 L1355,1234.5 L1355.8,1234.5 L1356.6,1234.5 L1357.4,1234.5 L1358.2,1234.5 L1359,1234.5 L1359.8,1234.5 L1360.6,1234.5 L1361.4,1234.5 L1362.2,1234.5 L1363,1234.5 L1363.8,1234.5 L1364.6,1234.5 L1365.4,1234.5 L1366.2,1234.5 L1367,1234.5 L1367.8,1234.5 L1368.6,1234.5 L1369.4,1234.5 L1370.2,1234.5 L1371,1234.5 L1371.8,1234.5 L1372.6,1234.5 L1373.4,1234.5 L1374.2,1234.5 L1375,1234.5 L1375.8,1234.5 L1376.6,1234.5 L1377.4,1234.5 L1378.2,1234.5 L1379,1234.5 L1379.8,1234.5 L1380.6,1234.5 L1381.4,1234.5 L1382.2,1234.5 L1383,1234.5 L1383.8,1234.5 L1384.6,1234.5 L1385.4,1234.5 L1386.2,1234.5 L1387,1234.5 L1387.8,1234.5 L1388.6,1234.5 L1389.4,1234.5 L1390.2,1234.5 L1391,1234.5 L1391.8,1234.5 L1392.6,1234.5 L1393.4,1234.5 L1394.2,1234.5 L1395,1234.5 L1395.8,1234.5 L1396.6,1234.5 L1397.4,1234.5 L1398.2,1234.5 L1399,1234.5 L1399.8,1234.5 L1400.6,1234.5 L1401.4,1234.5 L1402.2,1234.5 L1403,1234.5 L1403.8,1234.5 L1404.6,1234.5 L1405.4,1234.5 L1406.2,1234.5 L1407,1234.5 L1407.8,1234.5 L1408.6,1234.5 L1409.4,1234.5 L1410.2,1234.5 L1411,1234.5 L1411.8,1234.5 L1412.6,1234.5 L1413.4,1234.5 L1414.2,1234.5 L1415,1234.5 L1415.8,1234.5 L1416.6,1234.5 L1417.4,1234.5 L1418.2,1234.5 L1419,1234.5 L1419.8,1234.5 L1420.6,1234.5 L1421.4,1234.5 L1422.2,1234.5 L1423,1234.5 L1423.8,1234.5 L1423.8,1235 L1215.8,1235 Z" fill="#f4b0b0" stroke="none"/>
<path d="M1215.8,1234.5 L1216.6,1234.5 L1217.4,1234.5 L1218.2,1234.5 L1219,1234.5 L1219.8,1234.5 L1220.6,1234.5 L1221.4,1234.5 L1222.2,1234.5 L1223,1234.5 L1223.8,1234.5 L1224.6,1234.5 L1225.4,1234.5 L1226.2,1234.5 L1227,1234.5 L1227.8,1234.5 L1228.6,1234.5 L1229.4,1234.5 L1230.2,1234.5 L1231,1234.5 L1231.8,1234.5 L1232.6,1234.5 L1233.4,1234.5 L1234.2,1234.5 L1235,1234.5 L1235.8,1234.5 L1236.6,1234.5 L1237.4,1234.5 L1238.2,1234.1 L1239,1233.3 L1239.8,1232.2 L1240.6,1230.8 L1241.4,1229 L1242.2,1227.1 L1243,1224.7 L1243.8,1222.7 L1244.6,1221.7 L1245.4,1220 L1246.2,1217.4 L1247,1216.2 L1247.8,1214.4 L1248.6,1209.1 L1249.4,1205.6 L1250.2,1206 L1251,1203.1 L1251.8,1198.3 L1252.6,1196.4 L1253.4,1193.6 L1254.2,1190.4 L1255,1187.8 L1255.8,1185.4 L1256.6,1185 L1257.4,1183.8 L1258.2,1179.7 L1259,1175.4 L1259.8,1171.3 L1260.6,1166.8 L1261.4,1163.4 L1262.2,1162.7 L1263,1161.7 L1263.8,1160.5 L1264.6,1160.5 L1265.4,1159 L1266.2,1157.2 L1267,1154.3 L1267.8,1149.9 L1268.6,1149.4 L1269.4,1149.5 L1270.2,1144.3 L1271,1136.8 L1271.8,1134 L1272.6,1134.4 L1273.4,1135.7 L1274.2,1138.3 L1275,1136.5 L1275.8,1133.4 L1276.6,1135.2 L1277.4,1137 L1278.2,1134.9 L1279,1131 L1279.8,1131.9 L1280.6,1135.7 L1281.4,1137.8 L1282.2,1141.3 L1283,1143.1 L1283.8,1144.1 L1284.6,1144.5 L1285.4,1143.4 L1286.2,1146 L1287,1149.6 L1287.8,1152.4 L1288.6,1156.2 L1289.4,1157.2 L1290.2,1157.7 L1291,1159.9 L1291.8,1163.5 L1292.6,1170.7 L1293.4,1175.8 L1294.2,1177.3 L1295,1179.7 L1295.8,1181.6 L1296.6,1182.6 L1297.4,1186.6 L1298.2,1191.9 L1299,1194.3 L1299.8,1196.3 L1300.6,1199.3 L1301.4,1201.7 L1302.2,1204.3 L1303,1206 L1303.8,1208.2 L1304.6,1211.3 L1305.4,1212.9 L1306.2,1213.7 L1307,1214.5 L1307.8,1215.6 L1308.6,1218.2 L1309.4,1220.6 L1310.2,1221.6 L1311,1222.4 L1311.8,1222.6 L1312.6,1222.5 L1313.4,1223.1 L1314.2,1224.6 L1315,1227 L1315.8,1228.7 L1316.6,1228.9 L1317.4,1228.9 L1318.2,1229.7 L1319,1230.2 L1319.8,1229.9 L1320.6,1229.7 L1321.4,1230.4 L1322.2,1230.7 L1323,1231 L1323.8,1231.2 L1324.6,1231.5 L1325.4,1231.7 L1326.2,1231.9 L1327,1232.1 L1327.8,1232.2 L1328.6,1232.4 L1329.4,1232.5 L1330.2,1232.7 L1331,1232.9 L1331.8,1233 L1332.6,1233.2 L1333.4,1233.3 L1334.2,1233.5 L1335,1233.6 L1335.8,1233.8 L1336.6,1233.9 L1337.4,1234 L1338.2,1234.1 L1339,1234.2 L1339.8,1234.3 L1340.6,1234.4 L1341.4,1234.4 L1342.2,1234.5 L1343,1234.5 L1343.8,1234.5 L1344.6,1234.5 L1345.4,1234.5 L1346.2,1234.5 L1347,1234.5 L1347.8,1234.5 L1348.6,1234.5 L1349.4,1234.5 L1350.2,1234.5 L1351,1234.5 L1351.8,1234.5 L1352.6,1234.5 L1353.4,1234.5 L1354.2,1234.5 L1355,1234.5 L1355.8,1234.5 L1356.6,1234.5 L1357.4,1234.5 L1358.2,1234.5 L1359,1234.5 L1359.8,1234.5 L1360.6,1234.5 L1361.4,1234.5 L1362.2,1234.5 L1363,1234.5 L1363.8,1234.5 L1364.6,1234.5 L1365.4,1234.5 L1366.2,1234.5 L1367,1234.5 L1367.8,1234.5 L1368.6,1234.5 L1369.4,1234.5 L1370.2,1234.5 L1371,1234.5 L1371.8,1234.5 L1372.6,1234.5 L1373.4,1234.5 L1374.2,1234.5 L1375,1234.5 L1375.8,1234.5 L1376.6,1234.5 L1377.4,1234.5 L1378.2,1234.5 L1379,1234.5 L1379.8,1234.5 L1380.6,1234.5 L1381.4,1234.5 L1382.2,1234.5 L1383,1234.5 L1383.8,1234.5 L1384.6,1234.5 L1385.4,1234.5 L1386.2,1234.5 L1387,1234.5 L1387.8,1234.5 L1388.6,1234.5 L1389.4,1234.5 L1390.2,1234.5 L1391,1234.5 L1391.8,1234.5 L1392.6,1234.5 L1393.4,1234.5 L1394.2,1234.5 L1395,1234.5 L1395.8,1234.5 L1396.6,1234.5 L1397.4,1234.5 L1398.2,1234.5 L1399,1234.5 L1399.8,1234.5 L1400.6,1234.5 L1401.4,1234.5 L1402.2,1234.5 L1403,1234.5 L1403.8,1234.5 L1404.6,1234.5 L1405.4,1234.5 L1406.2,1234.5 L1407,1234.5 L1407.8,1234.5 L1408.6,1234.5 L1409.4,1234.5 L1410.2,1234.5 L1411,1234.5 L1411.8,1234.5 L1412.6,1234.5 L1413.4,1234.5 L1414.2,1234.5 L1415,1234.5 L1415.8,1234.5 L1416.6,1234.5 L1417.4,1234.5 L1418.2,1234.5 L1419,1234.5 L1419.8,1234.5 L1420.6,1234.5 L1421.4,1234.5 L1422.2,1234.5 L1423,1234.5 L1423.8,1234.5" fill="none" stroke="#e2452e" stroke-width="1.3"/>
<path d="M1215.8,1267 L1216.6,1267 L1217.4,1267 L1218.2,1267 L1219,1267 L1219.8,1267 L1220.6,1267 L1221.4,1267 L1222.2,1267 L1223,1267 L1223.8,1267 L1224.6,1267 L1225.4,1267 L1226.2,1267 L1227,1267 L1227.8,1267 L1228.6,1267 L1229.4,1267 L1230.2,1267 L1231,1267 L1231.8,1267 L1232.6,1267 L1233.4,1267 L1234.2,1267 L1235,1267 L1235.8,1267 L1236.6,1266.6 L1237.4,1265.5 L1238.2,1264 L1239,1262.8 L1239.8,1260.8 L1240.6,1258.2 L1241.4,1255.5 L1242.2,1253.1 L1243,1252.1 L1243.8,1252.5 L1244.6,1251.1 L1245.4,1248.1 L1246.2,1245.4 L1247,1244.2 L1247.8,1244.3 L1248.6,1241.2 L1249.4,1236.9 L1250.2,1236.1 L1251,1236.6 L1251.8,1233.9 L1252.6,1228.1 L1253.4,1223.8 L1254.2,1221.7 L1255,1217.3 L1255.8,1212.4 L1256.6,1209.2 L1257.4,1208 L1258.2,1207.7 L1259,1205.1 L1259.8,1201.9 L1260.6,1199.3 L1261.4,1194.3 L1262.2,1191.6 L1263,1193.3 L1263.8,1194 L1264.6,1192.1 L1265.4,1189.9 L1266.2,1186 L1267,1178.4 L1267.8,1174.4 L1268.6,1177.4 L1269.4,1176.1 L1270.2,1170.7 L1271,1170.6 L1271.8,1172.4 L1272.6,1171.1 L1273.4,1168 L1274.2,1167.3 L1275,1166.7 L1275.8,1164.4 L1276.6,1163.5 L1277.4,1166 L1278.2,1167.9 L1279,1167.1 L1279.8,1169.1 L1280.6,1172.4 L1281.4,1173.1 L1282.2,1172.8 L1283,1171.8 L1283.8,1171.6 L1284.6,1173.9 L1285.4,1175.1 L1286.2,1173.7 L1287,1173.5 L1287.8,1177.3 L1288.6,1183.4 L1289.4,1187.4 L1290.2,1188.7 L1291,1190.6 L1291.8,1193.5 L1292.6,1196.8 L1293.4,1200.2 L1294.2,1202 L1295,1204.2 L1295.8,1207.6 L1296.6,1210.5 L1297.4,1212 L1298.2,1212.6 L1299,1214.2 L1299.8,1217.4 L1300.6,1221.5 L1301.4,1225.5 L1302.2,1228.2 L1303,1230.1 L1303.8,1232.4 L1304.6,1235.8 L1305.4,1239 L1306.2,1240.3 L1307,1240.9 L1307.8,1243.1 L1308.6,1245.2 L1309.4,1246.7 L1310.2,1248.2 L1311,1249.4 L1311.8,1250.5 L1312.6,1252.9 L1313.4,1255.3 L1314.2,1256.6 L1315,1257.9 L1315.8,1258.3 L1316.6,1258.8 L1317.4,1260.1 L1318.2,1260.6 L1319,1260.9 L1319.8,1261.5 L1320.6,1262.2 L1321.4,1263.1 L1322.2,1263.7 L1323,1264.2 L1323.8,1264.6 L1324.6,1264.9 L1325.4,1265.2 L1326.2,1265.5 L1327,1265.7 L1327.8,1266 L1328.6,1266.2 L1329.4,1266.4 L1330.2,1266.6 L1331,1266.7 L1331.8,1266.9 L1332.6,1267 L1333.4,1267 L1334.2,1267 L1335,1267 L1335.8,1267 L1336.6,1267 L1337.4,1267 L1338.2,1267 L1339,1267 L1339.8,1267 L1340.6,1267 L1341.4,1267 L1342.2,1267 L1343,1267 L1343.8,1267 L1344.6,1267 L1345.4,1267 L1346.2,1267 L1347,1267 L1347.8,1267 L1348.6,1267 L1349.4,1267 L1350.2,1267 L1351,1267 L1351.8,1267 L1352.6,1267 L1353.4,1267 L1354.2,1267 L1355,1267 L1355.8,1267 L1356.6,1267 L1357.4,1267 L1358.2,1267 L1359,1267 L1359.8,1267 L1360.6,1267 L1361.4,1267 L1362.2,1267 L1363,1267 L1363.8,1267 L1364.6,1267 L1365.4,1267 L1366.2,1267 L1367,1267 L1367.8,1267 L1368.6,1267 L1369.4,1267 L1370.2,1267 L1371,1267 L1371.8,1267 L1372.6,1267 L1373.4,1267 L1374.2,1267 L1375,1267 L1375.8,1267 L1376.6,1267 L1377.4,1267 L1378.2,1267 L1379,1267 L1379.8,1267 L1380.6,1267 L1381.4,1267 L1382.2,1267 L1383,1267 L1383.8,1267 L1384.6,1267 L1385.4,1267 L1386.2,1267 L1387,1267 L1387.8,1267 L1388.6,1267 L1389.4,1267 L1390.2,1267 L1391,1267 L1391.8,1267 L1392.6,1267 L1393.4,1267 L1394.2,1267 L1395,1267 L1395.8,1267 L1396.6,1267 L1397.4,1267 L1398.2,1267 L1399,1267 L1399.8,1267 L1400.6,1267 L1401.4,1267 L1402.2,1267 L1403,1267 L1403.8,1267 L1404.6,1267 L1405.4,1267 L1406.2,1267 L1407,1267 L1407.8,1267 L1408.6,1267 L1409.4,1267 L1410.2,1267 L1411,1267 L1411.8,1267 L1412.6,1267 L1413.4,1267 L1414.2,1267 L1415,1267 L1415.8,1267 L1416.6,1267 L1417.4,1267 L1418.2,1267 L1419,1267 L1419.8,1267 L1420.6,1267 L1421.4,1267 L1422.2,1267 L1423,1267 L1423.8,1267 L1423.8,1267.5 L1215.8,1267.5 Z" fill="#b1b1da" stroke="none"/>
<path d="M1215.8,1267 L1216.6,1267 L1217.4,1267 L1218.2,1267 L1219,1267 L1219.8,1267 L1220.6,1267 L1221.4,1267 L1222.2,1267 L1223,1267 L1223.8,1267 L1224.6,1267 L1225.4,1267 L1226.2,1267 L1227,1267 L1227.8,1267 L1228.6,1267 L1229.4,1267 L1230.2,1267 L1231,1267 L1231.8,1267 L1232.6,1267 L1233.4,1267 L1234.2,1267 L1235,1267 L1235.8,1267 L1236.6,1266.6 L1237.4,1265.5 L1238.2,1264 L1239,1262.8 L1239.8,1260.8 L1240.6,1258.2 L1241.4,1255.5 L1242.2,1253.1 L1243,1252.1 L1243.8,1252.5 L1244.6,1251.1 L1245.4,1248.1 L1246.2,1245.4 L1247,1244.2 L1247.8,1244.3 L1248.6,1241.2 L1249.4,1236.9 L1250.2,1236.1 L1251,1236.6 L1251.8,1233.9 L1252.6,1228.1 L1253.4,1223.8 L1254.2,1221.7 L1255,1217.3 L1255.8,1212.4 L1256.6,1209.2 L1257.4,1208 L1258.2,1207.7 L1259,1205.1 L1259.8,1201.9 L1260.6,1199.3 L1261.4,1194.3 L1262.2,1191.6 L1263,1193.3 L1263.8,1194 L1264.6,1192.1 L1265.4,1189.9 L1266.2,1186 L1267,1178.4 L1267.8,1174.4 L1268.6,1177.4 L1269.4,1176.1 L1270.2,1170.7 L1271,1170.6 L1271.8,1172.4 L1272.6,1171.1 L1273.4,1168 L1274.2,1167.3 L1275,1166.7 L1275.8,1164.4 L1276.6,1163.5 L1277.4,1166 L1278.2,1167.9 L1279,1167.1 L1279.8,1169.1 L1280.6,1172.4 L1281.4,1173.1 L1282.2,1172.8 L1283,1171.8 L1283.8,1171.6 L1284.6,1173.9 L1285.4,1175.1 L1286.2,1173.7 L1287,1173.5 L1287.8,1177.3 L1288.6,1183.4 L1289.4,1187.4 L1290.2,1188.7 L1291,1190.6 L1291.8,1193.5 L1292.6,1196.8 L1293.4,1200.2 L1294.2,1202 L1295,1204.2 L1295.8,1207.6 L1296.6,1210.5 L1297.4,1212 L1298.2,1212.6 L1299,1214.2 L1299.8,1217.4 L1300.6,1221.5 L1301.4,1225.5 L1302.2,1228.2 L1303,1230.1 L1303.8,1232.4 L1304.6,1235.8 L1305.4,1239 L1306.2,1240.3 L1307,1240.9 L1307.8,1243.1 L1308.6,1245.2 L1309.4,1246.7 L1310.2,1248.2 L1311,1249.4 L1311.8,1250.5 L1312.6,1252.9 L1313.4,1255.3 L1314.2,1256.6 L1315,1257.9 L1315.8,1258.3 L1316.6,1258.8 L1317.4,1260.1 L1318.2,1260.6 L1319,1260.9 L1319.8,1261.5 L1320.6,1262.2 L1321.4,1263.1 L1322.2,1263.7 L1323,1264.2 L1323.8,1264.6 L1324.6,1264.9 L1325.4,1265.2 L1326.2,1265.5 L1327,1265.7 L1327.8,1266 L1328.6,1266.2 L1329.4,1266.4 L1330.2,1266.6 L1331,1266.7 L1331.8,1266.9 L1332.6,1267 L1333.4,1267 L1334.2,1267 L1335,1267 L1335.8,1267 L1336.6,1267 L1337.4,1267 L1338.2,1267 L1339,1267 L1339.8,1267 L1340.6,1267 L1341.4,1267 L1342.2,1267 L1343,1267 L1343.8,1267 L1344.6,1267 L1345.4,1267 L1346.2,1267 L1347,1267 L1347.8,1267 L1348.6,1267 L1349.4,1267 L1350.2,1267 L1351,1267 L1351.8,1267 L1352.6,1267 L1353.4,1267 L1354.2,1267 L1355,1267 L1355.8,1267 L1356.6,1267 L1357.4,1267 L1358.2,1267 L1359,1267 L1359.8,1267 L1360.6,1267 L1361.4,1267 L1362.2,1267 L1363,1267 L1363.8,1267 L1364.6,1267 L1365.4,1267 L1366.2,1267 L1367,1267 L1367.8,1267 L1368.6,1267 L1369.4,1267 L1370.2,1267 L1371,1267 L1371.8,1267 L1372.6,1267 L1373.4,1267 L1374.2,1267 L1375,1267 L1375.8,1267 L1376.6,1267 L1377.4,1267 L1378.2,1267 L1379,1267 L1379.8,1267 L1380.6,1267 L1381.4,1267 L1382.2,1267 L1383,1267 L1383.8,1267 L1384.6,1267 L1385.4,1267 L1386.2,1267 L1387,1267 L1387.8,1267 L1388.6,1267 L1389.4,1267 L1390.2,1267 L1391,1267 L1391.8,1267 L1392.6,1267 L1393.4,1267 L1394.2,1267 L1395,1267 L1395.8,1267 L1396.6,1267 L1397.4,1267 L1398.2,1267 L1399,1267 L1399.8,1267 L1400.6,1267 L1401.4,1267 L1402.2,1267 L1403,1267 L1403.8,1267 L1404.6,1267 L1405.4,1267 L1406.2,1267 L1407,1267 L1407.8,1267 L1408.6,1267 L1409.4,1267 L1410.2,1267 L1411,1267 L1411.8,1267 L1412.6,1267 L1413.4,1267 L1414.2,1267 L1415,1267 L1415.8,1267 L1416.6,1267 L1417.4,1267 L1418.2,1267 L1419,1267 L1419.8,1267 L1420.6,1267 L1421.4,1267 L1422.2,1267 L1423,1267 L1423.8,1267" fill="none" stroke="#3b4ea2" stroke-width="1.3"/>
<rect x="1213.8" y="1058" width="212.2" height="211.2" fill="none" stroke="#111" stroke-width="1.8"/>
<text transform="translate(1248.6,1043.6) scale(0.9493,1)" font-size="41.4">A*24:02</text>
<path d="M1215.8,1495.9 L1216.6,1495.9 L1217.4,1495.9 L1218.2,1495.9 L1219,1495.9 L1219.8,1495.9 L1220.6,1495.9 L1221.4,1495.9 L1222.2,1495.9 L1223,1495.8 L1223.8,1495.7 L1224.6,1495.4 L1225.4,1494.9 L1226.2,1493.9 L1227,1492.2 L1227.8,1489.4 L1228.6,1484.9 L1229.4,1478.2 L1230.2,1468.4 L1231,1455.1 L1231.8,1438 L1232.6,1417.2 L1233.4,1393.6 L1234.2,1368.5 L1235,1344.1 L1235.8,1322.8 L1236.6,1307 L1237.4,1298.5 L1238.2,1298.5 L1239,1307 L1239.8,1322.8 L1240.6,1344.1 L1241.4,1368.5 L1242.2,1393.6 L1243,1417.2 L1243.8,1438 L1244.6,1455.1 L1245.4,1468.4 L1246.2,1478.2 L1247,1484.9 L1247.8,1489.4 L1248.6,1492.2 L1249.4,1493.9 L1250.2,1494.9 L1251,1495.4 L1251.8,1495.7 L1252.6,1495.8 L1253.4,1495.9 L1254.2,1495.9 L1255,1495.9 L1255.8,1495.9 L1256.6,1495.9 L1257.4,1495.9 L1258.2,1495.9 L1259,1495.9 L1259.8,1495.9 L1260.6,1495.9 L1261.4,1495.9 L1262.2,1495.9 L1263,1495.9 L1263.8,1495.9 L1264.6,1495.9 L1265.4,1495.9 L1266.2,1495.9 L1267,1495.9 L1267.8,1495.9 L1268.6,1495.9 L1269.4,1495.9 L1270.2,1495.9 L1271,1495.9 L1271.8,1495.9 L1272.6,1495.9 L1273.4,1495.9 L1274.2,1495.9 L1275,1495.9 L1275.8,1495.9 L1276.6,1495.9 L1277.4,1495.9 L1278.2,1495.9 L1279,1495.9 L1279.8,1495.9 L1280.6,1495.9 L1281.4,1495.9 L1282.2,1495.9 L1283,1495.9 L1283.8,1495.9 L1284.6,1495.9 L1285.4,1495.9 L1286.2,1495.9 L1287,1495.9 L1287.8,1495.9 L1288.6,1495.9 L1289.4,1495.9 L1290.2,1495.9 L1291,1495.9 L1291.8,1495.9 L1292.6,1495.9 L1293.4,1495.9 L1294.2,1495.9 L1295,1495.9 L1295.8,1495.9 L1296.6,1495.9 L1297.4,1495.9 L1298.2,1495.9 L1299,1495.9 L1299.8,1495.9 L1300.6,1495.9 L1301.4,1495.9 L1302.2,1495.9 L1303,1495.9 L1303.8,1495.9 L1304.6,1495.9 L1305.4,1495.9 L1306.2,1495.9 L1307,1495.9 L1307.8,1495.9 L1308.6,1495.9 L1309.4,1495.9 L1310.2,1495.9 L1311,1495.9 L1311.8,1495.9 L1312.6,1495.9 L1313.4,1495.9 L1314.2,1495.9 L1315,1495.9 L1315.8,1495.9 L1316.6,1495.9 L1317.4,1495.9 L1318.2,1495.9 L1319,1495.9 L1319.8,1495.9 L1320.6,1495.9 L1321.4,1495.9 L1322.2,1495.9 L1323,1495.9 L1323.8,1495.9 L1324.6,1495.9 L1325.4,1495.9 L1326.2,1495.9 L1327,1495.9 L1327.8,1495.9 L1328.6,1495.9 L1329.4,1495.9 L1330.2,1495.9 L1331,1495.9 L1331.8,1495.9 L1332.6,1495.9 L1333.4,1495.9 L1334.2,1495.9 L1335,1495.9 L1335.8,1495.9 L1336.6,1495.9 L1337.4,1495.9 L1338.2,1495.9 L1339,1495.9 L1339.8,1495.9 L1340.6,1495.9 L1341.4,1495.9 L1342.2,1495.9 L1343,1495.9 L1343.8,1495.9 L1344.6,1495.9 L1345.4,1495.9 L1346.2,1495.9 L1347,1495.9 L1347.8,1495.9 L1348.6,1495.9 L1349.4,1495.9 L1350.2,1495.9 L1351,1495.9 L1351.8,1495.9 L1352.6,1495.9 L1353.4,1495.9 L1354.2,1495.9 L1355,1495.9 L1355.8,1495.9 L1356.6,1495.9 L1357.4,1495.9 L1358.2,1495.9 L1359,1495.9 L1359.8,1495.9 L1360.6,1495.9 L1361.4,1495.9 L1362.2,1495.9 L1363,1495.9 L1363.8,1495.9 L1364.6,1495.9 L1365.4,1495.9 L1366.2,1495.9 L1367,1495.9 L1367.8,1495.9 L1368.6,1495.9 L1369.4,1495.9 L1370.2,1495.9 L1371,1495.9 L1371.8,1495.9 L1372.6,1495.9 L1373.4,1495.9 L1374.2,1495.9 L1375,1495.9 L1375.8,1495.9 L1376.6,1495.9 L1377.4,1495.9 L1378.2,1495.9 L1379,1495.9 L1379.8,1495.9 L1380.6,1495.9 L1381.4,1495.9 L1382.2,1495.9 L1383,1495.9 L1383.8,1495.9 L1384.6,1495.9 L1385.4,1495.9 L1386.2,1495.9 L1387,1495.9 L1387.8,1495.9 L1388.6,1495.9 L1389.4,1495.9 L1390.2,1495.9 L1391,1495.9 L1391.8,1495.9 L1392.6,1495.9 L1393.4,1495.9 L1394.2,1495.9 L1395,1495.9 L1395.8,1495.9 L1396.6,1495.9 L1397.4,1495.9 L1398.2,1495.9 L1399,1495.9 L1399.8,1495.9 L1400.6,1495.9 L1401.4,1495.9 L1402.2,1495.9 L1403,1495.9 L1403.8,1495.9 L1404.6,1495.9 L1405.4,1495.9 L1406.2,1495.9 L1407,1495.9 L1407.8,1495.9 L1408.6,1495.9 L1409.4,1495.9 L1410.2,1495.9 L1411,1495.9 L1411.8,1495.9 L1412.6,1495.9 L1413.4,1495.9 L1414.2,1495.9 L1415,1495.9 L1415.8,1495.9 L1416.6,1495.9 L1417.4,1495.9 L1418.2,1495.9 L1419,1495.9 L1419.8,1495.9 L1420.6,1495.9 L1421.4,1495.9 L1422.2,1495.9 L1423,1495.9 L1423.8,1495.9" fill="none" stroke="#777" stroke-width="1.6" stroke-dasharray="4,3"/>
<path d="M1215.8,1495.9 L1216.6,1495.9 L1217.4,1495.9 L1218.2,1495.9 L1219,1495.9 L1219.8,1495.9 L1220.6,1495.9 L1221.4,1495.8 L1222.2,1495.7 L1223,1495.6 L1223.8,1495.4 L1224.6,1495.1 L1225.4,1494.6 L1226.2,1493.8 L1227,1492.6 L1227.8,1490.6 L1228.6,1488.7 L1229.4,1484.9 L1230.2,1479.8 L1231,1473.6 L1231.8,1465.7 L1232.6,1454 L1233.4,1442.1 L1234.2,1428.8 L1235,1411.9 L1235.8,1395.9 L1236.6,1378.2 L1237.4,1357.3 L1238.2,1339.5 L1239,1329.2 L1239.8,1310.8 L1240.6,1300.6 L1241.4,1298.5 L1242.2,1303.7 L1243,1304.4 L1243.8,1315.3 L1244.6,1321.3 L1245.4,1335.5 L1246.2,1348.1 L1247,1362.5 L1247.8,1374.2 L1248.6,1386.7 L1249.4,1401.5 L1250.2,1412.2 L1251,1423.6 L1251.8,1431.6 L1252.6,1441.7 L1253.4,1450.6 L1254.2,1456.7 L1255,1463.8 L1255.8,1469.6 L1256.6,1474.4 L1257.4,1477.8 L1258.2,1481.6 L1259,1485 L1259.8,1487 L1260.6,1488.8 L1261.4,1490.7 L1262.2,1491.4 L1263,1492.5 L1263.8,1493.3 L1264.6,1493.9 L1265.4,1494.4 L1266.2,1494.8 L1267,1495.1 L1267.8,1495.3 L1268.6,1495.4 L1269.4,1495.4 L1270.2,1495.4 L1271,1495.5 L1271.8,1495.5 L1272.6,1495.5 L1273.4,1495.6 L1274.2,1495.6 L1275,1495.6 L1275.8,1495.6 L1276.6,1495.7 L1277.4,1495.7 L1278.2,1495.7 L1279,1495.7 L1279.8,1495.7 L1280.6,1495.7 L1281.4,1495.8 L1282.2,1495.8 L1283,1495.8 L1283.8,1495.8 L1284.6,1495.8 L1285.4,1495.8 L1286.2,1495.8 L1287,1495.8 L1287.8,1495.8 L1288.6,1495.8 L1289.4,1495.8 L1290.2,1495.8 L1291,1495.8 L1291.8,1495.8 L1292.6,1495.9 L1293.4,1495.9 L1294.2,1495.9 L1295,1495.9 L1295.8,1495.9 L1296.6,1495.9 L1297.4,1495.9 L1298.2,1495.9 L1299,1495.9 L1299.8,1495.9 L1300.6,1495.9 L1301.4,1495.9 L1302.2,1495.9 L1303,1495.9 L1303.8,1495.9 L1304.6,1495.9 L1305.4,1495.9 L1306.2,1495.9 L1307,1495.9 L1307.8,1495.9 L1308.6,1495.9 L1309.4,1495.9 L1310.2,1495.9 L1311,1495.9 L1311.8,1495.9 L1312.6,1495.9 L1313.4,1495.9 L1314.2,1495.9 L1315,1495.9 L1315.8,1495.9 L1316.6,1495.9 L1317.4,1495.9 L1318.2,1495.9 L1319,1495.9 L1319.8,1495.9 L1320.6,1495.9 L1321.4,1495.9 L1322.2,1495.9 L1323,1495.9 L1323.8,1495.9 L1324.6,1495.9 L1325.4,1495.9 L1326.2,1495.9 L1327,1495.9 L1327.8,1495.9 L1328.6,1495.9 L1329.4,1495.9 L1330.2,1495.9 L1331,1495.9 L1331.8,1495.9 L1332.6,1495.9 L1333.4,1495.9 L1334.2,1495.9 L1335,1495.9 L1335.8,1495.9 L1336.6,1495.9 L1337.4,1495.9 L1338.2,1495.9 L1339,1495.9 L1339.8,1495.9 L1340.6,1495.9 L1341.4,1495.9 L1342.2,1495.9 L1343,1495.9 L1343.8,1495.9 L1344.6,1495.9 L1345.4,1495.9 L1346.2,1495.9 L1347,1495.9 L1347.8,1495.9 L1348.6,1495.9 L1349.4,1495.9 L1350.2,1495.9 L1351,1495.9 L1351.8,1495.9 L1352.6,1495.9 L1353.4,1495.9 L1354.2,1495.9 L1355,1495.9 L1355.8,1495.9 L1356.6,1495.9 L1357.4,1495.9 L1358.2,1495.9 L1359,1495.9 L1359.8,1495.9 L1360.6,1495.9 L1361.4,1495.9 L1362.2,1495.9 L1363,1495.9 L1363.8,1495.9 L1364.6,1495.9 L1365.4,1495.9 L1366.2,1495.9 L1367,1495.9 L1367.8,1495.9 L1368.6,1495.9 L1369.4,1495.9 L1370.2,1495.9 L1371,1495.9 L1371.8,1495.9 L1372.6,1495.9 L1373.4,1495.9 L1374.2,1495.9 L1375,1495.9 L1375.8,1495.9 L1376.6,1495.9 L1377.4,1495.9 L1378.2,1495.9 L1379,1495.9 L1379.8,1495.9 L1380.6,1495.9 L1381.4,1495.9 L1382.2,1495.9 L1383,1495.9 L1383.8,1495.9 L1384.6,1495.9 L1385.4,1495.9 L1386.2,1495.9 L1387,1495.9 L1387.8,1495.9 L1388.6,1495.9 L1389.4,1495.9 L1390.2,1495.9 L1391,1495.9 L1391.8,1495.9 L1392.6,1495.9 L1393.4,1495.9 L1394.2,1495.9 L1395,1495.9 L1395.8,1495.9 L1396.6,1495.9 L1397.4,1495.9 L1398.2,1495.9 L1399,1495.9 L1399.8,1495.9 L1400.6,1495.9 L1401.4,1495.9 L1402.2,1495.9 L1403,1495.9 L1403.8,1495.9 L1404.6,1495.9 L1405.4,1495.9 L1406.2,1495.9 L1407,1495.9 L1407.8,1495.9 L1408.6,1495.9 L1409.4,1495.9 L1410.2,1495.9 L1411,1495.9 L1411.8,1495.9 L1412.6,1495.9 L1413.4,1495.9 L1414.2,1495.9 L1415,1495.9 L1415.8,1495.9 L1416.6,1495.9 L1417.4,1495.9 L1418.2,1495.9 L1419,1495.9 L1419.8,1495.9 L1420.6,1495.9 L1421.4,1495.9 L1422.2,1495.9 L1423,1495.9 L1423.8,1495.9" fill="none" stroke="#000" stroke-width="1.6"/>
<rect x="1213.8" y="1286.1" width="212.2" height="211" fill="none" stroke="#111" stroke-width="1.6"/>
<line x1="1215" y1="1269.2" x2="1215" y2="1275.2" stroke="#000" stroke-width="1.4"/>
<line x1="1235.3" y1="1269.2" x2="1235.3" y2="1275.2" stroke="#000" stroke-width="1.4"/>
<line x1="1258.6" y1="1269.2" x2="1258.6" y2="1275.2" stroke="#000" stroke-width="1.4"/>
<line x1="1309.6" y1="1269.2" x2="1309.6" y2="1275.2" stroke="#000" stroke-width="1.4"/>
<line x1="1358.3" y1="1269.2" x2="1358.3" y2="1275.2" stroke="#000" stroke-width="1.4"/>
<line x1="1405.6" y1="1269.2" x2="1405.6" y2="1275.2" stroke="#000" stroke-width="1.4"/>
<line x1="1220.3" y1="1269.2" x2="1220.3" y2="1272.2" stroke="#000" stroke-width="1.1"/>
<line x1="1225.8" y1="1269.2" x2="1225.8" y2="1272.2" stroke="#000" stroke-width="1.1"/>
<line x1="1229.8" y1="1269.2" x2="1229.8" y2="1272.2" stroke="#000" stroke-width="1.1"/>
<line x1="1239.8" y1="1269.2" x2="1239.8" y2="1272.2" stroke="#000" stroke-width="1.1"/>
<line x1="1244.8" y1="1269.2" x2="1244.8" y2="1272.2" stroke="#000" stroke-width="1.1"/>
<line x1="1249.8" y1="1269.2" x2="1249.8" y2="1272.2" stroke="#000" stroke-width="1.1"/>
<line x1="1254.8" y1="1269.2" x2="1254.8" y2="1272.2" stroke="#000" stroke-width="1.1"/>
<line x1="1275.8" y1="1269.2" x2="1275.8" y2="1272.2" stroke="#000" stroke-width="1.1"/>
<line x1="1281.8" y1="1269.2" x2="1281.8" y2="1272.2" stroke="#000" stroke-width="1.1"/>
<line x1="1285.8" y1="1269.2" x2="1285.8" y2="1272.2" stroke="#000" stroke-width="1.1"/>
<line x1="1291.8" y1="1269.2" x2="1291.8" y2="1272.2" stroke="#000" stroke-width="1.1"/>
<line x1="1295.8" y1="1269.2" x2="1295.8" y2="1272.2" stroke="#000" stroke-width="1.1"/>
<line x1="1298.8" y1="1269.2" x2="1298.8" y2="1272.2" stroke="#000" stroke-width="1.1"/>
<line x1="1301.8" y1="1269.2" x2="1301.8" y2="1272.2" stroke="#000" stroke-width="1.1"/>
<line x1="1303.8" y1="1269.2" x2="1303.8" y2="1272.2" stroke="#000" stroke-width="1.1"/>
<line x1="1306.8" y1="1269.2" x2="1306.8" y2="1272.2" stroke="#000" stroke-width="1.1"/>
<line x1="1324.8" y1="1269.2" x2="1324.8" y2="1272.2" stroke="#000" stroke-width="1.1"/>
<line x1="1333.8" y1="1269.2" x2="1333.8" y2="1272.2" stroke="#000" stroke-width="1.1"/>
<line x1="1339.8" y1="1269.2" x2="1339.8" y2="1272.2" stroke="#000" stroke-width="1.1"/>
<line x1="1344.8" y1="1269.2" x2="1344.8" y2="1272.2" stroke="#000" stroke-width="1.1"/>
<line x1="1348.8" y1="1269.2" x2="1348.8" y2="1272.2" stroke="#000" stroke-width="1.1"/>
<line x1="1351.8" y1="1269.2" x2="1351.8" y2="1272.2" stroke="#000" stroke-width="1.1"/>
<line x1="1353.8" y1="1269.2" x2="1353.8" y2="1272.2" stroke="#000" stroke-width="1.1"/>
<line x1="1355.8" y1="1269.2" x2="1355.8" y2="1272.2" stroke="#000" stroke-width="1.1"/>
<line x1="1373.8" y1="1269.2" x2="1373.8" y2="1272.2" stroke="#000" stroke-width="1.1"/>
<line x1="1380.8" y1="1269.2" x2="1380.8" y2="1272.2" stroke="#000" stroke-width="1.1"/>
<line x1="1385.8" y1="1269.2" x2="1385.8" y2="1272.2" stroke="#000" stroke-width="1.1"/>
<line x1="1390.8" y1="1269.2" x2="1390.8" y2="1272.2" stroke="#000" stroke-width="1.1"/>
<line x1="1393.8" y1="1269.2" x2="1393.8" y2="1272.2" stroke="#000" stroke-width="1.1"/>
<line x1="1396.8" y1="1269.2" x2="1396.8" y2="1272.2" stroke="#000" stroke-width="1.1"/>
<line x1="1399.8" y1="1269.2" x2="1399.8" y2="1272.2" stroke="#000" stroke-width="1.1"/>
<line x1="1401.8" y1="1269.2" x2="1401.8" y2="1272.2" stroke="#000" stroke-width="1.1"/>
<line x1="1403.8" y1="1269.2" x2="1403.8" y2="1272.2" stroke="#000" stroke-width="1.1"/>
<line x1="1419.8" y1="1269.2" x2="1419.8" y2="1272.2" stroke="#000" stroke-width="1.1"/>
<line x1="1422.8" y1="1269.2" x2="1422.8" y2="1272.2" stroke="#000" stroke-width="1.1"/>
<line x1="1215" y1="1497.1" x2="1215" y2="1503.1" stroke="#000" stroke-width="1.4"/>
<line x1="1235.3" y1="1497.1" x2="1235.3" y2="1503.1" stroke="#000" stroke-width="1.4"/>
<line x1="1258.6" y1="1497.1" x2="1258.6" y2="1503.1" stroke="#000" stroke-width="1.4"/>
<line x1="1309.6" y1="1497.1" x2="1309.6" y2="1503.1" stroke="#000" stroke-width="1.4"/>
<line x1="1358.3" y1="1497.1" x2="1358.3" y2="1503.1" stroke="#000" stroke-width="1.4"/>
<line x1="1405.6" y1="1497.1" x2="1405.6" y2="1503.1" stroke="#000" stroke-width="1.4"/>
<line x1="1220.3" y1="1497.1" x2="1220.3" y2="1500.1" stroke="#000" stroke-width="1.1"/>
<line x1="1225.8" y1="1497.1" x2="1225.8" y2="1500.1" stroke="#000" stroke-width="1.1"/>
<line x1="1229.8" y1="1497.1" x2="1229.8" y2="1500.1" stroke="#000" stroke-width="1.1"/>
<line x1="1239.8" y1="1497.1" x2="1239.8" y2="1500.1" stroke="#000" stroke-width="1.1"/>
<line x1="1244.8" y1="1497.1" x2="1244.8" y2="1500.1" stroke="#000" stroke-width="1.1"/>
<line x1="1249.8" y1="1497.1" x2="1249.8" y2="1500.1" stroke="#000" stroke-width="1.1"/>
<line x1="1254.8" y1="1497.1" x2="1254.8" y2="1500.1" stroke="#000" stroke-width="1.1"/>
<line x1="1275.8" y1="1497.1" x2="1275.8" y2="1500.1" stroke="#000" stroke-width="1.1"/>
<line x1="1281.8" y1="1497.1" x2="1281.8" y2="1500.1" stroke="#000" stroke-width="1.1"/>
<line x1="1285.8" y1="1497.1" x2="1285.8" y2="1500.1" stroke="#000" stroke-width="1.1"/>
<line x1="1291.8" y1="1497.1" x2="1291.8" y2="1500.1" stroke="#000" stroke-width="1.1"/>
<line x1="1295.8" y1="1497.1" x2="1295.8" y2="1500.1" stroke="#000" stroke-width="1.1"/>
<line x1="1298.8" y1="1497.1" x2="1298.8" y2="1500.1" stroke="#000" stroke-width="1.1"/>
<line x1="1301.8" y1="1497.1" x2="1301.8" y2="1500.1" stroke="#000" stroke-width="1.1"/>
<line x1="1303.8" y1="1497.1" x2="1303.8" y2="1500.1" stroke="#000" stroke-width="1.1"/>
<line x1="1306.8" y1="1497.1" x2="1306.8" y2="1500.1" stroke="#000" stroke-width="1.1"/>
<line x1="1324.8" y1="1497.1" x2="1324.8" y2="1500.1" stroke="#000" stroke-width="1.1"/>
<line x1="1333.8" y1="1497.1" x2="1333.8" y2="1500.1" stroke="#000" stroke-width="1.1"/>
<line x1="1339.8" y1="1497.1" x2="1339.8" y2="1500.1" stroke="#000" stroke-width="1.1"/>
<line x1="1344.8" y1="1497.1" x2="1344.8" y2="1500.1" stroke="#000" stroke-width="1.1"/>
<line x1="1348.8" y1="1497.1" x2="1348.8" y2="1500.1" stroke="#000" stroke-width="1.1"/>
<line x1="1351.8" y1="1497.1" x2="1351.8" y2="1500.1" stroke="#000" stroke-width="1.1"/>
<line x1="1353.8" y1="1497.1" x2="1353.8" y2="1500.1" stroke="#000" stroke-width="1.1"/>
<line x1="1355.8" y1="1497.1" x2="1355.8" y2="1500.1" stroke="#000" stroke-width="1.1"/>
<line x1="1373.8" y1="1497.1" x2="1373.8" y2="1500.1" stroke="#000" stroke-width="1.1"/>
<line x1="1380.8" y1="1497.1" x2="1380.8" y2="1500.1" stroke="#000" stroke-width="1.1"/>
<line x1="1385.8" y1="1497.1" x2="1385.8" y2="1500.1" stroke="#000" stroke-width="1.1"/>
<line x1="1390.8" y1="1497.1" x2="1390.8" y2="1500.1" stroke="#000" stroke-width="1.1"/>
<line x1="1393.8" y1="1497.1" x2="1393.8" y2="1500.1" stroke="#000" stroke-width="1.1"/>
<line x1="1396.8" y1="1497.1" x2="1396.8" y2="1500.1" stroke="#000" stroke-width="1.1"/>
<line x1="1399.8" y1="1497.1" x2="1399.8" y2="1500.1" stroke="#000" stroke-width="1.1"/>
<line x1="1401.8" y1="1497.1" x2="1401.8" y2="1500.1" stroke="#000" stroke-width="1.1"/>
<line x1="1403.8" y1="1497.1" x2="1403.8" y2="1500.1" stroke="#000" stroke-width="1.1"/>
<line x1="1419.8" y1="1497.1" x2="1419.8" y2="1500.1" stroke="#000" stroke-width="1.1"/>
<line x1="1422.8" y1="1497.1" x2="1422.8" y2="1500.1" stroke="#000" stroke-width="1.1"/>
<line x1="1209.3" y1="1296.1" x2="1213.8" y2="1296.1" stroke="#000" stroke-width="1.4"/>
<line x1="1211.8" y1="1304.1" x2="1213.8" y2="1304.1" stroke="#000" stroke-width="1"/>
<line x1="1211.8" y1="1312.1" x2="1213.8" y2="1312.1" stroke="#000" stroke-width="1"/>
<line x1="1211.8" y1="1320.1" x2="1213.8" y2="1320.1" stroke="#000" stroke-width="1"/>
<line x1="1211.8" y1="1328.1" x2="1213.8" y2="1328.1" stroke="#000" stroke-width="1"/>
<line x1="1209.3" y1="1336.3" x2="1213.8" y2="1336.3" stroke="#000" stroke-width="1.4"/>
<line x1="1211.8" y1="1344.3" x2="1213.8" y2="1344.3" stroke="#000" stroke-width="1"/>
<line x1="1211.8" y1="1352.3" x2="1213.8" y2="1352.3" stroke="#000" stroke-width="1"/>
<line x1="1211.8" y1="1360.3" x2="1213.8" y2="1360.3" stroke="#000" stroke-width="1"/>
<line x1="1211.8" y1="1368.3" x2="1213.8" y2="1368.3" stroke="#000" stroke-width="1"/>
<line x1="1209.3" y1="1376.5" x2="1213.8" y2="1376.5" stroke="#000" stroke-width="1.4"/>
<line x1="1211.8" y1="1384.5" x2="1213.8" y2="1384.5" stroke="#000" stroke-width="1"/>
<line x1="1211.8" y1="1392.5" x2="1213.8" y2="1392.5" stroke="#000" stroke-width="1"/>
<line x1="1211.8" y1="1400.5" x2="1213.8" y2="1400.5" stroke="#000" stroke-width="1"/>
<line x1="1211.8" y1="1408.5" x2="1213.8" y2="1408.5" stroke="#000" stroke-width="1"/>
<line x1="1209.3" y1="1416.7" x2="1213.8" y2="1416.7" stroke="#000" stroke-width="1.4"/>
<line x1="1211.8" y1="1424.7" x2="1213.8" y2="1424.7" stroke="#000" stroke-width="1"/>
<line x1="1211.8" y1="1432.7" x2="1213.8" y2="1432.7" stroke="#000" stroke-width="1"/>
<line x1="1211.8" y1="1440.7" x2="1213.8" y2="1440.7" stroke="#000" stroke-width="1"/>
<line x1="1211.8" y1="1448.7" x2="1213.8" y2="1448.7" stroke="#000" stroke-width="1"/>
<line x1="1209.3" y1="1456.9" x2="1213.8" y2="1456.9" stroke="#000" stroke-width="1.4"/>
<line x1="1211.8" y1="1464.9" x2="1213.8" y2="1464.9" stroke="#000" stroke-width="1"/>
<line x1="1211.8" y1="1472.9" x2="1213.8" y2="1472.9" stroke="#000" stroke-width="1"/>
<line x1="1211.8" y1="1480.9" x2="1213.8" y2="1480.9" stroke="#000" stroke-width="1"/>
<line x1="1211.8" y1="1488.9" x2="1213.8" y2="1488.9" stroke="#000" stroke-width="1"/>
<line x1="1209.3" y1="1497.1" x2="1213.8" y2="1497.1" stroke="#000" stroke-width="1.4"/>
<text transform="translate(1439.4,1164.4) scale(0.9750,1)" font-size="30.2">Control</text>
<text transform="translate(1438.9,1197.6) scale(0.9750,1)" font-size="30.2" fill="#119352">mAb L2</text>
<text transform="translate(1438.9,1228.9) scale(0.9750,1)" font-size="30.2" fill="#cf1f24">mAb L1</text>
<text transform="translate(1438.9,1261.6) scale(0.9750,1)" font-size="30.2" fill="#2b2a8c">mAb E1</text>
<text transform="translate(1438.6,1387.6) scale(0.9750,1)" font-size="30.2" fill="#6d6e71">Unstain</text>
<text transform="translate(1438.5,1425.3) scale(0.9750,1)" font-size="30.2">HLA-A2</text>
<text transform="translate(21.7,1643.8) scale(0.9900,1)" font-size="30">CF986 (A*02:01 A*02:01)</text>
<text transform="translate(6.8,1685.8) scale(0.9900,1)" font-size="30">WGP68 (A*02:01 A*01:01)</text>
<text transform="translate(15.1,1727.8) scale(0.9900,1)" font-size="30">CM357 (A*02:01 A*26:01)</text>
<text transform="translate(15.1,1769.9) scale(0.9900,1)" font-size="30">CM462 (A*02:01 A*33:03)</text>
<text transform="translate(23.4,1811.9) scale(0.9900,1)" font-size="30">WGP6 (A*02:01 A*02:03)</text>
<text transform="translate(21.7,1853.9) scale(0.9900,1)" font-size="30">CF960 (A*02:03 A*02:03)</text>
<text transform="translate(15.1,1895.9) scale(0.9900,1)" font-size="30">CM956 (A*02:03 A*02:07)</text>
<text transform="translate(6.8,1937.9) scale(0.9900,1)" font-size="30">WGP14 (A*02:03 A*02:07)</text>
<text transform="translate(17.3,1980) scale(0.9900,1)" font-size="30">CM371 (A*02:06 A*11:01)</text>
<text transform="translate(5.1,2022) scale(0.9900,1)" font-size="30">CF1007 (A*02:07 A*02:07)</text>
<text transform="translate(6.8,2064) scale(0.9900,1)" font-size="30">WGP47 (A*24:02 A*24:02)</text>
<text transform="translate(26.1,2106) scale(0.9900,1)" font-size="30">CF888 (A*11:01 A*11:01)</text>
<text transform="translate(26.1,2148) scale(0.9900,1)" font-size="30">CF863 (A*11:01 A*11:01)</text>
<line x1="389.5" y1="1614.6" x2="389.5" y2="2158" stroke="#000" stroke-width="3.2" stroke-dasharray="0.01,9.95" stroke-linecap="round"/>
<rect x="377.4" y="1625.1" width="54.8" height="19.6" fill="#000" rx="1.5"/>
<line x1="432.2" y1="1634.9" x2="444.3" y2="1634.9" stroke="#000" stroke-width="3"/>
<line x1="444.3" y1="1631.3" x2="444.3" y2="1638.5" stroke="#000" stroke-width="3.8" stroke-linecap="round"/>
<line x1="363.9" y1="1634.9" x2="377.4" y2="1634.9" stroke="#000" stroke-width="4"/>
<rect x="377.4" y="1667.1" width="49.1" height="19.6" fill="#000" rx="1.5"/>
<rect x="424.5" y="1669.9" width="4.5" height="14" fill="#000" rx="3"/>
<line x1="363.9" y1="1676.9" x2="377.4" y2="1676.9" stroke="#000" stroke-width="4"/>
<rect x="377.4" y="1709.1" width="57.3" height="19.6" fill="#000" rx="1.5"/>
<line x1="434.7" y1="1718.9" x2="443.6" y2="1718.9" stroke="#000" stroke-width="3"/>
<line x1="443.6" y1="1715.3" x2="443.6" y2="1722.5" stroke="#000" stroke-width="3.8" stroke-linecap="round"/>
<line x1="363.9" y1="1718.9" x2="377.4" y2="1718.9" stroke="#000" stroke-width="4"/>
<rect x="377.4" y="1751.2" width="95.1" height="19.6" fill="#000" rx="1.5"/>
<line x1="472.5" y1="1761" x2="480.5" y2="1761" stroke="#000" stroke-width="3"/>
<line x1="480.5" y1="1757.4" x2="480.5" y2="1764.6" stroke="#000" stroke-width="3.8" stroke-linecap="round"/>
<line x1="363.9" y1="1761" x2="377.4" y2="1761" stroke="#000" stroke-width="4"/>
<rect x="377.4" y="1793.2" width="244.7" height="19.6" fill="#000" rx="1.5"/>
<line x1="622.1" y1="1803" x2="672" y2="1803" stroke="#000" stroke-width="3"/>
<line x1="672" y1="1799.4" x2="672" y2="1806.6" stroke="#000" stroke-width="3.8" stroke-linecap="round"/>
<line x1="363.9" y1="1803" x2="377.4" y2="1803" stroke="#000" stroke-width="4"/>
<rect x="377.4" y="1835.2" width="56.1" height="19.6" fill="#000" rx="1.5"/>
<rect x="431.5" y="1838" width="5.1" height="14" fill="#000" rx="3"/>
<line x1="363.9" y1="1845" x2="377.4" y2="1845" stroke="#000" stroke-width="4"/>
<rect x="377.4" y="1877.2" width="48.6" height="19.6" fill="#000" rx="1.5"/>
<line x1="426" y1="1887" x2="435.6" y2="1887" stroke="#000" stroke-width="3"/>
<line x1="435.6" y1="1883.4" x2="435.6" y2="1890.6" stroke="#000" stroke-width="3.8" stroke-linecap="round"/>
<line x1="363.9" y1="1887" x2="377.4" y2="1887" stroke="#000" stroke-width="4"/>
<rect x="377.4" y="1919.2" width="42.1" height="19.6" fill="#000" rx="1.5"/>
<line x1="419.5" y1="1929" x2="426" y2="1929" stroke="#000" stroke-width="3"/>
<line x1="426" y1="1925.4" x2="426" y2="1932.6" stroke="#000" stroke-width="3.8" stroke-linecap="round"/>
<line x1="363.9" y1="1929" x2="377.4" y2="1929" stroke="#000" stroke-width="4"/>
<rect x="377.4" y="1961.3" width="38.9" height="19.6" fill="#000" rx="1.5"/>
<line x1="416.3" y1="1971.1" x2="425" y2="1971.1" stroke="#000" stroke-width="3"/>
<line x1="425" y1="1967.5" x2="425" y2="1974.7" stroke="#000" stroke-width="3.8" stroke-linecap="round"/>
<line x1="363.9" y1="1971.1" x2="377.4" y2="1971.1" stroke="#000" stroke-width="4"/>
<rect x="377.4" y="2003.3" width="82.3" height="19.6" fill="#000" rx="1.5"/>
<line x1="459.7" y1="2013.1" x2="488.2" y2="2013.1" stroke="#000" stroke-width="3"/>
<line x1="488.2" y1="2009.5" x2="488.2" y2="2016.7" stroke="#000" stroke-width="3.8" stroke-linecap="round"/>
<line x1="363.9" y1="2013.1" x2="377.4" y2="2013.1" stroke="#000" stroke-width="4"/>
<rect x="377.4" y="2045.3" width="12.6" height="19.6" fill="#000" rx="1.5"/>
<rect x="388" y="2048.1" width="4.2" height="14" fill="#000" rx="3"/>
<line x1="363.9" y1="2055.1" x2="377.4" y2="2055.1" stroke="#000" stroke-width="4"/>
<rect x="377.4" y="2087.3" width="24.6" height="19.6" fill="#000" rx="1.5"/>
<rect x="400" y="2090.1" width="4.3" height="14" fill="#000" rx="3"/>
<line x1="363.9" y1="2097.1" x2="377.4" y2="2097.1" stroke="#000" stroke-width="4"/>
<rect x="377.4" y="2129.3" width="14.6" height="19.6" fill="#000" rx="1.5"/>
<rect x="390" y="2132.1" width="4.6" height="14" fill="#000" rx="3"/>
<line x1="363.9" y1="2139.1" x2="377.4" y2="2139.1" stroke="#000" stroke-width="4"/>
<line x1="377.4" y1="1615" x2="377.4" y2="2162" stroke="#000" stroke-width="4"/>
<line x1="375.4" y1="2160" x2="741" y2="2160" stroke="#000" stroke-width="4"/>
<line x1="377.4" y1="2160" x2="377.4" y2="2172.5" stroke="#000" stroke-width="4"/>
<text transform="translate(377.9,2199.3) scale(0.9750,1)" font-size="30.2" text-anchor="middle">0</text>
<line x1="498.6" y1="2160" x2="498.6" y2="2172.5" stroke="#000" stroke-width="4"/>
<text transform="translate(499.1,2199.3) scale(0.9750,1)" font-size="30.2" text-anchor="middle">10</text>
<line x1="619.8" y1="2160" x2="619.8" y2="2172.5" stroke="#000" stroke-width="4"/>
<text transform="translate(620.3,2199.3) scale(0.9750,1)" font-size="30.2" text-anchor="middle">20</text>
<line x1="741" y1="2160" x2="741" y2="2172.5" stroke="#000" stroke-width="4"/>
<text transform="translate(741.5,2199.3) scale(0.9750,1)" font-size="30.2" text-anchor="middle">30</text>
<text transform="translate(516.6,2245.8) scale(0.9550,1)" font-size="41">nMFI</text>
<text transform="translate(528.7,1591.9) scale(0.9550,1)" font-size="41">E1</text>
<line x1="794.9" y1="1614.6" x2="794.9" y2="2158" stroke="#000" stroke-width="3.2" stroke-dasharray="0.01,9.95" stroke-linecap="round"/>
<rect x="782.8" y="1625.1" width="14.2" height="19.6" fill="#000" rx="1.5"/>
<rect x="795" y="1627.9" width="4.9" height="14" fill="#000" rx="3"/>
<line x1="769.3" y1="1634.9" x2="782.8" y2="1634.9" stroke="#000" stroke-width="4"/>
<rect x="782.8" y="1667.1" width="20.7" height="19.6" fill="#000" rx="1.5"/>
<rect x="801.5" y="1669.9" width="5.2" height="14" fill="#000" rx="3"/>
<line x1="769.3" y1="1676.9" x2="782.8" y2="1676.9" stroke="#000" stroke-width="4"/>
<rect x="782.8" y="1709.1" width="18.7" height="19.6" fill="#000" rx="1.5"/>
<rect x="799.5" y="1711.9" width="4.9" height="14" fill="#000" rx="3"/>
<line x1="769.3" y1="1718.9" x2="782.8" y2="1718.9" stroke="#000" stroke-width="4"/>
<rect x="782.8" y="1751.2" width="38.9" height="19.6" fill="#000" rx="1.5"/>
<line x1="821.7" y1="1761" x2="826.3" y2="1761" stroke="#000" stroke-width="3"/>
<line x1="826.3" y1="1757.4" x2="826.3" y2="1764.6" stroke="#000" stroke-width="3.8" stroke-linecap="round"/>
<line x1="769.3" y1="1761" x2="782.8" y2="1761" stroke="#000" stroke-width="4"/>
<rect x="782.8" y="1793.2" width="102.5" height="19.6" fill="#000" rx="1.5"/>
<line x1="885.3" y1="1803" x2="904.8" y2="1803" stroke="#000" stroke-width="3"/>
<line x1="904.8" y1="1799.4" x2="904.8" y2="1806.6" stroke="#000" stroke-width="3.8" stroke-linecap="round"/>
<line x1="769.3" y1="1803" x2="782.8" y2="1803" stroke="#000" stroke-width="4"/>
<rect x="782.8" y="1835.2" width="19.7" height="19.6" fill="#000" rx="1.5"/>
<rect x="800.5" y="1838" width="4.7" height="14" fill="#000" rx="3"/>
<line x1="769.3" y1="1845" x2="782.8" y2="1845" stroke="#000" stroke-width="4"/>
<rect x="782.8" y="1877.2" width="25.2" height="19.6" fill="#000" rx="1.5"/>
<line x1="808" y1="1887" x2="811" y2="1887" stroke="#000" stroke-width="3"/>
<line x1="811" y1="1883.4" x2="811" y2="1890.6" stroke="#000" stroke-width="3.8" stroke-linecap="round"/>
<line x1="769.3" y1="1887" x2="782.8" y2="1887" stroke="#000" stroke-width="4"/>
<rect x="782.8" y="1919.2" width="23.2" height="19.6" fill="#000" rx="1.5"/>
<rect x="804" y="1922" width="5.5" height="14" fill="#000" rx="3"/>
<line x1="769.3" y1="1929" x2="782.8" y2="1929" stroke="#000" stroke-width="4"/>
<rect x="782.8" y="1961.3" width="26.2" height="19.6" fill="#000" rx="1.5"/>
<line x1="809" y1="1971.1" x2="812" y2="1971.1" stroke="#000" stroke-width="3"/>
<line x1="812" y1="1967.5" x2="812" y2="1974.7" stroke="#000" stroke-width="3.8" stroke-linecap="round"/>
<line x1="769.3" y1="1971.1" x2="782.8" y2="1971.1" stroke="#000" stroke-width="4"/>
<rect x="782.8" y="2003.3" width="40.4" height="19.6" fill="#000" rx="1.5"/>
<line x1="823.2" y1="2013.1" x2="827.2" y2="2013.1" stroke="#000" stroke-width="3"/>
<line x1="827.2" y1="2009.5" x2="827.2" y2="2016.7" stroke="#000" stroke-width="3.8" stroke-linecap="round"/>
<line x1="769.3" y1="2013.1" x2="782.8" y2="2013.1" stroke="#000" stroke-width="4"/>
<rect x="782.8" y="2045.3" width="12.2" height="19.6" fill="#000" rx="1.5"/>
<rect x="793" y="2048.1" width="4" height="14" fill="#000" rx="3"/>
<line x1="769.3" y1="2055.1" x2="782.8" y2="2055.1" stroke="#000" stroke-width="4"/>
<rect x="782.8" y="2087.3" width="19.2" height="19.6" fill="#000" rx="1.5"/>
<rect x="800" y="2090.1" width="5" height="14" fill="#000" rx="3"/>
<line x1="769.3" y1="2097.1" x2="782.8" y2="2097.1" stroke="#000" stroke-width="4"/>
<rect x="782.8" y="2129.3" width="13.2" height="19.6" fill="#000" rx="1.5"/>
<rect x="794" y="2132.1" width="4.3" height="14" fill="#000" rx="3"/>
<line x1="769.3" y1="2139.1" x2="782.8" y2="2139.1" stroke="#000" stroke-width="4"/>
<line x1="782.8" y1="1615" x2="782.8" y2="2162" stroke="#000" stroke-width="4"/>
<line x1="780.8" y1="2160" x2="1146.7" y2="2160" stroke="#000" stroke-width="4"/>
<line x1="782.8" y1="2160" x2="782.8" y2="2172.5" stroke="#000" stroke-width="4"/>
<text transform="translate(783.3,2199.3) scale(0.9750,1)" font-size="30.2" text-anchor="middle">0</text>
<line x1="904.1" y1="2160" x2="904.1" y2="2172.5" stroke="#000" stroke-width="4"/>
<text transform="translate(904.6,2199.3) scale(0.9750,1)" font-size="30.2" text-anchor="middle">10</text>
<line x1="1025.4" y1="2160" x2="1025.4" y2="2172.5" stroke="#000" stroke-width="4"/>
<text transform="translate(1025.9,2199.3) scale(0.9750,1)" font-size="30.2" text-anchor="middle">20</text>
<line x1="1146.7" y1="2160" x2="1146.7" y2="2172.5" stroke="#000" stroke-width="4"/>
<text transform="translate(1147.2,2199.3) scale(0.9750,1)" font-size="30.2" text-anchor="middle">30</text>
<text transform="translate(922.2,2245.8) scale(0.9550,1)" font-size="41">nMFI</text>
<text transform="translate(934.1,1591.9) scale(0.9550,1)" font-size="41">L1</text>
<line x1="1201.7" y1="1614.6" x2="1201.7" y2="2158" stroke="#000" stroke-width="3.2" stroke-dasharray="0.01,9.95" stroke-linecap="round"/>
<rect x="1189.5" y="1625.1" width="23.5" height="19.6" fill="#000" rx="1.5"/>
<line x1="1213" y1="1634.9" x2="1216.9" y2="1634.9" stroke="#000" stroke-width="3"/>
<line x1="1216.9" y1="1631.3" x2="1216.9" y2="1638.5" stroke="#000" stroke-width="3.8" stroke-linecap="round"/>
<line x1="1176" y1="1634.9" x2="1189.5" y2="1634.9" stroke="#000" stroke-width="4"/>
<rect x="1189.5" y="1667.1" width="19" height="19.6" fill="#000" rx="1.5"/>
<rect x="1206.5" y="1669.9" width="4.4" height="14" fill="#000" rx="3"/>
<line x1="1176" y1="1676.9" x2="1189.5" y2="1676.9" stroke="#000" stroke-width="4"/>
<rect x="1189.5" y="1709.1" width="30.5" height="19.6" fill="#000" rx="1.5"/>
<line x1="1220" y1="1718.9" x2="1223" y2="1718.9" stroke="#000" stroke-width="3"/>
<line x1="1223" y1="1715.3" x2="1223" y2="1722.5" stroke="#000" stroke-width="3.8" stroke-linecap="round"/>
<line x1="1176" y1="1718.9" x2="1189.5" y2="1718.9" stroke="#000" stroke-width="4"/>
<rect x="1189.5" y="1751.2" width="41.1" height="19.6" fill="#000" rx="1.5"/>
<line x1="1230.6" y1="1761" x2="1238.6" y2="1761" stroke="#000" stroke-width="3"/>
<line x1="1238.6" y1="1757.4" x2="1238.6" y2="1764.6" stroke="#000" stroke-width="3.8" stroke-linecap="round"/>
<line x1="1176" y1="1761" x2="1189.5" y2="1761" stroke="#000" stroke-width="4"/>
<rect x="1189.5" y="1793.2" width="182.4" height="19.6" fill="#000" rx="1.5"/>
<line x1="1371.9" y1="1803" x2="1384.1" y2="1803" stroke="#000" stroke-width="3"/>
<line x1="1384.1" y1="1799.4" x2="1384.1" y2="1806.6" stroke="#000" stroke-width="3.8" stroke-linecap="round"/>
<line x1="1176" y1="1803" x2="1189.5" y2="1803" stroke="#000" stroke-width="4"/>
<rect x="1189.5" y="1835.2" width="17.5" height="19.6" fill="#000" rx="1.5"/>
<rect x="1205" y="1838" width="4.9" height="14" fill="#000" rx="3"/>
<line x1="1176" y1="1845" x2="1189.5" y2="1845" stroke="#000" stroke-width="4"/>
<rect x="1189.5" y="1877.2" width="35" height="19.6" fill="#000" rx="1.5"/>
<rect x="1222.5" y="1880" width="5.2" height="14" fill="#000" rx="3"/>
<line x1="1176" y1="1887" x2="1189.5" y2="1887" stroke="#000" stroke-width="4"/>
<rect x="1189.5" y="1919.2" width="41.1" height="19.6" fill="#000" rx="1.5"/>
<line x1="1230.6" y1="1929" x2="1236.9" y2="1929" stroke="#000" stroke-width="3"/>
<line x1="1236.9" y1="1925.4" x2="1236.9" y2="1932.6" stroke="#000" stroke-width="3.8" stroke-linecap="round"/>
<line x1="1176" y1="1929" x2="1189.5" y2="1929" stroke="#000" stroke-width="4"/>
<rect x="1189.5" y="1961.3" width="27.2" height="19.6" fill="#000" rx="1.5"/>
<line x1="1216.7" y1="1971.1" x2="1223.2" y2="1971.1" stroke="#000" stroke-width="3"/>
<line x1="1223.2" y1="1967.5" x2="1223.2" y2="1974.7" stroke="#000" stroke-width="3.8" stroke-linecap="round"/>
<line x1="1176" y1="1971.1" x2="1189.5" y2="1971.1" stroke="#000" stroke-width="4"/>
<rect x="1189.5" y="2003.3" width="79.1" height="19.6" fill="#000" rx="1.5"/>
<line x1="1268.6" y1="2013.1" x2="1302.3" y2="2013.1" stroke="#000" stroke-width="3"/>
<line x1="1302.3" y1="2009.5" x2="1302.3" y2="2016.7" stroke="#000" stroke-width="3.8" stroke-linecap="round"/>
<line x1="1176" y1="2013.1" x2="1189.5" y2="2013.1" stroke="#000" stroke-width="4"/>
<rect x="1189.5" y="2045.3" width="10.5" height="19.6" fill="#000" rx="1.5"/>
<rect x="1198" y="2048.1" width="4.6" height="14" fill="#000" rx="3"/>
<line x1="1176" y1="2055.1" x2="1189.5" y2="2055.1" stroke="#000" stroke-width="4"/>
<rect x="1189.5" y="2087.3" width="15.5" height="19.6" fill="#000" rx="1.5"/>
<rect x="1203" y="2090.1" width="4.9" height="14" fill="#000" rx="3"/>
<line x1="1176" y1="2097.1" x2="1189.5" y2="2097.1" stroke="#000" stroke-width="4"/>
<rect x="1189.5" y="2129.3" width="11.5" height="19.6" fill="#000" rx="1.5"/>
<rect x="1199" y="2132.1" width="4.7" height="14" fill="#000" rx="3"/>
<line x1="1176" y1="2139.1" x2="1189.5" y2="2139.1" stroke="#000" stroke-width="4"/>
<line x1="1189.5" y1="1615" x2="1189.5" y2="2162" stroke="#000" stroke-width="4"/>
<line x1="1187.5" y1="2160" x2="1555.2" y2="2160" stroke="#000" stroke-width="4"/>
<line x1="1189.5" y1="2160" x2="1189.5" y2="2172.5" stroke="#000" stroke-width="4"/>
<text transform="translate(1190,2199.3) scale(0.9750,1)" font-size="30.2" text-anchor="middle">0</text>
<line x1="1311.4" y1="2160" x2="1311.4" y2="2172.5" stroke="#000" stroke-width="4"/>
<text transform="translate(1311.9,2199.3) scale(0.9750,1)" font-size="30.2" text-anchor="middle">10</text>
<line x1="1433.3" y1="2160" x2="1433.3" y2="2172.5" stroke="#000" stroke-width="4"/>
<text transform="translate(1433.8,2199.3) scale(0.9750,1)" font-size="30.2" text-anchor="middle">20</text>
<line x1="1555.2" y1="2160" x2="1555.2" y2="2172.5" stroke="#000" stroke-width="4"/>
<text transform="translate(1555.7,2199.3) scale(0.9750,1)" font-size="30.2" text-anchor="middle">30</text>
<text transform="translate(1329.8,2245.8) scale(0.9550,1)" font-size="41">nMFI</text>
<text transform="translate(1343,1591.9) scale(0.9550,1)" font-size="41">L2</text>
</svg></body></html>
